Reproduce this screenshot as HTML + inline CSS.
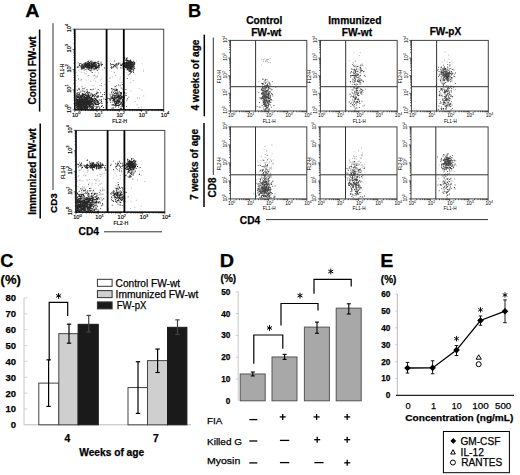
<!DOCTYPE html>
<html><head><meta charset="utf-8"><style>
html,body{margin:0;padding:0;background:#fff;width:520px;height:475px;overflow:hidden}
svg{display:block;font-family:"Liberation Sans",sans-serif}
</style></head><body>
<svg width="520" height="475" viewBox="0 0 520 475">
<rect width="520" height="475" fill="#fff"/>
<text x="25.3" y="16.6" font-size="18.2" font-weight="bold" text-anchor="start" fill="#000"  textLength="14.2" lengthAdjust="spacingAndGlyphs" stroke="#000" stroke-width="0.25">A</text>
<text transform="translate(35.6,70.5) rotate(-90)" font-size="10.0" font-weight="bold" text-anchor="middle" fill="#000"  stroke="#000" stroke-width="0.25">Control FW-wt</text>
<text transform="translate(35.6,171.6) rotate(-90)" font-size="10.2" font-weight="bold" text-anchor="middle" fill="#000"  stroke="#000" stroke-width="0.25">Immunized FW-wt</text>
<line x1="39.6" y1="29.5" x2="39.6" y2="111.6" stroke="#000" stroke-width="1.5" />
<line x1="40.2" y1="123.5" x2="40.2" y2="218.4" stroke="#000" stroke-width="1.5" />
<line x1="53" y1="23.2" x2="53" y2="190" stroke="#333" stroke-width="1.0" />
<text transform="translate(56.6,203.1) rotate(-90)" font-size="9.8" font-weight="bold" text-anchor="middle" fill="#000"  stroke="#000" stroke-width="0.25">CD3</text>
<text x="88.8" y="235.0" font-size="10.2" font-weight="bold" text-anchor="middle" fill="#000"  stroke="#000" stroke-width="0.25">CD4</text>
<line x1="104" y1="231.8" x2="162" y2="231.8" stroke="#333" stroke-width="1.0" />
<path d="M85.7 73.0h0.9v0.9h-0.9zM101.1 83.0h0.9v0.9h-0.9zM100.7 85.0h0.9v0.9h-0.9zM77.9 70.2h0.9v0.9h-0.9zM80.9 79.0h0.9v0.9h-0.9zM80.7 78.5h0.9v0.9h-0.9zM102.2 69.6h0.9v0.9h-0.9zM78.0 88.1h0.9v0.9h-0.9zM96.9 76.0h0.9v0.9h-0.9zM78.0 78.2h0.9v0.9h-0.9zM95.8 76.6h0.9v0.9h-0.9zM90.4 80.8h0.9v0.9h-0.9zM101.5 85.6h0.9v0.9h-0.9zM85.8 79.7h0.9v0.9h-0.9zM79.4 90.4h0.9v0.9h-0.9zM81.3 72.2h0.9v0.9h-0.9zM85.2 86.9h0.9v0.9h-0.9zM91.0 69.5h0.9v0.9h-0.9zM92.6 88.9h0.9v0.9h-0.9zM96.9 74.7h0.9v0.9h-0.9zM78.0 79.1h0.9v0.9h-0.9zM81.9 94.6h0.9v0.9h-0.9zM95.4 77.4h0.9v0.9h-0.9zM99.5 85.2h0.9v0.9h-0.9zM77.0 75.0h0.9v0.9h-0.9zM83.2 93.6h0.9v0.9h-0.9zM94.2 74.2h0.9v0.9h-0.9zM100.2 79.5h0.9v0.9h-0.9zM104.4 83.9h0.9v0.9h-0.9zM76.2 79.9h0.9v0.9h-0.9zM95.1 80.7h0.9v0.9h-0.9zM94.8 71.7h0.9v0.9h-0.9zM76.2 71.7h0.9v0.9h-0.9zM94.2 75.1h0.9v0.9h-0.9zM99.3 90.2h0.9v0.9h-0.9zM79.5 70.7h0.9v0.9h-0.9zM95.0 87.8h0.9v0.9h-0.9zM101.4 78.5h0.9v0.9h-0.9zM76.6 89.3h0.9v0.9h-0.9zM93.0 94.6h0.9v0.9h-0.9zM84.6 69.5h0.9v0.9h-0.9zM77.4 92.7h0.9v0.9h-0.9zM86.0 71.2h0.9v0.9h-0.9zM76.6 86.2h0.9v0.9h-0.9zM86.2 88.9h0.9v0.9h-0.9zM93.3 75.3h0.9v0.9h-0.9zM93.3 79.7h0.9v0.9h-0.9zM95.1 75.7h0.9v0.9h-0.9zM84.5 73.7h0.9v0.9h-0.9zM79.7 79.9h0.9v0.9h-0.9zM93.5 84.8h0.9v0.9h-0.9zM81.3 79.5h0.9v0.9h-0.9zM88.4 75.0h0.9v0.9h-0.9zM93.7 78.3h0.9v0.9h-0.9zM78.6 87.4h0.9v0.9h-0.9zM80.8 78.6h0.9v0.9h-0.9zM98.0 72.6h0.9v0.9h-0.9zM91.7 84.9h0.9v0.9h-0.9zM83.6 72.2h0.9v0.9h-0.9zM87.5 75.4h0.9v0.9h-0.9zM114.1 72.1h0.9v0.9h-0.9zM114.3 88.2h0.9v0.9h-0.9zM108.7 81.0h0.9v0.9h-0.9zM114.5 86.6h0.9v0.9h-0.9zM119.5 78.5h0.9v0.9h-0.9zM112.2 88.6h0.9v0.9h-0.9zM120.3 87.4h0.9v0.9h-0.9zM109.8 77.3h0.9v0.9h-0.9zM115.2 75.3h0.9v0.9h-0.9zM111.8 75.9h0.9v0.9h-0.9zM111.0 88.9h0.9v0.9h-0.9zM121.4 82.0h0.9v0.9h-0.9zM116.7 89.6h0.9v0.9h-0.9zM115.7 84.9h0.9v0.9h-0.9zM109.1 77.9h0.9v0.9h-0.9zM111.3 70.9h0.9v0.9h-0.9zM120.6 84.3h0.9v0.9h-0.9zM113.6 71.7h0.9v0.9h-0.9zM119.9 76.5h0.9v0.9h-0.9zM119.7 81.7h0.9v0.9h-0.9zM138.7 88.2h0.9v0.9h-0.9zM143.0 70.9h0.9v0.9h-0.9zM141.4 89.5h0.9v0.9h-0.9zM138.3 107.0h0.9v0.9h-0.9zM126.4 72.2h0.9v0.9h-0.9zM138.8 97.5h0.9v0.9h-0.9zM130.3 82.1h0.9v0.9h-0.9zM141.2 106.5h0.9v0.9h-0.9zM143.2 69.4h0.9v0.9h-0.9zM132.6 80.1h0.9v0.9h-0.9zM134.5 101.0h0.9v0.9h-0.9zM134.5 73.5h0.9v0.9h-0.9zM137.1 97.5h0.9v0.9h-0.9zM136.7 104.3h0.9v0.9h-0.9zM143.4 95.5h0.9v0.9h-0.9zM141.7 63.4h0.9v0.9h-0.9zM136.2 60.4h0.9v0.9h-0.9zM130.6 90.4h0.9v0.9h-0.9z" fill="#888" fill-opacity="0.7"/>
<path d="M89.7 67.8h0.9v0.9h-0.9zM96.2 64.2h0.9v0.9h-0.9zM87.9 64.2h0.9v0.9h-0.9zM92.6 65.1h0.9v0.9h-0.9zM93.6 61.7h0.9v0.9h-0.9zM98.1 65.0h0.9v0.9h-0.9zM93.2 64.9h0.9v0.9h-0.9zM87.4 66.1h0.9v0.9h-0.9zM94.0 64.8h0.9v0.9h-0.9zM88.7 66.5h0.9v0.9h-0.9zM84.7 62.3h0.9v0.9h-0.9zM91.7 63.9h0.9v0.9h-0.9zM78.9 63.7h0.9v0.9h-0.9zM86.9 62.9h0.9v0.9h-0.9zM81.3 65.3h0.9v0.9h-0.9zM94.4 64.8h0.9v0.9h-0.9zM85.4 65.9h0.9v0.9h-0.9zM93.4 64.6h0.9v0.9h-0.9zM92.5 67.2h0.9v0.9h-0.9zM88.4 63.7h0.9v0.9h-0.9zM91.4 65.7h0.9v0.9h-0.9zM95.5 62.8h0.9v0.9h-0.9zM85.9 63.6h0.9v0.9h-0.9zM80.0 65.4h0.9v0.9h-0.9zM92.4 63.8h0.9v0.9h-0.9zM97.1 66.8h0.9v0.9h-0.9zM93.0 66.0h0.9v0.9h-0.9zM94.8 62.7h0.9v0.9h-0.9zM92.9 66.3h0.9v0.9h-0.9zM79.8 65.9h0.9v0.9h-0.9zM88.1 66.7h0.9v0.9h-0.9zM87.1 65.2h0.9v0.9h-0.9zM91.4 63.5h0.9v0.9h-0.9zM92.8 65.0h0.9v0.9h-0.9zM92.2 64.2h0.9v0.9h-0.9zM95.5 66.3h0.9v0.9h-0.9zM88.5 66.4h0.9v0.9h-0.9zM96.4 68.6h0.9v0.9h-0.9zM80.8 66.9h0.9v0.9h-0.9zM92.1 65.0h0.9v0.9h-0.9zM84.0 67.6h0.9v0.9h-0.9zM82.6 66.3h0.9v0.9h-0.9zM96.7 62.2h0.9v0.9h-0.9zM87.8 62.7h0.9v0.9h-0.9zM90.8 68.1h0.9v0.9h-0.9zM100.6 61.8h0.9v0.9h-0.9zM86.3 66.5h0.9v0.9h-0.9zM98.2 66.0h0.9v0.9h-0.9zM85.4 65.8h0.9v0.9h-0.9zM89.4 64.8h0.9v0.9h-0.9zM85.5 65.9h0.9v0.9h-0.9zM91.2 65.0h0.9v0.9h-0.9zM88.3 62.8h0.9v0.9h-0.9zM86.8 67.5h0.9v0.9h-0.9zM88.5 62.5h0.9v0.9h-0.9zM96.8 66.2h0.9v0.9h-0.9zM101.1 65.3h0.9v0.9h-0.9zM87.0 62.4h0.9v0.9h-0.9zM96.8 70.1h0.9v0.9h-0.9zM85.0 64.0h0.9v0.9h-0.9zM92.8 63.6h0.9v0.9h-0.9zM88.0 64.5h0.9v0.9h-0.9zM90.6 67.3h0.9v0.9h-0.9zM89.6 66.9h0.9v0.9h-0.9zM87.2 65.8h0.9v0.9h-0.9zM77.7 62.4h0.9v0.9h-0.9zM93.9 64.1h0.9v0.9h-0.9zM92.7 66.2h0.9v0.9h-0.9zM96.8 66.7h0.9v0.9h-0.9zM95.1 65.0h0.9v0.9h-0.9zM85.7 63.8h0.9v0.9h-0.9zM86.8 63.1h0.9v0.9h-0.9zM86.5 65.0h0.9v0.9h-0.9zM90.9 64.6h0.9v0.9h-0.9zM78.9 65.1h0.9v0.9h-0.9zM90.7 67.3h0.9v0.9h-0.9zM92.7 64.0h0.9v0.9h-0.9zM85.5 69.0h0.9v0.9h-0.9zM93.7 68.7h0.9v0.9h-0.9zM101.2 63.6h0.9v0.9h-0.9zM91.6 66.1h0.9v0.9h-0.9zM92.6 66.2h0.9v0.9h-0.9zM90.6 65.5h0.9v0.9h-0.9zM81.2 64.9h0.9v0.9h-0.9zM85.4 65.4h0.9v0.9h-0.9zM86.9 66.4h0.9v0.9h-0.9zM94.0 65.8h0.9v0.9h-0.9zM91.2 65.4h0.9v0.9h-0.9zM87.0 64.9h0.9v0.9h-0.9zM86.8 65.9h0.9v0.9h-0.9zM89.6 66.3h0.9v0.9h-0.9zM82.2 66.9h0.9v0.9h-0.9zM85.3 63.8h0.9v0.9h-0.9zM88.4 64.1h0.9v0.9h-0.9zM91.1 64.1h0.9v0.9h-0.9zM83.6 63.6h0.9v0.9h-0.9zM96.7 65.3h0.9v0.9h-0.9zM83.1 65.2h0.9v0.9h-0.9zM80.9 68.6h0.9v0.9h-0.9zM81.1 66.1h0.9v0.9h-0.9zM92.5 62.4h0.9v0.9h-0.9zM91.2 67.1h0.9v0.9h-0.9zM92.1 65.7h0.9v0.9h-0.9zM94.7 65.5h0.9v0.9h-0.9zM91.4 65.0h0.9v0.9h-0.9zM93.0 63.4h0.9v0.9h-0.9zM93.9 64.2h0.9v0.9h-0.9zM83.5 65.9h0.9v0.9h-0.9zM98.8 67.0h0.9v0.9h-0.9zM86.7 66.5h0.9v0.9h-0.9zM87.0 65.0h0.9v0.9h-0.9zM90.0 60.8h0.9v0.9h-0.9zM90.6 63.2h0.9v0.9h-0.9zM85.7 62.4h0.9v0.9h-0.9zM81.2 63.4h0.9v0.9h-0.9zM94.0 68.4h0.9v0.9h-0.9zM89.4 67.3h0.9v0.9h-0.9zM88.0 61.6h0.9v0.9h-0.9zM90.3 66.0h0.9v0.9h-0.9zM87.1 65.8h0.9v0.9h-0.9zM92.6 63.6h0.9v0.9h-0.9zM81.4 64.8h0.9v0.9h-0.9zM88.3 64.5h0.9v0.9h-0.9zM94.9 68.5h0.9v0.9h-0.9zM87.2 66.5h0.9v0.9h-0.9zM94.7 66.6h0.9v0.9h-0.9zM95.3 64.5h0.9v0.9h-0.9zM93.6 69.0h0.9v0.9h-0.9zM93.9 64.0h0.9v0.9h-0.9zM92.8 67.6h0.9v0.9h-0.9zM91.5 64.1h0.9v0.9h-0.9zM98.0 62.8h0.9v0.9h-0.9zM92.3 65.2h0.9v0.9h-0.9zM82.9 67.5h0.9v0.9h-0.9zM91.4 63.0h0.9v0.9h-0.9zM92.8 64.4h0.9v0.9h-0.9zM79.0 63.9h0.9v0.9h-0.9zM90.9 66.4h0.9v0.9h-0.9zM90.4 65.3h0.9v0.9h-0.9zM92.1 64.8h0.9v0.9h-0.9zM96.0 65.5h0.9v0.9h-0.9zM91.1 66.2h0.9v0.9h-0.9zM83.7 63.9h0.9v0.9h-0.9zM97.9 65.8h0.9v0.9h-0.9zM87.9 65.8h0.9v0.9h-0.9zM86.9 65.7h0.9v0.9h-0.9zM85.8 65.7h0.9v0.9h-0.9zM80.8 67.7h0.9v0.9h-0.9zM86.7 62.2h0.9v0.9h-0.9zM88.3 64.5h0.9v0.9h-0.9zM90.3 63.0h0.9v0.9h-0.9zM91.7 72.1h0.9v0.9h-0.9zM82.5 65.8h0.9v0.9h-0.9zM87.8 65.6h0.9v0.9h-0.9zM79.5 63.0h0.9v0.9h-0.9zM92.0 65.1h0.9v0.9h-0.9zM98.5 63.9h0.9v0.9h-0.9zM90.5 70.7h0.9v0.9h-0.9zM85.3 63.5h0.9v0.9h-0.9zM89.3 65.1h0.9v0.9h-0.9zM94.1 65.4h0.9v0.9h-0.9zM85.3 65.6h0.9v0.9h-0.9zM104.0 67.6h0.9v0.9h-0.9zM84.7 66.4h0.9v0.9h-0.9zM88.5 68.9h0.9v0.9h-0.9zM94.6 66.9h0.9v0.9h-0.9zM90.5 65.1h0.9v0.9h-0.9zM91.4 67.7h0.9v0.9h-0.9zM92.4 64.5h0.9v0.9h-0.9zM96.5 65.6h0.9v0.9h-0.9zM89.1 63.7h0.9v0.9h-0.9zM86.4 64.0h0.9v0.9h-0.9zM92.6 64.8h0.9v0.9h-0.9zM95.3 66.0h0.9v0.9h-0.9zM91.5 60.5h0.9v0.9h-0.9zM88.2 66.2h0.9v0.9h-0.9zM98.4 68.7h0.9v0.9h-0.9zM97.3 63.0h0.9v0.9h-0.9zM77.4 66.3h0.9v0.9h-0.9zM89.7 67.0h0.9v0.9h-0.9zM88.8 65.6h0.9v0.9h-0.9zM81.3 66.1h0.9v0.9h-0.9zM87.1 65.9h0.9v0.9h-0.9zM92.0 65.0h0.9v0.9h-0.9zM91.2 65.2h0.9v0.9h-0.9zM93.7 66.2h0.9v0.9h-0.9zM86.5 64.1h0.9v0.9h-0.9zM99.1 65.0h0.9v0.9h-0.9zM95.0 65.9h0.9v0.9h-0.9zM86.4 63.8h0.9v0.9h-0.9zM90.2 65.7h0.9v0.9h-0.9zM92.9 62.8h0.9v0.9h-0.9zM86.2 65.0h0.9v0.9h-0.9zM98.3 60.7h0.9v0.9h-0.9zM91.9 64.2h0.9v0.9h-0.9zM91.9 64.3h0.9v0.9h-0.9zM91.5 68.2h0.9v0.9h-0.9zM91.4 66.0h0.9v0.9h-0.9zM91.6 63.8h0.9v0.9h-0.9zM92.5 64.8h0.9v0.9h-0.9zM85.0 65.1h0.9v0.9h-0.9zM88.2 66.6h0.9v0.9h-0.9zM89.3 64.2h0.9v0.9h-0.9zM97.5 67.1h0.9v0.9h-0.9zM96.5 66.4h0.9v0.9h-0.9zM88.9 64.4h0.9v0.9h-0.9zM88.0 67.0h0.9v0.9h-0.9zM90.1 62.4h0.9v0.9h-0.9zM89.3 62.5h0.9v0.9h-0.9zM90.4 62.9h0.9v0.9h-0.9zM82.5 65.4h0.9v0.9h-0.9zM89.1 62.0h0.9v0.9h-0.9zM93.6 69.3h0.9v0.9h-0.9zM81.4 68.7h0.9v0.9h-0.9zM85.7 64.3h0.9v0.9h-0.9zM88.5 62.5h0.9v0.9h-0.9zM96.6 66.1h0.9v0.9h-0.9zM85.4 64.7h0.9v0.9h-0.9zM81.2 64.5h0.9v0.9h-0.9zM94.6 61.9h0.9v0.9h-0.9zM87.1 65.5h0.9v0.9h-0.9zM95.3 67.8h0.9v0.9h-0.9zM87.0 63.8h0.9v0.9h-0.9zM92.0 64.5h0.9v0.9h-0.9zM87.8 67.3h0.9v0.9h-0.9zM98.8 65.7h0.9v0.9h-0.9zM88.4 66.3h0.9v0.9h-0.9zM79.1 65.2h0.9v0.9h-0.9zM83.7 69.7h0.9v0.9h-0.9zM93.5 65.5h0.9v0.9h-0.9zM88.4 60.4h0.9v0.9h-0.9zM93.4 68.3h0.9v0.9h-0.9zM85.5 66.5h0.9v0.9h-0.9zM93.5 62.3h0.9v0.9h-0.9zM94.6 67.8h0.9v0.9h-0.9zM90.8 65.1h0.9v0.9h-0.9zM93.8 62.3h0.9v0.9h-0.9zM90.0 67.2h0.9v0.9h-0.9zM82.7 67.1h0.9v0.9h-0.9zM87.2 61.2h0.9v0.9h-0.9zM88.9 63.4h0.9v0.9h-0.9zM91.3 63.0h0.9v0.9h-0.9zM95.3 63.8h0.9v0.9h-0.9zM91.5 64.1h0.9v0.9h-0.9zM87.7 67.5h0.9v0.9h-0.9zM90.7 64.4h0.9v0.9h-0.9zM82.6 67.4h0.9v0.9h-0.9zM93.5 64.6h0.9v0.9h-0.9zM90.8 63.2h0.9v0.9h-0.9zM83.9 63.6h0.9v0.9h-0.9zM91.4 65.8h0.9v0.9h-0.9zM85.4 66.6h0.9v0.9h-0.9zM93.8 65.5h0.9v0.9h-0.9zM95.2 64.7h0.9v0.9h-0.9zM88.9 66.1h0.9v0.9h-0.9zM89.3 66.7h0.9v0.9h-0.9zM82.6 67.9h0.9v0.9h-0.9zM85.2 64.9h0.9v0.9h-0.9zM81.9 66.3h0.9v0.9h-0.9zM96.5 67.2h0.9v0.9h-0.9zM94.1 62.2h0.9v0.9h-0.9zM85.2 64.3h0.9v0.9h-0.9zM84.4 67.3h0.9v0.9h-0.9zM90.5 65.2h0.9v0.9h-0.9zM92.2 63.4h0.9v0.9h-0.9zM84.5 63.5h0.9v0.9h-0.9zM92.2 65.8h0.9v0.9h-0.9zM92.7 67.2h0.9v0.9h-0.9zM82.0 64.1h0.9v0.9h-0.9zM90.3 62.6h0.9v0.9h-0.9zM86.6 67.1h0.9v0.9h-0.9zM95.6 67.2h0.9v0.9h-0.9zM89.7 64.8h0.9v0.9h-0.9zM95.4 64.5h0.9v0.9h-0.9zM91.4 67.7h0.9v0.9h-0.9zM87.5 64.0h0.9v0.9h-0.9zM89.4 66.3h0.9v0.9h-0.9zM92.2 65.5h0.9v0.9h-0.9zM92.6 62.2h0.9v0.9h-0.9zM84.8 65.5h0.9v0.9h-0.9zM84.4 62.7h0.9v0.9h-0.9zM82.9 63.5h0.9v0.9h-0.9zM88.5 63.3h0.9v0.9h-0.9zM90.8 68.4h0.9v0.9h-0.9zM88.7 67.6h0.9v0.9h-0.9zM91.1 63.1h0.9v0.9h-0.9zM88.1 63.3h0.9v0.9h-0.9zM93.7 63.0h0.9v0.9h-0.9zM96.8 66.3h0.9v0.9h-0.9zM78.4 66.7h0.9v0.9h-0.9zM98.0 63.7h0.9v0.9h-0.9zM94.9 61.8h0.9v0.9h-0.9zM90.9 62.0h0.9v0.9h-0.9zM92.2 61.8h0.9v0.9h-0.9zM102.1 64.1h0.9v0.9h-0.9zM94.1 65.4h0.9v0.9h-0.9zM87.7 66.4h0.9v0.9h-0.9zM98.5 62.9h0.9v0.9h-0.9zM92.6 65.9h0.9v0.9h-0.9zM81.7 68.3h0.9v0.9h-0.9zM100.2 63.4h0.9v0.9h-0.9zM99.1 65.3h0.9v0.9h-0.9zM88.6 68.1h0.9v0.9h-0.9zM90.8 65.8h0.9v0.9h-0.9zM97.8 67.6h0.9v0.9h-0.9zM94.4 62.5h0.9v0.9h-0.9zM80.9 67.3h0.9v0.9h-0.9zM84.4 65.5h0.9v0.9h-0.9zM83.6 64.9h0.9v0.9h-0.9zM82.5 68.3h0.9v0.9h-0.9zM83.9 65.0h0.9v0.9h-0.9zM88.5 67.5h0.9v0.9h-0.9zM81.7 65.1h0.9v0.9h-0.9zM88.3 66.2h0.9v0.9h-0.9zM92.1 64.3h0.9v0.9h-0.9zM90.8 64.5h0.9v0.9h-0.9zM92.1 65.0h0.9v0.9h-0.9zM85.9 65.1h0.9v0.9h-0.9zM91.5 69.5h0.9v0.9h-0.9zM86.8 65.8h0.9v0.9h-0.9zM97.5 61.3h0.9v0.9h-0.9zM79.9 62.9h0.9v0.9h-0.9zM88.9 69.8h0.9v0.9h-0.9zM91.7 67.5h0.9v0.9h-0.9zM88.3 60.5h0.9v0.9h-0.9zM76.8 67.1h0.9v0.9h-0.9zM90.5 62.7h0.9v0.9h-0.9zM95.6 62.3h0.9v0.9h-0.9zM95.7 68.0h0.9v0.9h-0.9zM85.3 63.1h0.9v0.9h-0.9zM94.1 63.1h0.9v0.9h-0.9zM94.2 62.9h0.9v0.9h-0.9zM93.9 65.4h0.9v0.9h-0.9zM87.1 63.5h0.9v0.9h-0.9zM90.8 61.6h0.9v0.9h-0.9zM88.0 64.4h0.9v0.9h-0.9zM93.2 62.8h0.9v0.9h-0.9zM98.9 64.6h0.9v0.9h-0.9zM83.2 67.8h0.9v0.9h-0.9zM98.6 64.8h0.9v0.9h-0.9zM84.6 65.2h0.9v0.9h-0.9zM85.7 64.6h0.9v0.9h-0.9zM98.1 65.9h0.9v0.9h-0.9zM90.3 65.9h0.9v0.9h-0.9zM89.2 66.8h0.9v0.9h-0.9zM94.3 64.5h0.9v0.9h-0.9zM90.1 69.8h0.9v0.9h-0.9zM91.8 64.8h0.9v0.9h-0.9zM100.8 65.2h0.9v0.9h-0.9zM83.5 66.5h0.9v0.9h-0.9zM84.6 64.3h0.9v0.9h-0.9zM91.3 65.0h0.9v0.9h-0.9zM85.3 64.2h0.9v0.9h-0.9zM86.2 67.4h0.9v0.9h-0.9zM85.5 64.1h0.9v0.9h-0.9zM100.7 64.1h0.9v0.9h-0.9zM97.7 67.7h0.9v0.9h-0.9zM88.7 62.5h0.9v0.9h-0.9zM92.0 66.5h0.9v0.9h-0.9zM94.8 65.3h0.9v0.9h-0.9zM96.1 67.8h0.9v0.9h-0.9zM83.7 67.9h0.9v0.9h-0.9zM90.5 64.1h0.9v0.9h-0.9zM87.7 68.8h0.9v0.9h-0.9zM94.9 61.8h0.9v0.9h-0.9zM90.0 64.9h0.9v0.9h-0.9zM88.5 64.2h0.9v0.9h-0.9zM81.5 66.8h0.9v0.9h-0.9zM84.3 64.5h0.9v0.9h-0.9zM86.2 63.8h0.9v0.9h-0.9zM93.6 65.9h0.9v0.9h-0.9zM85.8 63.4h0.9v0.9h-0.9zM86.9 67.0h0.9v0.9h-0.9zM90.2 65.6h0.9v0.9h-0.9zM87.7 64.7h0.9v0.9h-0.9zM90.7 61.7h0.9v0.9h-0.9zM98.4 63.7h0.9v0.9h-0.9zM86.4 67.7h0.9v0.9h-0.9zM90.7 65.3h0.9v0.9h-0.9zM86.3 62.2h0.9v0.9h-0.9zM129.0 67.1h0.9v0.9h-0.9zM126.5 67.5h0.9v0.9h-0.9zM126.0 62.7h0.9v0.9h-0.9zM129.8 64.4h0.9v0.9h-0.9zM130.2 62.7h0.9v0.9h-0.9zM126.2 60.1h0.9v0.9h-0.9zM125.8 61.9h0.9v0.9h-0.9zM125.3 65.1h0.9v0.9h-0.9zM127.1 59.8h0.9v0.9h-0.9zM134.3 62.5h0.9v0.9h-0.9zM125.7 67.3h0.9v0.9h-0.9zM131.3 61.8h0.9v0.9h-0.9zM125.2 62.1h0.9v0.9h-0.9zM131.2 63.7h0.9v0.9h-0.9zM126.7 64.3h0.9v0.9h-0.9zM131.4 61.2h0.9v0.9h-0.9zM127.7 61.2h0.9v0.9h-0.9zM133.6 68.6h0.9v0.9h-0.9zM130.8 64.1h0.9v0.9h-0.9zM130.1 59.6h0.9v0.9h-0.9zM129.2 61.3h0.9v0.9h-0.9zM125.6 62.8h0.9v0.9h-0.9zM127.8 65.7h0.9v0.9h-0.9zM130.2 65.0h0.9v0.9h-0.9zM126.4 66.0h0.9v0.9h-0.9zM128.3 67.1h0.9v0.9h-0.9zM126.5 58.0h0.9v0.9h-0.9zM127.5 69.3h0.9v0.9h-0.9zM129.7 64.0h0.9v0.9h-0.9zM130.6 65.6h0.9v0.9h-0.9zM129.7 63.2h0.9v0.9h-0.9zM128.8 64.9h0.9v0.9h-0.9zM127.1 61.8h0.9v0.9h-0.9zM128.9 66.6h0.9v0.9h-0.9zM130.1 65.5h0.9v0.9h-0.9zM129.8 70.3h0.9v0.9h-0.9zM129.2 66.8h0.9v0.9h-0.9zM133.1 64.5h0.9v0.9h-0.9zM129.2 66.8h0.9v0.9h-0.9zM132.5 65.1h0.9v0.9h-0.9zM129.4 64.6h0.9v0.9h-0.9zM125.8 67.0h0.9v0.9h-0.9zM128.0 60.4h0.9v0.9h-0.9zM128.3 60.4h0.9v0.9h-0.9zM126.3 64.4h0.9v0.9h-0.9zM126.5 66.9h0.9v0.9h-0.9zM125.2 65.0h0.9v0.9h-0.9zM129.9 67.8h0.9v0.9h-0.9zM130.7 65.0h0.9v0.9h-0.9zM128.8 64.3h0.9v0.9h-0.9zM131.2 62.9h0.9v0.9h-0.9zM129.8 64.2h0.9v0.9h-0.9zM129.2 63.8h0.9v0.9h-0.9zM133.5 62.9h0.9v0.9h-0.9zM129.2 65.1h0.9v0.9h-0.9zM130.0 65.5h0.9v0.9h-0.9zM129.6 66.7h0.9v0.9h-0.9zM125.2 64.4h0.9v0.9h-0.9zM125.8 65.0h0.9v0.9h-0.9zM125.9 62.2h0.9v0.9h-0.9zM128.5 67.6h0.9v0.9h-0.9zM130.0 65.1h0.9v0.9h-0.9zM131.9 62.3h0.9v0.9h-0.9zM123.8 63.5h0.9v0.9h-0.9zM128.0 67.3h0.9v0.9h-0.9zM133.6 61.4h0.9v0.9h-0.9zM134.3 68.0h0.9v0.9h-0.9zM130.6 65.3h0.9v0.9h-0.9zM134.2 64.6h0.9v0.9h-0.9zM127.5 64.8h0.9v0.9h-0.9zM125.5 65.5h0.9v0.9h-0.9zM128.4 65.2h0.9v0.9h-0.9zM129.5 62.0h0.9v0.9h-0.9zM131.7 62.1h0.9v0.9h-0.9zM130.7 60.8h0.9v0.9h-0.9zM129.5 62.5h0.9v0.9h-0.9zM128.7 62.9h0.9v0.9h-0.9zM123.6 61.9h0.9v0.9h-0.9zM128.8 65.9h0.9v0.9h-0.9zM125.3 59.5h0.9v0.9h-0.9zM126.6 63.9h0.9v0.9h-0.9zM127.2 62.6h0.9v0.9h-0.9zM130.6 66.7h0.9v0.9h-0.9zM130.3 62.3h0.9v0.9h-0.9zM128.8 64.0h0.9v0.9h-0.9zM125.4 66.5h0.9v0.9h-0.9zM128.8 63.3h0.9v0.9h-0.9zM131.9 66.2h0.9v0.9h-0.9zM130.6 67.2h0.9v0.9h-0.9zM130.3 61.5h0.9v0.9h-0.9zM127.7 66.7h0.9v0.9h-0.9zM126.9 64.5h0.9v0.9h-0.9zM129.5 67.7h0.9v0.9h-0.9zM131.6 66.5h0.9v0.9h-0.9zM128.2 66.5h0.9v0.9h-0.9zM129.8 64.1h0.9v0.9h-0.9zM131.8 65.6h0.9v0.9h-0.9zM126.9 67.3h0.9v0.9h-0.9zM128.0 65.8h0.9v0.9h-0.9zM125.1 64.4h0.9v0.9h-0.9zM126.5 62.2h0.9v0.9h-0.9zM124.2 69.4h0.9v0.9h-0.9zM128.3 65.0h0.9v0.9h-0.9zM131.2 64.1h0.9v0.9h-0.9zM129.8 61.3h0.9v0.9h-0.9zM129.1 63.5h0.9v0.9h-0.9zM129.8 64.8h0.9v0.9h-0.9zM125.4 60.2h0.9v0.9h-0.9zM126.3 66.1h0.9v0.9h-0.9zM129.6 65.3h0.9v0.9h-0.9zM124.0 58.2h0.9v0.9h-0.9zM127.2 63.7h0.9v0.9h-0.9zM127.2 65.2h0.9v0.9h-0.9zM128.2 61.7h0.9v0.9h-0.9zM126.6 64.7h0.9v0.9h-0.9zM128.8 64.2h0.9v0.9h-0.9zM133.8 63.8h0.9v0.9h-0.9zM128.9 62.1h0.9v0.9h-0.9zM127.8 65.6h0.9v0.9h-0.9zM129.9 64.0h0.9v0.9h-0.9zM129.5 64.5h0.9v0.9h-0.9zM124.3 56.9h0.9v0.9h-0.9zM133.9 66.3h0.9v0.9h-0.9zM128.5 60.4h0.9v0.9h-0.9zM125.7 67.5h0.9v0.9h-0.9zM122.2 63.7h0.9v0.9h-0.9zM130.6 64.7h0.9v0.9h-0.9zM130.3 64.1h0.9v0.9h-0.9zM134.1 62.0h0.9v0.9h-0.9zM125.5 65.0h0.9v0.9h-0.9zM131.9 64.3h0.9v0.9h-0.9zM131.0 63.2h0.9v0.9h-0.9zM125.9 67.6h0.9v0.9h-0.9zM132.2 67.9h0.9v0.9h-0.9zM127.6 61.7h0.9v0.9h-0.9zM125.9 63.9h0.9v0.9h-0.9zM129.9 65.6h0.9v0.9h-0.9zM125.3 64.8h0.9v0.9h-0.9zM128.6 64.6h0.9v0.9h-0.9zM128.5 63.9h0.9v0.9h-0.9zM130.0 64.7h0.9v0.9h-0.9zM129.1 62.8h0.9v0.9h-0.9zM129.5 64.1h0.9v0.9h-0.9zM123.7 65.5h0.9v0.9h-0.9zM128.0 66.5h0.9v0.9h-0.9zM128.2 64.2h0.9v0.9h-0.9zM129.1 64.4h0.9v0.9h-0.9zM127.6 60.3h0.9v0.9h-0.9zM132.8 60.8h0.9v0.9h-0.9zM127.8 65.9h0.9v0.9h-0.9zM129.5 65.7h0.9v0.9h-0.9zM130.4 67.3h0.9v0.9h-0.9zM129.3 71.1h0.9v0.9h-0.9zM126.3 64.9h0.9v0.9h-0.9zM127.8 63.1h0.9v0.9h-0.9zM129.3 67.8h0.9v0.9h-0.9zM127.0 62.8h0.9v0.9h-0.9zM130.3 65.7h0.9v0.9h-0.9zM133.1 66.8h0.9v0.9h-0.9zM129.1 63.6h0.9v0.9h-0.9zM129.1 64.0h0.9v0.9h-0.9zM125.5 64.4h0.9v0.9h-0.9zM128.2 63.9h0.9v0.9h-0.9zM127.6 68.3h0.9v0.9h-0.9zM130.2 66.6h0.9v0.9h-0.9zM127.2 62.0h0.9v0.9h-0.9zM127.9 65.0h0.9v0.9h-0.9zM127.8 64.0h0.9v0.9h-0.9zM130.8 65.1h0.9v0.9h-0.9zM126.3 63.4h0.9v0.9h-0.9zM127.1 64.8h0.9v0.9h-0.9zM125.9 64.0h0.9v0.9h-0.9zM130.2 64.5h0.9v0.9h-0.9zM126.5 63.0h0.9v0.9h-0.9zM128.9 65.5h0.9v0.9h-0.9zM130.5 64.1h0.9v0.9h-0.9zM125.6 67.7h0.9v0.9h-0.9zM129.3 65.3h0.9v0.9h-0.9zM129.3 62.0h0.9v0.9h-0.9zM127.9 65.0h0.9v0.9h-0.9zM131.0 64.5h0.9v0.9h-0.9zM121.4 63.8h0.9v0.9h-0.9zM129.4 67.4h0.9v0.9h-0.9zM130.2 70.1h0.9v0.9h-0.9zM131.9 67.5h0.9v0.9h-0.9zM130.8 61.2h0.9v0.9h-0.9zM130.5 65.8h0.9v0.9h-0.9zM127.4 65.7h0.9v0.9h-0.9zM129.6 63.3h0.9v0.9h-0.9zM128.3 63.8h0.9v0.9h-0.9zM129.1 63.4h0.9v0.9h-0.9zM129.9 60.0h0.9v0.9h-0.9zM128.0 60.5h0.9v0.9h-0.9zM127.5 65.6h0.9v0.9h-0.9zM128.6 64.1h0.9v0.9h-0.9zM128.8 68.0h0.9v0.9h-0.9zM126.1 66.4h0.9v0.9h-0.9zM125.1 63.3h0.9v0.9h-0.9zM129.0 62.4h0.9v0.9h-0.9zM129.1 66.1h0.9v0.9h-0.9zM125.9 64.2h0.9v0.9h-0.9zM127.7 59.9h0.9v0.9h-0.9zM128.2 62.6h0.9v0.9h-0.9zM131.7 62.4h0.9v0.9h-0.9zM132.5 63.2h0.9v0.9h-0.9zM133.1 65.6h0.9v0.9h-0.9zM129.6 66.3h0.9v0.9h-0.9zM130.7 67.6h0.9v0.9h-0.9zM132.6 63.6h0.9v0.9h-0.9zM125.7 58.3h0.9v0.9h-0.9zM127.7 66.1h0.9v0.9h-0.9zM129.5 64.7h0.9v0.9h-0.9zM127.8 62.9h0.9v0.9h-0.9zM127.9 65.3h0.9v0.9h-0.9zM124.5 66.1h0.9v0.9h-0.9zM125.2 64.0h0.9v0.9h-0.9zM127.1 63.6h0.9v0.9h-0.9zM126.2 61.7h0.9v0.9h-0.9zM128.1 61.9h0.9v0.9h-0.9zM134.2 63.4h0.9v0.9h-0.9zM127.1 63.1h0.9v0.9h-0.9zM126.1 58.7h0.9v0.9h-0.9zM128.0 65.1h0.9v0.9h-0.9zM125.1 64.4h0.9v0.9h-0.9zM125.8 64.3h0.9v0.9h-0.9zM129.4 65.5h0.9v0.9h-0.9zM129.6 62.8h0.9v0.9h-0.9zM130.6 63.4h0.9v0.9h-0.9zM129.4 66.0h0.9v0.9h-0.9zM127.9 61.4h0.9v0.9h-0.9zM130.0 61.8h0.9v0.9h-0.9zM126.5 61.8h0.9v0.9h-0.9zM130.5 64.0h0.9v0.9h-0.9zM123.4 66.1h0.9v0.9h-0.9zM133.3 68.5h0.9v0.9h-0.9zM127.3 64.6h0.9v0.9h-0.9zM129.7 66.4h0.9v0.9h-0.9zM128.7 61.9h0.9v0.9h-0.9zM130.3 65.8h0.9v0.9h-0.9zM125.5 63.5h0.9v0.9h-0.9zM129.2 64.4h0.9v0.9h-0.9zM129.8 66.2h0.9v0.9h-0.9zM129.8 64.1h0.9v0.9h-0.9zM125.5 65.8h0.9v0.9h-0.9zM131.8 68.9h0.9v0.9h-0.9zM128.5 64.3h0.9v0.9h-0.9zM131.9 67.7h0.9v0.9h-0.9zM129.4 66.0h0.9v0.9h-0.9zM126.8 65.7h0.9v0.9h-0.9zM126.7 64.0h0.9v0.9h-0.9zM128.3 63.3h0.9v0.9h-0.9zM123.7 62.5h0.9v0.9h-0.9zM129.3 64.2h0.9v0.9h-0.9zM127.7 65.4h0.9v0.9h-0.9zM130.2 66.3h0.9v0.9h-0.9zM126.7 64.4h0.9v0.9h-0.9zM127.8 62.3h0.9v0.9h-0.9zM125.1 64.1h0.9v0.9h-0.9zM126.6 69.3h0.9v0.9h-0.9zM128.3 63.8h0.9v0.9h-0.9zM127.6 68.7h0.9v0.9h-0.9zM126.4 64.0h0.9v0.9h-0.9zM126.8 64.1h0.9v0.9h-0.9zM128.5 66.9h0.9v0.9h-0.9zM125.3 64.3h0.9v0.9h-0.9zM132.3 63.2h0.9v0.9h-0.9zM128.2 62.3h0.9v0.9h-0.9zM122.5 64.1h0.9v0.9h-0.9zM131.3 63.3h0.9v0.9h-0.9zM124.3 65.0h0.9v0.9h-0.9zM128.7 66.7h0.9v0.9h-0.9zM130.7 63.7h0.9v0.9h-0.9zM129.5 60.2h0.9v0.9h-0.9zM131.1 64.8h0.9v0.9h-0.9zM131.1 66.8h0.9v0.9h-0.9zM127.9 64.0h0.9v0.9h-0.9zM126.5 59.6h0.9v0.9h-0.9zM128.3 64.7h0.9v0.9h-0.9zM126.1 66.0h0.9v0.9h-0.9zM128.8 65.4h0.9v0.9h-0.9zM126.8 60.3h0.9v0.9h-0.9zM130.4 65.8h0.9v0.9h-0.9zM128.3 63.4h0.9v0.9h-0.9zM127.9 64.0h0.9v0.9h-0.9zM127.4 59.7h0.9v0.9h-0.9zM130.4 60.9h0.9v0.9h-0.9zM127.8 63.7h0.9v0.9h-0.9zM129.2 60.7h0.9v0.9h-0.9zM131.3 65.9h0.9v0.9h-0.9zM130.3 67.3h0.9v0.9h-0.9zM126.7 57.2h0.9v0.9h-0.9zM129.3 67.4h0.9v0.9h-0.9zM131.2 63.1h0.9v0.9h-0.9zM128.4 65.0h0.9v0.9h-0.9zM124.4 62.8h0.9v0.9h-0.9zM127.1 68.0h0.9v0.9h-0.9zM127.1 68.0h0.9v0.9h-0.9zM128.6 60.5h0.9v0.9h-0.9zM133.7 62.2h0.9v0.9h-0.9zM130.0 68.3h0.9v0.9h-0.9zM127.4 61.6h0.9v0.9h-0.9zM131.0 64.6h0.9v0.9h-0.9zM125.8 61.9h0.9v0.9h-0.9zM127.7 66.6h0.9v0.9h-0.9zM127.9 65.9h0.9v0.9h-0.9zM132.4 67.3h0.9v0.9h-0.9zM131.9 67.2h0.9v0.9h-0.9zM124.9 67.2h0.9v0.9h-0.9zM129.4 64.1h0.9v0.9h-0.9zM126.1 60.7h0.9v0.9h-0.9zM126.0 64.4h0.9v0.9h-0.9zM125.9 62.5h0.9v0.9h-0.9zM127.2 65.9h0.9v0.9h-0.9zM127.9 64.1h0.9v0.9h-0.9zM131.7 63.7h0.9v0.9h-0.9zM130.0 62.0h0.9v0.9h-0.9zM129.4 64.7h0.9v0.9h-0.9zM129.0 63.3h0.9v0.9h-0.9zM126.2 63.7h0.9v0.9h-0.9zM127.5 66.8h0.9v0.9h-0.9zM130.7 61.6h0.9v0.9h-0.9zM130.0 63.3h0.9v0.9h-0.9zM129.7 63.3h0.9v0.9h-0.9zM125.2 66.7h0.9v0.9h-0.9zM129.6 61.6h0.9v0.9h-0.9zM124.2 63.2h0.9v0.9h-0.9zM125.9 63.6h0.9v0.9h-0.9zM130.0 67.8h0.9v0.9h-0.9zM127.8 67.6h0.9v0.9h-0.9zM131.3 63.4h0.9v0.9h-0.9zM124.8 66.4h0.9v0.9h-0.9zM130.0 69.8h0.9v0.9h-0.9zM131.9 66.2h0.9v0.9h-0.9zM132.5 62.0h0.9v0.9h-0.9zM129.1 63.8h0.9v0.9h-0.9zM132.6 65.7h0.9v0.9h-0.9zM121.6 67.6h0.9v0.9h-0.9zM126.5 66.2h0.9v0.9h-0.9zM127.5 65.0h0.9v0.9h-0.9zM130.1 64.9h0.9v0.9h-0.9zM126.4 67.6h0.9v0.9h-0.9zM129.5 64.4h0.9v0.9h-0.9zM130.3 63.2h0.9v0.9h-0.9zM133.0 65.0h0.9v0.9h-0.9zM129.5 65.2h0.9v0.9h-0.9zM126.5 61.7h0.9v0.9h-0.9zM129.1 65.3h0.9v0.9h-0.9zM131.7 65.5h0.9v0.9h-0.9zM126.1 65.7h0.9v0.9h-0.9zM130.5 66.8h0.9v0.9h-0.9zM129.4 61.6h0.9v0.9h-0.9zM131.3 62.8h0.9v0.9h-0.9zM130.0 60.8h0.9v0.9h-0.9zM130.4 62.6h0.9v0.9h-0.9zM131.1 68.5h0.9v0.9h-0.9zM131.3 61.8h0.9v0.9h-0.9zM126.5 62.4h0.9v0.9h-0.9zM130.2 65.2h0.9v0.9h-0.9zM129.0 65.2h0.9v0.9h-0.9zM130.0 65.9h0.9v0.9h-0.9zM132.5 64.3h0.9v0.9h-0.9zM129.1 60.2h0.9v0.9h-0.9zM125.6 62.8h0.9v0.9h-0.9zM125.9 64.9h0.9v0.9h-0.9zM131.0 63.4h0.9v0.9h-0.9zM127.5 63.2h0.9v0.9h-0.9zM128.9 63.2h0.9v0.9h-0.9zM129.6 65.1h0.9v0.9h-0.9zM129.4 66.2h0.9v0.9h-0.9zM128.7 64.7h0.9v0.9h-0.9zM132.7 64.3h0.9v0.9h-0.9zM130.4 64.5h0.9v0.9h-0.9zM127.5 63.3h0.9v0.9h-0.9zM126.7 64.4h0.9v0.9h-0.9zM127.2 63.4h0.9v0.9h-0.9zM131.4 64.1h0.9v0.9h-0.9zM131.2 65.0h0.9v0.9h-0.9zM130.6 63.0h0.9v0.9h-0.9zM128.9 70.5h0.9v0.9h-0.9zM130.5 66.7h0.9v0.9h-0.9zM130.1 71.2h0.9v0.9h-0.9zM126.6 65.2h0.9v0.9h-0.9zM130.6 71.1h0.9v0.9h-0.9zM128.5 67.5h0.9v0.9h-0.9zM128.6 67.5h0.9v0.9h-0.9zM126.5 63.2h0.9v0.9h-0.9zM129.3 62.1h0.9v0.9h-0.9zM127.0 65.8h0.9v0.9h-0.9zM126.8 69.0h0.9v0.9h-0.9zM128.3 67.9h0.9v0.9h-0.9zM126.9 65.5h0.9v0.9h-0.9zM130.7 69.4h0.9v0.9h-0.9zM128.3 69.4h0.9v0.9h-0.9zM129.9 68.7h0.9v0.9h-0.9zM133.4 66.7h0.9v0.9h-0.9zM130.5 69.6h0.9v0.9h-0.9zM128.8 64.0h0.9v0.9h-0.9zM131.2 69.0h0.9v0.9h-0.9zM129.5 68.2h0.9v0.9h-0.9zM129.5 64.9h0.9v0.9h-0.9zM130.1 61.8h0.9v0.9h-0.9zM129.3 62.8h0.9v0.9h-0.9zM128.5 70.6h0.9v0.9h-0.9zM128.7 66.4h0.9v0.9h-0.9zM130.7 67.1h0.9v0.9h-0.9zM128.4 66.7h0.9v0.9h-0.9zM133.2 70.3h0.9v0.9h-0.9zM130.6 63.9h0.9v0.9h-0.9zM130.9 63.5h0.9v0.9h-0.9zM130.6 64.1h0.9v0.9h-0.9zM134.2 62.1h0.9v0.9h-0.9zM132.4 70.8h0.9v0.9h-0.9zM124.9 67.1h0.9v0.9h-0.9zM133.0 72.0h0.9v0.9h-0.9zM125.2 66.2h0.9v0.9h-0.9zM126.4 64.4h0.9v0.9h-0.9zM127.7 74.4h0.9v0.9h-0.9zM129.7 67.2h0.9v0.9h-0.9zM128.5 70.3h0.9v0.9h-0.9zM131.1 64.8h0.9v0.9h-0.9zM133.0 64.2h0.9v0.9h-0.9zM128.6 69.6h0.9v0.9h-0.9zM133.6 66.8h0.9v0.9h-0.9zM130.1 72.5h0.9v0.9h-0.9zM130.9 71.9h0.9v0.9h-0.9zM131.9 68.9h0.9v0.9h-0.9zM130.9 71.2h0.9v0.9h-0.9zM129.3 73.6h0.9v0.9h-0.9zM124.4 64.8h0.9v0.9h-0.9zM132.9 69.5h0.9v0.9h-0.9zM127.7 69.3h0.9v0.9h-0.9zM132.1 66.0h0.9v0.9h-0.9zM131.3 67.5h0.9v0.9h-0.9zM129.1 67.7h0.9v0.9h-0.9zM132.1 64.1h0.9v0.9h-0.9zM128.4 70.3h0.9v0.9h-0.9zM126.3 62.4h0.9v0.9h-0.9zM130.8 68.0h0.9v0.9h-0.9zM129.0 68.5h0.9v0.9h-0.9zM126.9 78.2h0.9v0.9h-0.9zM112.3 64.1h0.9v0.9h-0.9zM110.8 64.1h0.9v0.9h-0.9zM121.1 65.1h0.9v0.9h-0.9zM117.9 64.0h0.9v0.9h-0.9zM122.1 65.4h0.9v0.9h-0.9zM111.4 66.8h0.9v0.9h-0.9zM114.5 66.4h0.9v0.9h-0.9zM116.3 65.6h0.9v0.9h-0.9zM116.3 63.1h0.9v0.9h-0.9zM110.5 67.2h0.9v0.9h-0.9zM115.3 65.7h0.9v0.9h-0.9zM114.2 60.6h0.9v0.9h-0.9zM111.3 68.1h0.9v0.9h-0.9zM113.0 64.2h0.9v0.9h-0.9zM110.6 63.9h0.9v0.9h-0.9zM114.5 64.6h0.9v0.9h-0.9zM115.5 63.7h0.9v0.9h-0.9zM113.8 65.0h0.9v0.9h-0.9zM116.9 64.7h0.9v0.9h-0.9zM121.9 65.5h0.9v0.9h-0.9zM116.3 63.6h0.9v0.9h-0.9zM119.4 62.8h0.9v0.9h-0.9zM110.1 62.9h0.9v0.9h-0.9zM117.9 62.5h0.9v0.9h-0.9zM120.3 65.0h0.9v0.9h-0.9zM110.4 64.5h0.9v0.9h-0.9zM122.0 63.2h0.9v0.9h-0.9zM111.2 66.2h0.9v0.9h-0.9zM120.3 67.3h0.9v0.9h-0.9zM114.6 65.5h0.9v0.9h-0.9zM116.9 67.6h0.9v0.9h-0.9zM123.3 64.8h0.9v0.9h-0.9zM120.3 64.3h0.9v0.9h-0.9zM117.8 63.0h0.9v0.9h-0.9zM113.1 66.0h0.9v0.9h-0.9zM112.6 67.0h0.9v0.9h-0.9zM113.8 65.2h0.9v0.9h-0.9zM115.5 64.3h0.9v0.9h-0.9zM116.2 67.4h0.9v0.9h-0.9zM126.6 62.4h0.9v0.9h-0.9zM82.6 101.6h0.9v0.9h-0.9zM89.2 92.3h0.9v0.9h-0.9zM82.2 104.7h0.9v0.9h-0.9zM83.0 100.7h0.9v0.9h-0.9zM89.0 95.9h0.9v0.9h-0.9zM85.0 101.3h0.9v0.9h-0.9zM78.1 106.5h0.9v0.9h-0.9zM79.5 104.3h0.9v0.9h-0.9zM75.6 92.7h0.9v0.9h-0.9zM81.9 98.1h0.9v0.9h-0.9zM86.7 98.7h0.9v0.9h-0.9zM84.9 94.9h0.9v0.9h-0.9zM83.2 103.3h0.9v0.9h-0.9zM85.4 99.4h0.9v0.9h-0.9zM83.3 99.3h0.9v0.9h-0.9zM84.6 103.1h0.9v0.9h-0.9zM77.7 95.2h0.9v0.9h-0.9zM91.9 107.9h0.9v0.9h-0.9zM86.5 99.0h0.9v0.9h-0.9zM85.5 98.1h0.9v0.9h-0.9zM80.7 103.0h0.9v0.9h-0.9zM78.9 97.6h0.9v0.9h-0.9zM89.1 105.3h0.9v0.9h-0.9zM79.0 94.5h0.9v0.9h-0.9zM76.3 102.3h0.9v0.9h-0.9zM86.5 100.5h0.9v0.9h-0.9zM88.2 103.1h0.9v0.9h-0.9zM79.4 104.1h0.9v0.9h-0.9zM90.2 102.3h0.9v0.9h-0.9zM82.6 101.1h0.9v0.9h-0.9zM78.6 95.7h0.9v0.9h-0.9zM84.9 104.3h0.9v0.9h-0.9zM91.6 107.9h0.9v0.9h-0.9zM86.6 108.7h0.9v0.9h-0.9zM78.5 100.2h0.9v0.9h-0.9zM80.2 96.2h0.9v0.9h-0.9zM79.5 100.8h0.9v0.9h-0.9zM85.2 102.4h0.9v0.9h-0.9zM90.5 93.3h0.9v0.9h-0.9zM81.0 95.9h0.9v0.9h-0.9zM82.7 104.6h0.9v0.9h-0.9zM88.2 101.7h0.9v0.9h-0.9zM83.7 105.8h0.9v0.9h-0.9zM79.0 107.5h0.9v0.9h-0.9zM83.4 97.6h0.9v0.9h-0.9zM84.4 106.9h0.9v0.9h-0.9zM86.4 99.4h0.9v0.9h-0.9zM82.4 108.5h0.9v0.9h-0.9zM89.9 102.5h0.9v0.9h-0.9zM85.4 101.2h0.9v0.9h-0.9zM88.3 102.2h0.9v0.9h-0.9zM77.0 102.5h0.9v0.9h-0.9zM80.3 104.6h0.9v0.9h-0.9zM84.1 96.9h0.9v0.9h-0.9zM76.3 104.5h0.9v0.9h-0.9zM84.2 103.1h0.9v0.9h-0.9zM99.3 108.3h0.9v0.9h-0.9zM80.3 106.4h0.9v0.9h-0.9zM90.3 104.6h0.9v0.9h-0.9zM79.9 107.4h0.9v0.9h-0.9zM78.9 103.7h0.9v0.9h-0.9zM88.9 103.2h0.9v0.9h-0.9zM88.4 102.4h0.9v0.9h-0.9zM78.2 101.7h0.9v0.9h-0.9zM77.5 102.2h0.9v0.9h-0.9zM90.6 97.0h0.9v0.9h-0.9zM92.9 108.1h0.9v0.9h-0.9zM76.0 103.5h0.9v0.9h-0.9zM85.4 95.1h0.9v0.9h-0.9zM82.7 108.8h0.9v0.9h-0.9zM82.3 108.3h0.9v0.9h-0.9zM78.1 103.2h0.9v0.9h-0.9zM80.1 105.6h0.9v0.9h-0.9zM88.7 103.4h0.9v0.9h-0.9zM82.6 108.6h0.9v0.9h-0.9zM79.3 107.7h0.9v0.9h-0.9zM77.1 106.5h0.9v0.9h-0.9zM84.3 105.2h0.9v0.9h-0.9zM91.2 108.5h0.9v0.9h-0.9zM77.4 107.6h0.9v0.9h-0.9zM100.9 105.9h0.9v0.9h-0.9zM85.2 103.6h0.9v0.9h-0.9zM87.5 101.1h0.9v0.9h-0.9zM86.5 102.0h0.9v0.9h-0.9zM78.8 104.0h0.9v0.9h-0.9zM81.4 94.7h0.9v0.9h-0.9zM96.4 104.1h0.9v0.9h-0.9zM81.7 104.4h0.9v0.9h-0.9zM86.8 98.9h0.9v0.9h-0.9zM83.6 108.4h0.9v0.9h-0.9zM76.6 102.1h0.9v0.9h-0.9zM84.7 101.8h0.9v0.9h-0.9zM80.1 104.7h0.9v0.9h-0.9zM75.4 103.6h0.9v0.9h-0.9zM79.6 99.9h0.9v0.9h-0.9zM85.6 108.5h0.9v0.9h-0.9zM92.1 106.3h0.9v0.9h-0.9zM78.7 107.7h0.9v0.9h-0.9zM85.5 106.2h0.9v0.9h-0.9zM93.4 100.8h0.9v0.9h-0.9zM83.3 105.7h0.9v0.9h-0.9zM88.6 101.4h0.9v0.9h-0.9zM83.7 101.3h0.9v0.9h-0.9zM77.2 106.5h0.9v0.9h-0.9zM75.9 103.6h0.9v0.9h-0.9zM76.1 102.8h0.9v0.9h-0.9zM77.9 108.7h0.9v0.9h-0.9zM82.1 103.6h0.9v0.9h-0.9zM93.1 88.7h0.9v0.9h-0.9zM81.4 105.3h0.9v0.9h-0.9zM85.9 104.4h0.9v0.9h-0.9zM83.5 101.7h0.9v0.9h-0.9zM77.8 100.7h0.9v0.9h-0.9zM82.7 104.1h0.9v0.9h-0.9zM83.4 103.6h0.9v0.9h-0.9zM81.7 100.9h0.9v0.9h-0.9zM81.5 100.1h0.9v0.9h-0.9zM86.3 103.0h0.9v0.9h-0.9zM100.3 95.9h0.9v0.9h-0.9zM75.9 103.3h0.9v0.9h-0.9zM90.6 101.6h0.9v0.9h-0.9zM87.3 99.5h0.9v0.9h-0.9zM77.9 105.3h0.9v0.9h-0.9zM79.7 104.3h0.9v0.9h-0.9zM93.3 105.1h0.9v0.9h-0.9zM87.5 98.0h0.9v0.9h-0.9zM80.8 101.8h0.9v0.9h-0.9zM76.0 101.8h0.9v0.9h-0.9zM86.3 104.8h0.9v0.9h-0.9zM89.6 101.4h0.9v0.9h-0.9zM82.9 103.5h0.9v0.9h-0.9zM80.4 94.7h0.9v0.9h-0.9zM83.4 105.4h0.9v0.9h-0.9zM81.4 98.7h0.9v0.9h-0.9zM84.2 108.4h0.9v0.9h-0.9zM87.0 106.7h0.9v0.9h-0.9zM90.8 99.5h0.9v0.9h-0.9zM77.4 105.4h0.9v0.9h-0.9zM89.1 103.7h0.9v0.9h-0.9zM82.6 101.5h0.9v0.9h-0.9zM78.5 100.6h0.9v0.9h-0.9zM87.4 100.5h0.9v0.9h-0.9zM78.6 103.7h0.9v0.9h-0.9zM77.5 101.7h0.9v0.9h-0.9zM79.0 103.9h0.9v0.9h-0.9zM83.8 93.7h0.9v0.9h-0.9zM98.1 103.8h0.9v0.9h-0.9zM82.6 94.2h0.9v0.9h-0.9zM85.8 105.3h0.9v0.9h-0.9zM79.1 104.5h0.9v0.9h-0.9zM90.7 101.7h0.9v0.9h-0.9zM83.8 102.6h0.9v0.9h-0.9zM98.1 104.3h0.9v0.9h-0.9zM80.8 104.9h0.9v0.9h-0.9zM79.2 104.6h0.9v0.9h-0.9zM83.1 100.2h0.9v0.9h-0.9zM80.2 105.1h0.9v0.9h-0.9zM84.7 106.4h0.9v0.9h-0.9zM87.5 104.7h0.9v0.9h-0.9zM85.6 101.6h0.9v0.9h-0.9zM80.1 108.6h0.9v0.9h-0.9zM104.0 94.1h0.9v0.9h-0.9zM92.3 94.6h0.9v0.9h-0.9zM92.0 98.7h0.9v0.9h-0.9zM86.5 101.2h0.9v0.9h-0.9zM81.5 104.4h0.9v0.9h-0.9zM84.3 105.8h0.9v0.9h-0.9zM82.2 95.0h0.9v0.9h-0.9zM91.5 89.3h0.9v0.9h-0.9zM90.0 100.0h0.9v0.9h-0.9zM79.9 100.4h0.9v0.9h-0.9zM78.7 102.9h0.9v0.9h-0.9zM79.3 97.5h0.9v0.9h-0.9zM87.2 100.1h0.9v0.9h-0.9zM90.7 102.2h0.9v0.9h-0.9zM76.3 105.2h0.9v0.9h-0.9zM87.5 98.4h0.9v0.9h-0.9zM82.4 96.9h0.9v0.9h-0.9zM83.9 106.3h0.9v0.9h-0.9zM85.4 104.9h0.9v0.9h-0.9zM89.3 99.5h0.9v0.9h-0.9zM87.9 101.2h0.9v0.9h-0.9zM82.6 104.8h0.9v0.9h-0.9zM77.8 105.3h0.9v0.9h-0.9zM84.3 103.1h0.9v0.9h-0.9zM91.2 104.4h0.9v0.9h-0.9zM78.5 88.6h0.9v0.9h-0.9zM79.3 101.6h0.9v0.9h-0.9zM85.4 108.2h0.9v0.9h-0.9zM94.6 108.7h0.9v0.9h-0.9zM76.3 104.3h0.9v0.9h-0.9zM83.8 100.0h0.9v0.9h-0.9zM80.6 101.8h0.9v0.9h-0.9zM103.0 107.1h0.9v0.9h-0.9zM88.7 103.8h0.9v0.9h-0.9zM78.7 105.0h0.9v0.9h-0.9zM80.5 106.0h0.9v0.9h-0.9zM81.0 106.0h0.9v0.9h-0.9zM90.9 97.8h0.9v0.9h-0.9zM84.1 108.4h0.9v0.9h-0.9zM77.2 102.4h0.9v0.9h-0.9zM85.4 101.2h0.9v0.9h-0.9zM97.0 100.5h0.9v0.9h-0.9zM90.7 99.5h0.9v0.9h-0.9zM78.2 96.2h0.9v0.9h-0.9zM75.9 106.4h0.9v0.9h-0.9zM75.4 96.4h0.9v0.9h-0.9zM82.4 100.1h0.9v0.9h-0.9zM82.2 105.1h0.9v0.9h-0.9zM82.0 93.8h0.9v0.9h-0.9zM83.2 101.8h0.9v0.9h-0.9zM87.0 96.1h0.9v0.9h-0.9zM88.5 100.4h0.9v0.9h-0.9zM77.4 104.7h0.9v0.9h-0.9zM79.9 108.3h0.9v0.9h-0.9zM88.8 108.4h0.9v0.9h-0.9zM86.1 94.7h0.9v0.9h-0.9zM82.2 95.7h0.9v0.9h-0.9zM92.0 107.3h0.9v0.9h-0.9zM82.6 90.9h0.9v0.9h-0.9zM81.6 104.2h0.9v0.9h-0.9zM76.3 99.6h0.9v0.9h-0.9zM79.3 104.7h0.9v0.9h-0.9zM82.7 107.8h0.9v0.9h-0.9zM79.4 104.4h0.9v0.9h-0.9zM83.8 99.6h0.9v0.9h-0.9zM77.9 102.6h0.9v0.9h-0.9zM85.1 97.0h0.9v0.9h-0.9zM87.2 101.1h0.9v0.9h-0.9zM78.1 99.6h0.9v0.9h-0.9zM98.4 106.0h0.9v0.9h-0.9zM85.0 100.6h0.9v0.9h-0.9zM80.1 106.9h0.9v0.9h-0.9zM85.3 98.6h0.9v0.9h-0.9zM89.8 104.3h0.9v0.9h-0.9zM79.7 106.7h0.9v0.9h-0.9zM77.1 104.6h0.9v0.9h-0.9zM86.1 105.2h0.9v0.9h-0.9zM89.4 97.4h0.9v0.9h-0.9zM76.9 102.7h0.9v0.9h-0.9zM82.3 90.3h0.9v0.9h-0.9zM85.2 101.5h0.9v0.9h-0.9zM78.5 108.5h0.9v0.9h-0.9zM84.7 101.2h0.9v0.9h-0.9zM89.3 106.8h0.9v0.9h-0.9zM77.4 94.6h0.9v0.9h-0.9zM77.1 105.9h0.9v0.9h-0.9zM82.8 103.8h0.9v0.9h-0.9zM83.8 98.3h0.9v0.9h-0.9zM80.1 99.4h0.9v0.9h-0.9zM86.2 100.5h0.9v0.9h-0.9zM80.1 95.3h0.9v0.9h-0.9zM76.8 106.7h0.9v0.9h-0.9zM81.6 100.2h0.9v0.9h-0.9zM91.8 102.5h0.9v0.9h-0.9zM78.5 108.5h0.9v0.9h-0.9zM76.1 103.4h0.9v0.9h-0.9zM81.7 104.3h0.9v0.9h-0.9zM92.9 106.3h0.9v0.9h-0.9zM86.3 100.9h0.9v0.9h-0.9zM81.2 107.1h0.9v0.9h-0.9zM88.0 95.8h0.9v0.9h-0.9zM77.1 92.6h0.9v0.9h-0.9zM81.7 104.3h0.9v0.9h-0.9zM90.8 102.8h0.9v0.9h-0.9zM79.4 101.4h0.9v0.9h-0.9zM82.7 101.1h0.9v0.9h-0.9zM79.4 105.5h0.9v0.9h-0.9zM78.2 104.4h0.9v0.9h-0.9zM89.2 95.7h0.9v0.9h-0.9zM79.9 106.4h0.9v0.9h-0.9zM77.8 106.9h0.9v0.9h-0.9zM83.4 105.8h0.9v0.9h-0.9zM80.6 104.3h0.9v0.9h-0.9zM84.7 95.4h0.9v0.9h-0.9zM92.9 104.3h0.9v0.9h-0.9zM83.6 103.7h0.9v0.9h-0.9zM77.4 99.1h0.9v0.9h-0.9zM87.0 100.9h0.9v0.9h-0.9zM92.2 103.8h0.9v0.9h-0.9zM81.7 101.7h0.9v0.9h-0.9zM80.5 103.0h0.9v0.9h-0.9zM86.0 98.3h0.9v0.9h-0.9zM76.6 100.5h0.9v0.9h-0.9zM80.7 102.4h0.9v0.9h-0.9zM81.6 104.1h0.9v0.9h-0.9zM97.3 103.8h0.9v0.9h-0.9zM86.9 100.2h0.9v0.9h-0.9zM83.5 101.3h0.9v0.9h-0.9zM80.0 98.3h0.9v0.9h-0.9zM75.3 105.1h0.9v0.9h-0.9zM86.3 105.2h0.9v0.9h-0.9zM76.4 104.4h0.9v0.9h-0.9zM80.8 104.2h0.9v0.9h-0.9zM89.3 100.8h0.9v0.9h-0.9zM87.8 100.7h0.9v0.9h-0.9zM84.9 100.8h0.9v0.9h-0.9zM76.6 99.8h0.9v0.9h-0.9zM78.9 104.4h0.9v0.9h-0.9zM100.5 100.0h0.9v0.9h-0.9zM81.3 98.1h0.9v0.9h-0.9zM76.4 93.6h0.9v0.9h-0.9zM82.5 99.2h0.9v0.9h-0.9zM88.8 108.2h0.9v0.9h-0.9zM81.6 106.8h0.9v0.9h-0.9zM94.3 102.5h0.9v0.9h-0.9zM82.8 103.0h0.9v0.9h-0.9zM83.2 103.8h0.9v0.9h-0.9zM86.4 106.9h0.9v0.9h-0.9zM77.2 103.8h0.9v0.9h-0.9zM76.3 98.7h0.9v0.9h-0.9zM88.0 103.0h0.9v0.9h-0.9zM79.3 101.6h0.9v0.9h-0.9zM81.9 103.0h0.9v0.9h-0.9zM79.7 106.8h0.9v0.9h-0.9zM90.9 98.4h0.9v0.9h-0.9zM95.0 103.6h0.9v0.9h-0.9zM84.9 100.4h0.9v0.9h-0.9zM80.0 102.6h0.9v0.9h-0.9zM98.9 103.0h0.9v0.9h-0.9zM84.2 107.6h0.9v0.9h-0.9zM89.7 101.6h0.9v0.9h-0.9zM87.6 99.8h0.9v0.9h-0.9zM83.2 107.2h0.9v0.9h-0.9zM81.5 86.4h0.9v0.9h-0.9zM85.7 108.5h0.9v0.9h-0.9zM83.8 102.2h0.9v0.9h-0.9zM82.7 108.1h0.9v0.9h-0.9zM83.2 103.6h0.9v0.9h-0.9zM81.9 103.0h0.9v0.9h-0.9zM77.6 107.1h0.9v0.9h-0.9zM80.5 100.0h0.9v0.9h-0.9zM78.8 98.4h0.9v0.9h-0.9zM89.9 99.3h0.9v0.9h-0.9zM101.8 102.9h0.9v0.9h-0.9zM88.8 97.0h0.9v0.9h-0.9zM85.1 100.9h0.9v0.9h-0.9zM99.3 107.3h0.9v0.9h-0.9zM80.5 100.5h0.9v0.9h-0.9zM76.6 103.7h0.9v0.9h-0.9zM80.9 107.9h0.9v0.9h-0.9zM86.1 100.7h0.9v0.9h-0.9zM87.0 108.3h0.9v0.9h-0.9zM107.1 102.1h0.9v0.9h-0.9zM86.6 96.9h0.9v0.9h-0.9zM85.3 100.6h0.9v0.9h-0.9zM87.5 103.3h0.9v0.9h-0.9zM80.6 98.5h0.9v0.9h-0.9zM82.6 98.7h0.9v0.9h-0.9zM84.9 103.3h0.9v0.9h-0.9zM79.5 106.9h0.9v0.9h-0.9zM83.4 102.2h0.9v0.9h-0.9zM76.9 106.3h0.9v0.9h-0.9zM81.0 102.7h0.9v0.9h-0.9zM89.4 101.4h0.9v0.9h-0.9zM80.4 105.7h0.9v0.9h-0.9zM89.7 102.8h0.9v0.9h-0.9zM83.2 103.8h0.9v0.9h-0.9zM75.5 102.9h0.9v0.9h-0.9zM81.8 106.6h0.9v0.9h-0.9zM92.7 103.5h0.9v0.9h-0.9zM78.9 103.5h0.9v0.9h-0.9zM83.7 100.9h0.9v0.9h-0.9zM94.5 100.0h0.9v0.9h-0.9zM87.5 103.5h0.9v0.9h-0.9zM84.7 107.7h0.9v0.9h-0.9zM82.0 106.8h0.9v0.9h-0.9zM75.5 103.9h0.9v0.9h-0.9zM78.7 105.0h0.9v0.9h-0.9zM75.4 102.5h0.9v0.9h-0.9zM80.0 99.1h0.9v0.9h-0.9zM88.0 95.0h0.9v0.9h-0.9zM76.1 103.6h0.9v0.9h-0.9zM78.3 94.0h0.9v0.9h-0.9zM79.7 107.6h0.9v0.9h-0.9zM78.8 97.3h0.9v0.9h-0.9zM75.7 103.8h0.9v0.9h-0.9zM84.4 90.7h0.9v0.9h-0.9zM89.9 94.8h0.9v0.9h-0.9zM80.3 100.3h0.9v0.9h-0.9zM77.8 100.6h0.9v0.9h-0.9zM80.0 98.6h0.9v0.9h-0.9zM83.6 103.0h0.9v0.9h-0.9zM76.0 104.9h0.9v0.9h-0.9zM85.0 107.4h0.9v0.9h-0.9zM91.5 98.7h0.9v0.9h-0.9zM101.8 105.1h0.9v0.9h-0.9zM75.6 96.2h0.9v0.9h-0.9zM81.3 107.0h0.9v0.9h-0.9zM90.9 103.7h0.9v0.9h-0.9zM78.5 103.0h0.9v0.9h-0.9zM87.5 103.3h0.9v0.9h-0.9zM90.4 104.4h0.9v0.9h-0.9zM83.2 103.7h0.9v0.9h-0.9zM88.9 102.9h0.9v0.9h-0.9zM92.9 108.5h0.9v0.9h-0.9zM78.2 102.8h0.9v0.9h-0.9zM82.1 108.3h0.9v0.9h-0.9zM76.0 98.7h0.9v0.9h-0.9zM77.0 103.9h0.9v0.9h-0.9zM83.4 101.1h0.9v0.9h-0.9zM86.9 97.9h0.9v0.9h-0.9zM81.0 99.6h0.9v0.9h-0.9zM79.2 98.0h0.9v0.9h-0.9zM81.8 98.0h0.9v0.9h-0.9zM85.8 107.5h0.9v0.9h-0.9zM88.8 97.7h0.9v0.9h-0.9zM92.4 96.1h0.9v0.9h-0.9zM90.2 107.0h0.9v0.9h-0.9zM84.8 103.6h0.9v0.9h-0.9zM85.9 101.4h0.9v0.9h-0.9zM85.1 92.9h0.9v0.9h-0.9zM93.9 100.5h0.9v0.9h-0.9zM85.4 104.8h0.9v0.9h-0.9zM82.3 103.7h0.9v0.9h-0.9zM82.0 94.8h0.9v0.9h-0.9zM92.7 103.1h0.9v0.9h-0.9zM83.4 107.1h0.9v0.9h-0.9zM85.5 102.7h0.9v0.9h-0.9zM78.6 102.2h0.9v0.9h-0.9zM83.5 103.2h0.9v0.9h-0.9zM85.2 99.9h0.9v0.9h-0.9zM76.3 100.6h0.9v0.9h-0.9zM75.7 100.2h0.9v0.9h-0.9zM81.5 106.8h0.9v0.9h-0.9zM86.3 96.1h0.9v0.9h-0.9zM82.0 103.7h0.9v0.9h-0.9zM75.6 101.9h0.9v0.9h-0.9zM88.3 104.2h0.9v0.9h-0.9zM78.3 101.9h0.9v0.9h-0.9zM86.8 106.6h0.9v0.9h-0.9zM92.3 95.1h0.9v0.9h-0.9zM87.0 91.3h0.9v0.9h-0.9zM80.8 106.7h0.9v0.9h-0.9zM79.2 106.6h0.9v0.9h-0.9zM86.0 103.6h0.9v0.9h-0.9zM82.6 102.7h0.9v0.9h-0.9zM78.7 106.1h0.9v0.9h-0.9zM79.0 106.1h0.9v0.9h-0.9zM81.8 108.5h0.9v0.9h-0.9zM75.5 103.2h0.9v0.9h-0.9zM83.5 104.9h0.9v0.9h-0.9zM89.0 104.8h0.9v0.9h-0.9zM87.0 97.5h0.9v0.9h-0.9zM78.4 104.3h0.9v0.9h-0.9zM89.5 97.2h0.9v0.9h-0.9zM82.9 101.3h0.9v0.9h-0.9zM80.0 105.0h0.9v0.9h-0.9zM88.8 100.8h0.9v0.9h-0.9zM78.9 103.0h0.9v0.9h-0.9zM78.4 103.3h0.9v0.9h-0.9zM97.9 101.2h0.9v0.9h-0.9zM79.0 103.8h0.9v0.9h-0.9zM83.0 96.8h0.9v0.9h-0.9zM79.5 98.8h0.9v0.9h-0.9zM78.2 102.1h0.9v0.9h-0.9zM83.4 102.1h0.9v0.9h-0.9zM80.7 106.5h0.9v0.9h-0.9zM77.6 103.7h0.9v0.9h-0.9zM85.6 98.3h0.9v0.9h-0.9zM85.9 99.9h0.9v0.9h-0.9zM83.4 108.4h0.9v0.9h-0.9zM77.2 101.0h0.9v0.9h-0.9zM79.5 101.9h0.9v0.9h-0.9zM82.2 103.1h0.9v0.9h-0.9zM80.9 97.6h0.9v0.9h-0.9zM76.9 99.0h0.9v0.9h-0.9zM78.7 101.1h0.9v0.9h-0.9zM77.5 103.1h0.9v0.9h-0.9zM84.1 101.4h0.9v0.9h-0.9zM80.2 102.8h0.9v0.9h-0.9zM85.4 101.6h0.9v0.9h-0.9zM88.2 102.2h0.9v0.9h-0.9zM83.4 106.8h0.9v0.9h-0.9zM97.5 101.5h0.9v0.9h-0.9zM81.9 100.9h0.9v0.9h-0.9zM81.4 100.8h0.9v0.9h-0.9zM77.4 104.1h0.9v0.9h-0.9zM85.5 93.5h0.9v0.9h-0.9zM81.7 93.7h0.9v0.9h-0.9zM75.9 97.6h0.9v0.9h-0.9zM79.3 99.2h0.9v0.9h-0.9zM91.9 107.5h0.9v0.9h-0.9zM84.2 103.9h0.9v0.9h-0.9zM86.2 100.6h0.9v0.9h-0.9zM85.3 107.1h0.9v0.9h-0.9zM84.8 107.6h0.9v0.9h-0.9zM82.8 100.5h0.9v0.9h-0.9zM82.7 103.6h0.9v0.9h-0.9zM81.5 104.1h0.9v0.9h-0.9zM77.5 105.4h0.9v0.9h-0.9zM85.7 99.5h0.9v0.9h-0.9zM83.6 106.9h0.9v0.9h-0.9zM86.5 98.5h0.9v0.9h-0.9zM75.6 99.0h0.9v0.9h-0.9zM85.6 100.6h0.9v0.9h-0.9zM79.8 102.3h0.9v0.9h-0.9zM79.7 96.4h0.9v0.9h-0.9zM85.1 99.1h0.9v0.9h-0.9zM83.4 98.0h0.9v0.9h-0.9zM82.7 101.9h0.9v0.9h-0.9zM81.0 105.0h0.9v0.9h-0.9zM83.6 103.3h0.9v0.9h-0.9zM81.7 96.2h0.9v0.9h-0.9zM80.1 91.7h0.9v0.9h-0.9zM85.2 108.0h0.9v0.9h-0.9zM78.5 104.7h0.9v0.9h-0.9zM88.7 105.2h0.9v0.9h-0.9zM83.1 103.1h0.9v0.9h-0.9zM78.9 99.3h0.9v0.9h-0.9zM83.2 99.8h0.9v0.9h-0.9zM83.9 99.3h0.9v0.9h-0.9zM83.9 96.9h0.9v0.9h-0.9zM88.3 94.4h0.9v0.9h-0.9zM77.8 101.5h0.9v0.9h-0.9zM78.4 97.1h0.9v0.9h-0.9zM97.4 100.7h0.9v0.9h-0.9zM83.5 102.9h0.9v0.9h-0.9zM82.3 107.3h0.9v0.9h-0.9zM78.5 104.5h0.9v0.9h-0.9zM78.5 105.6h0.9v0.9h-0.9zM76.6 99.8h0.9v0.9h-0.9zM76.0 99.5h0.9v0.9h-0.9zM84.3 104.2h0.9v0.9h-0.9zM76.8 101.9h0.9v0.9h-0.9zM78.3 105.8h0.9v0.9h-0.9zM87.3 106.1h0.9v0.9h-0.9zM82.0 107.4h0.9v0.9h-0.9zM75.4 107.9h0.9v0.9h-0.9zM83.8 101.9h0.9v0.9h-0.9zM76.3 98.4h0.9v0.9h-0.9zM81.8 103.8h0.9v0.9h-0.9zM75.9 93.7h0.9v0.9h-0.9zM79.9 97.0h0.9v0.9h-0.9zM86.6 105.4h0.9v0.9h-0.9zM82.1 94.0h0.9v0.9h-0.9zM79.5 102.6h0.9v0.9h-0.9zM94.4 105.9h0.9v0.9h-0.9zM88.8 105.0h0.9v0.9h-0.9zM82.6 106.7h0.9v0.9h-0.9zM91.2 103.1h0.9v0.9h-0.9zM79.4 105.7h0.9v0.9h-0.9zM78.1 102.7h0.9v0.9h-0.9zM79.7 104.5h0.9v0.9h-0.9zM81.7 103.1h0.9v0.9h-0.9zM80.1 105.1h0.9v0.9h-0.9zM77.4 107.7h0.9v0.9h-0.9zM84.2 96.4h0.9v0.9h-0.9zM80.1 98.4h0.9v0.9h-0.9zM81.7 105.8h0.9v0.9h-0.9zM95.3 102.8h0.9v0.9h-0.9zM81.9 99.4h0.9v0.9h-0.9zM80.6 102.7h0.9v0.9h-0.9zM86.3 105.6h0.9v0.9h-0.9zM75.7 100.4h0.9v0.9h-0.9zM90.7 98.0h0.9v0.9h-0.9zM85.6 104.1h0.9v0.9h-0.9zM90.6 104.6h0.9v0.9h-0.9zM80.9 101.8h0.9v0.9h-0.9zM89.0 106.3h0.9v0.9h-0.9zM91.8 101.1h0.9v0.9h-0.9zM78.8 100.6h0.9v0.9h-0.9zM83.0 99.3h0.9v0.9h-0.9zM87.5 104.5h0.9v0.9h-0.9zM80.6 103.5h0.9v0.9h-0.9zM78.0 104.8h0.9v0.9h-0.9zM85.9 105.2h0.9v0.9h-0.9zM80.1 96.4h0.9v0.9h-0.9zM86.6 101.4h0.9v0.9h-0.9zM80.8 102.4h0.9v0.9h-0.9zM77.7 99.2h0.9v0.9h-0.9zM76.8 96.3h0.9v0.9h-0.9zM82.7 101.9h0.9v0.9h-0.9zM88.1 93.7h0.9v0.9h-0.9zM89.2 102.4h0.9v0.9h-0.9zM79.8 98.7h0.9v0.9h-0.9zM87.3 101.7h0.9v0.9h-0.9zM86.0 106.9h0.9v0.9h-0.9zM77.5 101.6h0.9v0.9h-0.9zM78.6 107.9h0.9v0.9h-0.9zM81.9 103.6h0.9v0.9h-0.9zM86.0 102.4h0.9v0.9h-0.9zM95.3 98.1h0.9v0.9h-0.9zM83.0 107.1h0.9v0.9h-0.9zM90.9 102.1h0.9v0.9h-0.9zM76.1 95.0h0.9v0.9h-0.9zM88.8 104.1h0.9v0.9h-0.9zM83.4 98.8h0.9v0.9h-0.9zM91.0 102.2h0.9v0.9h-0.9zM86.4 99.2h0.9v0.9h-0.9zM81.6 100.2h0.9v0.9h-0.9zM81.2 96.5h0.9v0.9h-0.9zM84.7 107.6h0.9v0.9h-0.9zM76.9 107.8h0.9v0.9h-0.9zM79.0 104.2h0.9v0.9h-0.9zM75.8 98.8h0.9v0.9h-0.9zM79.0 101.5h0.9v0.9h-0.9zM76.6 105.1h0.9v0.9h-0.9zM83.1 99.4h0.9v0.9h-0.9zM77.3 108.7h0.9v0.9h-0.9zM78.7 92.8h0.9v0.9h-0.9zM82.4 88.3h0.9v0.9h-0.9zM82.7 99.9h0.9v0.9h-0.9zM77.5 100.5h0.9v0.9h-0.9zM75.6 98.0h0.9v0.9h-0.9zM89.7 105.0h0.9v0.9h-0.9zM76.4 100.7h0.9v0.9h-0.9zM87.8 104.7h0.9v0.9h-0.9zM82.3 96.6h0.9v0.9h-0.9zM77.9 97.1h0.9v0.9h-0.9zM78.7 100.7h0.9v0.9h-0.9zM95.6 105.7h0.9v0.9h-0.9zM87.5 96.5h0.9v0.9h-0.9zM82.2 103.9h0.9v0.9h-0.9zM91.4 102.8h0.9v0.9h-0.9zM85.6 104.5h0.9v0.9h-0.9zM82.2 107.0h0.9v0.9h-0.9zM77.5 98.2h0.9v0.9h-0.9zM84.5 106.0h0.9v0.9h-0.9zM78.9 104.9h0.9v0.9h-0.9zM76.8 95.7h0.9v0.9h-0.9zM86.0 102.4h0.9v0.9h-0.9zM83.7 94.2h0.9v0.9h-0.9zM78.5 108.5h0.9v0.9h-0.9zM84.1 98.4h0.9v0.9h-0.9zM86.8 102.0h0.9v0.9h-0.9zM86.0 95.6h0.9v0.9h-0.9zM77.1 104.3h0.9v0.9h-0.9zM83.0 105.5h0.9v0.9h-0.9zM80.8 101.7h0.9v0.9h-0.9zM84.1 107.0h0.9v0.9h-0.9zM79.4 103.5h0.9v0.9h-0.9zM87.9 96.1h0.9v0.9h-0.9zM84.6 94.0h0.9v0.9h-0.9zM75.6 100.1h0.9v0.9h-0.9zM79.0 99.6h0.9v0.9h-0.9zM77.3 101.0h0.9v0.9h-0.9zM79.0 93.5h0.9v0.9h-0.9zM84.5 107.7h0.9v0.9h-0.9zM100.8 103.2h0.9v0.9h-0.9zM75.4 103.6h0.9v0.9h-0.9zM85.6 103.4h0.9v0.9h-0.9zM80.6 95.7h0.9v0.9h-0.9zM85.1 98.4h0.9v0.9h-0.9zM89.6 99.9h0.9v0.9h-0.9zM80.3 106.6h0.9v0.9h-0.9zM82.2 98.2h0.9v0.9h-0.9zM88.3 104.8h0.9v0.9h-0.9zM86.8 108.0h0.9v0.9h-0.9zM90.7 107.9h0.9v0.9h-0.9zM80.3 103.2h0.9v0.9h-0.9zM83.8 102.2h0.9v0.9h-0.9zM75.6 102.6h0.9v0.9h-0.9zM77.9 100.8h0.9v0.9h-0.9zM79.0 102.2h0.9v0.9h-0.9zM85.7 99.1h0.9v0.9h-0.9zM77.2 106.5h0.9v0.9h-0.9zM84.8 99.8h0.9v0.9h-0.9zM87.4 95.7h0.9v0.9h-0.9zM87.8 102.1h0.9v0.9h-0.9zM75.6 98.4h0.9v0.9h-0.9zM81.4 100.0h0.9v0.9h-0.9zM80.9 102.1h0.9v0.9h-0.9zM83.0 94.6h0.9v0.9h-0.9zM78.9 101.1h0.9v0.9h-0.9zM78.8 98.4h0.9v0.9h-0.9zM85.1 100.9h0.9v0.9h-0.9zM84.4 97.0h0.9v0.9h-0.9zM82.7 102.3h0.9v0.9h-0.9zM88.7 105.1h0.9v0.9h-0.9zM80.1 96.1h0.9v0.9h-0.9zM82.6 95.4h0.9v0.9h-0.9zM90.2 103.9h0.9v0.9h-0.9zM92.2 108.4h0.9v0.9h-0.9zM78.0 103.3h0.9v0.9h-0.9zM75.9 98.7h0.9v0.9h-0.9zM79.0 105.3h0.9v0.9h-0.9zM90.6 98.4h0.9v0.9h-0.9zM85.9 103.1h0.9v0.9h-0.9zM79.6 108.5h0.9v0.9h-0.9zM78.8 98.3h0.9v0.9h-0.9zM86.5 95.7h0.9v0.9h-0.9zM81.2 101.6h0.9v0.9h-0.9zM84.8 105.6h0.9v0.9h-0.9zM82.6 108.0h0.9v0.9h-0.9zM87.7 97.9h0.9v0.9h-0.9zM79.1 104.4h0.9v0.9h-0.9zM88.3 96.1h0.9v0.9h-0.9zM77.8 106.1h0.9v0.9h-0.9zM84.6 97.7h0.9v0.9h-0.9zM87.6 103.0h0.9v0.9h-0.9zM87.2 94.6h0.9v0.9h-0.9zM91.1 104.7h0.9v0.9h-0.9zM87.8 102.2h0.9v0.9h-0.9zM79.5 101.8h0.9v0.9h-0.9zM92.4 104.3h0.9v0.9h-0.9zM79.8 96.6h0.9v0.9h-0.9zM84.5 103.0h0.9v0.9h-0.9zM82.3 107.9h0.9v0.9h-0.9zM86.3 103.0h0.9v0.9h-0.9zM82.8 103.4h0.9v0.9h-0.9zM86.3 106.4h0.9v0.9h-0.9zM82.2 98.7h0.9v0.9h-0.9zM87.1 107.5h0.9v0.9h-0.9zM78.5 92.1h0.9v0.9h-0.9zM80.9 107.7h0.9v0.9h-0.9zM76.1 99.4h0.9v0.9h-0.9zM88.3 97.5h0.9v0.9h-0.9zM85.5 106.1h0.9v0.9h-0.9zM77.5 101.4h0.9v0.9h-0.9zM81.8 101.0h0.9v0.9h-0.9zM86.1 101.8h0.9v0.9h-0.9zM101.1 106.0h0.9v0.9h-0.9zM75.9 102.9h0.9v0.9h-0.9zM83.5 104.9h0.9v0.9h-0.9zM84.3 105.2h0.9v0.9h-0.9zM80.2 106.2h0.9v0.9h-0.9zM96.4 100.7h0.9v0.9h-0.9zM78.5 106.4h0.9v0.9h-0.9zM89.8 107.0h0.9v0.9h-0.9zM89.6 102.7h0.9v0.9h-0.9zM79.5 106.2h0.9v0.9h-0.9zM92.0 93.8h0.9v0.9h-0.9zM86.6 99.6h0.9v0.9h-0.9zM80.0 101.2h0.9v0.9h-0.9zM79.6 95.4h0.9v0.9h-0.9zM80.3 103.4h0.9v0.9h-0.9zM80.0 104.4h0.9v0.9h-0.9zM80.6 97.1h0.9v0.9h-0.9zM87.8 103.6h0.9v0.9h-0.9zM77.6 103.7h0.9v0.9h-0.9zM78.4 102.5h0.9v0.9h-0.9zM78.8 101.5h0.9v0.9h-0.9zM82.7 93.6h0.9v0.9h-0.9zM91.3 106.2h0.9v0.9h-0.9zM77.9 102.5h0.9v0.9h-0.9zM86.1 105.7h0.9v0.9h-0.9zM85.6 105.1h0.9v0.9h-0.9zM82.5 104.2h0.9v0.9h-0.9zM89.5 98.9h0.9v0.9h-0.9zM89.1 104.0h0.9v0.9h-0.9zM79.6 107.0h0.9v0.9h-0.9zM81.8 93.3h0.9v0.9h-0.9zM79.5 100.6h0.9v0.9h-0.9zM76.9 102.9h0.9v0.9h-0.9zM78.4 88.8h0.9v0.9h-0.9zM75.7 99.2h0.9v0.9h-0.9zM82.9 98.6h0.9v0.9h-0.9zM80.6 98.4h0.9v0.9h-0.9zM75.8 101.3h0.9v0.9h-0.9zM81.4 104.6h0.9v0.9h-0.9zM87.8 98.0h0.9v0.9h-0.9zM87.0 96.3h0.9v0.9h-0.9zM77.8 98.6h0.9v0.9h-0.9zM86.3 105.4h0.9v0.9h-0.9zM90.8 107.3h0.9v0.9h-0.9zM80.3 101.1h0.9v0.9h-0.9zM92.5 107.3h0.9v0.9h-0.9zM93.3 105.0h0.9v0.9h-0.9zM85.7 104.6h0.9v0.9h-0.9zM77.7 95.6h0.9v0.9h-0.9zM91.6 100.9h0.9v0.9h-0.9zM76.1 107.3h0.9v0.9h-0.9zM77.3 102.7h0.9v0.9h-0.9zM83.2 105.6h0.9v0.9h-0.9zM88.0 102.4h0.9v0.9h-0.9zM83.9 102.5h0.9v0.9h-0.9zM76.9 105.0h0.9v0.9h-0.9zM85.5 99.6h0.9v0.9h-0.9zM85.5 101.8h0.9v0.9h-0.9zM92.3 94.6h0.9v0.9h-0.9zM76.8 99.8h0.9v0.9h-0.9zM82.2 102.4h0.9v0.9h-0.9zM91.4 101.1h0.9v0.9h-0.9zM84.5 98.8h0.9v0.9h-0.9zM86.0 101.4h0.9v0.9h-0.9zM78.8 107.6h0.9v0.9h-0.9zM83.6 101.4h0.9v0.9h-0.9zM83.3 103.0h0.9v0.9h-0.9zM78.6 99.5h0.9v0.9h-0.9zM87.8 100.7h0.9v0.9h-0.9zM90.0 105.7h0.9v0.9h-0.9zM80.9 104.0h0.9v0.9h-0.9zM83.3 102.1h0.9v0.9h-0.9zM84.4 99.3h0.9v0.9h-0.9zM82.6 95.3h0.9v0.9h-0.9zM81.2 100.0h0.9v0.9h-0.9zM81.5 100.1h0.9v0.9h-0.9zM87.7 99.6h0.9v0.9h-0.9zM87.7 106.6h0.9v0.9h-0.9zM81.7 106.7h0.9v0.9h-0.9zM75.5 103.0h0.9v0.9h-0.9zM81.8 103.0h0.9v0.9h-0.9zM79.4 99.4h0.9v0.9h-0.9zM84.8 107.9h0.9v0.9h-0.9zM77.6 108.1h0.9v0.9h-0.9zM76.5 105.9h0.9v0.9h-0.9zM82.1 104.3h0.9v0.9h-0.9zM83.2 105.9h0.9v0.9h-0.9zM83.5 100.0h0.9v0.9h-0.9zM83.5 97.9h0.9v0.9h-0.9zM86.1 99.4h0.9v0.9h-0.9zM79.2 106.7h0.9v0.9h-0.9zM88.5 100.1h0.9v0.9h-0.9zM76.7 107.7h0.9v0.9h-0.9zM89.9 97.6h0.9v0.9h-0.9zM89.2 104.6h0.9v0.9h-0.9zM84.2 91.5h0.9v0.9h-0.9zM77.7 101.9h0.9v0.9h-0.9zM78.3 101.0h0.9v0.9h-0.9zM79.1 88.8h0.9v0.9h-0.9zM79.7 99.5h0.9v0.9h-0.9zM80.5 100.4h0.9v0.9h-0.9zM81.0 104.2h0.9v0.9h-0.9zM93.2 98.8h0.9v0.9h-0.9zM92.6 101.6h0.9v0.9h-0.9zM87.0 95.4h0.9v0.9h-0.9zM87.3 104.5h0.9v0.9h-0.9zM77.1 99.6h0.9v0.9h-0.9zM84.4 103.6h0.9v0.9h-0.9zM86.1 102.8h0.9v0.9h-0.9zM77.5 105.4h0.9v0.9h-0.9zM81.4 97.3h0.9v0.9h-0.9zM87.6 97.4h0.9v0.9h-0.9zM83.8 97.8h0.9v0.9h-0.9zM89.2 104.4h0.9v0.9h-0.9zM78.5 99.5h0.9v0.9h-0.9zM77.4 100.5h0.9v0.9h-0.9zM92.5 98.1h0.9v0.9h-0.9zM91.4 98.0h0.9v0.9h-0.9zM95.3 108.2h0.9v0.9h-0.9zM86.9 104.9h0.9v0.9h-0.9zM80.4 103.8h0.9v0.9h-0.9zM80.3 101.5h0.9v0.9h-0.9zM81.2 101.6h0.9v0.9h-0.9zM77.1 101.4h0.9v0.9h-0.9zM81.1 106.7h0.9v0.9h-0.9zM84.2 102.9h0.9v0.9h-0.9zM96.0 102.7h0.9v0.9h-0.9zM84.1 96.3h0.9v0.9h-0.9zM76.7 106.9h0.9v0.9h-0.9zM87.5 101.6h0.9v0.9h-0.9zM82.9 99.5h0.9v0.9h-0.9zM76.7 99.8h0.9v0.9h-0.9zM78.6 105.9h0.9v0.9h-0.9zM84.8 104.2h0.9v0.9h-0.9zM96.6 102.3h0.9v0.9h-0.9zM75.4 103.6h0.9v0.9h-0.9zM90.5 106.0h0.9v0.9h-0.9zM78.2 102.1h0.9v0.9h-0.9zM84.4 108.7h0.9v0.9h-0.9zM78.2 100.7h0.9v0.9h-0.9zM88.6 103.9h0.9v0.9h-0.9zM83.4 105.2h0.9v0.9h-0.9zM75.6 102.1h0.9v0.9h-0.9zM88.4 102.0h0.9v0.9h-0.9zM79.6 104.3h0.9v0.9h-0.9zM75.4 103.5h0.9v0.9h-0.9zM95.0 103.0h0.9v0.9h-0.9zM83.7 95.6h0.9v0.9h-0.9zM87.8 107.2h0.9v0.9h-0.9zM86.7 101.9h0.9v0.9h-0.9zM83.6 102.5h0.9v0.9h-0.9zM87.0 102.8h0.9v0.9h-0.9zM86.5 96.2h0.9v0.9h-0.9zM78.8 88.7h0.9v0.9h-0.9zM80.0 106.7h0.9v0.9h-0.9zM77.8 95.5h0.9v0.9h-0.9zM79.2 107.4h0.9v0.9h-0.9zM84.8 102.0h0.9v0.9h-0.9zM77.5 101.9h0.9v0.9h-0.9zM81.2 107.0h0.9v0.9h-0.9zM89.4 96.3h0.9v0.9h-0.9zM81.1 106.4h0.9v0.9h-0.9zM88.4 99.5h0.9v0.9h-0.9zM95.4 104.1h0.9v0.9h-0.9zM83.0 104.2h0.9v0.9h-0.9zM82.1 102.0h0.9v0.9h-0.9zM82.8 107.1h0.9v0.9h-0.9zM79.3 95.9h0.9v0.9h-0.9zM76.3 102.8h0.9v0.9h-0.9zM87.2 95.2h0.9v0.9h-0.9zM83.6 101.5h0.9v0.9h-0.9zM77.4 94.9h0.9v0.9h-0.9zM80.4 99.1h0.9v0.9h-0.9zM84.0 107.5h0.9v0.9h-0.9zM77.2 104.9h0.9v0.9h-0.9zM82.3 106.3h0.9v0.9h-0.9zM91.7 106.1h0.9v0.9h-0.9zM86.0 106.8h0.9v0.9h-0.9zM78.1 102.8h0.9v0.9h-0.9zM86.3 97.5h0.9v0.9h-0.9zM83.4 106.5h0.9v0.9h-0.9zM93.1 106.9h0.9v0.9h-0.9zM81.9 102.4h0.9v0.9h-0.9zM85.4 104.3h0.9v0.9h-0.9zM77.7 96.8h0.9v0.9h-0.9zM88.4 99.2h0.9v0.9h-0.9zM79.1 106.8h0.9v0.9h-0.9zM80.6 108.5h0.9v0.9h-0.9zM76.3 96.0h0.9v0.9h-0.9zM89.4 98.0h0.9v0.9h-0.9zM80.2 104.1h0.9v0.9h-0.9zM77.7 104.6h0.9v0.9h-0.9zM85.3 102.3h0.9v0.9h-0.9zM88.3 99.9h0.9v0.9h-0.9zM80.3 100.5h0.9v0.9h-0.9zM85.0 105.5h0.9v0.9h-0.9zM82.0 105.2h0.9v0.9h-0.9zM77.2 97.1h0.9v0.9h-0.9zM81.9 106.2h0.9v0.9h-0.9zM76.9 89.9h0.9v0.9h-0.9zM76.8 106.9h0.9v0.9h-0.9zM81.5 108.0h0.9v0.9h-0.9zM83.8 100.4h0.9v0.9h-0.9zM91.3 99.8h0.9v0.9h-0.9zM87.1 98.7h0.9v0.9h-0.9zM83.1 100.0h0.9v0.9h-0.9zM80.0 95.3h0.9v0.9h-0.9zM82.5 95.1h0.9v0.9h-0.9zM83.6 104.7h0.9v0.9h-0.9zM87.1 101.1h0.9v0.9h-0.9zM76.9 97.2h0.9v0.9h-0.9zM76.6 100.6h0.9v0.9h-0.9zM80.3 95.6h0.9v0.9h-0.9zM80.4 105.6h0.9v0.9h-0.9zM83.4 96.6h0.9v0.9h-0.9zM86.7 106.8h0.9v0.9h-0.9zM83.1 96.7h0.9v0.9h-0.9zM87.2 107.3h0.9v0.9h-0.9zM87.3 97.0h0.9v0.9h-0.9zM89.0 103.4h0.9v0.9h-0.9zM81.4 100.9h0.9v0.9h-0.9zM76.0 102.1h0.9v0.9h-0.9zM80.1 100.1h0.9v0.9h-0.9zM85.9 98.0h0.9v0.9h-0.9zM90.6 99.2h0.9v0.9h-0.9zM83.5 95.6h0.9v0.9h-0.9zM76.5 101.7h0.9v0.9h-0.9zM87.7 95.5h0.9v0.9h-0.9zM81.0 102.0h0.9v0.9h-0.9zM76.5 105.7h0.9v0.9h-0.9zM92.0 100.5h0.9v0.9h-0.9zM92.8 104.3h0.9v0.9h-0.9zM93.0 104.1h0.9v0.9h-0.9zM89.1 106.1h0.9v0.9h-0.9zM79.8 100.3h0.9v0.9h-0.9zM76.7 96.6h0.9v0.9h-0.9zM86.1 98.8h0.9v0.9h-0.9zM89.5 101.9h0.9v0.9h-0.9zM83.3 102.2h0.9v0.9h-0.9zM85.6 107.5h0.9v0.9h-0.9zM77.9 102.8h0.9v0.9h-0.9zM93.3 99.9h0.9v0.9h-0.9zM93.7 100.8h0.9v0.9h-0.9zM77.1 94.4h0.9v0.9h-0.9zM77.0 106.3h0.9v0.9h-0.9zM80.6 99.8h0.9v0.9h-0.9zM94.6 104.0h0.9v0.9h-0.9zM91.5 99.6h0.9v0.9h-0.9zM80.2 96.5h0.9v0.9h-0.9zM105.0 99.1h0.9v0.9h-0.9zM88.4 105.2h0.9v0.9h-0.9zM91.3 101.1h0.9v0.9h-0.9zM82.9 106.8h0.9v0.9h-0.9zM78.8 105.2h0.9v0.9h-0.9zM79.3 105.1h0.9v0.9h-0.9zM82.1 92.9h0.9v0.9h-0.9zM81.6 95.6h0.9v0.9h-0.9zM86.7 101.1h0.9v0.9h-0.9zM86.0 101.7h0.9v0.9h-0.9zM79.1 101.0h0.9v0.9h-0.9zM86.1 99.6h0.9v0.9h-0.9zM80.4 107.2h0.9v0.9h-0.9zM85.0 99.7h0.9v0.9h-0.9zM91.2 108.5h0.9v0.9h-0.9zM94.2 102.5h0.9v0.9h-0.9zM82.5 108.1h0.9v0.9h-0.9zM84.1 103.5h0.9v0.9h-0.9zM80.3 101.3h0.9v0.9h-0.9zM76.4 99.6h0.9v0.9h-0.9zM83.8 101.3h0.9v0.9h-0.9zM86.5 103.2h0.9v0.9h-0.9zM81.5 102.2h0.9v0.9h-0.9zM81.4 97.7h0.9v0.9h-0.9zM89.3 97.6h0.9v0.9h-0.9zM88.6 102.8h0.9v0.9h-0.9zM81.0 99.8h0.9v0.9h-0.9zM77.5 101.6h0.9v0.9h-0.9zM90.4 100.7h0.9v0.9h-0.9zM85.0 105.0h0.9v0.9h-0.9zM83.9 101.5h0.9v0.9h-0.9zM86.2 103.7h0.9v0.9h-0.9zM81.8 100.5h0.9v0.9h-0.9zM86.4 100.4h0.9v0.9h-0.9zM79.9 104.3h0.9v0.9h-0.9zM86.1 107.2h0.9v0.9h-0.9zM87.6 93.5h0.9v0.9h-0.9zM84.8 100.7h0.9v0.9h-0.9zM88.9 108.2h0.9v0.9h-0.9zM96.2 99.5h0.9v0.9h-0.9zM106.0 99.7h0.9v0.9h-0.9zM87.0 104.8h0.9v0.9h-0.9zM97.2 106.6h0.9v0.9h-0.9zM97.4 102.0h0.9v0.9h-0.9zM85.6 97.0h0.9v0.9h-0.9zM95.0 99.0h0.9v0.9h-0.9zM94.1 96.6h0.9v0.9h-0.9zM88.3 101.5h0.9v0.9h-0.9zM95.9 100.0h0.9v0.9h-0.9zM87.4 91.8h0.9v0.9h-0.9zM102.2 94.3h0.9v0.9h-0.9zM87.9 96.4h0.9v0.9h-0.9zM96.6 96.2h0.9v0.9h-0.9zM94.9 101.4h0.9v0.9h-0.9zM86.5 100.7h0.9v0.9h-0.9zM86.1 99.1h0.9v0.9h-0.9zM95.8 98.8h0.9v0.9h-0.9zM87.6 97.8h0.9v0.9h-0.9zM91.2 101.6h0.9v0.9h-0.9zM80.7 90.7h0.9v0.9h-0.9zM94.5 99.3h0.9v0.9h-0.9zM92.1 100.9h0.9v0.9h-0.9zM91.2 97.6h0.9v0.9h-0.9zM92.5 103.1h0.9v0.9h-0.9zM93.7 99.9h0.9v0.9h-0.9zM86.8 100.9h0.9v0.9h-0.9zM86.3 96.4h0.9v0.9h-0.9zM92.7 100.4h0.9v0.9h-0.9zM97.4 104.1h0.9v0.9h-0.9zM94.4 98.2h0.9v0.9h-0.9zM91.9 98.6h0.9v0.9h-0.9zM100.5 102.0h0.9v0.9h-0.9zM88.8 95.6h0.9v0.9h-0.9zM98.1 95.5h0.9v0.9h-0.9zM93.8 100.7h0.9v0.9h-0.9zM97.3 95.5h0.9v0.9h-0.9zM94.3 100.8h0.9v0.9h-0.9zM95.9 106.5h0.9v0.9h-0.9zM92.5 98.7h0.9v0.9h-0.9zM96.3 92.9h0.9v0.9h-0.9zM92.9 95.0h0.9v0.9h-0.9zM86.1 92.0h0.9v0.9h-0.9zM83.8 103.9h0.9v0.9h-0.9zM96.3 100.3h0.9v0.9h-0.9zM97.1 100.0h0.9v0.9h-0.9zM89.6 94.5h0.9v0.9h-0.9zM95.8 103.9h0.9v0.9h-0.9zM98.3 95.9h0.9v0.9h-0.9zM90.7 93.2h0.9v0.9h-0.9zM97.7 103.4h0.9v0.9h-0.9zM94.6 99.8h0.9v0.9h-0.9zM91.3 98.1h0.9v0.9h-0.9zM97.5 96.8h0.9v0.9h-0.9zM96.5 101.3h0.9v0.9h-0.9zM87.1 92.7h0.9v0.9h-0.9zM88.2 99.7h0.9v0.9h-0.9zM85.7 103.0h0.9v0.9h-0.9zM97.7 102.6h0.9v0.9h-0.9zM83.7 88.3h0.9v0.9h-0.9zM96.4 107.3h0.9v0.9h-0.9zM90.1 102.5h0.9v0.9h-0.9zM90.8 96.7h0.9v0.9h-0.9zM97.0 97.2h0.9v0.9h-0.9zM96.3 108.4h0.9v0.9h-0.9zM85.6 104.4h0.9v0.9h-0.9zM92.3 96.0h0.9v0.9h-0.9zM100.2 92.3h0.9v0.9h-0.9zM94.3 96.1h0.9v0.9h-0.9zM99.0 99.4h0.9v0.9h-0.9zM96.4 99.7h0.9v0.9h-0.9zM86.6 89.2h0.9v0.9h-0.9zM101.0 101.1h0.9v0.9h-0.9zM86.4 98.3h0.9v0.9h-0.9zM97.0 92.5h0.9v0.9h-0.9zM103.4 98.6h0.9v0.9h-0.9zM90.3 106.3h0.9v0.9h-0.9zM93.1 94.9h0.9v0.9h-0.9zM96.6 102.1h0.9v0.9h-0.9zM97.7 95.3h0.9v0.9h-0.9zM86.5 103.0h0.9v0.9h-0.9zM89.9 89.1h0.9v0.9h-0.9zM89.1 103.0h0.9v0.9h-0.9zM88.4 106.2h0.9v0.9h-0.9zM89.5 99.3h0.9v0.9h-0.9zM83.9 95.8h0.9v0.9h-0.9zM91.1 102.7h0.9v0.9h-0.9zM92.9 105.1h0.9v0.9h-0.9zM81.2 99.9h0.9v0.9h-0.9zM91.3 94.6h0.9v0.9h-0.9zM91.8 96.1h0.9v0.9h-0.9zM94.1 98.1h0.9v0.9h-0.9zM94.5 95.3h0.9v0.9h-0.9zM98.3 101.8h0.9v0.9h-0.9zM100.9 99.1h0.9v0.9h-0.9zM89.5 100.5h0.9v0.9h-0.9zM89.7 94.6h0.9v0.9h-0.9zM92.1 99.5h0.9v0.9h-0.9zM88.7 97.9h0.9v0.9h-0.9zM87.1 100.5h0.9v0.9h-0.9zM85.3 108.3h0.9v0.9h-0.9zM92.2 104.5h0.9v0.9h-0.9zM86.0 101.5h0.9v0.9h-0.9zM91.3 104.7h0.9v0.9h-0.9zM96.4 91.6h0.9v0.9h-0.9zM97.8 92.3h0.9v0.9h-0.9zM98.7 99.5h0.9v0.9h-0.9zM86.0 103.3h0.9v0.9h-0.9zM92.2 94.8h0.9v0.9h-0.9zM88.3 102.2h0.9v0.9h-0.9zM85.1 95.5h0.9v0.9h-0.9zM101.3 96.0h0.9v0.9h-0.9zM93.9 102.0h0.9v0.9h-0.9zM96.8 104.2h0.9v0.9h-0.9zM79.3 97.4h0.9v0.9h-0.9zM97.9 95.8h0.9v0.9h-0.9zM101.2 101.1h0.9v0.9h-0.9zM85.9 102.6h0.9v0.9h-0.9zM101.8 96.4h0.9v0.9h-0.9zM94.8 95.4h0.9v0.9h-0.9zM89.1 100.4h0.9v0.9h-0.9zM94.6 101.6h0.9v0.9h-0.9zM86.6 90.5h0.9v0.9h-0.9zM94.8 100.8h0.9v0.9h-0.9zM84.8 108.5h0.9v0.9h-0.9zM88.5 92.7h0.9v0.9h-0.9zM94.1 103.1h0.9v0.9h-0.9zM103.9 92.1h0.9v0.9h-0.9zM85.6 98.4h0.9v0.9h-0.9zM89.8 99.5h0.9v0.9h-0.9zM88.5 92.0h0.9v0.9h-0.9zM89.8 103.4h0.9v0.9h-0.9zM96.0 96.5h0.9v0.9h-0.9zM94.7 101.9h0.9v0.9h-0.9zM89.5 98.1h0.9v0.9h-0.9zM92.9 95.4h0.9v0.9h-0.9zM91.2 97.0h0.9v0.9h-0.9zM97.8 88.9h0.9v0.9h-0.9zM86.5 104.0h0.9v0.9h-0.9zM94.2 100.0h0.9v0.9h-0.9zM95.7 93.1h0.9v0.9h-0.9zM93.9 94.1h0.9v0.9h-0.9zM85.6 102.4h0.9v0.9h-0.9zM88.0 98.0h0.9v0.9h-0.9zM95.2 94.6h0.9v0.9h-0.9zM91.1 104.7h0.9v0.9h-0.9zM96.0 93.5h0.9v0.9h-0.9zM85.2 99.9h0.9v0.9h-0.9zM81.3 100.1h0.9v0.9h-0.9zM93.4 102.2h0.9v0.9h-0.9zM118.2 105.1h0.9v0.9h-0.9zM115.3 105.2h0.9v0.9h-0.9zM118.5 101.1h0.9v0.9h-0.9zM116.0 103.2h0.9v0.9h-0.9zM113.8 102.1h0.9v0.9h-0.9zM120.6 95.0h0.9v0.9h-0.9zM113.1 94.6h0.9v0.9h-0.9zM116.4 100.2h0.9v0.9h-0.9zM119.8 108.0h0.9v0.9h-0.9zM122.5 99.8h0.9v0.9h-0.9zM115.2 92.3h0.9v0.9h-0.9zM119.6 101.0h0.9v0.9h-0.9zM115.6 97.6h0.9v0.9h-0.9zM116.2 85.4h0.9v0.9h-0.9zM116.4 100.1h0.9v0.9h-0.9zM116.1 93.0h0.9v0.9h-0.9zM116.8 100.8h0.9v0.9h-0.9zM123.1 103.8h0.9v0.9h-0.9zM118.7 98.2h0.9v0.9h-0.9zM111.7 96.0h0.9v0.9h-0.9zM111.6 97.9h0.9v0.9h-0.9zM120.5 103.7h0.9v0.9h-0.9zM119.9 98.5h0.9v0.9h-0.9zM120.2 97.0h0.9v0.9h-0.9zM109.4 99.1h0.9v0.9h-0.9zM116.7 89.6h0.9v0.9h-0.9zM114.7 86.0h0.9v0.9h-0.9zM114.8 104.5h0.9v0.9h-0.9zM114.2 105.1h0.9v0.9h-0.9zM117.4 94.7h0.9v0.9h-0.9zM110.1 102.2h0.9v0.9h-0.9zM119.0 90.9h0.9v0.9h-0.9zM115.0 104.0h0.9v0.9h-0.9zM113.9 100.4h0.9v0.9h-0.9zM109.5 93.7h0.9v0.9h-0.9zM119.2 92.4h0.9v0.9h-0.9zM111.3 91.4h0.9v0.9h-0.9zM115.2 90.4h0.9v0.9h-0.9zM116.2 101.2h0.9v0.9h-0.9zM122.2 96.4h0.9v0.9h-0.9zM122.5 101.3h0.9v0.9h-0.9zM115.8 101.0h0.9v0.9h-0.9zM122.1 106.0h0.9v0.9h-0.9zM119.3 97.9h0.9v0.9h-0.9zM119.6 99.5h0.9v0.9h-0.9zM117.2 99.7h0.9v0.9h-0.9zM123.2 92.3h0.9v0.9h-0.9zM116.3 92.9h0.9v0.9h-0.9zM119.7 104.0h0.9v0.9h-0.9zM121.5 96.6h0.9v0.9h-0.9zM116.8 102.3h0.9v0.9h-0.9zM117.3 99.9h0.9v0.9h-0.9zM117.3 99.8h0.9v0.9h-0.9zM116.2 100.7h0.9v0.9h-0.9zM111.3 96.3h0.9v0.9h-0.9zM111.8 98.0h0.9v0.9h-0.9zM113.9 101.2h0.9v0.9h-0.9zM121.2 92.2h0.9v0.9h-0.9zM113.8 100.1h0.9v0.9h-0.9zM121.9 102.4h0.9v0.9h-0.9zM118.2 98.2h0.9v0.9h-0.9zM115.0 100.4h0.9v0.9h-0.9zM118.4 99.3h0.9v0.9h-0.9zM114.5 90.3h0.9v0.9h-0.9zM113.5 96.5h0.9v0.9h-0.9zM112.4 100.1h0.9v0.9h-0.9zM111.4 96.9h0.9v0.9h-0.9zM117.9 102.6h0.9v0.9h-0.9zM117.5 104.5h0.9v0.9h-0.9zM114.4 94.5h0.9v0.9h-0.9zM120.6 94.0h0.9v0.9h-0.9zM116.0 89.7h0.9v0.9h-0.9zM120.7 102.1h0.9v0.9h-0.9zM113.9 89.6h0.9v0.9h-0.9zM117.5 99.8h0.9v0.9h-0.9zM120.8 107.8h0.9v0.9h-0.9zM117.4 97.3h0.9v0.9h-0.9zM115.7 96.9h0.9v0.9h-0.9zM111.6 93.9h0.9v0.9h-0.9zM116.3 90.1h0.9v0.9h-0.9zM111.8 104.6h0.9v0.9h-0.9zM114.1 102.5h0.9v0.9h-0.9zM120.6 98.5h0.9v0.9h-0.9zM119.6 97.5h0.9v0.9h-0.9zM113.4 97.9h0.9v0.9h-0.9zM116.8 99.0h0.9v0.9h-0.9zM116.9 96.4h0.9v0.9h-0.9zM120.4 97.4h0.9v0.9h-0.9zM115.1 103.1h0.9v0.9h-0.9zM113.0 98.4h0.9v0.9h-0.9zM122.0 98.8h0.9v0.9h-0.9zM121.8 97.2h0.9v0.9h-0.9zM114.8 97.7h0.9v0.9h-0.9zM114.6 96.7h0.9v0.9h-0.9zM115.0 102.5h0.9v0.9h-0.9zM118.1 97.4h0.9v0.9h-0.9zM115.9 105.5h0.9v0.9h-0.9zM112.4 94.8h0.9v0.9h-0.9zM121.1 93.0h0.9v0.9h-0.9zM112.8 98.2h0.9v0.9h-0.9zM114.0 97.0h0.9v0.9h-0.9zM117.2 102.9h0.9v0.9h-0.9zM117.3 100.0h0.9v0.9h-0.9zM121.4 105.6h0.9v0.9h-0.9zM115.4 89.2h0.9v0.9h-0.9zM113.0 103.9h0.9v0.9h-0.9zM114.9 95.0h0.9v0.9h-0.9zM115.0 106.5h0.9v0.9h-0.9zM116.9 96.6h0.9v0.9h-0.9zM114.1 93.0h0.9v0.9h-0.9zM126.9 98.3h0.9v0.9h-0.9zM117.2 96.9h0.9v0.9h-0.9zM120.5 93.5h0.9v0.9h-0.9zM109.7 95.6h0.9v0.9h-0.9zM116.4 94.2h0.9v0.9h-0.9zM115.8 94.6h0.9v0.9h-0.9zM113.8 99.0h0.9v0.9h-0.9zM117.7 95.2h0.9v0.9h-0.9zM120.6 98.1h0.9v0.9h-0.9zM117.1 95.9h0.9v0.9h-0.9zM118.0 100.6h0.9v0.9h-0.9zM119.1 94.4h0.9v0.9h-0.9zM119.0 95.7h0.9v0.9h-0.9zM117.0 102.3h0.9v0.9h-0.9zM122.2 96.3h0.9v0.9h-0.9zM112.7 99.3h0.9v0.9h-0.9zM121.1 96.9h0.9v0.9h-0.9zM125.5 89.1h0.9v0.9h-0.9zM122.1 104.4h0.9v0.9h-0.9zM120.7 94.4h0.9v0.9h-0.9zM121.6 104.5h0.9v0.9h-0.9zM121.2 97.4h0.9v0.9h-0.9zM115.8 105.1h0.9v0.9h-0.9zM118.0 96.8h0.9v0.9h-0.9zM113.7 99.9h0.9v0.9h-0.9zM111.8 101.5h0.9v0.9h-0.9zM117.3 90.8h0.9v0.9h-0.9zM118.4 104.6h0.9v0.9h-0.9zM117.6 91.9h0.9v0.9h-0.9zM114.5 102.8h0.9v0.9h-0.9zM112.0 96.7h0.9v0.9h-0.9zM120.8 97.1h0.9v0.9h-0.9zM114.6 102.6h0.9v0.9h-0.9zM122.5 100.6h0.9v0.9h-0.9zM111.9 90.4h0.9v0.9h-0.9zM115.8 89.5h0.9v0.9h-0.9zM116.4 103.1h0.9v0.9h-0.9zM107.0 97.7h0.9v0.9h-0.9zM117.9 95.8h0.9v0.9h-0.9zM118.1 101.1h0.9v0.9h-0.9zM117.8 94.0h0.9v0.9h-0.9zM113.0 92.3h0.9v0.9h-0.9zM119.3 100.3h0.9v0.9h-0.9zM118.4 99.5h0.9v0.9h-0.9zM122.5 104.1h0.9v0.9h-0.9zM120.4 95.1h0.9v0.9h-0.9zM115.5 92.0h0.9v0.9h-0.9zM114.3 99.0h0.9v0.9h-0.9zM112.2 95.3h0.9v0.9h-0.9zM124.0 97.6h0.9v0.9h-0.9zM111.2 92.2h0.9v0.9h-0.9zM116.4 102.8h0.9v0.9h-0.9zM116.4 102.9h0.9v0.9h-0.9zM117.8 92.9h0.9v0.9h-0.9zM120.4 96.3h0.9v0.9h-0.9zM123.5 95.6h0.9v0.9h-0.9zM116.2 95.8h0.9v0.9h-0.9zM115.7 100.9h0.9v0.9h-0.9zM116.0 104.5h0.9v0.9h-0.9zM118.2 106.5h0.9v0.9h-0.9zM116.9 105.1h0.9v0.9h-0.9zM121.1 97.9h0.9v0.9h-0.9zM125.9 106.2h0.9v0.9h-0.9zM118.7 97.6h0.9v0.9h-0.9zM116.4 97.7h0.9v0.9h-0.9zM117.8 92.9h0.9v0.9h-0.9zM116.9 95.6h0.9v0.9h-0.9zM122.8 102.5h0.9v0.9h-0.9zM118.1 101.8h0.9v0.9h-0.9zM113.3 99.1h0.9v0.9h-0.9zM122.0 101.2h0.9v0.9h-0.9zM115.4 98.7h0.9v0.9h-0.9zM114.1 95.3h0.9v0.9h-0.9zM111.6 104.3h0.9v0.9h-0.9zM120.7 98.1h0.9v0.9h-0.9zM111.9 97.5h0.9v0.9h-0.9zM124.1 92.0h0.9v0.9h-0.9zM115.0 96.3h0.9v0.9h-0.9zM119.7 92.3h0.9v0.9h-0.9zM117.7 94.6h0.9v0.9h-0.9zM115.5 92.6h0.9v0.9h-0.9zM118.7 96.2h0.9v0.9h-0.9zM114.6 104.2h0.9v0.9h-0.9zM118.3 99.1h0.9v0.9h-0.9zM121.3 97.3h0.9v0.9h-0.9zM118.0 96.1h0.9v0.9h-0.9zM119.2 96.2h0.9v0.9h-0.9zM114.8 101.0h0.9v0.9h-0.9zM121.7 103.0h0.9v0.9h-0.9zM119.5 98.9h0.9v0.9h-0.9zM108.1 97.9h0.9v0.9h-0.9zM116.0 101.4h0.9v0.9h-0.9zM123.2 102.5h0.9v0.9h-0.9zM110.5 98.8h0.9v0.9h-0.9zM115.9 102.3h0.9v0.9h-0.9zM116.6 89.0h0.9v0.9h-0.9zM113.5 97.0h0.9v0.9h-0.9zM109.3 98.0h0.9v0.9h-0.9zM115.7 104.0h0.9v0.9h-0.9zM116.3 95.5h0.9v0.9h-0.9zM116.3 98.7h0.9v0.9h-0.9zM120.2 93.8h0.9v0.9h-0.9zM119.5 98.8h0.9v0.9h-0.9zM125.5 92.8h0.9v0.9h-0.9zM113.8 96.3h0.9v0.9h-0.9zM118.5 96.2h0.9v0.9h-0.9zM119.5 96.8h0.9v0.9h-0.9zM121.4 100.9h0.9v0.9h-0.9zM110.6 98.4h0.9v0.9h-0.9zM112.5 97.8h0.9v0.9h-0.9zM115.8 90.3h0.9v0.9h-0.9zM117.0 92.6h0.9v0.9h-0.9zM123.3 102.1h0.9v0.9h-0.9zM122.4 96.5h0.9v0.9h-0.9zM112.8 100.0h0.9v0.9h-0.9zM111.6 93.6h0.9v0.9h-0.9zM113.8 97.7h0.9v0.9h-0.9zM111.0 88.0h0.9v0.9h-0.9zM121.8 95.7h0.9v0.9h-0.9zM115.9 101.5h0.9v0.9h-0.9zM118.2 95.1h0.9v0.9h-0.9zM115.0 106.7h0.9v0.9h-0.9zM121.2 102.3h0.9v0.9h-0.9zM122.7 88.9h0.9v0.9h-0.9zM117.1 97.1h0.9v0.9h-0.9zM109.6 100.3h0.9v0.9h-0.9zM119.0 99.9h0.9v0.9h-0.9zM110.0 97.4h0.9v0.9h-0.9zM117.5 97.3h0.9v0.9h-0.9zM117.7 101.1h0.9v0.9h-0.9zM121.9 99.8h0.9v0.9h-0.9zM126.4 99.7h0.9v0.9h-0.9zM117.8 102.6h0.9v0.9h-0.9zM116.5 97.0h0.9v0.9h-0.9zM121.3 87.7h0.9v0.9h-0.9zM119.4 101.4h0.9v0.9h-0.9zM117.9 100.1h0.9v0.9h-0.9zM113.3 97.2h0.9v0.9h-0.9zM113.0 104.5h0.9v0.9h-0.9zM119.1 99.9h0.9v0.9h-0.9zM118.2 98.0h0.9v0.9h-0.9zM112.5 107.4h0.9v0.9h-0.9zM119.2 97.8h0.9v0.9h-0.9zM119.0 105.2h0.9v0.9h-0.9zM121.1 102.1h0.9v0.9h-0.9zM119.8 97.5h0.9v0.9h-0.9zM121.8 103.5h0.9v0.9h-0.9zM120.3 92.1h0.9v0.9h-0.9zM119.2 102.1h0.9v0.9h-0.9zM119.7 85.4h0.9v0.9h-0.9zM109.9 100.1h0.9v0.9h-0.9zM113.3 100.6h0.9v0.9h-0.9zM116.4 103.0h0.9v0.9h-0.9zM114.7 93.2h0.9v0.9h-0.9zM118.6 97.2h0.9v0.9h-0.9zM112.4 88.4h0.9v0.9h-0.9zM128.3 96.7h0.9v0.9h-0.9zM115.8 88.5h0.9v0.9h-0.9zM112.9 97.7h0.9v0.9h-0.9zM117.9 102.5h0.9v0.9h-0.9zM113.9 101.0h0.9v0.9h-0.9zM120.9 95.9h0.9v0.9h-0.9zM116.4 89.3h0.9v0.9h-0.9zM113.6 91.4h0.9v0.9h-0.9zM119.1 97.6h0.9v0.9h-0.9zM122.5 99.5h0.9v0.9h-0.9zM119.6 101.2h0.9v0.9h-0.9zM117.4 93.0h0.9v0.9h-0.9zM122.8 98.1h0.9v0.9h-0.9zM109.8 95.6h0.9v0.9h-0.9zM112.6 104.6h0.9v0.9h-0.9zM120.5 106.4h0.9v0.9h-0.9zM124.8 95.2h0.9v0.9h-0.9zM109.7 93.7h0.9v0.9h-0.9zM118.2 84.6h0.9v0.9h-0.9zM114.4 102.9h0.9v0.9h-0.9zM113.5 97.9h0.9v0.9h-0.9zM113.3 107.6h0.9v0.9h-0.9zM123.9 93.3h0.9v0.9h-0.9zM113.5 99.2h0.9v0.9h-0.9zM119.3 100.8h0.9v0.9h-0.9zM119.2 103.8h0.9v0.9h-0.9zM121.3 108.6h0.9v0.9h-0.9zM117.6 96.5h0.9v0.9h-0.9zM120.2 102.8h0.9v0.9h-0.9zM122.1 105.5h0.9v0.9h-0.9zM125.9 94.9h0.9v0.9h-0.9zM117.9 103.1h0.9v0.9h-0.9zM120.2 97.1h0.9v0.9h-0.9zM111.0 97.7h0.9v0.9h-0.9zM114.5 98.5h0.9v0.9h-0.9zM121.2 102.7h0.9v0.9h-0.9zM112.8 95.1h0.9v0.9h-0.9zM117.7 104.9h0.9v0.9h-0.9zM116.8 100.1h0.9v0.9h-0.9zM111.3 96.4h0.9v0.9h-0.9zM114.0 99.9h0.9v0.9h-0.9zM115.9 94.3h0.9v0.9h-0.9zM112.8 99.9h0.9v0.9h-0.9zM114.4 104.6h0.9v0.9h-0.9zM117.4 97.3h0.9v0.9h-0.9zM120.2 92.5h0.9v0.9h-0.9zM120.2 94.9h0.9v0.9h-0.9zM119.5 95.1h0.9v0.9h-0.9zM113.2 89.0h0.9v0.9h-0.9zM116.9 101.1h0.9v0.9h-0.9zM111.5 107.8h0.9v0.9h-0.9zM116.6 92.7h0.9v0.9h-0.9zM124.0 96.4h0.9v0.9h-0.9zM122.1 83.9h0.9v0.9h-0.9z" fill="#000" fill-opacity="0.85"/>
<rect x="74.8" y="29.2" width="88.89999999999999" height="80.6" fill="none" stroke="#444" stroke-width="1.0" />
<path d="M74.8 109.8v2.2M74.8 109.8h-2.2M81.5 109.8v1.3M74.8 103.7h-1.3M85.4 109.8v1.3M74.8 100.2h-1.3M88.2 109.8v1.3M74.8 97.7h-1.3M90.3 109.8v1.3M74.8 95.7h-1.3M92.1 109.8v1.3M74.8 94.1h-1.3M93.6 109.8v1.3M74.8 92.8h-1.3M94.9 109.8v1.3M74.8 91.6h-1.3M96.0 109.8v1.3M74.8 90.6h-1.3M97.0 109.8v2.2M74.8 89.7h-2.2M103.7 109.8v1.3M74.8 83.6h-1.3M107.6 109.8v1.3M74.8 80.0h-1.3M110.4 109.8v1.3M74.8 77.5h-1.3M112.6 109.8v1.3M74.8 75.6h-1.3M114.3 109.8v1.3M74.8 74.0h-1.3M115.8 109.8v1.3M74.8 72.6h-1.3M117.1 109.8v1.3M74.8 71.5h-1.3M118.2 109.8v1.3M74.8 70.4h-1.3M119.2 109.8v2.2M74.8 69.5h-2.2M125.9 109.8v1.3M74.8 63.4h-1.3M129.9 109.8v1.3M74.8 59.9h-1.3M132.6 109.8v1.3M74.8 57.4h-1.3M134.8 109.8v1.3M74.8 55.4h-1.3M136.5 109.8v1.3M74.8 53.8h-1.3M138.0 109.8v1.3M74.8 52.5h-1.3M139.3 109.8v1.3M74.8 51.3h-1.3M140.5 109.8v1.3M74.8 50.3h-1.3M141.5 109.8v2.2M74.8 49.4h-2.2M148.2 109.8v1.3M74.8 43.3h-1.3M152.1 109.8v1.3M74.8 39.7h-1.3M154.9 109.8v1.3M74.8 37.2h-1.3M157.0 109.8v1.3M74.8 35.3h-1.3M158.8 109.8v1.3M74.8 33.7h-1.3M160.3 109.8v1.3M74.8 32.3h-1.3M161.5 109.8v1.3M74.8 31.2h-1.3M162.7 109.8v1.3M74.8 30.1h-1.3M163.7 109.8v2.2M74.8 29.2h-2.2" stroke="#000" stroke-width="0.6" fill="none"/>
<text x="76.2" y="116.8" font-size="5.6" text-anchor="middle" stroke="#000" stroke-width="0.15">10<tspan font-size="4.03" dy="-2.35">0</tspan></text>
<text x="98.425" y="116.8" font-size="5.6" text-anchor="middle" stroke="#000" stroke-width="0.15">10<tspan font-size="4.03" dy="-2.35">1</tspan></text>
<text x="120.65" y="116.8" font-size="5.6" text-anchor="middle" stroke="#000" stroke-width="0.15">10<tspan font-size="4.03" dy="-2.35">2</tspan></text>
<text x="142.875" y="116.8" font-size="5.6" text-anchor="middle" stroke="#000" stroke-width="0.15">10<tspan font-size="4.03" dy="-2.35">3</tspan></text>
<text x="165.1" y="116.8" font-size="5.6" text-anchor="middle" stroke="#000" stroke-width="0.15">10<tspan font-size="4.03" dy="-2.35">4</tspan></text>
<text transform="translate(70.6,108.67999999999999) rotate(-90)" font-size="5.6" text-anchor="middle" stroke="#000" stroke-width="0.15">10<tspan font-size="4.03" dy="-2.35">0</tspan></text>
<text transform="translate(70.6,88.53) rotate(-90)" font-size="5.6" text-anchor="middle" stroke="#000" stroke-width="0.15">10<tspan font-size="4.03" dy="-2.35">1</tspan></text>
<text transform="translate(70.6,68.38) rotate(-90)" font-size="5.6" text-anchor="middle" stroke="#000" stroke-width="0.15">10<tspan font-size="4.03" dy="-2.35">2</tspan></text>
<text transform="translate(70.6,48.230000000000004) rotate(-90)" font-size="5.6" text-anchor="middle" stroke="#000" stroke-width="0.15">10<tspan font-size="4.03" dy="-2.35">3</tspan></text>
<text transform="translate(70.6,28.080000000000002) rotate(-90)" font-size="5.6" text-anchor="middle" stroke="#000" stroke-width="0.15">10<tspan font-size="4.03" dy="-2.35">4</tspan></text>
<text x="119.75" y="122.96" font-size="5.319999999999999" text-anchor="middle" fill="#000" stroke="#000" stroke-width="0.15">FL2-H</text>
<text transform="translate(64.16,70.5) rotate(-90)" font-size="4.76" text-anchor="middle" fill="#000" stroke="#000" stroke-width="0.15">FL1-H</text>
<line x1="74.8" y1="29.2" x2="74.8" y2="109.8" stroke="#000" stroke-width="1.4" />
<line x1="74.8" y1="109.8" x2="163.7" y2="109.8" stroke="#000" stroke-width="1.2" />
<line x1="106.6" y1="29.2" x2="106.6" y2="109.8" stroke="#000" stroke-width="1.8" />
<line x1="123.8" y1="29.2" x2="123.8" y2="109.8" stroke="#000" stroke-width="1.8" />
<path d="M100.0 183.5h0.9v0.9h-0.9zM103.9 189.8h0.9v0.9h-0.9zM83.2 191.0h0.9v0.9h-0.9zM96.6 180.9h0.9v0.9h-0.9zM102.2 187.5h0.9v0.9h-0.9zM94.9 182.7h0.9v0.9h-0.9zM95.5 182.9h0.9v0.9h-0.9zM78.7 179.8h0.9v0.9h-0.9zM99.4 169.5h0.9v0.9h-0.9zM82.5 188.6h0.9v0.9h-0.9zM83.4 170.6h0.9v0.9h-0.9zM87.0 171.8h0.9v0.9h-0.9zM79.2 190.6h0.9v0.9h-0.9zM94.8 188.4h0.9v0.9h-0.9zM79.3 184.4h0.9v0.9h-0.9zM78.6 170.2h0.9v0.9h-0.9zM78.3 175.0h0.9v0.9h-0.9zM99.8 175.9h0.9v0.9h-0.9zM96.8 175.1h0.9v0.9h-0.9zM83.2 174.8h0.9v0.9h-0.9zM86.0 186.7h0.9v0.9h-0.9zM100.4 174.4h0.9v0.9h-0.9zM100.2 173.8h0.9v0.9h-0.9zM103.7 173.2h0.9v0.9h-0.9zM101.7 190.5h0.9v0.9h-0.9zM82.6 180.6h0.9v0.9h-0.9zM95.9 179.6h0.9v0.9h-0.9zM105.0 169.6h0.9v0.9h-0.9zM89.3 190.4h0.9v0.9h-0.9zM87.7 185.9h0.9v0.9h-0.9zM77.1 180.7h0.9v0.9h-0.9zM79.6 179.6h0.9v0.9h-0.9zM80.8 180.4h0.9v0.9h-0.9zM81.8 186.3h0.9v0.9h-0.9zM91.5 184.8h0.9v0.9h-0.9zM97.3 178.7h0.9v0.9h-0.9zM77.6 186.3h0.9v0.9h-0.9zM86.8 180.3h0.9v0.9h-0.9zM93.6 191.6h0.9v0.9h-0.9zM99.5 188.9h0.9v0.9h-0.9zM91.6 182.8h0.9v0.9h-0.9zM86.4 179.2h0.9v0.9h-0.9zM98.7 180.3h0.9v0.9h-0.9zM101.2 182.7h0.9v0.9h-0.9zM99.3 183.5h0.9v0.9h-0.9zM95.0 179.6h0.9v0.9h-0.9zM98.9 173.8h0.9v0.9h-0.9zM101.7 173.6h0.9v0.9h-0.9zM89.2 182.4h0.9v0.9h-0.9zM84.2 190.7h0.9v0.9h-0.9zM77.6 176.1h0.9v0.9h-0.9zM93.9 178.9h0.9v0.9h-0.9zM91.9 191.7h0.9v0.9h-0.9zM84.8 175.3h0.9v0.9h-0.9zM85.4 174.8h0.9v0.9h-0.9zM89.0 179.1h0.9v0.9h-0.9zM97.7 185.4h0.9v0.9h-0.9zM85.5 191.9h0.9v0.9h-0.9zM84.4 188.0h0.9v0.9h-0.9zM90.9 189.9h0.9v0.9h-0.9zM113.0 177.7h0.9v0.9h-0.9zM113.6 187.6h0.9v0.9h-0.9zM121.7 173.8h0.9v0.9h-0.9zM117.7 170.2h0.9v0.9h-0.9zM120.2 175.2h0.9v0.9h-0.9zM110.9 192.0h0.9v0.9h-0.9zM119.5 174.7h0.9v0.9h-0.9zM120.9 170.3h0.9v0.9h-0.9zM114.6 173.4h0.9v0.9h-0.9zM117.1 182.3h0.9v0.9h-0.9zM120.1 190.5h0.9v0.9h-0.9zM114.4 170.5h0.9v0.9h-0.9zM115.4 185.0h0.9v0.9h-0.9zM116.1 175.4h0.9v0.9h-0.9zM118.2 182.0h0.9v0.9h-0.9zM117.7 191.0h0.9v0.9h-0.9zM121.4 171.7h0.9v0.9h-0.9zM119.8 177.7h0.9v0.9h-0.9zM118.3 178.9h0.9v0.9h-0.9zM122.9 187.7h0.9v0.9h-0.9zM139.0 172.9h0.9v0.9h-0.9zM128.6 166.6h0.9v0.9h-0.9zM136.9 179.6h0.9v0.9h-0.9zM144.5 181.0h0.9v0.9h-0.9zM130.1 208.1h0.9v0.9h-0.9zM135.9 199.8h0.9v0.9h-0.9zM131.0 187.7h0.9v0.9h-0.9zM140.3 209.2h0.9v0.9h-0.9zM127.4 188.4h0.9v0.9h-0.9zM140.9 174.7h0.9v0.9h-0.9zM133.2 172.3h0.9v0.9h-0.9zM129.6 176.1h0.9v0.9h-0.9zM139.4 171.1h0.9v0.9h-0.9zM141.8 170.1h0.9v0.9h-0.9zM134.3 206.9h0.9v0.9h-0.9zM140.8 205.7h0.9v0.9h-0.9zM127.3 176.1h0.9v0.9h-0.9zM130.6 201.2h0.9v0.9h-0.9z" fill="#888" fill-opacity="0.7"/>
<path d="M89.8 166.4h0.9v0.9h-0.9zM83.6 164.8h0.9v0.9h-0.9zM100.3 165.9h0.9v0.9h-0.9zM101.0 165.6h0.9v0.9h-0.9zM97.9 165.4h0.9v0.9h-0.9zM92.7 166.0h0.9v0.9h-0.9zM99.9 161.9h0.9v0.9h-0.9zM90.7 161.7h0.9v0.9h-0.9zM90.0 163.1h0.9v0.9h-0.9zM92.3 164.8h0.9v0.9h-0.9zM99.6 167.4h0.9v0.9h-0.9zM90.6 164.4h0.9v0.9h-0.9zM97.9 164.2h0.9v0.9h-0.9zM92.6 162.1h0.9v0.9h-0.9zM98.4 165.7h0.9v0.9h-0.9zM89.7 163.0h0.9v0.9h-0.9zM89.2 166.0h0.9v0.9h-0.9zM92.2 163.2h0.9v0.9h-0.9zM93.0 166.8h0.9v0.9h-0.9zM101.1 167.6h0.9v0.9h-0.9zM95.4 165.8h0.9v0.9h-0.9zM96.3 166.5h0.9v0.9h-0.9zM97.8 163.7h0.9v0.9h-0.9zM91.1 164.7h0.9v0.9h-0.9zM98.4 164.5h0.9v0.9h-0.9zM90.9 167.1h0.9v0.9h-0.9zM102.3 163.8h0.9v0.9h-0.9zM94.1 167.3h0.9v0.9h-0.9zM92.8 166.9h0.9v0.9h-0.9zM87.6 165.0h0.9v0.9h-0.9zM98.2 168.0h0.9v0.9h-0.9zM99.7 162.5h0.9v0.9h-0.9zM87.0 163.8h0.9v0.9h-0.9zM99.1 166.6h0.9v0.9h-0.9zM100.4 166.5h0.9v0.9h-0.9zM91.9 164.7h0.9v0.9h-0.9zM90.3 166.8h0.9v0.9h-0.9zM88.4 165.4h0.9v0.9h-0.9zM96.1 167.5h0.9v0.9h-0.9zM90.9 166.0h0.9v0.9h-0.9zM89.7 167.1h0.9v0.9h-0.9zM93.0 164.8h0.9v0.9h-0.9zM90.0 164.3h0.9v0.9h-0.9zM91.5 164.3h0.9v0.9h-0.9zM100.7 163.6h0.9v0.9h-0.9zM96.1 166.8h0.9v0.9h-0.9zM89.0 161.6h0.9v0.9h-0.9zM97.2 162.5h0.9v0.9h-0.9zM90.9 165.2h0.9v0.9h-0.9zM96.2 164.9h0.9v0.9h-0.9zM91.2 167.1h0.9v0.9h-0.9zM96.0 168.7h0.9v0.9h-0.9zM90.2 165.2h0.9v0.9h-0.9zM94.6 166.3h0.9v0.9h-0.9zM96.0 165.4h0.9v0.9h-0.9zM104.8 165.1h0.9v0.9h-0.9zM97.1 165.7h0.9v0.9h-0.9zM91.7 166.6h0.9v0.9h-0.9zM85.4 167.3h0.9v0.9h-0.9zM87.0 164.8h0.9v0.9h-0.9zM95.4 164.5h0.9v0.9h-0.9zM92.2 167.4h0.9v0.9h-0.9zM107.0 167.1h0.9v0.9h-0.9zM95.7 164.3h0.9v0.9h-0.9zM91.0 167.4h0.9v0.9h-0.9zM99.4 167.6h0.9v0.9h-0.9zM99.9 167.6h0.9v0.9h-0.9zM91.8 164.0h0.9v0.9h-0.9zM89.7 165.3h0.9v0.9h-0.9zM93.9 165.5h0.9v0.9h-0.9zM88.7 165.6h0.9v0.9h-0.9zM98.9 165.5h0.9v0.9h-0.9zM81.2 165.3h0.9v0.9h-0.9zM93.0 166.9h0.9v0.9h-0.9zM94.0 166.4h0.9v0.9h-0.9zM92.9 165.9h0.9v0.9h-0.9zM99.7 164.9h0.9v0.9h-0.9zM96.4 165.6h0.9v0.9h-0.9zM97.9 165.1h0.9v0.9h-0.9zM97.2 162.2h0.9v0.9h-0.9zM93.7 166.8h0.9v0.9h-0.9zM98.2 163.7h0.9v0.9h-0.9zM90.8 166.0h0.9v0.9h-0.9zM96.6 166.1h0.9v0.9h-0.9zM95.1 165.5h0.9v0.9h-0.9zM100.0 163.7h0.9v0.9h-0.9zM87.8 167.1h0.9v0.9h-0.9zM91.0 166.5h0.9v0.9h-0.9zM91.4 163.4h0.9v0.9h-0.9zM102.6 165.2h0.9v0.9h-0.9zM87.7 165.0h0.9v0.9h-0.9zM93.9 165.0h0.9v0.9h-0.9zM95.6 163.4h0.9v0.9h-0.9zM93.3 166.1h0.9v0.9h-0.9zM97.9 165.5h0.9v0.9h-0.9zM90.7 161.9h0.9v0.9h-0.9zM102.1 163.4h0.9v0.9h-0.9zM92.5 165.3h0.9v0.9h-0.9zM97.0 165.3h0.9v0.9h-0.9zM90.7 165.3h0.9v0.9h-0.9zM105.2 169.6h0.9v0.9h-0.9zM93.7 166.4h0.9v0.9h-0.9zM86.0 165.7h0.9v0.9h-0.9zM98.4 164.8h0.9v0.9h-0.9zM103.9 166.8h0.9v0.9h-0.9zM97.9 160.9h0.9v0.9h-0.9zM91.7 166.5h0.9v0.9h-0.9zM92.3 162.3h0.9v0.9h-0.9zM91.9 167.9h0.9v0.9h-0.9zM98.2 166.8h0.9v0.9h-0.9zM95.8 168.1h0.9v0.9h-0.9zM80.8 163.3h0.9v0.9h-0.9zM104.5 167.1h0.9v0.9h-0.9zM96.1 164.8h0.9v0.9h-0.9zM85.8 164.6h0.9v0.9h-0.9zM94.1 163.8h0.9v0.9h-0.9zM101.8 167.1h0.9v0.9h-0.9zM93.4 166.9h0.9v0.9h-0.9zM94.6 165.8h0.9v0.9h-0.9zM92.5 169.6h0.9v0.9h-0.9zM87.3 165.1h0.9v0.9h-0.9zM100.1 167.1h0.9v0.9h-0.9zM86.7 163.7h0.9v0.9h-0.9zM94.4 164.0h0.9v0.9h-0.9zM91.5 164.9h0.9v0.9h-0.9zM94.1 167.2h0.9v0.9h-0.9zM86.3 167.2h0.9v0.9h-0.9zM93.7 166.4h0.9v0.9h-0.9zM93.1 169.4h0.9v0.9h-0.9zM85.8 167.4h0.9v0.9h-0.9zM92.7 165.0h0.9v0.9h-0.9zM102.0 165.0h0.9v0.9h-0.9zM99.5 167.9h0.9v0.9h-0.9zM91.9 168.8h0.9v0.9h-0.9zM101.3 165.0h0.9v0.9h-0.9zM96.1 164.2h0.9v0.9h-0.9zM96.4 166.9h0.9v0.9h-0.9zM100.0 165.8h0.9v0.9h-0.9zM92.4 164.3h0.9v0.9h-0.9zM90.2 164.9h0.9v0.9h-0.9zM98.0 164.4h0.9v0.9h-0.9zM91.5 163.6h0.9v0.9h-0.9zM97.8 164.9h0.9v0.9h-0.9zM86.8 167.3h0.9v0.9h-0.9zM100.3 165.4h0.9v0.9h-0.9zM93.2 165.3h0.9v0.9h-0.9zM90.3 167.1h0.9v0.9h-0.9zM101.9 167.1h0.9v0.9h-0.9zM96.1 165.8h0.9v0.9h-0.9zM97.6 168.3h0.9v0.9h-0.9zM91.0 165.4h0.9v0.9h-0.9zM91.5 163.3h0.9v0.9h-0.9zM96.6 167.3h0.9v0.9h-0.9zM89.6 167.1h0.9v0.9h-0.9zM98.3 166.2h0.9v0.9h-0.9zM101.8 164.3h0.9v0.9h-0.9zM103.0 164.8h0.9v0.9h-0.9zM97.7 162.8h0.9v0.9h-0.9zM99.8 165.4h0.9v0.9h-0.9zM92.1 163.6h0.9v0.9h-0.9zM95.9 167.6h0.9v0.9h-0.9zM97.6 164.8h0.9v0.9h-0.9zM91.1 163.6h0.9v0.9h-0.9zM93.3 162.6h0.9v0.9h-0.9zM93.0 167.2h0.9v0.9h-0.9zM94.6 165.1h0.9v0.9h-0.9zM91.9 166.6h0.9v0.9h-0.9zM98.1 167.8h0.9v0.9h-0.9zM91.4 163.5h0.9v0.9h-0.9zM91.8 163.3h0.9v0.9h-0.9zM94.6 164.6h0.9v0.9h-0.9zM90.5 165.3h0.9v0.9h-0.9zM99.9 166.6h0.9v0.9h-0.9zM91.7 165.4h0.9v0.9h-0.9zM96.4 166.5h0.9v0.9h-0.9zM93.1 163.1h0.9v0.9h-0.9zM96.5 163.7h0.9v0.9h-0.9zM93.0 164.9h0.9v0.9h-0.9zM99.4 164.5h0.9v0.9h-0.9zM95.6 165.0h0.9v0.9h-0.9zM92.1 166.8h0.9v0.9h-0.9zM92.5 166.1h0.9v0.9h-0.9zM96.2 162.2h0.9v0.9h-0.9zM86.6 160.0h0.9v0.9h-0.9zM96.3 165.8h0.9v0.9h-0.9zM92.2 164.4h0.9v0.9h-0.9zM93.2 164.3h0.9v0.9h-0.9zM94.6 165.3h0.9v0.9h-0.9zM90.4 167.8h0.9v0.9h-0.9zM99.9 164.6h0.9v0.9h-0.9zM105.7 169.5h0.9v0.9h-0.9zM101.0 167.4h0.9v0.9h-0.9zM91.9 164.8h0.9v0.9h-0.9zM87.0 164.6h0.9v0.9h-0.9zM99.7 164.7h0.9v0.9h-0.9zM86.5 168.1h0.9v0.9h-0.9zM104.7 167.9h0.9v0.9h-0.9zM87.2 166.8h0.9v0.9h-0.9zM90.7 165.1h0.9v0.9h-0.9zM98.4 168.0h0.9v0.9h-0.9zM81.4 164.7h0.9v0.9h-0.9zM78.8 165.4h0.9v0.9h-0.9zM80.0 164.5h0.9v0.9h-0.9zM86.9 165.3h0.9v0.9h-0.9zM84.4 165.9h0.9v0.9h-0.9zM87.1 167.9h0.9v0.9h-0.9zM79.2 162.5h0.9v0.9h-0.9zM86.0 166.6h0.9v0.9h-0.9zM89.5 166.8h0.9v0.9h-0.9zM90.9 166.3h0.9v0.9h-0.9zM81.4 167.2h0.9v0.9h-0.9zM80.3 164.1h0.9v0.9h-0.9zM85.6 164.9h0.9v0.9h-0.9zM87.7 164.7h0.9v0.9h-0.9zM91.3 163.5h0.9v0.9h-0.9zM86.8 164.5h0.9v0.9h-0.9zM89.6 164.3h0.9v0.9h-0.9zM87.0 159.6h0.9v0.9h-0.9zM81.0 168.4h0.9v0.9h-0.9zM84.7 165.5h0.9v0.9h-0.9zM87.5 169.7h0.9v0.9h-0.9zM79.5 165.2h0.9v0.9h-0.9zM82.1 166.7h0.9v0.9h-0.9zM81.1 162.6h0.9v0.9h-0.9zM77.8 166.6h0.9v0.9h-0.9zM84.8 166.9h0.9v0.9h-0.9zM77.5 163.8h0.9v0.9h-0.9zM81.8 166.9h0.9v0.9h-0.9zM85.8 165.1h0.9v0.9h-0.9zM79.9 165.7h0.9v0.9h-0.9zM82.1 167.0h0.9v0.9h-0.9zM91.0 165.6h0.9v0.9h-0.9zM79.5 169.7h0.9v0.9h-0.9zM86.6 166.4h0.9v0.9h-0.9zM84.5 165.7h0.9v0.9h-0.9zM84.4 165.9h0.9v0.9h-0.9zM78.0 164.1h0.9v0.9h-0.9zM83.7 165.7h0.9v0.9h-0.9zM84.8 166.2h0.9v0.9h-0.9zM76.7 163.7h0.9v0.9h-0.9zM129.3 164.7h0.9v0.9h-0.9zM130.4 168.8h0.9v0.9h-0.9zM129.9 163.9h0.9v0.9h-0.9zM127.2 168.4h0.9v0.9h-0.9zM131.0 164.2h0.9v0.9h-0.9zM129.3 164.6h0.9v0.9h-0.9zM130.0 167.1h0.9v0.9h-0.9zM129.0 163.5h0.9v0.9h-0.9zM129.6 165.7h0.9v0.9h-0.9zM131.6 166.6h0.9v0.9h-0.9zM132.1 165.7h0.9v0.9h-0.9zM131.0 166.4h0.9v0.9h-0.9zM131.9 165.2h0.9v0.9h-0.9zM127.1 163.4h0.9v0.9h-0.9zM129.2 160.4h0.9v0.9h-0.9zM133.8 167.6h0.9v0.9h-0.9zM133.3 165.7h0.9v0.9h-0.9zM134.3 160.7h0.9v0.9h-0.9zM133.8 159.9h0.9v0.9h-0.9zM131.2 164.7h0.9v0.9h-0.9zM132.0 165.9h0.9v0.9h-0.9zM132.5 162.9h0.9v0.9h-0.9zM129.2 162.6h0.9v0.9h-0.9zM131.1 163.6h0.9v0.9h-0.9zM127.1 166.5h0.9v0.9h-0.9zM128.2 163.3h0.9v0.9h-0.9zM129.1 162.7h0.9v0.9h-0.9zM132.1 162.9h0.9v0.9h-0.9zM127.5 162.9h0.9v0.9h-0.9zM128.4 161.0h0.9v0.9h-0.9zM132.9 166.9h0.9v0.9h-0.9zM127.5 167.8h0.9v0.9h-0.9zM135.0 161.3h0.9v0.9h-0.9zM131.8 163.8h0.9v0.9h-0.9zM132.7 157.9h0.9v0.9h-0.9zM132.2 163.6h0.9v0.9h-0.9zM131.9 166.3h0.9v0.9h-0.9zM125.3 164.3h0.9v0.9h-0.9zM130.8 165.7h0.9v0.9h-0.9zM133.4 166.1h0.9v0.9h-0.9zM129.0 166.0h0.9v0.9h-0.9zM129.0 166.1h0.9v0.9h-0.9zM130.4 164.0h0.9v0.9h-0.9zM131.1 160.9h0.9v0.9h-0.9zM130.1 161.8h0.9v0.9h-0.9zM132.9 167.2h0.9v0.9h-0.9zM127.5 159.4h0.9v0.9h-0.9zM131.3 163.1h0.9v0.9h-0.9zM128.6 169.4h0.9v0.9h-0.9zM129.8 162.1h0.9v0.9h-0.9zM130.1 165.0h0.9v0.9h-0.9zM134.4 165.1h0.9v0.9h-0.9zM127.9 163.3h0.9v0.9h-0.9zM135.0 160.6h0.9v0.9h-0.9zM130.7 167.0h0.9v0.9h-0.9zM131.4 163.9h0.9v0.9h-0.9zM128.8 164.7h0.9v0.9h-0.9zM132.0 164.9h0.9v0.9h-0.9zM133.2 164.8h0.9v0.9h-0.9zM133.8 164.7h0.9v0.9h-0.9zM132.9 163.7h0.9v0.9h-0.9zM134.8 167.2h0.9v0.9h-0.9zM132.4 162.2h0.9v0.9h-0.9zM131.3 157.9h0.9v0.9h-0.9zM130.0 164.8h0.9v0.9h-0.9zM128.8 164.8h0.9v0.9h-0.9zM132.4 168.4h0.9v0.9h-0.9zM130.9 161.0h0.9v0.9h-0.9zM125.4 164.1h0.9v0.9h-0.9zM132.9 166.9h0.9v0.9h-0.9zM131.1 163.0h0.9v0.9h-0.9zM129.2 164.1h0.9v0.9h-0.9zM131.0 165.8h0.9v0.9h-0.9zM131.1 168.9h0.9v0.9h-0.9zM131.2 165.5h0.9v0.9h-0.9zM133.3 166.5h0.9v0.9h-0.9zM129.4 160.9h0.9v0.9h-0.9zM127.8 165.3h0.9v0.9h-0.9zM132.2 165.2h0.9v0.9h-0.9zM132.7 167.3h0.9v0.9h-0.9zM129.1 170.1h0.9v0.9h-0.9zM137.0 166.1h0.9v0.9h-0.9zM130.5 165.0h0.9v0.9h-0.9zM127.6 164.5h0.9v0.9h-0.9zM129.0 164.3h0.9v0.9h-0.9zM130.1 169.0h0.9v0.9h-0.9zM128.9 165.2h0.9v0.9h-0.9zM129.9 168.0h0.9v0.9h-0.9zM133.3 161.1h0.9v0.9h-0.9zM128.6 165.1h0.9v0.9h-0.9zM129.4 165.5h0.9v0.9h-0.9zM131.1 162.1h0.9v0.9h-0.9zM130.2 165.5h0.9v0.9h-0.9zM130.7 164.8h0.9v0.9h-0.9zM131.7 164.2h0.9v0.9h-0.9zM134.0 161.7h0.9v0.9h-0.9zM132.0 163.3h0.9v0.9h-0.9zM131.8 166.3h0.9v0.9h-0.9zM132.4 166.0h0.9v0.9h-0.9zM132.6 165.7h0.9v0.9h-0.9zM130.3 166.1h0.9v0.9h-0.9zM133.1 166.4h0.9v0.9h-0.9zM131.5 165.1h0.9v0.9h-0.9zM126.3 162.7h0.9v0.9h-0.9zM130.4 166.7h0.9v0.9h-0.9zM133.6 164.8h0.9v0.9h-0.9zM128.3 165.5h0.9v0.9h-0.9zM133.1 166.1h0.9v0.9h-0.9zM129.3 162.1h0.9v0.9h-0.9zM128.8 162.1h0.9v0.9h-0.9zM133.2 165.1h0.9v0.9h-0.9zM135.8 168.1h0.9v0.9h-0.9zM133.2 162.9h0.9v0.9h-0.9zM132.4 165.4h0.9v0.9h-0.9zM127.6 161.6h0.9v0.9h-0.9zM129.2 167.2h0.9v0.9h-0.9zM129.9 161.4h0.9v0.9h-0.9zM131.0 165.8h0.9v0.9h-0.9zM128.0 168.7h0.9v0.9h-0.9zM129.1 166.8h0.9v0.9h-0.9zM132.4 162.8h0.9v0.9h-0.9zM130.6 164.5h0.9v0.9h-0.9zM130.0 166.1h0.9v0.9h-0.9zM131.0 160.6h0.9v0.9h-0.9zM131.0 161.9h0.9v0.9h-0.9zM130.3 164.9h0.9v0.9h-0.9zM130.6 166.7h0.9v0.9h-0.9zM130.6 163.3h0.9v0.9h-0.9zM134.6 166.0h0.9v0.9h-0.9zM130.5 164.4h0.9v0.9h-0.9zM129.9 164.6h0.9v0.9h-0.9zM128.6 168.3h0.9v0.9h-0.9zM133.7 159.4h0.9v0.9h-0.9zM128.6 164.3h0.9v0.9h-0.9zM129.3 159.7h0.9v0.9h-0.9zM132.4 161.8h0.9v0.9h-0.9zM132.4 165.4h0.9v0.9h-0.9zM134.3 162.4h0.9v0.9h-0.9zM135.0 161.7h0.9v0.9h-0.9zM134.3 166.8h0.9v0.9h-0.9zM131.8 162.0h0.9v0.9h-0.9zM134.6 166.2h0.9v0.9h-0.9zM127.0 158.7h0.9v0.9h-0.9zM129.3 162.5h0.9v0.9h-0.9zM132.5 164.7h0.9v0.9h-0.9zM131.6 163.3h0.9v0.9h-0.9zM133.0 163.1h0.9v0.9h-0.9zM127.3 159.1h0.9v0.9h-0.9zM132.0 163.1h0.9v0.9h-0.9zM126.8 162.5h0.9v0.9h-0.9zM129.9 166.0h0.9v0.9h-0.9zM125.9 163.5h0.9v0.9h-0.9zM132.5 165.5h0.9v0.9h-0.9zM132.7 168.8h0.9v0.9h-0.9zM128.9 163.1h0.9v0.9h-0.9zM133.4 168.1h0.9v0.9h-0.9zM131.7 163.8h0.9v0.9h-0.9zM128.2 165.9h0.9v0.9h-0.9zM131.7 162.1h0.9v0.9h-0.9zM129.7 162.3h0.9v0.9h-0.9zM132.3 164.2h0.9v0.9h-0.9zM133.8 167.5h0.9v0.9h-0.9zM131.7 167.2h0.9v0.9h-0.9zM133.4 167.9h0.9v0.9h-0.9zM129.8 165.9h0.9v0.9h-0.9zM135.2 166.0h0.9v0.9h-0.9zM130.0 165.1h0.9v0.9h-0.9zM136.3 163.7h0.9v0.9h-0.9zM129.5 166.6h0.9v0.9h-0.9zM130.1 161.1h0.9v0.9h-0.9zM127.3 164.6h0.9v0.9h-0.9zM129.6 167.9h0.9v0.9h-0.9zM129.6 161.5h0.9v0.9h-0.9zM129.2 161.9h0.9v0.9h-0.9zM133.7 162.9h0.9v0.9h-0.9zM134.5 165.9h0.9v0.9h-0.9zM135.8 164.4h0.9v0.9h-0.9zM133.0 160.0h0.9v0.9h-0.9zM129.9 163.0h0.9v0.9h-0.9zM133.7 164.3h0.9v0.9h-0.9zM132.6 163.0h0.9v0.9h-0.9zM128.0 164.4h0.9v0.9h-0.9zM134.1 164.5h0.9v0.9h-0.9zM134.7 163.9h0.9v0.9h-0.9zM130.2 163.8h0.9v0.9h-0.9zM130.4 163.1h0.9v0.9h-0.9zM130.5 162.8h0.9v0.9h-0.9zM128.6 168.0h0.9v0.9h-0.9zM133.1 164.0h0.9v0.9h-0.9zM129.6 161.1h0.9v0.9h-0.9zM132.4 163.1h0.9v0.9h-0.9zM135.5 160.8h0.9v0.9h-0.9zM131.8 167.3h0.9v0.9h-0.9zM129.8 169.2h0.9v0.9h-0.9zM133.4 166.9h0.9v0.9h-0.9zM129.1 166.9h0.9v0.9h-0.9zM133.4 165.0h0.9v0.9h-0.9zM135.3 165.4h0.9v0.9h-0.9zM125.8 165.4h0.9v0.9h-0.9zM135.2 163.3h0.9v0.9h-0.9zM132.8 163.3h0.9v0.9h-0.9zM131.1 158.6h0.9v0.9h-0.9zM126.9 164.0h0.9v0.9h-0.9zM129.7 160.5h0.9v0.9h-0.9zM132.7 165.4h0.9v0.9h-0.9zM129.0 160.0h0.9v0.9h-0.9zM132.4 163.5h0.9v0.9h-0.9zM132.7 167.2h0.9v0.9h-0.9zM130.2 164.1h0.9v0.9h-0.9zM132.8 164.0h0.9v0.9h-0.9zM126.3 165.9h0.9v0.9h-0.9zM131.7 163.2h0.9v0.9h-0.9zM132.1 163.7h0.9v0.9h-0.9zM129.9 166.3h0.9v0.9h-0.9zM127.7 160.8h0.9v0.9h-0.9zM130.5 161.5h0.9v0.9h-0.9zM132.9 162.8h0.9v0.9h-0.9zM126.8 163.5h0.9v0.9h-0.9zM125.6 167.5h0.9v0.9h-0.9zM130.8 166.0h0.9v0.9h-0.9zM132.0 164.9h0.9v0.9h-0.9zM128.4 166.2h0.9v0.9h-0.9zM130.1 162.7h0.9v0.9h-0.9zM126.1 167.3h0.9v0.9h-0.9zM130.3 163.5h0.9v0.9h-0.9zM126.4 166.5h0.9v0.9h-0.9zM130.6 166.7h0.9v0.9h-0.9zM130.7 162.5h0.9v0.9h-0.9zM132.2 160.9h0.9v0.9h-0.9zM127.2 164.3h0.9v0.9h-0.9zM132.6 166.9h0.9v0.9h-0.9zM130.6 164.2h0.9v0.9h-0.9zM131.3 164.0h0.9v0.9h-0.9zM129.7 165.5h0.9v0.9h-0.9zM129.7 163.9h0.9v0.9h-0.9zM133.6 164.9h0.9v0.9h-0.9zM129.6 166.0h0.9v0.9h-0.9zM130.5 165.9h0.9v0.9h-0.9zM128.8 162.7h0.9v0.9h-0.9zM127.5 166.9h0.9v0.9h-0.9zM134.1 167.1h0.9v0.9h-0.9zM131.7 164.9h0.9v0.9h-0.9zM130.3 165.7h0.9v0.9h-0.9zM130.4 162.2h0.9v0.9h-0.9zM133.1 166.4h0.9v0.9h-0.9zM132.0 164.3h0.9v0.9h-0.9zM129.9 164.6h0.9v0.9h-0.9zM131.3 161.8h0.9v0.9h-0.9zM129.8 162.1h0.9v0.9h-0.9zM133.4 161.4h0.9v0.9h-0.9zM128.0 162.4h0.9v0.9h-0.9zM131.2 162.3h0.9v0.9h-0.9zM134.9 166.0h0.9v0.9h-0.9zM125.2 164.9h0.9v0.9h-0.9zM131.6 161.6h0.9v0.9h-0.9zM130.6 164.6h0.9v0.9h-0.9zM129.3 164.2h0.9v0.9h-0.9zM131.6 163.2h0.9v0.9h-0.9zM130.6 161.7h0.9v0.9h-0.9zM132.2 163.0h0.9v0.9h-0.9zM133.6 168.9h0.9v0.9h-0.9zM134.6 163.3h0.9v0.9h-0.9zM131.8 163.8h0.9v0.9h-0.9zM131.8 162.5h0.9v0.9h-0.9zM128.4 164.2h0.9v0.9h-0.9zM128.9 167.1h0.9v0.9h-0.9zM132.4 165.1h0.9v0.9h-0.9zM130.4 164.0h0.9v0.9h-0.9zM133.0 164.5h0.9v0.9h-0.9zM130.8 168.5h0.9v0.9h-0.9zM131.1 163.8h0.9v0.9h-0.9zM130.2 167.2h0.9v0.9h-0.9zM129.6 163.3h0.9v0.9h-0.9zM133.3 166.9h0.9v0.9h-0.9zM134.0 162.5h0.9v0.9h-0.9zM131.8 163.1h0.9v0.9h-0.9zM131.7 160.9h0.9v0.9h-0.9zM130.3 166.8h0.9v0.9h-0.9zM131.3 159.1h0.9v0.9h-0.9zM133.1 165.2h0.9v0.9h-0.9zM130.2 164.4h0.9v0.9h-0.9zM130.0 166.9h0.9v0.9h-0.9zM130.7 160.9h0.9v0.9h-0.9zM128.8 168.0h0.9v0.9h-0.9zM133.4 166.2h0.9v0.9h-0.9zM129.0 165.6h0.9v0.9h-0.9zM133.2 164.6h0.9v0.9h-0.9zM132.5 166.9h0.9v0.9h-0.9zM133.2 165.4h0.9v0.9h-0.9zM131.9 161.7h0.9v0.9h-0.9zM130.1 166.3h0.9v0.9h-0.9zM134.8 164.8h0.9v0.9h-0.9zM133.3 164.5h0.9v0.9h-0.9zM128.6 165.4h0.9v0.9h-0.9zM131.9 162.5h0.9v0.9h-0.9zM128.8 164.5h0.9v0.9h-0.9zM129.7 165.5h0.9v0.9h-0.9zM127.7 166.2h0.9v0.9h-0.9zM129.4 165.2h0.9v0.9h-0.9zM127.2 166.5h0.9v0.9h-0.9zM131.3 169.1h0.9v0.9h-0.9zM127.0 160.4h0.9v0.9h-0.9zM132.5 166.4h0.9v0.9h-0.9zM126.7 165.6h0.9v0.9h-0.9zM133.0 167.6h0.9v0.9h-0.9zM131.1 161.0h0.9v0.9h-0.9zM126.4 169.1h0.9v0.9h-0.9zM131.8 166.6h0.9v0.9h-0.9zM130.1 163.9h0.9v0.9h-0.9zM130.4 162.4h0.9v0.9h-0.9zM130.2 162.0h0.9v0.9h-0.9zM129.9 166.9h0.9v0.9h-0.9zM130.9 162.9h0.9v0.9h-0.9zM134.8 167.3h0.9v0.9h-0.9zM131.0 160.6h0.9v0.9h-0.9zM133.8 167.3h0.9v0.9h-0.9zM129.5 167.6h0.9v0.9h-0.9zM128.9 163.9h0.9v0.9h-0.9zM129.8 164.9h0.9v0.9h-0.9zM130.5 167.6h0.9v0.9h-0.9zM130.0 165.4h0.9v0.9h-0.9zM131.0 165.0h0.9v0.9h-0.9zM128.9 164.4h0.9v0.9h-0.9zM134.1 166.3h0.9v0.9h-0.9zM128.1 163.6h0.9v0.9h-0.9zM128.5 162.9h0.9v0.9h-0.9zM129.4 161.7h0.9v0.9h-0.9zM131.9 166.5h0.9v0.9h-0.9zM131.2 163.4h0.9v0.9h-0.9zM131.2 162.8h0.9v0.9h-0.9zM133.3 169.6h0.9v0.9h-0.9zM124.7 165.3h0.9v0.9h-0.9zM131.0 164.9h0.9v0.9h-0.9zM130.2 161.1h0.9v0.9h-0.9zM130.7 163.6h0.9v0.9h-0.9zM130.5 164.3h0.9v0.9h-0.9zM129.7 169.5h0.9v0.9h-0.9zM128.0 163.6h0.9v0.9h-0.9zM127.9 164.1h0.9v0.9h-0.9zM134.4 164.3h0.9v0.9h-0.9zM128.5 165.8h0.9v0.9h-0.9zM132.7 168.0h0.9v0.9h-0.9zM132.9 168.0h0.9v0.9h-0.9zM129.4 170.2h0.9v0.9h-0.9zM126.1 174.7h0.9v0.9h-0.9zM127.6 171.0h0.9v0.9h-0.9zM132.4 178.7h0.9v0.9h-0.9zM132.5 173.4h0.9v0.9h-0.9zM129.5 170.0h0.9v0.9h-0.9zM131.0 174.2h0.9v0.9h-0.9zM128.1 171.9h0.9v0.9h-0.9zM139.7 167.1h0.9v0.9h-0.9zM125.5 168.6h0.9v0.9h-0.9zM130.6 176.3h0.9v0.9h-0.9zM132.5 174.5h0.9v0.9h-0.9zM128.9 170.3h0.9v0.9h-0.9zM131.9 167.5h0.9v0.9h-0.9zM131.9 169.5h0.9v0.9h-0.9zM131.8 165.6h0.9v0.9h-0.9zM124.9 175.3h0.9v0.9h-0.9zM131.2 170.2h0.9v0.9h-0.9zM138.9 174.1h0.9v0.9h-0.9zM132.5 168.2h0.9v0.9h-0.9zM132.3 171.4h0.9v0.9h-0.9zM130.4 175.6h0.9v0.9h-0.9zM133.4 172.6h0.9v0.9h-0.9zM128.7 168.2h0.9v0.9h-0.9zM134.5 171.4h0.9v0.9h-0.9zM129.5 171.8h0.9v0.9h-0.9zM131.3 169.1h0.9v0.9h-0.9zM130.7 173.3h0.9v0.9h-0.9zM132.2 167.6h0.9v0.9h-0.9zM129.0 171.7h0.9v0.9h-0.9zM128.1 171.1h0.9v0.9h-0.9zM130.8 166.1h0.9v0.9h-0.9zM124.0 167.7h0.9v0.9h-0.9zM131.1 170.6h0.9v0.9h-0.9zM134.9 170.6h0.9v0.9h-0.9zM130.9 171.9h0.9v0.9h-0.9zM129.8 176.6h0.9v0.9h-0.9zM129.4 167.5h0.9v0.9h-0.9zM129.6 174.8h0.9v0.9h-0.9zM129.4 167.9h0.9v0.9h-0.9zM132.9 174.6h0.9v0.9h-0.9zM129.9 173.0h0.9v0.9h-0.9zM129.1 175.4h0.9v0.9h-0.9zM127.9 169.5h0.9v0.9h-0.9zM129.8 167.2h0.9v0.9h-0.9zM130.8 172.8h0.9v0.9h-0.9zM128.6 177.1h0.9v0.9h-0.9zM131.8 171.6h0.9v0.9h-0.9zM128.7 170.2h0.9v0.9h-0.9zM133.7 166.9h0.9v0.9h-0.9zM129.0 167.5h0.9v0.9h-0.9zM127.1 172.6h0.9v0.9h-0.9zM128.6 176.2h0.9v0.9h-0.9zM127.3 169.2h0.9v0.9h-0.9zM131.2 166.9h0.9v0.9h-0.9zM124.6 168.1h0.9v0.9h-0.9zM130.9 167.1h0.9v0.9h-0.9zM118.9 160.8h0.9v0.9h-0.9zM119.1 170.6h0.9v0.9h-0.9zM121.4 167.9h0.9v0.9h-0.9zM116.8 164.3h0.9v0.9h-0.9zM122.0 164.6h0.9v0.9h-0.9zM120.3 163.0h0.9v0.9h-0.9zM119.4 165.8h0.9v0.9h-0.9zM110.2 165.1h0.9v0.9h-0.9zM120.0 166.8h0.9v0.9h-0.9zM119.3 168.6h0.9v0.9h-0.9zM117.8 163.5h0.9v0.9h-0.9zM121.2 170.7h0.9v0.9h-0.9zM116.8 169.2h0.9v0.9h-0.9zM117.4 161.7h0.9v0.9h-0.9zM114.9 163.3h0.9v0.9h-0.9zM122.1 165.7h0.9v0.9h-0.9zM116.1 165.7h0.9v0.9h-0.9zM122.9 165.2h0.9v0.9h-0.9zM115.5 166.3h0.9v0.9h-0.9zM115.1 166.7h0.9v0.9h-0.9zM121.5 165.9h0.9v0.9h-0.9zM116.5 165.7h0.9v0.9h-0.9zM113.0 169.3h0.9v0.9h-0.9zM126.3 165.5h0.9v0.9h-0.9zM110.8 163.7h0.9v0.9h-0.9zM112.9 160.7h0.9v0.9h-0.9zM117.5 165.0h0.9v0.9h-0.9zM115.8 168.2h0.9v0.9h-0.9zM118.1 162.9h0.9v0.9h-0.9zM119.5 162.2h0.9v0.9h-0.9zM116.8 163.3h0.9v0.9h-0.9zM119.0 164.7h0.9v0.9h-0.9zM116.0 166.1h0.9v0.9h-0.9zM119.7 166.0h0.9v0.9h-0.9zM121.9 162.8h0.9v0.9h-0.9zM81.1 194.1h0.9v0.9h-0.9zM87.8 204.2h0.9v0.9h-0.9zM85.6 206.6h0.9v0.9h-0.9zM81.9 209.2h0.9v0.9h-0.9zM85.7 202.6h0.9v0.9h-0.9zM86.5 199.5h0.9v0.9h-0.9zM83.4 207.8h0.9v0.9h-0.9zM82.4 206.1h0.9v0.9h-0.9zM85.3 202.0h0.9v0.9h-0.9zM88.0 200.0h0.9v0.9h-0.9zM78.5 207.0h0.9v0.9h-0.9zM79.8 200.2h0.9v0.9h-0.9zM76.9 197.0h0.9v0.9h-0.9zM81.0 207.4h0.9v0.9h-0.9zM81.0 200.2h0.9v0.9h-0.9zM78.9 207.2h0.9v0.9h-0.9zM81.3 196.3h0.9v0.9h-0.9zM86.2 202.8h0.9v0.9h-0.9zM89.5 204.5h0.9v0.9h-0.9zM78.9 201.9h0.9v0.9h-0.9zM77.9 210.7h0.9v0.9h-0.9zM81.4 207.2h0.9v0.9h-0.9zM84.9 190.4h0.9v0.9h-0.9zM82.0 207.9h0.9v0.9h-0.9zM82.4 197.7h0.9v0.9h-0.9zM83.7 207.3h0.9v0.9h-0.9zM90.9 205.3h0.9v0.9h-0.9zM90.3 209.4h0.9v0.9h-0.9zM86.6 201.7h0.9v0.9h-0.9zM82.7 208.2h0.9v0.9h-0.9zM84.2 207.9h0.9v0.9h-0.9zM79.9 207.5h0.9v0.9h-0.9zM85.6 204.5h0.9v0.9h-0.9zM92.5 199.8h0.9v0.9h-0.9zM78.1 200.9h0.9v0.9h-0.9zM88.3 210.5h0.9v0.9h-0.9zM77.7 198.3h0.9v0.9h-0.9zM84.7 201.4h0.9v0.9h-0.9zM80.8 209.2h0.9v0.9h-0.9zM90.4 206.8h0.9v0.9h-0.9zM81.3 203.5h0.9v0.9h-0.9zM76.8 201.6h0.9v0.9h-0.9zM76.9 205.8h0.9v0.9h-0.9zM85.5 201.0h0.9v0.9h-0.9zM79.1 206.6h0.9v0.9h-0.9zM91.4 200.6h0.9v0.9h-0.9zM76.6 202.1h0.9v0.9h-0.9zM79.4 205.6h0.9v0.9h-0.9zM81.5 204.1h0.9v0.9h-0.9zM91.4 204.3h0.9v0.9h-0.9zM82.1 206.6h0.9v0.9h-0.9zM78.0 207.3h0.9v0.9h-0.9zM84.1 199.2h0.9v0.9h-0.9zM83.7 207.2h0.9v0.9h-0.9zM79.0 210.6h0.9v0.9h-0.9zM81.3 201.4h0.9v0.9h-0.9zM87.1 208.2h0.9v0.9h-0.9zM77.3 205.1h0.9v0.9h-0.9zM90.0 206.4h0.9v0.9h-0.9zM80.1 207.3h0.9v0.9h-0.9zM85.4 199.8h0.9v0.9h-0.9zM83.8 195.6h0.9v0.9h-0.9zM77.4 202.9h0.9v0.9h-0.9zM78.5 208.4h0.9v0.9h-0.9zM79.5 199.9h0.9v0.9h-0.9zM86.8 198.5h0.9v0.9h-0.9zM83.8 209.3h0.9v0.9h-0.9zM90.1 198.8h0.9v0.9h-0.9zM90.5 205.7h0.9v0.9h-0.9zM84.7 209.2h0.9v0.9h-0.9zM85.4 203.3h0.9v0.9h-0.9zM80.9 206.0h0.9v0.9h-0.9zM88.4 194.2h0.9v0.9h-0.9zM90.9 200.6h0.9v0.9h-0.9zM96.2 207.6h0.9v0.9h-0.9zM93.3 204.1h0.9v0.9h-0.9zM93.2 207.3h0.9v0.9h-0.9zM84.0 207.5h0.9v0.9h-0.9zM79.5 209.4h0.9v0.9h-0.9zM77.5 199.4h0.9v0.9h-0.9zM100.8 205.4h0.9v0.9h-0.9zM81.0 197.7h0.9v0.9h-0.9zM88.3 200.5h0.9v0.9h-0.9zM84.5 202.8h0.9v0.9h-0.9zM77.1 200.0h0.9v0.9h-0.9zM88.4 207.2h0.9v0.9h-0.9zM79.1 198.4h0.9v0.9h-0.9zM88.4 208.3h0.9v0.9h-0.9zM79.5 201.6h0.9v0.9h-0.9zM84.5 206.4h0.9v0.9h-0.9zM76.6 207.1h0.9v0.9h-0.9zM94.3 209.6h0.9v0.9h-0.9zM77.5 201.3h0.9v0.9h-0.9zM80.5 203.3h0.9v0.9h-0.9zM88.6 204.1h0.9v0.9h-0.9zM80.6 197.5h0.9v0.9h-0.9zM95.5 208.6h0.9v0.9h-0.9zM86.2 211.0h0.9v0.9h-0.9zM84.9 207.7h0.9v0.9h-0.9zM78.9 206.3h0.9v0.9h-0.9zM83.6 203.7h0.9v0.9h-0.9zM77.7 208.6h0.9v0.9h-0.9zM82.4 206.0h0.9v0.9h-0.9zM76.6 210.3h0.9v0.9h-0.9zM83.0 206.0h0.9v0.9h-0.9zM79.5 204.9h0.9v0.9h-0.9zM93.7 199.6h0.9v0.9h-0.9zM88.4 210.9h0.9v0.9h-0.9zM79.6 198.8h0.9v0.9h-0.9zM78.2 206.1h0.9v0.9h-0.9zM80.0 206.1h0.9v0.9h-0.9zM84.5 209.2h0.9v0.9h-0.9zM82.7 207.6h0.9v0.9h-0.9zM85.9 205.2h0.9v0.9h-0.9zM82.4 200.7h0.9v0.9h-0.9zM82.8 210.3h0.9v0.9h-0.9zM77.5 210.7h0.9v0.9h-0.9zM93.0 206.4h0.9v0.9h-0.9zM78.4 207.6h0.9v0.9h-0.9zM78.3 200.7h0.9v0.9h-0.9zM88.5 195.6h0.9v0.9h-0.9zM87.5 201.3h0.9v0.9h-0.9zM87.7 202.7h0.9v0.9h-0.9zM94.1 202.7h0.9v0.9h-0.9zM81.3 204.6h0.9v0.9h-0.9zM81.0 203.6h0.9v0.9h-0.9zM83.2 201.4h0.9v0.9h-0.9zM96.5 201.7h0.9v0.9h-0.9zM79.5 209.7h0.9v0.9h-0.9zM77.2 200.2h0.9v0.9h-0.9zM88.5 200.6h0.9v0.9h-0.9zM88.3 200.6h0.9v0.9h-0.9zM82.3 208.8h0.9v0.9h-0.9zM78.9 197.7h0.9v0.9h-0.9zM85.8 206.7h0.9v0.9h-0.9zM83.5 203.8h0.9v0.9h-0.9zM79.3 199.8h0.9v0.9h-0.9zM77.7 207.2h0.9v0.9h-0.9zM86.5 207.3h0.9v0.9h-0.9zM82.9 203.7h0.9v0.9h-0.9zM87.6 211.1h0.9v0.9h-0.9zM77.4 202.9h0.9v0.9h-0.9zM90.5 198.2h0.9v0.9h-0.9zM86.4 203.9h0.9v0.9h-0.9zM84.6 201.8h0.9v0.9h-0.9zM91.5 205.8h0.9v0.9h-0.9zM96.6 201.0h0.9v0.9h-0.9zM81.3 206.5h0.9v0.9h-0.9zM87.2 198.2h0.9v0.9h-0.9zM95.4 202.0h0.9v0.9h-0.9zM85.6 199.4h0.9v0.9h-0.9zM102.0 203.1h0.9v0.9h-0.9zM83.6 204.3h0.9v0.9h-0.9zM79.1 200.3h0.9v0.9h-0.9zM76.9 203.4h0.9v0.9h-0.9zM81.3 205.6h0.9v0.9h-0.9zM95.3 203.5h0.9v0.9h-0.9zM90.2 202.6h0.9v0.9h-0.9zM83.0 201.6h0.9v0.9h-0.9zM86.6 211.2h0.9v0.9h-0.9zM88.0 201.9h0.9v0.9h-0.9zM77.9 198.8h0.9v0.9h-0.9zM82.2 208.8h0.9v0.9h-0.9zM81.8 200.8h0.9v0.9h-0.9zM83.0 205.1h0.9v0.9h-0.9zM83.6 203.7h0.9v0.9h-0.9zM81.7 201.0h0.9v0.9h-0.9zM81.8 205.5h0.9v0.9h-0.9zM79.6 203.5h0.9v0.9h-0.9zM82.8 209.5h0.9v0.9h-0.9zM91.2 200.0h0.9v0.9h-0.9zM79.3 194.5h0.9v0.9h-0.9zM78.6 209.5h0.9v0.9h-0.9zM85.4 202.7h0.9v0.9h-0.9zM92.4 198.5h0.9v0.9h-0.9zM78.2 209.5h0.9v0.9h-0.9zM77.3 205.2h0.9v0.9h-0.9zM80.5 206.0h0.9v0.9h-0.9zM90.4 198.3h0.9v0.9h-0.9zM78.5 205.5h0.9v0.9h-0.9zM84.4 206.5h0.9v0.9h-0.9zM81.5 195.8h0.9v0.9h-0.9zM77.5 207.4h0.9v0.9h-0.9zM78.0 203.4h0.9v0.9h-0.9zM86.5 201.8h0.9v0.9h-0.9zM78.9 202.3h0.9v0.9h-0.9zM90.3 198.5h0.9v0.9h-0.9zM94.5 204.9h0.9v0.9h-0.9zM79.7 198.0h0.9v0.9h-0.9zM88.8 198.0h0.9v0.9h-0.9zM88.3 210.5h0.9v0.9h-0.9zM90.2 203.0h0.9v0.9h-0.9zM82.2 206.4h0.9v0.9h-0.9zM77.8 207.2h0.9v0.9h-0.9zM93.2 205.6h0.9v0.9h-0.9zM81.0 208.2h0.9v0.9h-0.9zM84.6 207.9h0.9v0.9h-0.9zM82.1 203.5h0.9v0.9h-0.9zM91.9 198.9h0.9v0.9h-0.9zM88.7 200.6h0.9v0.9h-0.9zM84.1 200.1h0.9v0.9h-0.9zM80.4 207.8h0.9v0.9h-0.9zM80.1 209.3h0.9v0.9h-0.9zM85.9 199.9h0.9v0.9h-0.9zM77.0 206.6h0.9v0.9h-0.9zM81.9 203.1h0.9v0.9h-0.9zM82.7 209.2h0.9v0.9h-0.9zM77.1 199.1h0.9v0.9h-0.9zM81.3 208.8h0.9v0.9h-0.9zM78.1 208.7h0.9v0.9h-0.9zM77.2 201.7h0.9v0.9h-0.9zM80.6 204.3h0.9v0.9h-0.9zM78.9 205.2h0.9v0.9h-0.9zM87.4 201.5h0.9v0.9h-0.9zM94.0 210.3h0.9v0.9h-0.9zM88.5 209.5h0.9v0.9h-0.9zM93.6 209.2h0.9v0.9h-0.9zM78.0 210.5h0.9v0.9h-0.9zM88.7 208.3h0.9v0.9h-0.9zM89.4 202.9h0.9v0.9h-0.9zM83.9 203.2h0.9v0.9h-0.9zM86.0 201.2h0.9v0.9h-0.9zM91.9 198.3h0.9v0.9h-0.9zM76.8 204.0h0.9v0.9h-0.9zM79.3 198.6h0.9v0.9h-0.9zM86.8 208.1h0.9v0.9h-0.9zM81.1 207.9h0.9v0.9h-0.9zM77.4 209.9h0.9v0.9h-0.9zM76.6 199.6h0.9v0.9h-0.9zM79.5 204.0h0.9v0.9h-0.9zM83.2 208.5h0.9v0.9h-0.9zM92.8 198.3h0.9v0.9h-0.9zM90.1 210.3h0.9v0.9h-0.9zM80.1 203.9h0.9v0.9h-0.9zM79.5 206.8h0.9v0.9h-0.9zM80.1 203.9h0.9v0.9h-0.9zM78.9 204.6h0.9v0.9h-0.9zM100.2 208.3h0.9v0.9h-0.9zM85.8 201.4h0.9v0.9h-0.9zM76.9 206.1h0.9v0.9h-0.9zM82.7 197.9h0.9v0.9h-0.9zM85.7 202.4h0.9v0.9h-0.9zM89.1 204.0h0.9v0.9h-0.9zM81.4 201.6h0.9v0.9h-0.9zM85.2 208.9h0.9v0.9h-0.9zM77.7 203.2h0.9v0.9h-0.9zM78.1 207.0h0.9v0.9h-0.9zM87.9 200.6h0.9v0.9h-0.9zM85.4 201.5h0.9v0.9h-0.9zM90.8 209.4h0.9v0.9h-0.9zM91.4 203.6h0.9v0.9h-0.9zM81.7 201.4h0.9v0.9h-0.9zM85.2 204.5h0.9v0.9h-0.9zM85.3 209.9h0.9v0.9h-0.9zM86.7 200.9h0.9v0.9h-0.9zM89.0 201.3h0.9v0.9h-0.9zM77.4 205.6h0.9v0.9h-0.9zM78.0 204.6h0.9v0.9h-0.9zM90.1 204.4h0.9v0.9h-0.9zM90.3 209.9h0.9v0.9h-0.9zM80.6 209.5h0.9v0.9h-0.9zM93.3 205.6h0.9v0.9h-0.9zM84.8 206.9h0.9v0.9h-0.9zM83.5 210.4h0.9v0.9h-0.9zM89.6 207.4h0.9v0.9h-0.9zM78.6 202.3h0.9v0.9h-0.9zM83.7 202.3h0.9v0.9h-0.9zM88.7 209.4h0.9v0.9h-0.9zM83.0 201.9h0.9v0.9h-0.9zM77.0 200.8h0.9v0.9h-0.9zM86.5 197.9h0.9v0.9h-0.9zM83.9 204.2h0.9v0.9h-0.9zM82.1 209.0h0.9v0.9h-0.9zM87.7 202.0h0.9v0.9h-0.9zM86.5 203.3h0.9v0.9h-0.9zM81.4 203.7h0.9v0.9h-0.9zM90.6 207.6h0.9v0.9h-0.9zM77.2 206.4h0.9v0.9h-0.9zM83.4 204.3h0.9v0.9h-0.9zM78.5 209.9h0.9v0.9h-0.9zM83.0 206.7h0.9v0.9h-0.9zM89.7 207.7h0.9v0.9h-0.9zM76.9 200.4h0.9v0.9h-0.9zM78.9 207.0h0.9v0.9h-0.9zM78.7 204.0h0.9v0.9h-0.9zM77.1 201.2h0.9v0.9h-0.9zM93.6 210.6h0.9v0.9h-0.9zM90.8 205.8h0.9v0.9h-0.9zM80.2 209.3h0.9v0.9h-0.9zM78.4 211.0h0.9v0.9h-0.9zM82.0 209.2h0.9v0.9h-0.9zM82.5 208.6h0.9v0.9h-0.9zM86.0 197.0h0.9v0.9h-0.9zM89.8 202.3h0.9v0.9h-0.9zM87.9 202.0h0.9v0.9h-0.9zM80.7 205.7h0.9v0.9h-0.9zM87.5 200.9h0.9v0.9h-0.9zM85.0 206.7h0.9v0.9h-0.9zM86.5 201.0h0.9v0.9h-0.9zM81.1 201.5h0.9v0.9h-0.9zM78.4 210.6h0.9v0.9h-0.9zM89.4 200.6h0.9v0.9h-0.9zM79.9 204.9h0.9v0.9h-0.9zM85.3 201.9h0.9v0.9h-0.9zM81.7 205.1h0.9v0.9h-0.9zM81.7 208.9h0.9v0.9h-0.9zM80.8 207.9h0.9v0.9h-0.9zM83.5 202.6h0.9v0.9h-0.9zM88.7 205.8h0.9v0.9h-0.9zM85.7 199.8h0.9v0.9h-0.9zM76.8 209.3h0.9v0.9h-0.9zM79.7 209.7h0.9v0.9h-0.9zM90.4 207.4h0.9v0.9h-0.9zM83.2 205.8h0.9v0.9h-0.9zM77.9 194.3h0.9v0.9h-0.9zM82.1 201.6h0.9v0.9h-0.9zM80.7 208.5h0.9v0.9h-0.9zM88.3 207.8h0.9v0.9h-0.9zM86.4 203.7h0.9v0.9h-0.9zM89.5 202.1h0.9v0.9h-0.9zM83.7 210.5h0.9v0.9h-0.9zM98.2 211.1h0.9v0.9h-0.9zM84.8 204.1h0.9v0.9h-0.9zM77.8 204.9h0.9v0.9h-0.9zM82.0 204.0h0.9v0.9h-0.9zM78.7 207.2h0.9v0.9h-0.9zM101.4 205.2h0.9v0.9h-0.9zM95.5 211.1h0.9v0.9h-0.9zM88.5 207.1h0.9v0.9h-0.9zM87.6 207.7h0.9v0.9h-0.9zM91.7 204.4h0.9v0.9h-0.9zM81.4 201.1h0.9v0.9h-0.9zM81.3 204.5h0.9v0.9h-0.9zM79.3 205.4h0.9v0.9h-0.9zM78.8 210.5h0.9v0.9h-0.9zM82.2 209.4h0.9v0.9h-0.9zM78.2 195.9h0.9v0.9h-0.9zM95.7 199.0h0.9v0.9h-0.9zM87.2 209.3h0.9v0.9h-0.9zM89.5 203.4h0.9v0.9h-0.9zM80.8 208.8h0.9v0.9h-0.9zM85.2 203.9h0.9v0.9h-0.9zM98.3 202.7h0.9v0.9h-0.9zM84.9 208.5h0.9v0.9h-0.9zM77.9 205.6h0.9v0.9h-0.9zM86.3 203.1h0.9v0.9h-0.9zM86.6 204.4h0.9v0.9h-0.9zM82.2 204.0h0.9v0.9h-0.9zM89.6 206.2h0.9v0.9h-0.9zM89.8 206.9h0.9v0.9h-0.9zM82.8 209.9h0.9v0.9h-0.9zM87.2 203.9h0.9v0.9h-0.9zM89.1 205.0h0.9v0.9h-0.9zM83.7 195.4h0.9v0.9h-0.9zM80.7 203.4h0.9v0.9h-0.9zM82.4 208.2h0.9v0.9h-0.9zM87.7 205.8h0.9v0.9h-0.9zM82.1 205.7h0.9v0.9h-0.9zM80.6 208.4h0.9v0.9h-0.9zM85.0 204.4h0.9v0.9h-0.9zM77.9 201.5h0.9v0.9h-0.9zM97.1 205.7h0.9v0.9h-0.9zM80.0 198.5h0.9v0.9h-0.9zM78.9 211.0h0.9v0.9h-0.9zM82.3 203.4h0.9v0.9h-0.9zM82.4 205.4h0.9v0.9h-0.9zM87.7 200.6h0.9v0.9h-0.9zM91.5 209.7h0.9v0.9h-0.9zM85.6 208.7h0.9v0.9h-0.9zM77.1 204.9h0.9v0.9h-0.9zM84.8 203.2h0.9v0.9h-0.9zM91.2 209.9h0.9v0.9h-0.9zM91.5 198.3h0.9v0.9h-0.9zM92.6 203.3h0.9v0.9h-0.9zM91.7 208.0h0.9v0.9h-0.9zM84.6 210.9h0.9v0.9h-0.9zM88.4 207.3h0.9v0.9h-0.9zM85.4 199.0h0.9v0.9h-0.9zM80.7 194.8h0.9v0.9h-0.9zM81.1 206.2h0.9v0.9h-0.9zM89.0 203.9h0.9v0.9h-0.9zM83.9 210.2h0.9v0.9h-0.9zM84.7 208.4h0.9v0.9h-0.9zM89.5 204.5h0.9v0.9h-0.9zM86.7 203.2h0.9v0.9h-0.9zM78.6 208.6h0.9v0.9h-0.9zM77.2 192.5h0.9v0.9h-0.9zM78.7 197.9h0.9v0.9h-0.9zM79.0 194.0h0.9v0.9h-0.9zM89.4 203.4h0.9v0.9h-0.9zM83.7 205.2h0.9v0.9h-0.9zM89.2 209.2h0.9v0.9h-0.9zM78.4 201.6h0.9v0.9h-0.9zM80.4 198.7h0.9v0.9h-0.9zM82.7 197.1h0.9v0.9h-0.9zM80.9 201.9h0.9v0.9h-0.9zM81.9 203.8h0.9v0.9h-0.9zM82.6 210.5h0.9v0.9h-0.9zM80.2 196.7h0.9v0.9h-0.9zM83.8 201.2h0.9v0.9h-0.9zM88.9 210.0h0.9v0.9h-0.9zM80.8 207.4h0.9v0.9h-0.9zM78.6 206.8h0.9v0.9h-0.9zM90.3 201.9h0.9v0.9h-0.9zM80.1 205.6h0.9v0.9h-0.9zM76.5 206.4h0.9v0.9h-0.9zM84.5 209.8h0.9v0.9h-0.9zM90.3 210.7h0.9v0.9h-0.9zM86.1 202.2h0.9v0.9h-0.9zM83.2 202.6h0.9v0.9h-0.9zM80.6 209.8h0.9v0.9h-0.9zM87.2 202.2h0.9v0.9h-0.9zM77.8 203.6h0.9v0.9h-0.9zM94.1 201.4h0.9v0.9h-0.9zM86.1 204.6h0.9v0.9h-0.9zM84.9 206.1h0.9v0.9h-0.9zM80.4 209.9h0.9v0.9h-0.9zM85.9 203.2h0.9v0.9h-0.9zM84.4 202.3h0.9v0.9h-0.9zM80.8 208.2h0.9v0.9h-0.9zM84.3 197.6h0.9v0.9h-0.9zM85.1 199.3h0.9v0.9h-0.9zM82.6 208.7h0.9v0.9h-0.9zM86.7 206.8h0.9v0.9h-0.9zM76.8 199.5h0.9v0.9h-0.9zM82.8 202.1h0.9v0.9h-0.9zM81.3 206.5h0.9v0.9h-0.9zM97.8 209.8h0.9v0.9h-0.9zM82.8 205.7h0.9v0.9h-0.9zM83.4 207.6h0.9v0.9h-0.9zM76.7 207.8h0.9v0.9h-0.9zM80.4 210.2h0.9v0.9h-0.9zM86.7 190.7h0.9v0.9h-0.9zM89.4 205.5h0.9v0.9h-0.9zM86.7 201.2h0.9v0.9h-0.9zM79.6 196.1h0.9v0.9h-0.9zM79.1 196.2h0.9v0.9h-0.9zM81.6 203.8h0.9v0.9h-0.9zM88.0 205.6h0.9v0.9h-0.9zM84.7 202.7h0.9v0.9h-0.9zM82.9 194.6h0.9v0.9h-0.9zM87.7 206.5h0.9v0.9h-0.9zM76.8 204.7h0.9v0.9h-0.9zM82.3 205.0h0.9v0.9h-0.9zM85.6 205.9h0.9v0.9h-0.9zM84.7 204.5h0.9v0.9h-0.9zM77.6 207.5h0.9v0.9h-0.9zM84.0 201.1h0.9v0.9h-0.9zM81.9 206.1h0.9v0.9h-0.9zM80.1 206.7h0.9v0.9h-0.9zM90.4 208.1h0.9v0.9h-0.9zM79.2 206.4h0.9v0.9h-0.9zM94.7 202.2h0.9v0.9h-0.9zM88.7 201.9h0.9v0.9h-0.9zM83.3 204.0h0.9v0.9h-0.9zM76.8 192.9h0.9v0.9h-0.9zM83.9 206.6h0.9v0.9h-0.9zM81.6 209.6h0.9v0.9h-0.9zM76.8 205.1h0.9v0.9h-0.9zM78.2 208.1h0.9v0.9h-0.9zM86.7 204.3h0.9v0.9h-0.9zM86.7 209.6h0.9v0.9h-0.9zM77.3 200.6h0.9v0.9h-0.9zM79.0 200.0h0.9v0.9h-0.9zM83.8 208.3h0.9v0.9h-0.9zM84.0 196.1h0.9v0.9h-0.9zM89.1 208.3h0.9v0.9h-0.9zM84.9 204.0h0.9v0.9h-0.9zM79.4 202.1h0.9v0.9h-0.9zM85.4 204.8h0.9v0.9h-0.9zM89.8 202.0h0.9v0.9h-0.9zM91.9 209.7h0.9v0.9h-0.9zM82.7 205.6h0.9v0.9h-0.9zM83.3 200.4h0.9v0.9h-0.9zM84.5 202.7h0.9v0.9h-0.9zM82.6 205.3h0.9v0.9h-0.9zM83.1 202.9h0.9v0.9h-0.9zM87.5 207.0h0.9v0.9h-0.9zM78.7 207.1h0.9v0.9h-0.9zM86.9 202.8h0.9v0.9h-0.9zM80.8 205.6h0.9v0.9h-0.9zM83.5 199.6h0.9v0.9h-0.9zM81.8 202.6h0.9v0.9h-0.9zM97.8 202.1h0.9v0.9h-0.9zM77.5 203.4h0.9v0.9h-0.9zM79.5 202.0h0.9v0.9h-0.9zM78.3 194.5h0.9v0.9h-0.9zM80.4 208.4h0.9v0.9h-0.9zM94.0 205.6h0.9v0.9h-0.9zM86.8 201.8h0.9v0.9h-0.9zM83.5 203.7h0.9v0.9h-0.9zM83.1 208.6h0.9v0.9h-0.9zM86.6 206.7h0.9v0.9h-0.9zM89.0 205.6h0.9v0.9h-0.9zM79.3 194.4h0.9v0.9h-0.9zM85.8 204.8h0.9v0.9h-0.9zM88.2 202.2h0.9v0.9h-0.9zM85.3 204.8h0.9v0.9h-0.9zM89.3 207.7h0.9v0.9h-0.9zM86.7 209.8h0.9v0.9h-0.9zM83.1 202.9h0.9v0.9h-0.9zM107.8 208.7h0.9v0.9h-0.9zM80.4 209.2h0.9v0.9h-0.9zM94.5 208.5h0.9v0.9h-0.9zM80.5 200.2h0.9v0.9h-0.9zM90.3 195.8h0.9v0.9h-0.9zM89.6 200.2h0.9v0.9h-0.9zM77.2 193.2h0.9v0.9h-0.9zM82.6 198.7h0.9v0.9h-0.9zM84.5 205.1h0.9v0.9h-0.9zM84.0 203.7h0.9v0.9h-0.9zM78.2 202.1h0.9v0.9h-0.9zM86.2 206.1h0.9v0.9h-0.9zM84.2 202.1h0.9v0.9h-0.9zM77.6 202.2h0.9v0.9h-0.9zM85.3 203.1h0.9v0.9h-0.9zM80.7 205.5h0.9v0.9h-0.9zM91.7 197.6h0.9v0.9h-0.9zM97.2 199.1h0.9v0.9h-0.9zM79.4 201.1h0.9v0.9h-0.9zM81.8 207.9h0.9v0.9h-0.9zM97.2 211.1h0.9v0.9h-0.9zM81.8 201.8h0.9v0.9h-0.9zM85.1 206.5h0.9v0.9h-0.9zM77.8 201.7h0.9v0.9h-0.9zM85.9 204.6h0.9v0.9h-0.9zM89.3 209.5h0.9v0.9h-0.9zM81.3 201.8h0.9v0.9h-0.9zM91.1 204.1h0.9v0.9h-0.9zM94.3 209.1h0.9v0.9h-0.9zM91.4 196.3h0.9v0.9h-0.9zM83.3 207.8h0.9v0.9h-0.9zM80.4 209.6h0.9v0.9h-0.9zM79.6 202.8h0.9v0.9h-0.9zM92.3 198.3h0.9v0.9h-0.9zM80.8 200.7h0.9v0.9h-0.9zM87.7 209.8h0.9v0.9h-0.9zM86.8 207.2h0.9v0.9h-0.9zM84.4 205.5h0.9v0.9h-0.9zM88.5 207.4h0.9v0.9h-0.9zM92.2 211.0h0.9v0.9h-0.9zM96.5 209.3h0.9v0.9h-0.9zM91.5 210.0h0.9v0.9h-0.9zM87.3 209.6h0.9v0.9h-0.9zM79.2 201.2h0.9v0.9h-0.9zM78.8 209.8h0.9v0.9h-0.9zM102.4 204.3h0.9v0.9h-0.9zM80.2 210.1h0.9v0.9h-0.9zM77.3 206.5h0.9v0.9h-0.9zM82.1 206.2h0.9v0.9h-0.9zM80.0 205.1h0.9v0.9h-0.9zM80.0 204.2h0.9v0.9h-0.9zM80.5 202.4h0.9v0.9h-0.9zM84.4 192.9h0.9v0.9h-0.9zM78.6 198.4h0.9v0.9h-0.9zM87.0 203.7h0.9v0.9h-0.9zM82.1 205.3h0.9v0.9h-0.9zM78.9 202.0h0.9v0.9h-0.9zM90.2 209.4h0.9v0.9h-0.9zM91.6 204.5h0.9v0.9h-0.9zM83.0 207.1h0.9v0.9h-0.9zM78.8 205.1h0.9v0.9h-0.9zM84.1 207.1h0.9v0.9h-0.9zM83.9 204.0h0.9v0.9h-0.9zM88.2 209.9h0.9v0.9h-0.9zM85.1 203.6h0.9v0.9h-0.9zM91.9 199.3h0.9v0.9h-0.9zM89.5 205.7h0.9v0.9h-0.9zM76.9 193.6h0.9v0.9h-0.9zM79.5 200.3h0.9v0.9h-0.9zM81.0 208.1h0.9v0.9h-0.9zM78.3 208.3h0.9v0.9h-0.9zM82.6 199.8h0.9v0.9h-0.9zM81.3 206.1h0.9v0.9h-0.9zM81.6 193.9h0.9v0.9h-0.9zM79.5 201.0h0.9v0.9h-0.9zM83.3 206.4h0.9v0.9h-0.9zM87.3 202.2h0.9v0.9h-0.9zM93.4 209.9h0.9v0.9h-0.9zM80.3 208.8h0.9v0.9h-0.9zM83.7 205.6h0.9v0.9h-0.9zM83.4 203.2h0.9v0.9h-0.9zM79.2 207.3h0.9v0.9h-0.9zM82.5 197.2h0.9v0.9h-0.9zM87.0 205.1h0.9v0.9h-0.9zM87.2 208.7h0.9v0.9h-0.9zM83.1 208.2h0.9v0.9h-0.9zM94.7 208.5h0.9v0.9h-0.9zM77.6 208.8h0.9v0.9h-0.9zM78.1 199.5h0.9v0.9h-0.9zM86.3 205.1h0.9v0.9h-0.9zM83.2 203.7h0.9v0.9h-0.9zM90.5 205.4h0.9v0.9h-0.9zM83.3 202.8h0.9v0.9h-0.9zM79.6 211.1h0.9v0.9h-0.9zM83.9 201.5h0.9v0.9h-0.9zM89.5 198.1h0.9v0.9h-0.9zM81.5 204.0h0.9v0.9h-0.9zM77.2 200.1h0.9v0.9h-0.9zM87.7 195.6h0.9v0.9h-0.9zM86.3 206.7h0.9v0.9h-0.9zM80.7 207.6h0.9v0.9h-0.9zM84.8 210.9h0.9v0.9h-0.9zM80.3 193.8h0.9v0.9h-0.9zM78.9 205.6h0.9v0.9h-0.9zM85.1 203.1h0.9v0.9h-0.9zM78.7 209.2h0.9v0.9h-0.9zM90.5 205.2h0.9v0.9h-0.9zM83.8 205.5h0.9v0.9h-0.9zM86.9 197.8h0.9v0.9h-0.9zM76.9 210.2h0.9v0.9h-0.9zM90.7 208.2h0.9v0.9h-0.9zM89.9 203.3h0.9v0.9h-0.9zM77.4 197.6h0.9v0.9h-0.9zM89.3 208.0h0.9v0.9h-0.9zM80.9 198.6h0.9v0.9h-0.9zM81.1 210.8h0.9v0.9h-0.9zM82.4 201.8h0.9v0.9h-0.9zM78.3 207.6h0.9v0.9h-0.9zM81.3 198.6h0.9v0.9h-0.9zM85.4 210.6h0.9v0.9h-0.9zM82.6 208.0h0.9v0.9h-0.9zM88.8 208.1h0.9v0.9h-0.9zM80.2 197.1h0.9v0.9h-0.9zM81.3 210.3h0.9v0.9h-0.9zM90.0 211.0h0.9v0.9h-0.9zM86.8 211.1h0.9v0.9h-0.9zM93.8 202.8h0.9v0.9h-0.9zM92.3 203.9h0.9v0.9h-0.9zM86.8 207.1h0.9v0.9h-0.9zM77.0 208.6h0.9v0.9h-0.9zM84.0 207.6h0.9v0.9h-0.9zM78.0 208.6h0.9v0.9h-0.9zM93.3 202.0h0.9v0.9h-0.9zM79.1 196.1h0.9v0.9h-0.9zM88.1 209.2h0.9v0.9h-0.9zM86.3 211.1h0.9v0.9h-0.9zM84.4 203.7h0.9v0.9h-0.9zM83.7 202.9h0.9v0.9h-0.9zM90.3 197.4h0.9v0.9h-0.9zM83.5 202.9h0.9v0.9h-0.9zM80.9 200.9h0.9v0.9h-0.9zM86.4 207.5h0.9v0.9h-0.9zM81.1 207.0h0.9v0.9h-0.9zM79.2 206.1h0.9v0.9h-0.9zM91.1 202.4h0.9v0.9h-0.9zM78.0 206.6h0.9v0.9h-0.9zM80.3 208.5h0.9v0.9h-0.9zM85.9 206.1h0.9v0.9h-0.9zM84.7 202.7h0.9v0.9h-0.9zM91.7 198.0h0.9v0.9h-0.9zM95.1 206.7h0.9v0.9h-0.9zM88.5 200.0h0.9v0.9h-0.9zM93.0 199.3h0.9v0.9h-0.9zM90.4 187.8h0.9v0.9h-0.9zM90.9 193.1h0.9v0.9h-0.9zM87.7 200.6h0.9v0.9h-0.9zM93.6 196.2h0.9v0.9h-0.9zM87.4 197.0h0.9v0.9h-0.9zM83.9 206.0h0.9v0.9h-0.9zM100.6 197.4h0.9v0.9h-0.9zM99.8 202.2h0.9v0.9h-0.9zM83.8 202.9h0.9v0.9h-0.9zM94.1 199.1h0.9v0.9h-0.9zM81.5 195.4h0.9v0.9h-0.9zM88.4 192.8h0.9v0.9h-0.9zM82.7 204.9h0.9v0.9h-0.9zM81.1 201.9h0.9v0.9h-0.9zM90.7 204.4h0.9v0.9h-0.9zM80.4 198.8h0.9v0.9h-0.9zM97.5 197.5h0.9v0.9h-0.9zM81.7 188.6h0.9v0.9h-0.9zM85.9 203.3h0.9v0.9h-0.9zM99.2 198.6h0.9v0.9h-0.9zM95.4 203.3h0.9v0.9h-0.9zM93.7 194.1h0.9v0.9h-0.9zM94.4 193.3h0.9v0.9h-0.9zM90.8 202.3h0.9v0.9h-0.9zM96.6 197.7h0.9v0.9h-0.9zM96.9 205.9h0.9v0.9h-0.9zM96.0 198.1h0.9v0.9h-0.9zM92.1 198.5h0.9v0.9h-0.9zM90.6 202.0h0.9v0.9h-0.9zM96.8 198.5h0.9v0.9h-0.9zM94.7 199.7h0.9v0.9h-0.9zM91.2 193.6h0.9v0.9h-0.9zM92.6 197.9h0.9v0.9h-0.9zM92.0 203.4h0.9v0.9h-0.9zM94.8 202.0h0.9v0.9h-0.9zM87.3 190.5h0.9v0.9h-0.9zM87.9 198.3h0.9v0.9h-0.9zM91.4 205.1h0.9v0.9h-0.9zM92.0 205.5h0.9v0.9h-0.9zM87.8 193.0h0.9v0.9h-0.9zM95.4 192.8h0.9v0.9h-0.9zM80.9 195.6h0.9v0.9h-0.9zM92.2 203.8h0.9v0.9h-0.9zM90.3 202.9h0.9v0.9h-0.9zM90.1 190.3h0.9v0.9h-0.9zM83.7 190.1h0.9v0.9h-0.9zM89.0 188.1h0.9v0.9h-0.9zM81.7 194.2h0.9v0.9h-0.9zM95.5 201.0h0.9v0.9h-0.9zM87.9 199.3h0.9v0.9h-0.9zM80.3 188.3h0.9v0.9h-0.9zM78.7 191.2h0.9v0.9h-0.9zM87.9 202.8h0.9v0.9h-0.9zM88.6 196.8h0.9v0.9h-0.9zM89.0 199.1h0.9v0.9h-0.9zM84.5 201.2h0.9v0.9h-0.9zM89.6 199.3h0.9v0.9h-0.9zM93.1 200.9h0.9v0.9h-0.9zM94.5 193.8h0.9v0.9h-0.9zM92.6 190.4h0.9v0.9h-0.9zM77.4 196.2h0.9v0.9h-0.9zM92.2 200.3h0.9v0.9h-0.9zM91.8 202.1h0.9v0.9h-0.9zM79.3 195.3h0.9v0.9h-0.9zM88.4 194.0h0.9v0.9h-0.9zM91.6 200.8h0.9v0.9h-0.9zM91.5 198.5h0.9v0.9h-0.9zM103.3 198.3h0.9v0.9h-0.9zM89.9 203.9h0.9v0.9h-0.9zM100.4 193.5h0.9v0.9h-0.9zM83.9 204.6h0.9v0.9h-0.9zM96.4 202.2h0.9v0.9h-0.9zM88.3 201.3h0.9v0.9h-0.9zM81.5 192.4h0.9v0.9h-0.9zM98.9 191.9h0.9v0.9h-0.9zM88.9 201.1h0.9v0.9h-0.9zM91.6 192.7h0.9v0.9h-0.9zM86.3 200.9h0.9v0.9h-0.9zM87.2 206.1h0.9v0.9h-0.9zM89.0 206.9h0.9v0.9h-0.9zM89.7 204.0h0.9v0.9h-0.9zM92.3 198.3h0.9v0.9h-0.9zM81.8 200.8h0.9v0.9h-0.9zM90.2 199.7h0.9v0.9h-0.9zM86.5 193.4h0.9v0.9h-0.9zM84.0 197.4h0.9v0.9h-0.9zM95.0 196.2h0.9v0.9h-0.9zM83.1 193.8h0.9v0.9h-0.9zM82.9 189.9h0.9v0.9h-0.9zM87.3 194.6h0.9v0.9h-0.9zM87.4 207.0h0.9v0.9h-0.9zM95.0 204.9h0.9v0.9h-0.9zM89.7 199.2h0.9v0.9h-0.9zM84.9 189.3h0.9v0.9h-0.9zM80.3 196.1h0.9v0.9h-0.9zM92.4 208.8h0.9v0.9h-0.9zM89.2 190.4h0.9v0.9h-0.9zM87.4 200.3h0.9v0.9h-0.9zM82.8 195.5h0.9v0.9h-0.9zM92.6 198.5h0.9v0.9h-0.9zM92.2 198.2h0.9v0.9h-0.9zM89.6 204.6h0.9v0.9h-0.9zM95.0 199.2h0.9v0.9h-0.9zM92.9 197.7h0.9v0.9h-0.9zM89.5 200.0h0.9v0.9h-0.9zM91.0 210.5h0.9v0.9h-0.9zM91.3 200.2h0.9v0.9h-0.9zM102.4 193.7h0.9v0.9h-0.9zM90.6 204.4h0.9v0.9h-0.9zM91.3 198.0h0.9v0.9h-0.9zM85.2 198.3h0.9v0.9h-0.9zM85.9 203.3h0.9v0.9h-0.9zM93.4 196.9h0.9v0.9h-0.9zM96.8 193.3h0.9v0.9h-0.9zM85.0 201.9h0.9v0.9h-0.9zM91.7 192.7h0.9v0.9h-0.9zM85.7 197.1h0.9v0.9h-0.9zM86.3 199.3h0.9v0.9h-0.9zM89.4 200.6h0.9v0.9h-0.9zM89.7 200.0h0.9v0.9h-0.9zM87.5 200.1h0.9v0.9h-0.9zM92.1 201.6h0.9v0.9h-0.9zM92.1 196.3h0.9v0.9h-0.9zM89.7 204.5h0.9v0.9h-0.9zM88.5 198.5h0.9v0.9h-0.9zM99.3 201.3h0.9v0.9h-0.9zM94.0 194.0h0.9v0.9h-0.9zM84.8 199.6h0.9v0.9h-0.9zM102.4 189.5h0.9v0.9h-0.9zM80.2 200.9h0.9v0.9h-0.9zM91.5 193.4h0.9v0.9h-0.9zM95.2 199.1h0.9v0.9h-0.9zM87.2 197.8h0.9v0.9h-0.9zM86.8 199.6h0.9v0.9h-0.9zM85.9 192.7h0.9v0.9h-0.9zM85.8 199.9h0.9v0.9h-0.9zM96.4 195.1h0.9v0.9h-0.9zM84.0 199.6h0.9v0.9h-0.9zM96.4 196.3h0.9v0.9h-0.9zM98.7 194.4h0.9v0.9h-0.9zM98.2 201.5h0.9v0.9h-0.9zM80.1 200.7h0.9v0.9h-0.9zM88.7 197.3h0.9v0.9h-0.9zM85.7 198.2h0.9v0.9h-0.9zM86.2 198.8h0.9v0.9h-0.9zM96.1 204.8h0.9v0.9h-0.9zM96.4 202.4h0.9v0.9h-0.9zM92.5 197.2h0.9v0.9h-0.9zM83.5 203.0h0.9v0.9h-0.9zM87.4 199.1h0.9v0.9h-0.9zM82.0 200.3h0.9v0.9h-0.9zM97.9 197.7h0.9v0.9h-0.9zM95.2 197.4h0.9v0.9h-0.9zM90.9 195.9h0.9v0.9h-0.9zM92.8 200.9h0.9v0.9h-0.9zM99.8 202.6h0.9v0.9h-0.9zM92.6 195.0h0.9v0.9h-0.9zM106.8 191.7h0.9v0.9h-0.9zM87.8 195.8h0.9v0.9h-0.9zM96.2 199.8h0.9v0.9h-0.9zM93.1 189.7h0.9v0.9h-0.9zM87.0 203.2h0.9v0.9h-0.9zM87.1 192.2h0.9v0.9h-0.9zM91.2 195.4h0.9v0.9h-0.9zM90.0 199.9h0.9v0.9h-0.9zM84.3 198.0h0.9v0.9h-0.9zM97.9 197.0h0.9v0.9h-0.9zM88.8 195.5h0.9v0.9h-0.9zM92.0 200.8h0.9v0.9h-0.9zM85.0 198.9h0.9v0.9h-0.9zM99.8 190.3h0.9v0.9h-0.9zM95.9 202.6h0.9v0.9h-0.9zM81.2 190.3h0.9v0.9h-0.9zM86.8 205.0h0.9v0.9h-0.9zM86.3 198.4h0.9v0.9h-0.9zM90.7 197.8h0.9v0.9h-0.9zM101.6 199.6h0.9v0.9h-0.9zM83.2 199.7h0.9v0.9h-0.9zM93.8 193.0h0.9v0.9h-0.9zM91.1 195.3h0.9v0.9h-0.9zM82.4 193.8h0.9v0.9h-0.9zM94.7 197.4h0.9v0.9h-0.9zM80.4 201.7h0.9v0.9h-0.9zM88.2 183.8h0.9v0.9h-0.9zM83.6 186.7h0.9v0.9h-0.9zM101.9 199.5h0.9v0.9h-0.9zM85.0 192.4h0.9v0.9h-0.9zM85.6 199.4h0.9v0.9h-0.9zM97.4 198.5h0.9v0.9h-0.9zM97.3 197.6h0.9v0.9h-0.9zM77.7 199.8h0.9v0.9h-0.9zM96.0 201.1h0.9v0.9h-0.9zM96.5 193.7h0.9v0.9h-0.9zM88.5 198.4h0.9v0.9h-0.9zM92.1 201.1h0.9v0.9h-0.9zM95.9 196.3h0.9v0.9h-0.9zM114.4 193.3h0.9v0.9h-0.9zM117.4 193.3h0.9v0.9h-0.9zM114.9 199.1h0.9v0.9h-0.9zM121.4 199.6h0.9v0.9h-0.9zM120.7 197.6h0.9v0.9h-0.9zM116.5 193.5h0.9v0.9h-0.9zM119.0 187.1h0.9v0.9h-0.9zM118.9 186.6h0.9v0.9h-0.9zM124.3 198.0h0.9v0.9h-0.9zM115.9 195.1h0.9v0.9h-0.9zM116.3 202.1h0.9v0.9h-0.9zM121.9 195.7h0.9v0.9h-0.9zM116.3 197.9h0.9v0.9h-0.9zM119.0 195.1h0.9v0.9h-0.9zM116.3 188.5h0.9v0.9h-0.9zM113.4 192.1h0.9v0.9h-0.9zM112.5 191.2h0.9v0.9h-0.9zM124.2 195.4h0.9v0.9h-0.9zM120.5 192.7h0.9v0.9h-0.9zM122.7 195.9h0.9v0.9h-0.9zM120.8 200.2h0.9v0.9h-0.9zM119.6 203.8h0.9v0.9h-0.9zM114.9 193.9h0.9v0.9h-0.9zM119.8 194.9h0.9v0.9h-0.9zM119.7 204.9h0.9v0.9h-0.9zM117.1 196.5h0.9v0.9h-0.9zM116.3 191.7h0.9v0.9h-0.9zM111.5 197.4h0.9v0.9h-0.9zM122.9 195.5h0.9v0.9h-0.9zM122.3 189.5h0.9v0.9h-0.9zM117.5 194.7h0.9v0.9h-0.9zM120.6 195.5h0.9v0.9h-0.9zM119.9 201.8h0.9v0.9h-0.9zM114.3 194.8h0.9v0.9h-0.9zM119.4 192.3h0.9v0.9h-0.9zM119.3 187.5h0.9v0.9h-0.9zM114.6 194.1h0.9v0.9h-0.9zM111.8 204.8h0.9v0.9h-0.9zM124.5 200.8h0.9v0.9h-0.9zM120.9 199.3h0.9v0.9h-0.9zM117.1 194.2h0.9v0.9h-0.9zM111.0 199.3h0.9v0.9h-0.9zM117.4 186.5h0.9v0.9h-0.9zM115.2 197.4h0.9v0.9h-0.9zM112.4 192.9h0.9v0.9h-0.9zM110.5 193.0h0.9v0.9h-0.9zM117.7 184.5h0.9v0.9h-0.9zM115.3 197.1h0.9v0.9h-0.9zM116.7 201.6h0.9v0.9h-0.9zM120.9 200.2h0.9v0.9h-0.9zM113.7 191.0h0.9v0.9h-0.9zM119.1 197.4h0.9v0.9h-0.9zM116.1 194.1h0.9v0.9h-0.9zM114.6 193.0h0.9v0.9h-0.9zM119.3 201.5h0.9v0.9h-0.9zM119.9 199.1h0.9v0.9h-0.9zM118.2 197.4h0.9v0.9h-0.9zM121.3 191.2h0.9v0.9h-0.9zM121.3 197.8h0.9v0.9h-0.9zM121.5 197.1h0.9v0.9h-0.9zM115.7 193.2h0.9v0.9h-0.9zM118.1 184.0h0.9v0.9h-0.9zM115.1 192.4h0.9v0.9h-0.9zM116.1 190.7h0.9v0.9h-0.9zM114.2 193.9h0.9v0.9h-0.9zM115.8 200.9h0.9v0.9h-0.9zM117.9 194.7h0.9v0.9h-0.9zM120.7 194.7h0.9v0.9h-0.9zM117.8 200.2h0.9v0.9h-0.9zM121.2 194.2h0.9v0.9h-0.9zM113.4 192.4h0.9v0.9h-0.9zM119.8 187.9h0.9v0.9h-0.9zM116.8 194.9h0.9v0.9h-0.9zM112.8 200.4h0.9v0.9h-0.9zM117.1 188.4h0.9v0.9h-0.9zM114.5 197.0h0.9v0.9h-0.9zM122.6 196.4h0.9v0.9h-0.9zM118.6 194.3h0.9v0.9h-0.9zM123.4 200.8h0.9v0.9h-0.9zM112.5 195.3h0.9v0.9h-0.9zM119.9 194.3h0.9v0.9h-0.9zM119.5 198.1h0.9v0.9h-0.9zM114.9 200.8h0.9v0.9h-0.9zM118.5 199.9h0.9v0.9h-0.9zM118.9 194.8h0.9v0.9h-0.9zM122.6 196.8h0.9v0.9h-0.9zM123.4 197.8h0.9v0.9h-0.9zM125.4 191.8h0.9v0.9h-0.9zM118.3 191.9h0.9v0.9h-0.9zM114.3 196.0h0.9v0.9h-0.9zM113.0 194.8h0.9v0.9h-0.9zM122.4 197.5h0.9v0.9h-0.9zM116.2 194.1h0.9v0.9h-0.9zM120.4 202.0h0.9v0.9h-0.9zM117.1 195.7h0.9v0.9h-0.9zM119.6 194.4h0.9v0.9h-0.9zM119.2 196.4h0.9v0.9h-0.9zM122.5 192.6h0.9v0.9h-0.9zM118.2 196.7h0.9v0.9h-0.9zM115.5 193.7h0.9v0.9h-0.9zM117.9 188.8h0.9v0.9h-0.9zM116.3 190.2h0.9v0.9h-0.9zM116.2 192.2h0.9v0.9h-0.9zM116.3 198.2h0.9v0.9h-0.9zM122.1 198.8h0.9v0.9h-0.9zM115.2 196.6h0.9v0.9h-0.9zM113.7 197.6h0.9v0.9h-0.9zM120.4 193.6h0.9v0.9h-0.9zM118.1 198.7h0.9v0.9h-0.9zM120.4 192.7h0.9v0.9h-0.9zM115.5 187.8h0.9v0.9h-0.9zM116.8 192.5h0.9v0.9h-0.9zM117.9 197.5h0.9v0.9h-0.9zM113.2 191.8h0.9v0.9h-0.9zM116.7 188.1h0.9v0.9h-0.9zM117.2 192.9h0.9v0.9h-0.9zM119.1 198.0h0.9v0.9h-0.9zM120.2 194.0h0.9v0.9h-0.9zM118.7 196.0h0.9v0.9h-0.9zM121.4 187.1h0.9v0.9h-0.9zM117.0 191.8h0.9v0.9h-0.9zM118.2 199.6h0.9v0.9h-0.9zM118.6 195.6h0.9v0.9h-0.9zM115.5 196.4h0.9v0.9h-0.9zM118.7 190.7h0.9v0.9h-0.9zM120.0 193.0h0.9v0.9h-0.9zM110.8 194.2h0.9v0.9h-0.9zM119.6 197.0h0.9v0.9h-0.9zM118.3 194.8h0.9v0.9h-0.9zM120.1 197.5h0.9v0.9h-0.9zM111.7 191.9h0.9v0.9h-0.9zM118.2 194.7h0.9v0.9h-0.9zM120.6 199.3h0.9v0.9h-0.9zM118.3 193.4h0.9v0.9h-0.9zM123.6 191.3h0.9v0.9h-0.9zM117.5 203.8h0.9v0.9h-0.9zM120.0 197.6h0.9v0.9h-0.9zM117.9 200.3h0.9v0.9h-0.9zM127.7 196.4h0.9v0.9h-0.9zM117.1 200.1h0.9v0.9h-0.9zM124.3 196.7h0.9v0.9h-0.9zM115.1 196.6h0.9v0.9h-0.9zM115.3 199.3h0.9v0.9h-0.9zM117.2 197.4h0.9v0.9h-0.9zM118.2 198.7h0.9v0.9h-0.9zM111.1 196.6h0.9v0.9h-0.9zM118.6 196.4h0.9v0.9h-0.9zM113.1 201.0h0.9v0.9h-0.9zM115.8 197.1h0.9v0.9h-0.9zM116.2 194.3h0.9v0.9h-0.9zM116.4 188.1h0.9v0.9h-0.9zM115.8 200.8h0.9v0.9h-0.9zM114.1 195.7h0.9v0.9h-0.9zM112.0 199.9h0.9v0.9h-0.9zM113.3 190.1h0.9v0.9h-0.9zM117.4 197.5h0.9v0.9h-0.9zM113.5 194.7h0.9v0.9h-0.9zM119.8 195.2h0.9v0.9h-0.9zM115.4 197.1h0.9v0.9h-0.9zM121.7 205.2h0.9v0.9h-0.9zM122.3 187.8h0.9v0.9h-0.9zM122.4 199.7h0.9v0.9h-0.9zM119.0 198.2h0.9v0.9h-0.9zM121.8 194.1h0.9v0.9h-0.9zM113.8 194.1h0.9v0.9h-0.9zM120.3 192.8h0.9v0.9h-0.9zM115.8 189.7h0.9v0.9h-0.9zM119.8 190.6h0.9v0.9h-0.9zM117.3 192.1h0.9v0.9h-0.9zM122.4 199.6h0.9v0.9h-0.9zM125.8 192.2h0.9v0.9h-0.9zM114.7 196.4h0.9v0.9h-0.9zM113.4 193.1h0.9v0.9h-0.9zM120.4 195.5h0.9v0.9h-0.9zM120.9 192.0h0.9v0.9h-0.9zM116.5 194.7h0.9v0.9h-0.9zM120.9 200.1h0.9v0.9h-0.9zM122.2 195.7h0.9v0.9h-0.9zM115.6 193.4h0.9v0.9h-0.9zM118.1 188.5h0.9v0.9h-0.9z" fill="#000" fill-opacity="0.85"/>
<rect x="76.0" y="130.4" width="88.80000000000001" height="81.79999999999998" fill="none" stroke="#444" stroke-width="1.0" />
<path d="M76.0 212.2v2.2M76.0 212.2h-2.2M82.7 212.2v1.3M76.0 206.0h-1.3M86.6 212.2v1.3M76.0 202.4h-1.3M89.4 212.2v1.3M76.0 199.9h-1.3M91.5 212.2v1.3M76.0 197.9h-1.3M93.3 212.2v1.3M76.0 196.3h-1.3M94.8 212.2v1.3M76.0 194.9h-1.3M96.0 212.2v1.3M76.0 193.7h-1.3M97.2 212.2v1.3M76.0 192.7h-1.3M98.2 212.2v2.2M76.0 191.8h-2.2M104.9 212.2v1.3M76.0 185.6h-1.3M108.8 212.2v1.3M76.0 182.0h-1.3M111.6 212.2v1.3M76.0 179.4h-1.3M113.7 212.2v1.3M76.0 177.5h-1.3M115.5 212.2v1.3M76.0 175.8h-1.3M117.0 212.2v1.3M76.0 174.5h-1.3M118.2 212.2v1.3M76.0 173.3h-1.3M119.4 212.2v1.3M76.0 172.2h-1.3M120.4 212.2v2.2M76.0 171.3h-2.2M127.1 212.2v1.3M76.0 165.1h-1.3M131.0 212.2v1.3M76.0 161.5h-1.3M133.8 212.2v1.3M76.0 159.0h-1.3M135.9 212.2v1.3M76.0 157.0h-1.3M137.7 212.2v1.3M76.0 155.4h-1.3M139.2 212.2v1.3M76.0 154.0h-1.3M140.4 212.2v1.3M76.0 152.8h-1.3M141.6 212.2v1.3M76.0 151.8h-1.3M142.6 212.2v2.2M76.0 150.8h-2.2M149.3 212.2v1.3M76.0 144.7h-1.3M153.2 212.2v1.3M76.0 141.1h-1.3M156.0 212.2v1.3M76.0 138.5h-1.3M158.1 212.2v1.3M76.0 136.6h-1.3M159.9 212.2v1.3M76.0 134.9h-1.3M161.4 212.2v1.3M76.0 133.6h-1.3M162.6 212.2v1.3M76.0 132.4h-1.3M163.8 212.2v1.3M76.0 131.3h-1.3M164.8 212.2v2.2M76.0 130.4h-2.2" stroke="#000" stroke-width="0.6" fill="none"/>
<text x="77.4" y="219.2" font-size="5.6" text-anchor="middle" stroke="#000" stroke-width="0.15">10<tspan font-size="4.03" dy="-2.35">0</tspan></text>
<text x="99.60000000000001" y="219.2" font-size="5.6" text-anchor="middle" stroke="#000" stroke-width="0.15">10<tspan font-size="4.03" dy="-2.35">1</tspan></text>
<text x="121.80000000000001" y="219.2" font-size="5.6" text-anchor="middle" stroke="#000" stroke-width="0.15">10<tspan font-size="4.03" dy="-2.35">2</tspan></text>
<text x="144.00000000000003" y="219.2" font-size="5.6" text-anchor="middle" stroke="#000" stroke-width="0.15">10<tspan font-size="4.03" dy="-2.35">3</tspan></text>
<text x="166.20000000000002" y="219.2" font-size="5.6" text-anchor="middle" stroke="#000" stroke-width="0.15">10<tspan font-size="4.03" dy="-2.35">4</tspan></text>
<text transform="translate(71.8,211.07999999999998) rotate(-90)" font-size="5.6" text-anchor="middle" stroke="#000" stroke-width="0.15">10<tspan font-size="4.03" dy="-2.35">0</tspan></text>
<text transform="translate(71.8,190.63) rotate(-90)" font-size="5.6" text-anchor="middle" stroke="#000" stroke-width="0.15">10<tspan font-size="4.03" dy="-2.35">1</tspan></text>
<text transform="translate(71.8,170.18) rotate(-90)" font-size="5.6" text-anchor="middle" stroke="#000" stroke-width="0.15">10<tspan font-size="4.03" dy="-2.35">2</tspan></text>
<text transform="translate(71.8,149.73) rotate(-90)" font-size="5.6" text-anchor="middle" stroke="#000" stroke-width="0.15">10<tspan font-size="4.03" dy="-2.35">3</tspan></text>
<text transform="translate(71.8,129.28) rotate(-90)" font-size="5.6" text-anchor="middle" stroke="#000" stroke-width="0.15">10<tspan font-size="4.03" dy="-2.35">4</tspan></text>
<text x="120.9" y="225.35999999999999" font-size="5.319999999999999" text-anchor="middle" fill="#000" stroke="#000" stroke-width="0.15">FL2-H</text>
<text transform="translate(65.36,172.3) rotate(-90)" font-size="4.76" text-anchor="middle" fill="#000" stroke="#000" stroke-width="0.15">FL1-H</text>
<line x1="76.0" y1="130.4" x2="76.0" y2="212.2" stroke="#000" stroke-width="1.4" />
<line x1="76.0" y1="212.2" x2="164.8" y2="212.2" stroke="#000" stroke-width="1.2" />
<line x1="107.6" y1="130.4" x2="107.6" y2="212.2" stroke="#000" stroke-width="1.8" />
<line x1="124.4" y1="130.4" x2="124.4" y2="212.2" stroke="#000" stroke-width="1.8" />
<text x="188.0" y="16.6" font-size="18.2" font-weight="bold" text-anchor="start" fill="#000"  stroke="#000" stroke-width="0.25">B</text>
<text x="264.3" y="23.6" font-size="10.2" font-weight="bold" text-anchor="middle" fill="#000"  stroke="#000" stroke-width="0.25">Control</text>
<text x="266.3" y="36.3" font-size="10.2" font-weight="bold" text-anchor="middle" fill="#000"  stroke="#000" stroke-width="0.25">FW-wt</text>
<text x="354.9" y="23.6" font-size="10.2" font-weight="bold" text-anchor="middle" fill="#000"  stroke="#000" stroke-width="0.25">Immunized</text>
<text x="356.9" y="36.3" font-size="10.2" font-weight="bold" text-anchor="middle" fill="#000"  stroke="#000" stroke-width="0.25">FW-wt</text>
<text x="445.4" y="34.5" font-size="10.0" font-weight="bold" text-anchor="middle" fill="#000"  stroke="#000" stroke-width="0.25">FW-pX</text>
<text transform="translate(198.7,75.1) rotate(-90)" font-size="10.05" font-weight="bold" text-anchor="middle" fill="#000"  stroke="#000" stroke-width="0.25">4 weeks of age</text>
<text transform="translate(198.2,164.5) rotate(-90)" font-size="10.05" font-weight="bold" text-anchor="middle" fill="#000"  stroke="#000" stroke-width="0.25">7 weeks of age</text>
<line x1="204.3" y1="34.7" x2="204.3" y2="116.3" stroke="#000" stroke-width="1.5" />
<line x1="204.0" y1="123" x2="204.0" y2="207" stroke="#000" stroke-width="1.5" />
<line x1="213.3" y1="37.6" x2="213.3" y2="175" stroke="#333" stroke-width="1.0" />
<text transform="translate(215.6,187.5) rotate(-90)" font-size="10.0" font-weight="bold" text-anchor="middle" fill="#000"  stroke="#000" stroke-width="0.25">CD8</text>
<text x="250" y="223.8" font-size="10.2" font-weight="bold" text-anchor="middle" fill="#000"  stroke="#000" stroke-width="0.25">CD4</text>
<line x1="266" y1="219.6" x2="488" y2="219.6" stroke="#333" stroke-width="1.0" />
<path d="M263.0 59.3h0.9v0.9h-0.9zM266.4 59.0h0.9v0.9h-0.9zM268.0 59.0h0.9v0.9h-0.9zM270.2 62.1h0.9v0.9h-0.9zM261.1 64.4h0.9v0.9h-0.9zM266.9 58.7h0.9v0.9h-0.9zM266.8 60.6h0.9v0.9h-0.9zM268.4 62.1h0.9v0.9h-0.9zM269.6 57.9h0.9v0.9h-0.9zM266.8 59.2h0.9v0.9h-0.9zM261.3 58.8h0.9v0.9h-0.9zM262.8 61.1h0.9v0.9h-0.9zM265.1 61.1h0.9v0.9h-0.9zM265.7 60.6h0.9v0.9h-0.9zM267.4 58.8h0.9v0.9h-0.9zM265.5 60.0h0.9v0.9h-0.9zM264.4 58.4h0.9v0.9h-0.9zM266.8 61.6h0.9v0.9h-0.9zM269.5 83.0h0.9v0.9h-0.9zM264.7 79.1h0.9v0.9h-0.9zM263.8 86.1h0.9v0.9h-0.9zM270.0 83.9h0.9v0.9h-0.9zM269.0 87.5h0.9v0.9h-0.9zM270.4 84.8h0.9v0.9h-0.9zM262.3 83.0h0.9v0.9h-0.9zM267.8 80.8h0.9v0.9h-0.9zM264.0 80.0h0.9v0.9h-0.9zM262.4 78.2h0.9v0.9h-0.9zM267.6 80.5h0.9v0.9h-0.9zM264.4 84.0h0.9v0.9h-0.9zM263.2 79.2h0.9v0.9h-0.9zM262.2 79.2h0.9v0.9h-0.9zM264.4 80.5h0.9v0.9h-0.9zM267.4 81.3h0.9v0.9h-0.9zM265.5 79.6h0.9v0.9h-0.9zM258.6 81.3h0.9v0.9h-0.9zM266.8 85.3h0.9v0.9h-0.9zM267.5 81.1h0.9v0.9h-0.9zM262.9 82.7h0.9v0.9h-0.9zM262.9 84.0h0.9v0.9h-0.9zM266.4 85.2h0.9v0.9h-0.9zM261.5 86.7h0.9v0.9h-0.9zM258.2 81.3h0.9v0.9h-0.9z" fill="#888" fill-opacity="0.7"/>
<path d="M268.2 96.7h0.9v0.9h-0.9zM267.3 102.3h0.9v0.9h-0.9zM258.9 102.0h0.9v0.9h-0.9zM261.2 93.9h0.9v0.9h-0.9zM268.1 87.0h0.9v0.9h-0.9zM272.1 94.3h0.9v0.9h-0.9zM267.9 94.3h0.9v0.9h-0.9zM267.7 94.0h0.9v0.9h-0.9zM265.7 81.8h0.9v0.9h-0.9zM268.4 102.8h0.9v0.9h-0.9zM264.9 95.9h0.9v0.9h-0.9zM262.9 92.9h0.9v0.9h-0.9zM266.4 100.1h0.9v0.9h-0.9zM267.8 106.0h0.9v0.9h-0.9zM268.5 100.8h0.9v0.9h-0.9zM266.7 96.6h0.9v0.9h-0.9zM269.1 92.9h0.9v0.9h-0.9zM263.7 100.4h0.9v0.9h-0.9zM262.0 95.8h0.9v0.9h-0.9zM261.7 92.1h0.9v0.9h-0.9zM275.2 86.6h0.9v0.9h-0.9zM268.5 93.9h0.9v0.9h-0.9zM262.7 87.6h0.9v0.9h-0.9zM267.4 95.3h0.9v0.9h-0.9zM265.8 109.5h0.9v0.9h-0.9zM262.1 83.1h0.9v0.9h-0.9zM266.1 107.5h0.9v0.9h-0.9zM266.2 107.8h0.9v0.9h-0.9zM268.8 100.4h0.9v0.9h-0.9zM263.8 99.1h0.9v0.9h-0.9zM268.9 101.6h0.9v0.9h-0.9zM265.8 100.8h0.9v0.9h-0.9zM265.8 103.9h0.9v0.9h-0.9zM265.2 109.5h0.9v0.9h-0.9zM266.9 99.5h0.9v0.9h-0.9zM261.1 83.2h0.9v0.9h-0.9zM265.4 95.1h0.9v0.9h-0.9zM271.0 93.0h0.9v0.9h-0.9zM263.3 103.7h0.9v0.9h-0.9zM260.4 98.7h0.9v0.9h-0.9zM262.4 78.7h0.9v0.9h-0.9zM261.0 96.9h0.9v0.9h-0.9zM265.8 96.1h0.9v0.9h-0.9zM263.3 98.2h0.9v0.9h-0.9zM266.5 98.2h0.9v0.9h-0.9zM270.1 104.5h0.9v0.9h-0.9zM263.2 93.2h0.9v0.9h-0.9zM263.2 98.8h0.9v0.9h-0.9zM268.5 108.7h0.9v0.9h-0.9zM266.2 93.5h0.9v0.9h-0.9zM262.8 86.4h0.9v0.9h-0.9zM270.3 95.4h0.9v0.9h-0.9zM264.0 97.2h0.9v0.9h-0.9zM266.9 85.0h0.9v0.9h-0.9zM266.7 84.2h0.9v0.9h-0.9zM264.2 97.2h0.9v0.9h-0.9zM267.4 97.3h0.9v0.9h-0.9zM262.6 98.0h0.9v0.9h-0.9zM268.8 93.8h0.9v0.9h-0.9zM262.7 90.4h0.9v0.9h-0.9zM259.6 106.6h0.9v0.9h-0.9zM266.7 97.4h0.9v0.9h-0.9zM266.3 106.7h0.9v0.9h-0.9zM264.8 88.8h0.9v0.9h-0.9zM268.7 82.0h0.9v0.9h-0.9zM264.8 106.2h0.9v0.9h-0.9zM269.9 97.5h0.9v0.9h-0.9zM265.6 97.1h0.9v0.9h-0.9zM265.1 97.2h0.9v0.9h-0.9zM269.5 101.4h0.9v0.9h-0.9zM270.4 102.0h0.9v0.9h-0.9zM264.8 96.2h0.9v0.9h-0.9zM271.7 93.8h0.9v0.9h-0.9zM268.6 91.4h0.9v0.9h-0.9zM267.3 95.6h0.9v0.9h-0.9zM264.6 92.0h0.9v0.9h-0.9zM263.8 99.1h0.9v0.9h-0.9zM269.5 100.7h0.9v0.9h-0.9zM263.4 101.1h0.9v0.9h-0.9zM259.1 97.4h0.9v0.9h-0.9zM271.9 81.2h0.9v0.9h-0.9zM264.9 104.9h0.9v0.9h-0.9zM270.9 106.8h0.9v0.9h-0.9zM264.6 109.6h0.9v0.9h-0.9zM270.1 95.7h0.9v0.9h-0.9zM266.1 91.8h0.9v0.9h-0.9zM265.0 107.8h0.9v0.9h-0.9zM262.7 106.5h0.9v0.9h-0.9zM266.8 100.7h0.9v0.9h-0.9zM264.2 103.5h0.9v0.9h-0.9zM265.5 96.8h0.9v0.9h-0.9zM261.5 98.3h0.9v0.9h-0.9zM264.8 104.1h0.9v0.9h-0.9zM266.2 97.5h0.9v0.9h-0.9zM264.4 93.8h0.9v0.9h-0.9zM263.9 102.9h0.9v0.9h-0.9zM261.9 87.7h0.9v0.9h-0.9zM266.5 108.0h0.9v0.9h-0.9zM266.7 96.7h0.9v0.9h-0.9zM271.5 100.2h0.9v0.9h-0.9zM264.2 99.1h0.9v0.9h-0.9zM268.5 95.2h0.9v0.9h-0.9zM267.9 95.5h0.9v0.9h-0.9zM266.1 100.0h0.9v0.9h-0.9zM259.1 106.5h0.9v0.9h-0.9zM267.3 100.8h0.9v0.9h-0.9zM266.2 96.0h0.9v0.9h-0.9zM269.3 97.6h0.9v0.9h-0.9zM268.0 85.6h0.9v0.9h-0.9zM271.0 99.0h0.9v0.9h-0.9zM266.4 90.3h0.9v0.9h-0.9zM263.2 100.4h0.9v0.9h-0.9zM256.7 106.2h0.9v0.9h-0.9zM263.5 91.7h0.9v0.9h-0.9zM266.1 104.9h0.9v0.9h-0.9zM262.1 93.0h0.9v0.9h-0.9zM267.9 89.1h0.9v0.9h-0.9zM258.3 92.2h0.9v0.9h-0.9zM264.4 95.5h0.9v0.9h-0.9zM267.4 101.6h0.9v0.9h-0.9zM264.3 101.0h0.9v0.9h-0.9zM265.1 98.0h0.9v0.9h-0.9zM262.9 101.8h0.9v0.9h-0.9zM264.6 105.8h0.9v0.9h-0.9zM261.7 105.1h0.9v0.9h-0.9zM262.3 100.3h0.9v0.9h-0.9zM262.5 90.9h0.9v0.9h-0.9zM267.4 85.8h0.9v0.9h-0.9zM267.5 86.5h0.9v0.9h-0.9zM267.3 96.7h0.9v0.9h-0.9zM266.0 97.3h0.9v0.9h-0.9zM268.5 109.4h0.9v0.9h-0.9zM266.5 107.5h0.9v0.9h-0.9zM263.1 90.0h0.9v0.9h-0.9zM264.7 103.4h0.9v0.9h-0.9zM268.4 86.7h0.9v0.9h-0.9zM266.3 100.6h0.9v0.9h-0.9zM272.6 95.7h0.9v0.9h-0.9zM261.9 86.0h0.9v0.9h-0.9zM265.2 101.4h0.9v0.9h-0.9zM266.3 97.2h0.9v0.9h-0.9zM263.6 97.5h0.9v0.9h-0.9zM265.5 90.1h0.9v0.9h-0.9zM264.5 96.2h0.9v0.9h-0.9zM259.9 97.5h0.9v0.9h-0.9zM266.2 98.7h0.9v0.9h-0.9zM262.9 95.8h0.9v0.9h-0.9zM266.4 103.5h0.9v0.9h-0.9zM266.5 88.4h0.9v0.9h-0.9zM267.6 108.7h0.9v0.9h-0.9zM265.0 79.5h0.9v0.9h-0.9zM268.0 105.2h0.9v0.9h-0.9zM265.8 95.0h0.9v0.9h-0.9zM268.9 103.8h0.9v0.9h-0.9zM265.8 96.9h0.9v0.9h-0.9zM266.4 105.4h0.9v0.9h-0.9zM266.2 89.9h0.9v0.9h-0.9zM264.2 99.2h0.9v0.9h-0.9zM266.9 94.1h0.9v0.9h-0.9zM267.9 93.7h0.9v0.9h-0.9zM268.5 109.9h0.9v0.9h-0.9zM268.1 98.7h0.9v0.9h-0.9zM267.4 82.9h0.9v0.9h-0.9zM269.7 91.7h0.9v0.9h-0.9zM263.0 94.7h0.9v0.9h-0.9zM263.0 97.2h0.9v0.9h-0.9zM264.7 96.7h0.9v0.9h-0.9zM268.6 99.9h0.9v0.9h-0.9zM263.8 95.7h0.9v0.9h-0.9zM263.1 104.1h0.9v0.9h-0.9zM262.4 94.0h0.9v0.9h-0.9zM269.8 94.8h0.9v0.9h-0.9zM265.8 100.4h0.9v0.9h-0.9zM261.0 98.3h0.9v0.9h-0.9zM268.0 98.2h0.9v0.9h-0.9zM267.0 90.7h0.9v0.9h-0.9zM265.5 94.8h0.9v0.9h-0.9zM265.4 87.7h0.9v0.9h-0.9zM263.7 100.3h0.9v0.9h-0.9zM263.7 100.7h0.9v0.9h-0.9zM269.5 98.9h0.9v0.9h-0.9zM265.7 101.3h0.9v0.9h-0.9zM263.0 93.5h0.9v0.9h-0.9zM262.5 91.2h0.9v0.9h-0.9zM270.0 91.7h0.9v0.9h-0.9zM265.4 94.7h0.9v0.9h-0.9zM264.3 95.1h0.9v0.9h-0.9zM264.9 99.5h0.9v0.9h-0.9zM264.7 100.0h0.9v0.9h-0.9zM265.1 95.1h0.9v0.9h-0.9zM265.0 108.9h0.9v0.9h-0.9zM262.3 96.2h0.9v0.9h-0.9zM267.3 101.0h0.9v0.9h-0.9zM262.9 89.7h0.9v0.9h-0.9zM265.4 105.2h0.9v0.9h-0.9zM267.5 96.8h0.9v0.9h-0.9zM264.6 95.7h0.9v0.9h-0.9zM265.1 87.7h0.9v0.9h-0.9zM261.8 96.7h0.9v0.9h-0.9zM270.5 98.9h0.9v0.9h-0.9zM260.9 89.8h0.9v0.9h-0.9zM265.3 90.4h0.9v0.9h-0.9zM266.1 92.3h0.9v0.9h-0.9zM263.4 88.2h0.9v0.9h-0.9zM266.6 99.5h0.9v0.9h-0.9zM266.6 101.9h0.9v0.9h-0.9zM265.2 105.5h0.9v0.9h-0.9zM262.9 102.4h0.9v0.9h-0.9zM264.5 94.1h0.9v0.9h-0.9zM263.8 101.3h0.9v0.9h-0.9zM266.1 104.9h0.9v0.9h-0.9zM263.2 99.0h0.9v0.9h-0.9zM263.1 101.2h0.9v0.9h-0.9zM269.4 91.2h0.9v0.9h-0.9zM268.5 90.8h0.9v0.9h-0.9zM269.6 98.8h0.9v0.9h-0.9zM267.2 90.3h0.9v0.9h-0.9zM269.9 97.1h0.9v0.9h-0.9zM264.5 104.5h0.9v0.9h-0.9zM263.7 96.0h0.9v0.9h-0.9zM264.8 92.5h0.9v0.9h-0.9zM268.6 109.3h0.9v0.9h-0.9zM263.3 108.6h0.9v0.9h-0.9zM268.6 95.5h0.9v0.9h-0.9zM264.1 94.2h0.9v0.9h-0.9zM268.5 92.6h0.9v0.9h-0.9zM265.4 102.5h0.9v0.9h-0.9zM265.1 106.0h0.9v0.9h-0.9zM266.0 106.6h0.9v0.9h-0.9zM266.8 99.7h0.9v0.9h-0.9zM264.3 100.5h0.9v0.9h-0.9zM268.0 87.6h0.9v0.9h-0.9zM267.4 107.0h0.9v0.9h-0.9zM268.4 101.2h0.9v0.9h-0.9zM265.5 91.2h0.9v0.9h-0.9zM263.6 96.0h0.9v0.9h-0.9zM263.2 99.2h0.9v0.9h-0.9zM264.7 96.5h0.9v0.9h-0.9zM269.2 99.9h0.9v0.9h-0.9zM267.8 87.1h0.9v0.9h-0.9zM267.5 93.1h0.9v0.9h-0.9zM270.2 88.6h0.9v0.9h-0.9zM264.1 104.2h0.9v0.9h-0.9zM271.4 88.8h0.9v0.9h-0.9zM265.5 93.7h0.9v0.9h-0.9zM266.9 105.1h0.9v0.9h-0.9zM264.6 91.4h0.9v0.9h-0.9zM267.5 96.1h0.9v0.9h-0.9zM268.2 97.2h0.9v0.9h-0.9zM269.6 98.0h0.9v0.9h-0.9zM266.2 105.4h0.9v0.9h-0.9zM266.6 108.1h0.9v0.9h-0.9zM264.6 92.7h0.9v0.9h-0.9zM268.5 102.2h0.9v0.9h-0.9zM264.6 91.4h0.9v0.9h-0.9zM264.4 98.4h0.9v0.9h-0.9zM265.4 91.4h0.9v0.9h-0.9zM263.8 102.2h0.9v0.9h-0.9zM268.9 108.6h0.9v0.9h-0.9zM264.0 91.2h0.9v0.9h-0.9zM267.4 96.3h0.9v0.9h-0.9zM267.9 104.4h0.9v0.9h-0.9zM264.9 97.4h0.9v0.9h-0.9zM261.8 87.9h0.9v0.9h-0.9zM261.5 88.5h0.9v0.9h-0.9zM264.6 102.8h0.9v0.9h-0.9zM261.0 98.1h0.9v0.9h-0.9zM269.2 82.9h0.9v0.9h-0.9zM262.8 102.5h0.9v0.9h-0.9zM268.6 92.4h0.9v0.9h-0.9zM268.0 104.1h0.9v0.9h-0.9zM262.2 97.2h0.9v0.9h-0.9zM264.3 95.8h0.9v0.9h-0.9zM266.3 90.5h0.9v0.9h-0.9zM260.9 88.5h0.9v0.9h-0.9zM262.3 96.4h0.9v0.9h-0.9zM268.1 94.3h0.9v0.9h-0.9zM263.9 94.3h0.9v0.9h-0.9zM267.6 96.9h0.9v0.9h-0.9zM265.8 93.2h0.9v0.9h-0.9zM265.6 95.1h0.9v0.9h-0.9zM268.6 98.1h0.9v0.9h-0.9zM268.8 100.7h0.9v0.9h-0.9zM266.4 86.2h0.9v0.9h-0.9zM265.2 91.5h0.9v0.9h-0.9zM268.3 100.0h0.9v0.9h-0.9zM266.7 96.6h0.9v0.9h-0.9zM269.2 84.3h0.9v0.9h-0.9zM267.5 95.0h0.9v0.9h-0.9zM263.0 92.8h0.9v0.9h-0.9zM265.5 99.6h0.9v0.9h-0.9zM268.5 93.1h0.9v0.9h-0.9zM263.7 104.4h0.9v0.9h-0.9zM268.5 90.7h0.9v0.9h-0.9zM263.8 99.7h0.9v0.9h-0.9zM264.9 102.1h0.9v0.9h-0.9zM263.7 93.1h0.9v0.9h-0.9zM273.5 105.1h0.9v0.9h-0.9zM269.8 100.4h0.9v0.9h-0.9zM264.0 105.7h0.9v0.9h-0.9zM269.7 96.5h0.9v0.9h-0.9zM265.0 101.6h0.9v0.9h-0.9zM265.5 87.5h0.9v0.9h-0.9zM267.5 103.2h0.9v0.9h-0.9zM261.1 109.9h0.9v0.9h-0.9zM262.7 89.2h0.9v0.9h-0.9zM263.3 97.4h0.9v0.9h-0.9zM265.4 85.9h0.9v0.9h-0.9zM265.9 100.4h0.9v0.9h-0.9zM263.7 81.6h0.9v0.9h-0.9zM262.6 92.5h0.9v0.9h-0.9zM267.5 94.0h0.9v0.9h-0.9zM265.6 96.0h0.9v0.9h-0.9zM267.9 105.9h0.9v0.9h-0.9zM269.1 97.7h0.9v0.9h-0.9zM262.2 84.3h0.9v0.9h-0.9zM263.2 95.0h0.9v0.9h-0.9zM262.3 87.1h0.9v0.9h-0.9zM264.6 94.0h0.9v0.9h-0.9zM263.9 109.6h0.9v0.9h-0.9zM267.1 84.0h0.9v0.9h-0.9zM267.0 89.7h0.9v0.9h-0.9zM262.6 87.5h0.9v0.9h-0.9zM271.5 89.7h0.9v0.9h-0.9zM262.3 89.5h0.9v0.9h-0.9zM266.5 90.9h0.9v0.9h-0.9zM264.1 85.6h0.9v0.9h-0.9zM262.9 83.4h0.9v0.9h-0.9zM264.7 92.7h0.9v0.9h-0.9zM265.8 90.0h0.9v0.9h-0.9zM268.1 92.4h0.9v0.9h-0.9zM266.2 85.1h0.9v0.9h-0.9zM263.7 88.2h0.9v0.9h-0.9zM267.5 89.8h0.9v0.9h-0.9zM264.3 89.3h0.9v0.9h-0.9zM268.7 87.8h0.9v0.9h-0.9zM262.8 91.7h0.9v0.9h-0.9zM264.6 97.4h0.9v0.9h-0.9zM267.8 92.2h0.9v0.9h-0.9zM264.4 90.9h0.9v0.9h-0.9zM268.4 92.9h0.9v0.9h-0.9zM266.5 78.9h0.9v0.9h-0.9zM261.9 89.9h0.9v0.9h-0.9zM266.5 93.9h0.9v0.9h-0.9zM265.1 81.9h0.9v0.9h-0.9zM265.1 86.6h0.9v0.9h-0.9zM259.2 86.0h0.9v0.9h-0.9zM263.7 91.4h0.9v0.9h-0.9zM266.7 91.4h0.9v0.9h-0.9zM264.8 88.0h0.9v0.9h-0.9zM264.7 85.0h0.9v0.9h-0.9zM266.6 90.6h0.9v0.9h-0.9zM267.5 93.4h0.9v0.9h-0.9zM263.8 90.2h0.9v0.9h-0.9zM264.7 90.9h0.9v0.9h-0.9zM258.3 86.0h0.9v0.9h-0.9zM269.9 91.2h0.9v0.9h-0.9zM268.6 88.1h0.9v0.9h-0.9zM260.9 89.3h0.9v0.9h-0.9zM264.0 86.9h0.9v0.9h-0.9zM268.0 97.9h0.9v0.9h-0.9zM263.1 100.6h0.9v0.9h-0.9zM267.3 85.0h0.9v0.9h-0.9zM267.6 92.7h0.9v0.9h-0.9zM265.0 82.9h0.9v0.9h-0.9zM266.1 87.1h0.9v0.9h-0.9zM269.6 85.7h0.9v0.9h-0.9zM261.1 93.1h0.9v0.9h-0.9zM261.9 98.3h0.9v0.9h-0.9zM262.6 94.5h0.9v0.9h-0.9z" fill="#000" fill-opacity="0.72"/>
<rect x="230.4" y="40.4" width="76.4" height="70.6" fill="none" stroke="#444" stroke-width="1.0" />
<path d="M230.4 111.0v2.2M230.4 111.0h-2.2M236.1 111.0v1.3M230.4 105.7h-1.3M239.5 111.0v1.3M230.4 102.6h-1.3M241.9 111.0v1.3M230.4 100.4h-1.3M243.8 111.0v1.3M230.4 98.7h-1.3M245.3 111.0v1.3M230.4 97.3h-1.3M246.5 111.0v1.3M230.4 96.1h-1.3M247.6 111.0v1.3M230.4 95.1h-1.3M248.6 111.0v1.3M230.4 94.2h-1.3M249.5 111.0v2.2M230.4 93.3h-2.2M255.2 111.0v1.3M230.4 88.0h-1.3M258.6 111.0v1.3M230.4 84.9h-1.3M261.0 111.0v1.3M230.4 82.7h-1.3M262.9 111.0v1.3M230.4 81.0h-1.3M264.4 111.0v1.3M230.4 79.6h-1.3M265.6 111.0v1.3M230.4 78.4h-1.3M266.7 111.0v1.3M230.4 77.4h-1.3M267.7 111.0v1.3M230.4 76.5h-1.3M268.6 111.0v2.2M230.4 75.7h-2.2M274.3 111.0v1.3M230.4 70.4h-1.3M277.7 111.0v1.3M230.4 67.3h-1.3M280.1 111.0v1.3M230.4 65.1h-1.3M282.0 111.0v1.3M230.4 63.4h-1.3M283.5 111.0v1.3M230.4 62.0h-1.3M284.7 111.0v1.3M230.4 60.8h-1.3M285.8 111.0v1.3M230.4 59.8h-1.3M286.8 111.0v1.3M230.4 58.9h-1.3M287.7 111.0v2.2M230.4 58.1h-2.2M293.4 111.0v1.3M230.4 52.7h-1.3M296.8 111.0v1.3M230.4 49.6h-1.3M299.2 111.0v1.3M230.4 47.4h-1.3M301.1 111.0v1.3M230.4 45.7h-1.3M302.6 111.0v1.3M230.4 44.3h-1.3M303.8 111.0v1.3M230.4 43.1h-1.3M304.9 111.0v1.3M230.4 42.1h-1.3M305.9 111.0v1.3M230.4 41.2h-1.3M306.8 111.0v2.2M230.4 40.4h-2.2" stroke="#000" stroke-width="0.6" fill="none"/>
<text x="231.625" y="117.125" font-size="4.9" text-anchor="middle" stroke="none">10<tspan font-size="3.53" dy="-2.06">0</tspan></text>
<text x="250.725" y="117.125" font-size="4.9" text-anchor="middle" stroke="none">10<tspan font-size="3.53" dy="-2.06">1</tspan></text>
<text x="269.82500000000005" y="117.125" font-size="4.9" text-anchor="middle" stroke="none">10<tspan font-size="3.53" dy="-2.06">2</tspan></text>
<text x="288.925" y="117.125" font-size="4.9" text-anchor="middle" stroke="none">10<tspan font-size="3.53" dy="-2.06">3</tspan></text>
<text x="308.02500000000003" y="117.125" font-size="4.9" text-anchor="middle" stroke="none">10<tspan font-size="3.53" dy="-2.06">4</tspan></text>
<text transform="translate(226.725,110.02) rotate(-90)" font-size="4.9" text-anchor="middle" stroke="none">10<tspan font-size="3.53" dy="-2.06">0</tspan></text>
<text transform="translate(226.725,92.36999999999999) rotate(-90)" font-size="4.9" text-anchor="middle" stroke="none">10<tspan font-size="3.53" dy="-2.06">1</tspan></text>
<text transform="translate(226.725,74.72) rotate(-90)" font-size="4.9" text-anchor="middle" stroke="none">10<tspan font-size="3.53" dy="-2.06">2</tspan></text>
<text transform="translate(226.725,57.07000000000001) rotate(-90)" font-size="4.9" text-anchor="middle" stroke="none">10<tspan font-size="3.53" dy="-2.06">3</tspan></text>
<text transform="translate(226.725,39.42000000000001) rotate(-90)" font-size="4.9" text-anchor="middle" stroke="none">10<tspan font-size="3.53" dy="-2.06">4</tspan></text>
<text x="269.1" y="122.515" font-size="4.655" text-anchor="middle" fill="#000" stroke="none">FL1-H</text>
<text transform="translate(221.09,76.7) rotate(-90)" font-size="4.655" text-anchor="middle" fill="#000" stroke="none">FL2-H</text>
<line x1="255.6" y1="40.4" x2="255.6" y2="111.0" stroke="#333" stroke-width="1.0" />
<line x1="230.4" y1="86.7" x2="306.8" y2="86.7" stroke="#333" stroke-width="1.0" />
<path d="M351.3 91.5h0.9v0.9h-0.9zM362.1 89.8h0.9v0.9h-0.9zM357.7 74.1h0.9v0.9h-0.9zM357.3 90.5h0.9v0.9h-0.9zM354.5 61.2h0.9v0.9h-0.9zM360.3 66.5h0.9v0.9h-0.9zM350.7 74.7h0.9v0.9h-0.9zM360.2 65.1h0.9v0.9h-0.9zM356.1 101.9h0.9v0.9h-0.9zM357.5 77.6h0.9v0.9h-0.9zM352.8 62.0h0.9v0.9h-0.9zM361.3 64.5h0.9v0.9h-0.9zM356.4 91.5h0.9v0.9h-0.9zM353.6 77.7h0.9v0.9h-0.9zM359.9 81.6h0.9v0.9h-0.9zM360.6 93.3h0.9v0.9h-0.9zM361.7 63.5h0.9v0.9h-0.9zM357.1 81.0h0.9v0.9h-0.9zM355.2 60.3h0.9v0.9h-0.9zM355.3 95.0h0.9v0.9h-0.9zM359.7 71.9h0.9v0.9h-0.9zM355.5 78.8h0.9v0.9h-0.9zM359.1 72.1h0.9v0.9h-0.9zM353.4 63.5h0.9v0.9h-0.9zM359.0 102.2h0.9v0.9h-0.9zM357.5 87.2h0.9v0.9h-0.9zM359.0 66.9h0.9v0.9h-0.9zM358.3 97.9h0.9v0.9h-0.9zM360.0 78.0h0.9v0.9h-0.9zM353.0 72.4h0.9v0.9h-0.9zM360.5 73.2h0.9v0.9h-0.9zM356.4 83.0h0.9v0.9h-0.9zM354.8 69.6h0.9v0.9h-0.9zM357.6 71.5h0.9v0.9h-0.9zM354.3 93.6h0.9v0.9h-0.9zM358.8 55.0h0.9v0.9h-0.9zM351.6 89.2h0.9v0.9h-0.9zM352.4 89.6h0.9v0.9h-0.9zM360.1 92.5h0.9v0.9h-0.9zM362.8 65.3h0.9v0.9h-0.9zM352.5 74.6h0.9v0.9h-0.9zM354.2 91.5h0.9v0.9h-0.9zM357.9 70.9h0.9v0.9h-0.9zM354.3 66.3h0.9v0.9h-0.9zM354.6 64.9h0.9v0.9h-0.9zM363.4 90.1h0.9v0.9h-0.9zM354.7 78.9h0.9v0.9h-0.9zM359.2 80.5h0.9v0.9h-0.9zM361.0 82.7h0.9v0.9h-0.9zM365.1 88.6h0.9v0.9h-0.9zM351.8 68.9h0.9v0.9h-0.9zM354.1 101.4h0.9v0.9h-0.9zM354.9 91.6h0.9v0.9h-0.9zM350.5 87.0h0.9v0.9h-0.9zM351.9 75.2h0.9v0.9h-0.9zM356.1 64.4h0.9v0.9h-0.9zM365.3 67.5h0.9v0.9h-0.9zM354.1 100.6h0.9v0.9h-0.9zM359.8 52.2h0.9v0.9h-0.9zM357.7 93.3h0.9v0.9h-0.9zM352.1 80.8h0.9v0.9h-0.9zM353.2 71.9h0.9v0.9h-0.9zM362.9 92.4h0.9v0.9h-0.9zM352.9 66.4h0.9v0.9h-0.9zM359.1 83.6h0.9v0.9h-0.9zM354.9 83.8h0.9v0.9h-0.9zM351.1 72.1h0.9v0.9h-0.9zM353.3 95.6h0.9v0.9h-0.9zM356.1 69.1h0.9v0.9h-0.9zM353.3 93.8h0.9v0.9h-0.9zM357.6 74.8h0.9v0.9h-0.9zM354.8 89.8h0.9v0.9h-0.9zM355.1 78.2h0.9v0.9h-0.9zM353.5 52.4h0.9v0.9h-0.9zM358.5 79.1h0.9v0.9h-0.9zM354.9 88.0h0.9v0.9h-0.9zM354.8 72.3h0.9v0.9h-0.9zM353.0 76.7h0.9v0.9h-0.9zM356.4 101.5h0.9v0.9h-0.9zM357.6 74.4h0.9v0.9h-0.9zM360.1 70.3h0.9v0.9h-0.9zM359.0 83.7h0.9v0.9h-0.9zM354.1 86.3h0.9v0.9h-0.9zM360.6 88.6h0.9v0.9h-0.9zM348.8 60.2h0.9v0.9h-0.9zM355.7 77.3h0.9v0.9h-0.9zM350.5 89.6h0.9v0.9h-0.9zM358.0 95.0h0.9v0.9h-0.9zM357.2 101.1h0.9v0.9h-0.9zM353.6 76.1h0.9v0.9h-0.9z" fill="#888" fill-opacity="0.7"/>
<path d="M354.1 75.0h0.9v0.9h-0.9zM354.9 80.8h0.9v0.9h-0.9zM353.3 78.8h0.9v0.9h-0.9zM352.1 75.0h0.9v0.9h-0.9zM357.1 80.0h0.9v0.9h-0.9zM352.0 64.2h0.9v0.9h-0.9zM361.4 70.5h0.9v0.9h-0.9zM354.9 74.3h0.9v0.9h-0.9zM360.5 78.8h0.9v0.9h-0.9zM359.8 81.8h0.9v0.9h-0.9zM357.5 74.1h0.9v0.9h-0.9zM360.3 80.2h0.9v0.9h-0.9zM356.9 66.1h0.9v0.9h-0.9zM354.0 77.5h0.9v0.9h-0.9zM354.3 80.0h0.9v0.9h-0.9zM364.7 75.8h0.9v0.9h-0.9zM357.2 79.7h0.9v0.9h-0.9zM361.8 64.7h0.9v0.9h-0.9zM354.3 82.4h0.9v0.9h-0.9zM355.8 66.7h0.9v0.9h-0.9zM357.7 68.7h0.9v0.9h-0.9zM359.0 80.3h0.9v0.9h-0.9zM354.7 69.5h0.9v0.9h-0.9zM357.7 73.6h0.9v0.9h-0.9zM355.0 72.4h0.9v0.9h-0.9zM354.4 70.5h0.9v0.9h-0.9zM358.7 81.1h0.9v0.9h-0.9zM353.2 68.9h0.9v0.9h-0.9zM358.5 81.8h0.9v0.9h-0.9zM357.8 81.1h0.9v0.9h-0.9zM358.6 75.8h0.9v0.9h-0.9zM355.1 71.6h0.9v0.9h-0.9zM355.7 66.5h0.9v0.9h-0.9zM360.8 69.8h0.9v0.9h-0.9zM356.9 77.2h0.9v0.9h-0.9zM355.7 75.2h0.9v0.9h-0.9zM353.4 73.3h0.9v0.9h-0.9zM358.5 78.9h0.9v0.9h-0.9zM351.6 75.0h0.9v0.9h-0.9zM350.1 74.9h0.9v0.9h-0.9zM356.2 68.5h0.9v0.9h-0.9zM360.7 68.5h0.9v0.9h-0.9zM360.0 67.0h0.9v0.9h-0.9zM358.3 65.7h0.9v0.9h-0.9zM354.2 68.7h0.9v0.9h-0.9zM356.9 71.1h0.9v0.9h-0.9zM355.2 76.3h0.9v0.9h-0.9zM352.6 72.2h0.9v0.9h-0.9zM356.6 70.4h0.9v0.9h-0.9zM357.1 66.2h0.9v0.9h-0.9zM362.5 80.6h0.9v0.9h-0.9zM351.0 71.1h0.9v0.9h-0.9zM354.6 77.9h0.9v0.9h-0.9zM358.3 80.4h0.9v0.9h-0.9zM359.6 69.5h0.9v0.9h-0.9zM356.3 74.3h0.9v0.9h-0.9zM357.8 74.3h0.9v0.9h-0.9zM349.9 72.6h0.9v0.9h-0.9zM364.0 75.2h0.9v0.9h-0.9zM359.8 74.8h0.9v0.9h-0.9zM354.9 75.2h0.9v0.9h-0.9zM355.1 79.4h0.9v0.9h-0.9zM354.3 65.8h0.9v0.9h-0.9zM358.7 77.8h0.9v0.9h-0.9zM354.4 74.4h0.9v0.9h-0.9zM358.3 77.0h0.9v0.9h-0.9zM352.6 81.9h0.9v0.9h-0.9zM364.2 75.2h0.9v0.9h-0.9zM352.5 80.4h0.9v0.9h-0.9zM360.4 70.7h0.9v0.9h-0.9zM350.8 68.4h0.9v0.9h-0.9zM354.2 69.6h0.9v0.9h-0.9zM354.3 72.8h0.9v0.9h-0.9zM350.3 76.5h0.9v0.9h-0.9zM360.2 64.7h0.9v0.9h-0.9zM354.8 72.4h0.9v0.9h-0.9zM353.0 75.0h0.9v0.9h-0.9zM352.0 78.7h0.9v0.9h-0.9zM354.3 69.4h0.9v0.9h-0.9zM356.8 75.0h0.9v0.9h-0.9zM360.1 75.3h0.9v0.9h-0.9zM354.1 84.0h0.9v0.9h-0.9zM356.1 76.3h0.9v0.9h-0.9zM360.2 71.7h0.9v0.9h-0.9zM355.1 70.6h0.9v0.9h-0.9zM361.8 70.1h0.9v0.9h-0.9zM351.7 68.7h0.9v0.9h-0.9zM361.3 79.8h0.9v0.9h-0.9zM353.0 70.7h0.9v0.9h-0.9zM363.0 71.3h0.9v0.9h-0.9zM355.5 70.9h0.9v0.9h-0.9zM363.6 70.9h0.9v0.9h-0.9zM350.7 75.4h0.9v0.9h-0.9zM356.4 73.0h0.9v0.9h-0.9zM353.0 65.3h0.9v0.9h-0.9zM352.4 83.9h0.9v0.9h-0.9zM350.0 81.0h0.9v0.9h-0.9zM363.1 81.3h0.9v0.9h-0.9zM356.7 81.2h0.9v0.9h-0.9zM359.8 68.1h0.9v0.9h-0.9zM357.5 87.7h0.9v0.9h-0.9zM348.8 101.6h0.9v0.9h-0.9zM353.0 96.6h0.9v0.9h-0.9zM351.4 101.9h0.9v0.9h-0.9zM357.7 92.4h0.9v0.9h-0.9zM352.6 89.6h0.9v0.9h-0.9zM356.2 90.0h0.9v0.9h-0.9zM352.2 98.7h0.9v0.9h-0.9zM356.8 101.8h0.9v0.9h-0.9zM358.5 86.2h0.9v0.9h-0.9zM356.0 88.3h0.9v0.9h-0.9zM351.1 95.5h0.9v0.9h-0.9zM354.7 97.5h0.9v0.9h-0.9zM354.2 99.3h0.9v0.9h-0.9zM355.1 96.4h0.9v0.9h-0.9zM359.1 106.9h0.9v0.9h-0.9zM354.4 80.6h0.9v0.9h-0.9zM350.5 103.4h0.9v0.9h-0.9zM361.5 100.8h0.9v0.9h-0.9zM360.7 92.4h0.9v0.9h-0.9zM354.0 104.0h0.9v0.9h-0.9zM358.3 98.8h0.9v0.9h-0.9zM357.9 94.9h0.9v0.9h-0.9zM350.4 103.0h0.9v0.9h-0.9zM356.7 90.0h0.9v0.9h-0.9zM354.3 101.2h0.9v0.9h-0.9zM353.7 87.2h0.9v0.9h-0.9zM357.2 101.1h0.9v0.9h-0.9zM359.0 101.0h0.9v0.9h-0.9zM356.9 93.9h0.9v0.9h-0.9zM349.6 94.2h0.9v0.9h-0.9zM353.9 106.7h0.9v0.9h-0.9zM354.3 97.5h0.9v0.9h-0.9zM358.6 87.4h0.9v0.9h-0.9zM352.1 104.1h0.9v0.9h-0.9zM359.9 83.6h0.9v0.9h-0.9zM356.2 104.6h0.9v0.9h-0.9zM353.3 95.5h0.9v0.9h-0.9zM356.2 92.7h0.9v0.9h-0.9zM354.2 76.5h0.9v0.9h-0.9zM352.1 92.5h0.9v0.9h-0.9zM356.5 107.4h0.9v0.9h-0.9zM363.9 104.7h0.9v0.9h-0.9zM356.5 87.4h0.9v0.9h-0.9zM355.2 102.6h0.9v0.9h-0.9zM355.4 96.8h0.9v0.9h-0.9zM360.0 88.6h0.9v0.9h-0.9zM353.5 105.6h0.9v0.9h-0.9zM357.7 101.9h0.9v0.9h-0.9zM356.8 88.1h0.9v0.9h-0.9zM360.3 92.5h0.9v0.9h-0.9zM357.6 99.4h0.9v0.9h-0.9zM357.5 87.4h0.9v0.9h-0.9zM357.6 86.4h0.9v0.9h-0.9zM357.1 92.6h0.9v0.9h-0.9zM361.0 91.2h0.9v0.9h-0.9zM355.5 94.2h0.9v0.9h-0.9zM349.6 93.6h0.9v0.9h-0.9zM355.8 89.7h0.9v0.9h-0.9zM355.4 97.1h0.9v0.9h-0.9zM357.1 99.0h0.9v0.9h-0.9zM359.4 103.1h0.9v0.9h-0.9zM354.9 97.4h0.9v0.9h-0.9zM355.8 91.9h0.9v0.9h-0.9zM354.2 87.6h0.9v0.9h-0.9zM356.5 101.8h0.9v0.9h-0.9zM354.5 91.7h0.9v0.9h-0.9zM352.8 85.9h0.9v0.9h-0.9zM352.2 96.3h0.9v0.9h-0.9zM350.4 106.2h0.9v0.9h-0.9zM358.5 95.3h0.9v0.9h-0.9zM353.8 101.3h0.9v0.9h-0.9zM354.7 108.5h0.9v0.9h-0.9zM355.4 98.2h0.9v0.9h-0.9zM353.1 102.6h0.9v0.9h-0.9zM357.5 98.6h0.9v0.9h-0.9zM361.4 89.1h0.9v0.9h-0.9zM349.8 81.5h0.9v0.9h-0.9zM353.6 92.7h0.9v0.9h-0.9zM354.7 98.5h0.9v0.9h-0.9zM359.4 90.1h0.9v0.9h-0.9zM359.9 91.4h0.9v0.9h-0.9zM352.7 100.3h0.9v0.9h-0.9zM358.7 99.9h0.9v0.9h-0.9zM352.6 104.8h0.9v0.9h-0.9zM357.2 89.8h0.9v0.9h-0.9zM356.1 96.6h0.9v0.9h-0.9zM355.8 91.3h0.9v0.9h-0.9zM361.4 91.9h0.9v0.9h-0.9zM357.2 94.9h0.9v0.9h-0.9zM356.8 84.1h0.9v0.9h-0.9zM362.5 105.7h0.9v0.9h-0.9zM355.8 103.2h0.9v0.9h-0.9zM356.2 101.0h0.9v0.9h-0.9zM355.7 84.6h0.9v0.9h-0.9zM354.0 91.4h0.9v0.9h-0.9zM353.7 81.4h0.9v0.9h-0.9zM355.2 99.2h0.9v0.9h-0.9zM357.2 89.7h0.9v0.9h-0.9zM361.4 93.8h0.9v0.9h-0.9zM357.1 93.8h0.9v0.9h-0.9zM353.3 96.2h0.9v0.9h-0.9zM352.9 87.6h0.9v0.9h-0.9zM349.8 96.4h0.9v0.9h-0.9zM357.9 94.9h0.9v0.9h-0.9zM354.7 93.7h0.9v0.9h-0.9zM358.6 91.7h0.9v0.9h-0.9zM355.7 97.7h0.9v0.9h-0.9zM355.5 97.5h0.9v0.9h-0.9zM358.0 93.3h0.9v0.9h-0.9zM362.1 90.6h0.9v0.9h-0.9zM355.9 97.0h0.9v0.9h-0.9zM355.8 87.5h0.9v0.9h-0.9zM356.0 88.7h0.9v0.9h-0.9zM355.4 98.9h0.9v0.9h-0.9zM358.4 95.1h0.9v0.9h-0.9zM354.4 109.9h0.9v0.9h-0.9zM355.6 107.6h0.9v0.9h-0.9zM353.4 96.9h0.9v0.9h-0.9zM361.0 89.3h0.9v0.9h-0.9z" fill="#000" fill-opacity="0.72"/>
<rect x="320.4" y="40.4" width="76.80000000000001" height="70.6" fill="none" stroke="#444" stroke-width="1.0" />
<path d="M320.4 111.0v2.2M320.4 111.0h-2.2M326.2 111.0v1.3M320.4 105.7h-1.3M329.6 111.0v1.3M320.4 102.6h-1.3M332.0 111.0v1.3M320.4 100.4h-1.3M333.8 111.0v1.3M320.4 98.7h-1.3M335.3 111.0v1.3M320.4 97.3h-1.3M336.6 111.0v1.3M320.4 96.1h-1.3M337.7 111.0v1.3M320.4 95.1h-1.3M338.7 111.0v1.3M320.4 94.2h-1.3M339.6 111.0v2.2M320.4 93.3h-2.2M345.4 111.0v1.3M320.4 88.0h-1.3M348.8 111.0v1.3M320.4 84.9h-1.3M351.2 111.0v1.3M320.4 82.7h-1.3M353.0 111.0v1.3M320.4 81.0h-1.3M354.5 111.0v1.3M320.4 79.6h-1.3M355.8 111.0v1.3M320.4 78.4h-1.3M356.9 111.0v1.3M320.4 77.4h-1.3M357.9 111.0v1.3M320.4 76.5h-1.3M358.8 111.0v2.2M320.4 75.7h-2.2M364.6 111.0v1.3M320.4 70.4h-1.3M368.0 111.0v1.3M320.4 67.3h-1.3M370.4 111.0v1.3M320.4 65.1h-1.3M372.2 111.0v1.3M320.4 63.4h-1.3M373.7 111.0v1.3M320.4 62.0h-1.3M375.0 111.0v1.3M320.4 60.8h-1.3M376.1 111.0v1.3M320.4 59.8h-1.3M377.1 111.0v1.3M320.4 58.9h-1.3M378.0 111.0v2.2M320.4 58.1h-2.2M383.8 111.0v1.3M320.4 52.7h-1.3M387.2 111.0v1.3M320.4 49.6h-1.3M389.6 111.0v1.3M320.4 47.4h-1.3M391.4 111.0v1.3M320.4 45.7h-1.3M392.9 111.0v1.3M320.4 44.3h-1.3M394.2 111.0v1.3M320.4 43.1h-1.3M395.3 111.0v1.3M320.4 42.1h-1.3M396.3 111.0v1.3M320.4 41.2h-1.3M397.2 111.0v2.2M320.4 40.4h-2.2" stroke="#000" stroke-width="0.6" fill="none"/>
<text x="321.625" y="117.125" font-size="4.9" text-anchor="middle" stroke="none">10<tspan font-size="3.53" dy="-2.06">0</tspan></text>
<text x="340.825" y="117.125" font-size="4.9" text-anchor="middle" stroke="none">10<tspan font-size="3.53" dy="-2.06">1</tspan></text>
<text x="360.025" y="117.125" font-size="4.9" text-anchor="middle" stroke="none">10<tspan font-size="3.53" dy="-2.06">2</tspan></text>
<text x="379.225" y="117.125" font-size="4.9" text-anchor="middle" stroke="none">10<tspan font-size="3.53" dy="-2.06">3</tspan></text>
<text x="398.425" y="117.125" font-size="4.9" text-anchor="middle" stroke="none">10<tspan font-size="3.53" dy="-2.06">4</tspan></text>
<text transform="translate(316.72499999999997,110.02) rotate(-90)" font-size="4.9" text-anchor="middle" stroke="none">10<tspan font-size="3.53" dy="-2.06">0</tspan></text>
<text transform="translate(316.72499999999997,92.36999999999999) rotate(-90)" font-size="4.9" text-anchor="middle" stroke="none">10<tspan font-size="3.53" dy="-2.06">1</tspan></text>
<text transform="translate(316.72499999999997,74.72) rotate(-90)" font-size="4.9" text-anchor="middle" stroke="none">10<tspan font-size="3.53" dy="-2.06">2</tspan></text>
<text transform="translate(316.72499999999997,57.07000000000001) rotate(-90)" font-size="4.9" text-anchor="middle" stroke="none">10<tspan font-size="3.53" dy="-2.06">3</tspan></text>
<text transform="translate(316.72499999999997,39.42000000000001) rotate(-90)" font-size="4.9" text-anchor="middle" stroke="none">10<tspan font-size="3.53" dy="-2.06">4</tspan></text>
<text x="359.29999999999995" y="122.515" font-size="4.655" text-anchor="middle" fill="#000" stroke="none">FL1-H</text>
<text transform="translate(311.09,76.7) rotate(-90)" font-size="4.655" text-anchor="middle" fill="#000" stroke="none">FL2-H</text>
<line x1="345.7" y1="40.4" x2="345.7" y2="111.0" stroke="#333" stroke-width="1.0" />
<line x1="320.4" y1="86.7" x2="397.2" y2="86.7" stroke="#333" stroke-width="1.0" />
<path d="M445.5 85.7h0.9v0.9h-0.9zM446.3 101.5h0.9v0.9h-0.9zM450.2 79.7h0.9v0.9h-0.9zM445.2 78.5h0.9v0.9h-0.9zM448.1 90.2h0.9v0.9h-0.9zM447.9 69.8h0.9v0.9h-0.9zM447.1 76.8h0.9v0.9h-0.9zM441.8 85.9h0.9v0.9h-0.9zM444.6 92.2h0.9v0.9h-0.9zM447.9 84.9h0.9v0.9h-0.9zM448.1 89.5h0.9v0.9h-0.9zM445.7 74.0h0.9v0.9h-0.9zM449.9 98.2h0.9v0.9h-0.9zM450.1 71.7h0.9v0.9h-0.9zM442.1 88.3h0.9v0.9h-0.9zM449.4 85.9h0.9v0.9h-0.9zM450.4 71.3h0.9v0.9h-0.9zM448.3 58.7h0.9v0.9h-0.9zM442.8 70.6h0.9v0.9h-0.9zM448.4 77.1h0.9v0.9h-0.9zM446.0 97.6h0.9v0.9h-0.9zM443.6 98.2h0.9v0.9h-0.9zM442.2 103.7h0.9v0.9h-0.9zM442.1 68.9h0.9v0.9h-0.9zM447.7 104.7h0.9v0.9h-0.9zM438.9 99.2h0.9v0.9h-0.9zM450.7 90.4h0.9v0.9h-0.9zM440.5 71.2h0.9v0.9h-0.9zM447.9 54.5h0.9v0.9h-0.9zM450.4 110.0h0.9v0.9h-0.9zM440.7 69.1h0.9v0.9h-0.9zM448.8 75.5h0.9v0.9h-0.9zM448.7 79.0h0.9v0.9h-0.9zM443.9 83.6h0.9v0.9h-0.9zM448.6 93.9h0.9v0.9h-0.9zM445.8 104.9h0.9v0.9h-0.9zM452.2 96.6h0.9v0.9h-0.9zM440.4 76.2h0.9v0.9h-0.9zM445.2 92.6h0.9v0.9h-0.9zM451.3 76.9h0.9v0.9h-0.9zM451.0 68.6h0.9v0.9h-0.9zM447.3 79.3h0.9v0.9h-0.9zM445.0 102.8h0.9v0.9h-0.9zM444.5 86.8h0.9v0.9h-0.9zM453.0 89.2h0.9v0.9h-0.9zM440.5 70.3h0.9v0.9h-0.9zM444.0 88.8h0.9v0.9h-0.9zM447.1 61.4h0.9v0.9h-0.9zM441.4 67.3h0.9v0.9h-0.9zM445.9 90.7h0.9v0.9h-0.9zM445.1 92.4h0.9v0.9h-0.9zM445.2 86.6h0.9v0.9h-0.9zM451.9 96.4h0.9v0.9h-0.9zM443.8 80.7h0.9v0.9h-0.9zM450.6 85.0h0.9v0.9h-0.9zM443.3 91.8h0.9v0.9h-0.9zM441.0 88.6h0.9v0.9h-0.9zM444.0 90.3h0.9v0.9h-0.9zM454.9 89.1h0.9v0.9h-0.9zM441.8 61.6h0.9v0.9h-0.9zM446.6 81.7h0.9v0.9h-0.9zM440.6 77.7h0.9v0.9h-0.9zM446.0 69.5h0.9v0.9h-0.9zM445.3 92.1h0.9v0.9h-0.9zM443.1 104.1h0.9v0.9h-0.9zM442.4 69.6h0.9v0.9h-0.9zM450.3 79.3h0.9v0.9h-0.9zM443.1 72.3h0.9v0.9h-0.9zM447.7 76.1h0.9v0.9h-0.9zM444.0 59.8h0.9v0.9h-0.9zM440.4 79.5h0.9v0.9h-0.9zM440.2 78.3h0.9v0.9h-0.9zM450.3 86.6h0.9v0.9h-0.9zM450.2 71.3h0.9v0.9h-0.9zM448.3 78.9h0.9v0.9h-0.9zM448.9 69.3h0.9v0.9h-0.9zM446.4 98.6h0.9v0.9h-0.9zM446.7 89.0h0.9v0.9h-0.9zM444.7 51.5h0.9v0.9h-0.9zM442.5 74.5h0.9v0.9h-0.9z" fill="#888" fill-opacity="0.7"/>
<path d="M448.2 75.0h0.9v0.9h-0.9zM441.2 70.4h0.9v0.9h-0.9zM448.0 74.0h0.9v0.9h-0.9zM443.7 72.4h0.9v0.9h-0.9zM445.6 72.7h0.9v0.9h-0.9zM447.6 76.1h0.9v0.9h-0.9zM443.6 82.6h0.9v0.9h-0.9zM447.1 73.0h0.9v0.9h-0.9zM452.2 73.6h0.9v0.9h-0.9zM442.3 68.3h0.9v0.9h-0.9zM444.2 71.0h0.9v0.9h-0.9zM440.4 71.9h0.9v0.9h-0.9zM443.3 78.5h0.9v0.9h-0.9zM447.5 70.2h0.9v0.9h-0.9zM449.4 72.7h0.9v0.9h-0.9zM439.6 73.4h0.9v0.9h-0.9zM450.7 73.8h0.9v0.9h-0.9zM444.1 73.8h0.9v0.9h-0.9zM444.2 75.8h0.9v0.9h-0.9zM447.0 72.2h0.9v0.9h-0.9zM448.7 80.2h0.9v0.9h-0.9zM447.2 78.6h0.9v0.9h-0.9zM448.8 72.8h0.9v0.9h-0.9zM446.3 79.4h0.9v0.9h-0.9zM447.4 77.4h0.9v0.9h-0.9zM441.1 76.6h0.9v0.9h-0.9zM440.5 81.3h0.9v0.9h-0.9zM447.2 77.1h0.9v0.9h-0.9zM444.0 73.4h0.9v0.9h-0.9zM442.6 69.8h0.9v0.9h-0.9zM446.9 72.3h0.9v0.9h-0.9zM445.2 72.9h0.9v0.9h-0.9zM450.6 77.6h0.9v0.9h-0.9zM452.3 72.7h0.9v0.9h-0.9zM444.3 74.6h0.9v0.9h-0.9zM448.7 68.2h0.9v0.9h-0.9zM448.3 72.5h0.9v0.9h-0.9zM447.8 74.9h0.9v0.9h-0.9zM445.3 70.6h0.9v0.9h-0.9zM445.4 78.0h0.9v0.9h-0.9zM440.7 74.3h0.9v0.9h-0.9zM445.7 72.9h0.9v0.9h-0.9zM446.9 75.3h0.9v0.9h-0.9zM446.2 78.8h0.9v0.9h-0.9zM445.3 82.2h0.9v0.9h-0.9zM440.1 80.0h0.9v0.9h-0.9zM445.0 68.9h0.9v0.9h-0.9zM443.3 71.6h0.9v0.9h-0.9zM446.7 73.3h0.9v0.9h-0.9zM450.4 73.0h0.9v0.9h-0.9zM445.2 72.2h0.9v0.9h-0.9zM447.9 73.8h0.9v0.9h-0.9zM451.1 71.4h0.9v0.9h-0.9zM445.0 71.7h0.9v0.9h-0.9zM443.5 71.8h0.9v0.9h-0.9zM443.2 64.7h0.9v0.9h-0.9zM440.3 68.8h0.9v0.9h-0.9zM437.3 69.8h0.9v0.9h-0.9zM447.7 74.1h0.9v0.9h-0.9zM440.4 66.9h0.9v0.9h-0.9zM443.8 69.7h0.9v0.9h-0.9zM447.4 73.3h0.9v0.9h-0.9zM446.4 71.8h0.9v0.9h-0.9zM448.6 73.7h0.9v0.9h-0.9zM454.2 76.0h0.9v0.9h-0.9zM446.4 72.3h0.9v0.9h-0.9zM443.9 69.2h0.9v0.9h-0.9zM446.5 75.3h0.9v0.9h-0.9zM451.0 74.5h0.9v0.9h-0.9zM449.0 74.6h0.9v0.9h-0.9zM445.3 75.5h0.9v0.9h-0.9zM447.9 72.5h0.9v0.9h-0.9zM445.2 72.9h0.9v0.9h-0.9zM439.3 74.6h0.9v0.9h-0.9zM441.4 82.6h0.9v0.9h-0.9zM445.6 74.6h0.9v0.9h-0.9zM447.3 66.6h0.9v0.9h-0.9zM451.1 71.1h0.9v0.9h-0.9zM449.8 79.0h0.9v0.9h-0.9zM449.3 62.2h0.9v0.9h-0.9zM442.4 71.8h0.9v0.9h-0.9zM442.0 73.4h0.9v0.9h-0.9zM451.4 78.6h0.9v0.9h-0.9zM444.8 69.2h0.9v0.9h-0.9zM448.7 76.6h0.9v0.9h-0.9zM445.3 70.2h0.9v0.9h-0.9zM451.4 80.5h0.9v0.9h-0.9zM450.5 76.9h0.9v0.9h-0.9zM444.8 74.8h0.9v0.9h-0.9zM442.6 80.0h0.9v0.9h-0.9zM442.6 70.5h0.9v0.9h-0.9zM445.2 72.9h0.9v0.9h-0.9zM451.1 76.9h0.9v0.9h-0.9zM443.6 74.9h0.9v0.9h-0.9zM447.1 79.7h0.9v0.9h-0.9zM440.7 71.4h0.9v0.9h-0.9zM442.7 74.4h0.9v0.9h-0.9zM449.2 72.8h0.9v0.9h-0.9zM453.5 69.7h0.9v0.9h-0.9zM446.7 70.9h0.9v0.9h-0.9zM441.5 71.9h0.9v0.9h-0.9zM446.3 70.8h0.9v0.9h-0.9zM443.9 73.4h0.9v0.9h-0.9zM443.9 77.4h0.9v0.9h-0.9zM448.2 73.9h0.9v0.9h-0.9zM449.6 64.6h0.9v0.9h-0.9zM442.9 78.8h0.9v0.9h-0.9zM443.2 77.5h0.9v0.9h-0.9zM447.6 74.1h0.9v0.9h-0.9zM445.5 68.8h0.9v0.9h-0.9zM441.1 66.6h0.9v0.9h-0.9zM447.6 73.4h0.9v0.9h-0.9zM447.2 68.9h0.9v0.9h-0.9zM446.3 78.0h0.9v0.9h-0.9zM443.6 71.5h0.9v0.9h-0.9zM444.9 81.9h0.9v0.9h-0.9zM449.9 81.4h0.9v0.9h-0.9zM455.0 72.6h0.9v0.9h-0.9zM447.2 63.9h0.9v0.9h-0.9zM446.5 71.4h0.9v0.9h-0.9zM446.2 74.0h0.9v0.9h-0.9zM438.8 74.8h0.9v0.9h-0.9zM444.5 68.2h0.9v0.9h-0.9zM443.9 76.6h0.9v0.9h-0.9zM443.7 79.0h0.9v0.9h-0.9zM447.6 73.2h0.9v0.9h-0.9zM442.6 69.6h0.9v0.9h-0.9zM449.6 73.1h0.9v0.9h-0.9zM446.6 74.2h0.9v0.9h-0.9zM448.6 76.1h0.9v0.9h-0.9zM444.5 74.3h0.9v0.9h-0.9zM445.1 75.3h0.9v0.9h-0.9zM440.6 72.2h0.9v0.9h-0.9zM450.1 67.9h0.9v0.9h-0.9zM443.4 73.9h0.9v0.9h-0.9zM441.6 73.3h0.9v0.9h-0.9zM446.7 76.1h0.9v0.9h-0.9zM446.3 74.2h0.9v0.9h-0.9zM444.2 74.0h0.9v0.9h-0.9zM446.6 74.9h0.9v0.9h-0.9zM448.2 76.1h0.9v0.9h-0.9zM448.0 74.1h0.9v0.9h-0.9zM446.0 71.0h0.9v0.9h-0.9zM448.0 78.1h0.9v0.9h-0.9zM444.1 75.7h0.9v0.9h-0.9zM445.3 72.4h0.9v0.9h-0.9zM442.3 72.0h0.9v0.9h-0.9zM447.9 75.1h0.9v0.9h-0.9zM448.6 70.4h0.9v0.9h-0.9zM438.3 76.0h0.9v0.9h-0.9zM445.6 75.8h0.9v0.9h-0.9zM451.9 77.4h0.9v0.9h-0.9zM438.6 71.0h0.9v0.9h-0.9zM444.6 79.6h0.9v0.9h-0.9zM443.2 71.7h0.9v0.9h-0.9zM449.4 65.7h0.9v0.9h-0.9zM443.8 67.3h0.9v0.9h-0.9zM442.0 74.9h0.9v0.9h-0.9zM445.8 72.4h0.9v0.9h-0.9zM445.4 71.2h0.9v0.9h-0.9zM445.4 75.1h0.9v0.9h-0.9zM443.0 73.6h0.9v0.9h-0.9zM444.1 76.9h0.9v0.9h-0.9zM449.9 75.8h0.9v0.9h-0.9zM449.2 71.2h0.9v0.9h-0.9zM444.7 74.0h0.9v0.9h-0.9zM444.9 75.7h0.9v0.9h-0.9zM445.3 68.0h0.9v0.9h-0.9zM442.5 74.3h0.9v0.9h-0.9zM453.9 73.7h0.9v0.9h-0.9zM440.7 74.2h0.9v0.9h-0.9zM443.5 67.8h0.9v0.9h-0.9zM454.8 83.1h0.9v0.9h-0.9zM445.7 73.1h0.9v0.9h-0.9zM444.9 76.6h0.9v0.9h-0.9zM448.7 77.7h0.9v0.9h-0.9zM442.2 72.2h0.9v0.9h-0.9zM448.6 73.9h0.9v0.9h-0.9zM440.9 73.3h0.9v0.9h-0.9zM449.3 64.5h0.9v0.9h-0.9zM451.2 72.7h0.9v0.9h-0.9zM451.0 77.3h0.9v0.9h-0.9zM447.2 73.0h0.9v0.9h-0.9zM445.4 70.5h0.9v0.9h-0.9zM446.5 74.7h0.9v0.9h-0.9zM440.8 70.8h0.9v0.9h-0.9zM437.9 66.8h0.9v0.9h-0.9zM443.2 75.2h0.9v0.9h-0.9zM445.9 73.6h0.9v0.9h-0.9zM444.3 68.6h0.9v0.9h-0.9zM448.6 76.0h0.9v0.9h-0.9zM441.9 71.9h0.9v0.9h-0.9zM447.1 68.7h0.9v0.9h-0.9zM443.1 74.9h0.9v0.9h-0.9zM446.2 77.1h0.9v0.9h-0.9zM444.9 75.9h0.9v0.9h-0.9zM447.7 81.1h0.9v0.9h-0.9zM443.3 73.1h0.9v0.9h-0.9zM442.6 75.9h0.9v0.9h-0.9zM448.4 80.2h0.9v0.9h-0.9zM445.4 76.9h0.9v0.9h-0.9zM446.8 80.4h0.9v0.9h-0.9zM446.3 72.8h0.9v0.9h-0.9zM449.0 73.2h0.9v0.9h-0.9zM443.8 66.3h0.9v0.9h-0.9zM447.7 78.7h0.9v0.9h-0.9zM446.6 77.7h0.9v0.9h-0.9zM444.9 76.7h0.9v0.9h-0.9zM449.1 72.0h0.9v0.9h-0.9zM441.5 72.5h0.9v0.9h-0.9zM446.3 76.5h0.9v0.9h-0.9zM439.7 79.6h0.9v0.9h-0.9zM448.1 72.5h0.9v0.9h-0.9zM442.6 70.9h0.9v0.9h-0.9zM447.5 75.2h0.9v0.9h-0.9zM447.3 67.0h0.9v0.9h-0.9zM444.5 73.3h0.9v0.9h-0.9zM445.3 70.9h0.9v0.9h-0.9zM446.6 78.4h0.9v0.9h-0.9zM441.7 78.5h0.9v0.9h-0.9zM442.8 69.6h0.9v0.9h-0.9zM442.7 76.7h0.9v0.9h-0.9zM447.7 77.8h0.9v0.9h-0.9zM443.4 68.7h0.9v0.9h-0.9zM453.2 75.7h0.9v0.9h-0.9zM437.7 69.2h0.9v0.9h-0.9zM446.3 79.4h0.9v0.9h-0.9zM452.4 69.1h0.9v0.9h-0.9zM448.3 72.7h0.9v0.9h-0.9zM445.1 71.8h0.9v0.9h-0.9zM442.0 90.3h0.9v0.9h-0.9zM444.9 102.7h0.9v0.9h-0.9zM444.8 105.9h0.9v0.9h-0.9zM442.8 87.6h0.9v0.9h-0.9zM449.8 103.7h0.9v0.9h-0.9zM439.5 103.0h0.9v0.9h-0.9zM440.6 102.6h0.9v0.9h-0.9zM448.7 98.5h0.9v0.9h-0.9zM444.9 96.8h0.9v0.9h-0.9zM445.8 90.8h0.9v0.9h-0.9zM447.4 92.9h0.9v0.9h-0.9zM440.2 101.3h0.9v0.9h-0.9zM452.0 108.2h0.9v0.9h-0.9zM445.4 91.7h0.9v0.9h-0.9zM448.6 90.6h0.9v0.9h-0.9zM446.3 99.7h0.9v0.9h-0.9zM444.2 83.2h0.9v0.9h-0.9zM449.0 104.5h0.9v0.9h-0.9zM445.8 94.9h0.9v0.9h-0.9zM447.6 87.5h0.9v0.9h-0.9zM439.5 95.3h0.9v0.9h-0.9zM444.0 90.6h0.9v0.9h-0.9zM446.4 105.3h0.9v0.9h-0.9zM443.9 80.2h0.9v0.9h-0.9zM440.4 90.2h0.9v0.9h-0.9zM445.3 98.4h0.9v0.9h-0.9zM442.7 108.0h0.9v0.9h-0.9zM445.5 100.2h0.9v0.9h-0.9zM445.0 108.6h0.9v0.9h-0.9zM453.2 86.8h0.9v0.9h-0.9zM445.9 107.3h0.9v0.9h-0.9zM449.7 104.2h0.9v0.9h-0.9zM443.3 108.1h0.9v0.9h-0.9zM444.9 96.9h0.9v0.9h-0.9zM449.3 91.8h0.9v0.9h-0.9zM449.0 100.3h0.9v0.9h-0.9zM442.9 98.7h0.9v0.9h-0.9zM447.1 105.5h0.9v0.9h-0.9zM450.0 86.6h0.9v0.9h-0.9zM443.7 92.3h0.9v0.9h-0.9zM444.7 96.3h0.9v0.9h-0.9zM444.8 90.9h0.9v0.9h-0.9zM449.3 100.3h0.9v0.9h-0.9zM443.9 96.1h0.9v0.9h-0.9zM447.5 101.7h0.9v0.9h-0.9zM444.5 89.9h0.9v0.9h-0.9zM444.6 100.0h0.9v0.9h-0.9zM444.1 101.7h0.9v0.9h-0.9zM442.1 98.4h0.9v0.9h-0.9zM447.2 91.1h0.9v0.9h-0.9zM435.9 91.5h0.9v0.9h-0.9zM445.5 105.6h0.9v0.9h-0.9zM442.7 100.1h0.9v0.9h-0.9zM450.8 101.3h0.9v0.9h-0.9zM444.2 93.4h0.9v0.9h-0.9zM446.9 102.7h0.9v0.9h-0.9zM447.3 98.7h0.9v0.9h-0.9zM438.9 91.1h0.9v0.9h-0.9zM445.0 100.1h0.9v0.9h-0.9zM447.8 92.8h0.9v0.9h-0.9zM447.7 105.6h0.9v0.9h-0.9zM444.6 89.5h0.9v0.9h-0.9zM447.6 102.0h0.9v0.9h-0.9zM449.5 95.4h0.9v0.9h-0.9zM442.6 89.2h0.9v0.9h-0.9zM446.8 80.3h0.9v0.9h-0.9zM450.3 94.3h0.9v0.9h-0.9zM445.9 95.6h0.9v0.9h-0.9zM451.1 86.0h0.9v0.9h-0.9zM448.2 101.8h0.9v0.9h-0.9zM449.8 105.8h0.9v0.9h-0.9zM442.4 83.3h0.9v0.9h-0.9zM438.7 95.0h0.9v0.9h-0.9zM447.4 99.2h0.9v0.9h-0.9zM444.4 102.3h0.9v0.9h-0.9zM441.0 109.2h0.9v0.9h-0.9zM450.7 108.9h0.9v0.9h-0.9zM441.0 88.3h0.9v0.9h-0.9zM445.9 97.9h0.9v0.9h-0.9zM444.7 102.5h0.9v0.9h-0.9zM446.0 76.2h0.9v0.9h-0.9zM444.4 91.3h0.9v0.9h-0.9zM440.9 106.5h0.9v0.9h-0.9zM442.5 80.7h0.9v0.9h-0.9zM448.1 103.5h0.9v0.9h-0.9zM435.8 85.1h0.9v0.9h-0.9zM441.1 94.9h0.9v0.9h-0.9zM448.9 104.4h0.9v0.9h-0.9zM447.7 79.8h0.9v0.9h-0.9zM442.2 95.7h0.9v0.9h-0.9zM447.4 98.8h0.9v0.9h-0.9zM442.6 83.8h0.9v0.9h-0.9zM448.9 88.1h0.9v0.9h-0.9zM445.0 97.4h0.9v0.9h-0.9zM447.2 90.4h0.9v0.9h-0.9zM441.6 95.5h0.9v0.9h-0.9zM442.7 98.7h0.9v0.9h-0.9zM440.5 93.7h0.9v0.9h-0.9zM439.5 92.6h0.9v0.9h-0.9zM444.5 92.2h0.9v0.9h-0.9zM441.3 88.6h0.9v0.9h-0.9zM444.1 99.9h0.9v0.9h-0.9zM450.4 103.6h0.9v0.9h-0.9zM446.8 99.6h0.9v0.9h-0.9zM449.0 93.8h0.9v0.9h-0.9zM447.2 91.3h0.9v0.9h-0.9zM448.7 103.9h0.9v0.9h-0.9zM446.0 86.4h0.9v0.9h-0.9zM444.2 101.5h0.9v0.9h-0.9zM440.1 88.5h0.9v0.9h-0.9zM445.8 106.5h0.9v0.9h-0.9zM448.7 92.7h0.9v0.9h-0.9zM452.3 72.6h0.9v0.9h-0.9zM440.8 108.0h0.9v0.9h-0.9zM442.9 85.1h0.9v0.9h-0.9zM440.9 89.1h0.9v0.9h-0.9zM447.3 94.3h0.9v0.9h-0.9zM444.5 103.7h0.9v0.9h-0.9zM445.1 99.6h0.9v0.9h-0.9zM450.9 91.5h0.9v0.9h-0.9zM446.2 90.8h0.9v0.9h-0.9zM448.3 87.1h0.9v0.9h-0.9zM442.7 104.1h0.9v0.9h-0.9zM448.0 96.3h0.9v0.9h-0.9zM444.6 102.7h0.9v0.9h-0.9zM447.2 88.8h0.9v0.9h-0.9zM446.3 90.0h0.9v0.9h-0.9zM444.1 97.8h0.9v0.9h-0.9zM446.1 95.2h0.9v0.9h-0.9zM445.6 94.2h0.9v0.9h-0.9zM450.7 89.8h0.9v0.9h-0.9zM438.5 105.6h0.9v0.9h-0.9zM452.2 96.1h0.9v0.9h-0.9zM447.2 98.5h0.9v0.9h-0.9zM447.1 93.6h0.9v0.9h-0.9zM445.9 96.2h0.9v0.9h-0.9zM445.0 100.0h0.9v0.9h-0.9zM441.3 108.6h0.9v0.9h-0.9zM446.3 100.3h0.9v0.9h-0.9zM443.6 79.8h0.9v0.9h-0.9zM445.6 94.0h0.9v0.9h-0.9zM437.8 109.0h0.9v0.9h-0.9zM451.1 95.6h0.9v0.9h-0.9zM448.1 71.9h0.9v0.9h-0.9zM450.1 81.2h0.9v0.9h-0.9zM443.2 84.2h0.9v0.9h-0.9zM445.5 95.3h0.9v0.9h-0.9zM445.7 96.4h0.9v0.9h-0.9zM446.0 98.8h0.9v0.9h-0.9zM450.3 95.9h0.9v0.9h-0.9zM443.7 102.1h0.9v0.9h-0.9zM446.7 104.0h0.9v0.9h-0.9zM442.8 102.1h0.9v0.9h-0.9zM447.7 88.4h0.9v0.9h-0.9zM447.6 97.6h0.9v0.9h-0.9zM446.9 87.5h0.9v0.9h-0.9zM445.7 89.7h0.9v0.9h-0.9zM443.0 109.3h0.9v0.9h-0.9zM447.7 95.0h0.9v0.9h-0.9zM442.2 99.6h0.9v0.9h-0.9zM450.3 103.2h0.9v0.9h-0.9zM446.5 100.1h0.9v0.9h-0.9zM450.4 105.8h0.9v0.9h-0.9zM446.4 78.9h0.9v0.9h-0.9zM448.2 99.8h0.9v0.9h-0.9zM445.8 108.5h0.9v0.9h-0.9zM443.3 100.9h0.9v0.9h-0.9zM446.3 84.9h0.9v0.9h-0.9zM445.2 99.3h0.9v0.9h-0.9zM449.6 103.1h0.9v0.9h-0.9zM445.9 105.1h0.9v0.9h-0.9zM438.9 94.3h0.9v0.9h-0.9zM443.3 102.8h0.9v0.9h-0.9zM451.7 104.7h0.9v0.9h-0.9zM449.2 105.7h0.9v0.9h-0.9zM451.3 88.0h0.9v0.9h-0.9zM447.5 90.5h0.9v0.9h-0.9zM444.3 104.7h0.9v0.9h-0.9zM448.8 97.3h0.9v0.9h-0.9zM449.6 98.2h0.9v0.9h-0.9z" fill="#000" fill-opacity="0.72"/>
<rect x="411.4" y="40.4" width="76.90000000000003" height="70.6" fill="none" stroke="#444" stroke-width="1.0" />
<path d="M411.4 111.0v2.2M411.4 111.0h-2.2M417.2 111.0v1.3M411.4 105.7h-1.3M420.6 111.0v1.3M411.4 102.6h-1.3M423.0 111.0v1.3M411.4 100.4h-1.3M424.8 111.0v1.3M411.4 98.7h-1.3M426.4 111.0v1.3M411.4 97.3h-1.3M427.6 111.0v1.3M411.4 96.1h-1.3M428.8 111.0v1.3M411.4 95.1h-1.3M429.7 111.0v1.3M411.4 94.2h-1.3M430.6 111.0v2.2M411.4 93.3h-2.2M436.4 111.0v1.3M411.4 88.0h-1.3M439.8 111.0v1.3M411.4 84.9h-1.3M442.2 111.0v1.3M411.4 82.7h-1.3M444.1 111.0v1.3M411.4 81.0h-1.3M445.6 111.0v1.3M411.4 79.6h-1.3M446.9 111.0v1.3M411.4 78.4h-1.3M448.0 111.0v1.3M411.4 77.4h-1.3M449.0 111.0v1.3M411.4 76.5h-1.3M449.9 111.0v2.2M411.4 75.7h-2.2M455.6 111.0v1.3M411.4 70.4h-1.3M459.0 111.0v1.3M411.4 67.3h-1.3M461.4 111.0v1.3M411.4 65.1h-1.3M463.3 111.0v1.3M411.4 63.4h-1.3M464.8 111.0v1.3M411.4 62.0h-1.3M466.1 111.0v1.3M411.4 60.8h-1.3M467.2 111.0v1.3M411.4 59.8h-1.3M468.2 111.0v1.3M411.4 58.9h-1.3M469.1 111.0v2.2M411.4 58.1h-2.2M474.9 111.0v1.3M411.4 52.7h-1.3M478.2 111.0v1.3M411.4 49.6h-1.3M480.6 111.0v1.3M411.4 47.4h-1.3M482.5 111.0v1.3M411.4 45.7h-1.3M484.0 111.0v1.3M411.4 44.3h-1.3M485.3 111.0v1.3M411.4 43.1h-1.3M486.4 111.0v1.3M411.4 42.1h-1.3M487.4 111.0v1.3M411.4 41.2h-1.3M488.3 111.0v2.2M411.4 40.4h-2.2" stroke="#000" stroke-width="0.6" fill="none"/>
<text x="412.625" y="117.125" font-size="4.9" text-anchor="middle" stroke="none">10<tspan font-size="3.53" dy="-2.06">0</tspan></text>
<text x="431.85" y="117.125" font-size="4.9" text-anchor="middle" stroke="none">10<tspan font-size="3.53" dy="-2.06">1</tspan></text>
<text x="451.07500000000005" y="117.125" font-size="4.9" text-anchor="middle" stroke="none">10<tspan font-size="3.53" dy="-2.06">2</tspan></text>
<text x="470.3" y="117.125" font-size="4.9" text-anchor="middle" stroke="none">10<tspan font-size="3.53" dy="-2.06">3</tspan></text>
<text x="489.52500000000003" y="117.125" font-size="4.9" text-anchor="middle" stroke="none">10<tspan font-size="3.53" dy="-2.06">4</tspan></text>
<text transform="translate(407.72499999999997,110.02) rotate(-90)" font-size="4.9" text-anchor="middle" stroke="none">10<tspan font-size="3.53" dy="-2.06">0</tspan></text>
<text transform="translate(407.72499999999997,92.36999999999999) rotate(-90)" font-size="4.9" text-anchor="middle" stroke="none">10<tspan font-size="3.53" dy="-2.06">1</tspan></text>
<text transform="translate(407.72499999999997,74.72) rotate(-90)" font-size="4.9" text-anchor="middle" stroke="none">10<tspan font-size="3.53" dy="-2.06">2</tspan></text>
<text transform="translate(407.72499999999997,57.07000000000001) rotate(-90)" font-size="4.9" text-anchor="middle" stroke="none">10<tspan font-size="3.53" dy="-2.06">3</tspan></text>
<text transform="translate(407.72499999999997,39.42000000000001) rotate(-90)" font-size="4.9" text-anchor="middle" stroke="none">10<tspan font-size="3.53" dy="-2.06">4</tspan></text>
<text x="450.35" y="122.515" font-size="4.655" text-anchor="middle" fill="#000" stroke="none">FL1-H</text>
<text transform="translate(402.09,76.7) rotate(-90)" font-size="4.655" text-anchor="middle" fill="#000" stroke="none">FL2-H</text>
<line x1="436.6" y1="40.4" x2="436.6" y2="111.0" stroke="#333" stroke-width="1.0" />
<line x1="411.4" y1="86.7" x2="488.3" y2="86.7" stroke="#333" stroke-width="1.0" />
<path d="M265.1 162.5h0.9v0.9h-0.9zM266.5 155.2h0.9v0.9h-0.9zM271.2 160.1h0.9v0.9h-0.9zM267.3 155.1h0.9v0.9h-0.9zM263.6 149.2h0.9v0.9h-0.9zM271.2 189.1h0.9v0.9h-0.9zM266.4 168.5h0.9v0.9h-0.9zM273.2 159.4h0.9v0.9h-0.9zM267.1 158.9h0.9v0.9h-0.9zM269.1 169.3h0.9v0.9h-0.9zM270.0 174.6h0.9v0.9h-0.9zM262.4 159.8h0.9v0.9h-0.9zM266.9 170.7h0.9v0.9h-0.9zM265.8 171.0h0.9v0.9h-0.9zM269.0 161.6h0.9v0.9h-0.9zM266.3 161.6h0.9v0.9h-0.9zM262.1 174.9h0.9v0.9h-0.9zM272.7 163.9h0.9v0.9h-0.9zM272.3 180.2h0.9v0.9h-0.9zM264.2 162.5h0.9v0.9h-0.9zM264.4 174.3h0.9v0.9h-0.9zM271.0 161.0h0.9v0.9h-0.9zM260.9 166.2h0.9v0.9h-0.9zM270.8 169.2h0.9v0.9h-0.9zM266.3 150.7h0.9v0.9h-0.9zM268.4 162.7h0.9v0.9h-0.9zM266.4 166.7h0.9v0.9h-0.9zM264.7 157.0h0.9v0.9h-0.9zM266.7 170.5h0.9v0.9h-0.9zM272.3 163.0h0.9v0.9h-0.9zM262.6 182.4h0.9v0.9h-0.9zM270.0 158.8h0.9v0.9h-0.9zM265.4 166.2h0.9v0.9h-0.9zM271.3 165.5h0.9v0.9h-0.9zM271.3 167.8h0.9v0.9h-0.9zM263.7 167.5h0.9v0.9h-0.9zM260.4 159.9h0.9v0.9h-0.9zM268.4 158.2h0.9v0.9h-0.9zM265.1 154.2h0.9v0.9h-0.9zM266.3 150.1h0.9v0.9h-0.9zM265.0 172.4h0.9v0.9h-0.9zM264.4 173.7h0.9v0.9h-0.9zM267.7 171.3h0.9v0.9h-0.9zM263.7 164.9h0.9v0.9h-0.9zM262.6 158.9h0.9v0.9h-0.9zM264.5 170.4h0.9v0.9h-0.9zM271.7 153.4h0.9v0.9h-0.9zM271.5 144.6h0.9v0.9h-0.9zM259.0 181.1h0.9v0.9h-0.9zM270.5 167.3h0.9v0.9h-0.9zM267.0 165.9h0.9v0.9h-0.9zM258.5 171.8h0.9v0.9h-0.9zM264.5 146.2h0.9v0.9h-0.9zM268.0 172.1h0.9v0.9h-0.9zM270.9 175.0h0.9v0.9h-0.9zM265.3 171.7h0.9v0.9h-0.9zM266.1 166.9h0.9v0.9h-0.9zM272.8 162.7h0.9v0.9h-0.9zM257.5 161.5h0.9v0.9h-0.9zM260.8 156.3h0.9v0.9h-0.9z" fill="#888" fill-opacity="0.7"/>
<path d="M268.0 189.6h0.9v0.9h-0.9zM261.2 195.3h0.9v0.9h-0.9zM266.2 177.3h0.9v0.9h-0.9zM269.4 191.6h0.9v0.9h-0.9zM274.7 196.3h0.9v0.9h-0.9zM259.2 196.9h0.9v0.9h-0.9zM265.5 186.0h0.9v0.9h-0.9zM265.9 193.4h0.9v0.9h-0.9zM263.5 182.2h0.9v0.9h-0.9zM267.0 191.4h0.9v0.9h-0.9zM270.0 187.7h0.9v0.9h-0.9zM267.6 181.5h0.9v0.9h-0.9zM265.4 175.4h0.9v0.9h-0.9zM260.8 188.3h0.9v0.9h-0.9zM266.9 194.9h0.9v0.9h-0.9zM268.8 196.0h0.9v0.9h-0.9zM263.1 188.1h0.9v0.9h-0.9zM262.5 189.0h0.9v0.9h-0.9zM258.4 183.0h0.9v0.9h-0.9zM269.7 189.9h0.9v0.9h-0.9zM262.3 193.6h0.9v0.9h-0.9zM265.7 188.3h0.9v0.9h-0.9zM263.4 181.5h0.9v0.9h-0.9zM264.6 189.5h0.9v0.9h-0.9zM264.8 191.0h0.9v0.9h-0.9zM269.3 194.8h0.9v0.9h-0.9zM257.5 188.2h0.9v0.9h-0.9zM261.1 183.3h0.9v0.9h-0.9zM266.3 172.1h0.9v0.9h-0.9zM263.0 186.5h0.9v0.9h-0.9zM266.4 193.6h0.9v0.9h-0.9zM265.0 195.2h0.9v0.9h-0.9zM264.2 179.4h0.9v0.9h-0.9zM264.7 183.7h0.9v0.9h-0.9zM259.3 174.7h0.9v0.9h-0.9zM262.6 186.8h0.9v0.9h-0.9zM271.2 184.2h0.9v0.9h-0.9zM262.1 188.1h0.9v0.9h-0.9zM267.6 179.6h0.9v0.9h-0.9zM263.7 197.7h0.9v0.9h-0.9zM270.5 183.2h0.9v0.9h-0.9zM258.5 187.6h0.9v0.9h-0.9zM263.9 196.3h0.9v0.9h-0.9zM267.8 189.0h0.9v0.9h-0.9zM261.6 191.0h0.9v0.9h-0.9zM261.6 181.9h0.9v0.9h-0.9zM258.9 193.1h0.9v0.9h-0.9zM261.9 192.1h0.9v0.9h-0.9zM267.8 193.7h0.9v0.9h-0.9zM262.3 181.5h0.9v0.9h-0.9zM267.2 197.7h0.9v0.9h-0.9zM262.0 182.5h0.9v0.9h-0.9zM264.2 184.7h0.9v0.9h-0.9zM268.1 196.2h0.9v0.9h-0.9zM267.7 184.4h0.9v0.9h-0.9zM261.6 186.4h0.9v0.9h-0.9zM265.2 194.9h0.9v0.9h-0.9zM266.3 186.4h0.9v0.9h-0.9zM266.8 194.5h0.9v0.9h-0.9zM264.3 182.0h0.9v0.9h-0.9zM266.5 195.8h0.9v0.9h-0.9zM267.3 181.6h0.9v0.9h-0.9zM266.4 189.7h0.9v0.9h-0.9zM264.0 187.9h0.9v0.9h-0.9zM262.9 184.3h0.9v0.9h-0.9zM265.9 189.0h0.9v0.9h-0.9zM265.3 180.8h0.9v0.9h-0.9zM261.1 189.7h0.9v0.9h-0.9zM264.8 191.0h0.9v0.9h-0.9zM267.5 184.8h0.9v0.9h-0.9zM268.0 193.8h0.9v0.9h-0.9zM263.8 193.6h0.9v0.9h-0.9zM264.3 195.2h0.9v0.9h-0.9zM265.0 183.9h0.9v0.9h-0.9zM273.5 197.0h0.9v0.9h-0.9zM267.9 187.7h0.9v0.9h-0.9zM265.9 186.5h0.9v0.9h-0.9zM271.9 185.8h0.9v0.9h-0.9zM265.4 195.9h0.9v0.9h-0.9zM264.8 196.2h0.9v0.9h-0.9zM266.1 189.1h0.9v0.9h-0.9zM265.2 175.5h0.9v0.9h-0.9zM268.5 193.8h0.9v0.9h-0.9zM266.5 190.8h0.9v0.9h-0.9zM261.5 190.0h0.9v0.9h-0.9zM261.8 185.3h0.9v0.9h-0.9zM260.8 186.7h0.9v0.9h-0.9zM268.6 192.4h0.9v0.9h-0.9zM261.7 183.0h0.9v0.9h-0.9zM268.8 187.4h0.9v0.9h-0.9zM268.5 181.6h0.9v0.9h-0.9zM260.1 179.1h0.9v0.9h-0.9zM263.0 186.6h0.9v0.9h-0.9zM267.0 184.3h0.9v0.9h-0.9zM261.8 195.0h0.9v0.9h-0.9zM260.0 189.6h0.9v0.9h-0.9zM269.0 189.3h0.9v0.9h-0.9zM259.2 188.9h0.9v0.9h-0.9zM268.7 184.0h0.9v0.9h-0.9zM259.2 188.8h0.9v0.9h-0.9zM257.4 192.5h0.9v0.9h-0.9zM267.5 190.2h0.9v0.9h-0.9zM260.9 196.9h0.9v0.9h-0.9zM269.8 197.5h0.9v0.9h-0.9zM263.5 192.8h0.9v0.9h-0.9zM262.5 197.9h0.9v0.9h-0.9zM263.4 180.6h0.9v0.9h-0.9zM264.2 193.1h0.9v0.9h-0.9zM264.6 188.0h0.9v0.9h-0.9zM261.5 189.8h0.9v0.9h-0.9zM264.6 189.6h0.9v0.9h-0.9zM264.4 188.6h0.9v0.9h-0.9zM259.1 190.7h0.9v0.9h-0.9zM269.0 176.8h0.9v0.9h-0.9zM258.9 194.2h0.9v0.9h-0.9zM274.0 196.7h0.9v0.9h-0.9zM263.5 185.2h0.9v0.9h-0.9zM262.8 179.9h0.9v0.9h-0.9zM262.6 195.2h0.9v0.9h-0.9zM263.7 191.5h0.9v0.9h-0.9zM267.7 184.2h0.9v0.9h-0.9zM263.5 190.2h0.9v0.9h-0.9zM262.0 189.6h0.9v0.9h-0.9zM267.1 189.2h0.9v0.9h-0.9zM259.0 190.9h0.9v0.9h-0.9zM264.1 188.7h0.9v0.9h-0.9zM260.7 189.4h0.9v0.9h-0.9zM264.4 184.8h0.9v0.9h-0.9zM262.1 187.7h0.9v0.9h-0.9zM258.1 190.6h0.9v0.9h-0.9zM263.0 196.1h0.9v0.9h-0.9zM258.3 185.4h0.9v0.9h-0.9zM265.8 190.6h0.9v0.9h-0.9zM263.2 195.6h0.9v0.9h-0.9zM263.1 192.4h0.9v0.9h-0.9zM264.6 187.0h0.9v0.9h-0.9zM262.0 184.0h0.9v0.9h-0.9zM262.8 191.1h0.9v0.9h-0.9zM262.7 181.5h0.9v0.9h-0.9zM266.8 189.7h0.9v0.9h-0.9zM266.6 189.3h0.9v0.9h-0.9zM270.6 193.9h0.9v0.9h-0.9zM265.8 192.2h0.9v0.9h-0.9zM268.2 189.9h0.9v0.9h-0.9zM267.3 187.4h0.9v0.9h-0.9zM270.2 187.7h0.9v0.9h-0.9zM253.5 193.4h0.9v0.9h-0.9zM263.6 187.7h0.9v0.9h-0.9zM267.2 169.5h0.9v0.9h-0.9zM258.5 187.7h0.9v0.9h-0.9zM260.1 193.1h0.9v0.9h-0.9zM266.5 185.8h0.9v0.9h-0.9zM267.7 175.3h0.9v0.9h-0.9zM264.4 195.0h0.9v0.9h-0.9zM269.5 192.8h0.9v0.9h-0.9zM270.0 191.8h0.9v0.9h-0.9zM264.3 191.2h0.9v0.9h-0.9zM266.2 192.5h0.9v0.9h-0.9zM266.6 178.7h0.9v0.9h-0.9zM263.1 190.1h0.9v0.9h-0.9zM262.1 187.5h0.9v0.9h-0.9zM260.6 188.2h0.9v0.9h-0.9zM268.2 189.2h0.9v0.9h-0.9zM267.6 187.7h0.9v0.9h-0.9zM262.0 189.7h0.9v0.9h-0.9zM258.6 183.5h0.9v0.9h-0.9zM263.6 184.8h0.9v0.9h-0.9zM266.0 183.4h0.9v0.9h-0.9zM267.9 194.4h0.9v0.9h-0.9zM265.1 184.1h0.9v0.9h-0.9zM260.8 193.0h0.9v0.9h-0.9zM261.5 188.2h0.9v0.9h-0.9zM263.0 172.0h0.9v0.9h-0.9zM265.5 185.8h0.9v0.9h-0.9zM263.6 191.3h0.9v0.9h-0.9zM268.2 192.7h0.9v0.9h-0.9zM270.7 184.0h0.9v0.9h-0.9zM267.6 183.4h0.9v0.9h-0.9zM263.8 196.3h0.9v0.9h-0.9zM266.5 190.4h0.9v0.9h-0.9zM265.5 193.4h0.9v0.9h-0.9zM269.1 193.1h0.9v0.9h-0.9zM263.3 194.6h0.9v0.9h-0.9zM264.7 190.7h0.9v0.9h-0.9zM265.3 195.4h0.9v0.9h-0.9zM265.6 186.3h0.9v0.9h-0.9zM259.9 179.8h0.9v0.9h-0.9zM266.0 184.4h0.9v0.9h-0.9zM267.8 189.2h0.9v0.9h-0.9zM265.7 188.6h0.9v0.9h-0.9zM273.6 195.5h0.9v0.9h-0.9zM266.6 193.6h0.9v0.9h-0.9zM256.5 182.8h0.9v0.9h-0.9zM268.9 197.7h0.9v0.9h-0.9zM262.1 174.4h0.9v0.9h-0.9zM260.2 192.4h0.9v0.9h-0.9zM264.0 196.3h0.9v0.9h-0.9zM263.9 190.6h0.9v0.9h-0.9zM266.5 187.9h0.9v0.9h-0.9zM263.2 184.4h0.9v0.9h-0.9zM264.0 188.9h0.9v0.9h-0.9zM268.1 189.1h0.9v0.9h-0.9zM262.8 181.2h0.9v0.9h-0.9zM262.0 191.4h0.9v0.9h-0.9zM264.2 185.8h0.9v0.9h-0.9zM269.5 195.5h0.9v0.9h-0.9zM268.8 180.2h0.9v0.9h-0.9zM264.5 190.3h0.9v0.9h-0.9zM265.4 172.5h0.9v0.9h-0.9zM264.9 188.6h0.9v0.9h-0.9zM268.5 187.2h0.9v0.9h-0.9zM264.9 187.5h0.9v0.9h-0.9zM260.9 193.2h0.9v0.9h-0.9zM271.3 182.1h0.9v0.9h-0.9zM260.0 179.8h0.9v0.9h-0.9zM262.0 182.1h0.9v0.9h-0.9zM262.2 181.5h0.9v0.9h-0.9zM263.5 191.8h0.9v0.9h-0.9zM267.5 187.3h0.9v0.9h-0.9zM261.3 192.5h0.9v0.9h-0.9zM266.8 183.2h0.9v0.9h-0.9zM266.1 181.0h0.9v0.9h-0.9zM262.2 189.4h0.9v0.9h-0.9zM263.8 196.3h0.9v0.9h-0.9zM264.1 190.3h0.9v0.9h-0.9zM268.6 177.9h0.9v0.9h-0.9zM266.9 196.7h0.9v0.9h-0.9zM263.9 196.3h0.9v0.9h-0.9zM260.8 182.5h0.9v0.9h-0.9zM261.6 192.2h0.9v0.9h-0.9zM258.8 195.1h0.9v0.9h-0.9zM259.9 183.4h0.9v0.9h-0.9zM255.6 179.4h0.9v0.9h-0.9zM267.9 178.7h0.9v0.9h-0.9zM263.9 178.8h0.9v0.9h-0.9zM263.3 190.2h0.9v0.9h-0.9zM257.4 183.9h0.9v0.9h-0.9zM265.2 191.5h0.9v0.9h-0.9zM257.9 188.1h0.9v0.9h-0.9zM265.0 196.4h0.9v0.9h-0.9zM265.7 196.1h0.9v0.9h-0.9zM266.6 182.6h0.9v0.9h-0.9zM274.5 193.4h0.9v0.9h-0.9zM265.6 185.9h0.9v0.9h-0.9zM270.2 189.3h0.9v0.9h-0.9zM266.7 190.2h0.9v0.9h-0.9zM264.2 177.4h0.9v0.9h-0.9zM265.6 183.8h0.9v0.9h-0.9zM261.5 182.6h0.9v0.9h-0.9zM263.1 187.5h0.9v0.9h-0.9zM269.9 191.2h0.9v0.9h-0.9zM270.7 176.7h0.9v0.9h-0.9zM264.0 174.8h0.9v0.9h-0.9zM256.9 190.1h0.9v0.9h-0.9zM258.2 189.0h0.9v0.9h-0.9zM261.5 196.8h0.9v0.9h-0.9zM268.9 177.2h0.9v0.9h-0.9zM267.3 188.4h0.9v0.9h-0.9zM266.5 184.8h0.9v0.9h-0.9zM269.0 195.6h0.9v0.9h-0.9zM264.4 177.1h0.9v0.9h-0.9zM256.0 195.6h0.9v0.9h-0.9zM265.3 178.1h0.9v0.9h-0.9zM260.6 190.9h0.9v0.9h-0.9zM265.8 192.1h0.9v0.9h-0.9zM260.4 191.9h0.9v0.9h-0.9zM264.5 180.7h0.9v0.9h-0.9zM260.5 197.6h0.9v0.9h-0.9zM263.4 173.9h0.9v0.9h-0.9zM272.0 193.1h0.9v0.9h-0.9zM270.9 183.6h0.9v0.9h-0.9zM261.8 188.2h0.9v0.9h-0.9zM264.6 195.2h0.9v0.9h-0.9zM268.5 183.1h0.9v0.9h-0.9zM268.1 187.2h0.9v0.9h-0.9zM264.4 190.0h0.9v0.9h-0.9zM268.2 188.2h0.9v0.9h-0.9zM266.6 183.4h0.9v0.9h-0.9zM259.7 180.9h0.9v0.9h-0.9zM265.8 189.6h0.9v0.9h-0.9zM265.4 179.3h0.9v0.9h-0.9zM262.1 189.3h0.9v0.9h-0.9zM267.4 192.7h0.9v0.9h-0.9zM263.7 183.9h0.9v0.9h-0.9zM259.4 185.2h0.9v0.9h-0.9zM269.0 187.4h0.9v0.9h-0.9zM262.8 190.9h0.9v0.9h-0.9zM274.7 185.6h0.9v0.9h-0.9zM261.3 176.6h0.9v0.9h-0.9zM257.5 191.8h0.9v0.9h-0.9zM266.0 184.4h0.9v0.9h-0.9zM266.2 193.1h0.9v0.9h-0.9zM262.0 190.8h0.9v0.9h-0.9zM267.8 178.1h0.9v0.9h-0.9zM264.3 189.4h0.9v0.9h-0.9zM259.5 188.5h0.9v0.9h-0.9zM269.0 185.4h0.9v0.9h-0.9zM272.4 181.0h0.9v0.9h-0.9zM264.7 186.2h0.9v0.9h-0.9zM258.8 187.2h0.9v0.9h-0.9zM264.8 181.1h0.9v0.9h-0.9zM263.0 195.8h0.9v0.9h-0.9zM267.9 192.3h0.9v0.9h-0.9zM264.2 183.8h0.9v0.9h-0.9zM265.2 190.1h0.9v0.9h-0.9zM262.5 190.7h0.9v0.9h-0.9zM266.0 196.7h0.9v0.9h-0.9zM264.2 178.9h0.9v0.9h-0.9zM268.8 192.8h0.9v0.9h-0.9zM265.3 180.8h0.9v0.9h-0.9zM267.9 181.5h0.9v0.9h-0.9zM261.0 188.4h0.9v0.9h-0.9zM268.3 189.2h0.9v0.9h-0.9zM265.3 182.4h0.9v0.9h-0.9zM268.2 186.3h0.9v0.9h-0.9zM265.6 181.5h0.9v0.9h-0.9zM259.7 181.9h0.9v0.9h-0.9zM261.2 190.9h0.9v0.9h-0.9zM269.6 189.0h0.9v0.9h-0.9zM263.7 193.4h0.9v0.9h-0.9zM261.8 187.2h0.9v0.9h-0.9zM268.1 197.7h0.9v0.9h-0.9zM263.5 186.2h0.9v0.9h-0.9zM263.0 191.0h0.9v0.9h-0.9zM270.3 189.4h0.9v0.9h-0.9zM260.6 196.7h0.9v0.9h-0.9zM268.8 197.3h0.9v0.9h-0.9zM267.9 186.3h0.9v0.9h-0.9zM261.1 193.0h0.9v0.9h-0.9zM263.8 189.8h0.9v0.9h-0.9zM269.6 175.9h0.9v0.9h-0.9zM258.6 178.4h0.9v0.9h-0.9zM262.3 188.1h0.9v0.9h-0.9zM265.9 183.0h0.9v0.9h-0.9zM268.9 186.7h0.9v0.9h-0.9zM268.8 186.7h0.9v0.9h-0.9zM264.6 192.5h0.9v0.9h-0.9zM267.8 180.5h0.9v0.9h-0.9zM260.8 184.7h0.9v0.9h-0.9zM268.7 190.4h0.9v0.9h-0.9zM264.4 178.6h0.9v0.9h-0.9zM259.8 191.5h0.9v0.9h-0.9zM260.9 195.8h0.9v0.9h-0.9zM261.7 190.1h0.9v0.9h-0.9zM267.4 192.9h0.9v0.9h-0.9zM264.5 192.0h0.9v0.9h-0.9zM263.6 196.3h0.9v0.9h-0.9zM269.2 197.6h0.9v0.9h-0.9zM265.9 195.8h0.9v0.9h-0.9zM261.2 186.2h0.9v0.9h-0.9zM267.2 173.0h0.9v0.9h-0.9zM259.0 194.0h0.9v0.9h-0.9zM265.5 187.0h0.9v0.9h-0.9zM266.5 186.3h0.9v0.9h-0.9zM259.5 189.8h0.9v0.9h-0.9zM260.7 187.5h0.9v0.9h-0.9zM262.2 188.7h0.9v0.9h-0.9zM269.9 172.8h0.9v0.9h-0.9zM262.9 177.4h0.9v0.9h-0.9zM270.6 192.1h0.9v0.9h-0.9zM264.5 190.2h0.9v0.9h-0.9zM267.6 193.2h0.9v0.9h-0.9zM265.3 196.0h0.9v0.9h-0.9zM261.0 186.7h0.9v0.9h-0.9zM267.7 195.1h0.9v0.9h-0.9zM264.7 191.9h0.9v0.9h-0.9zM267.8 186.2h0.9v0.9h-0.9zM261.5 193.3h0.9v0.9h-0.9zM264.4 181.9h0.9v0.9h-0.9zM269.0 185.3h0.9v0.9h-0.9zM264.9 183.9h0.9v0.9h-0.9zM259.8 184.7h0.9v0.9h-0.9zM263.9 176.2h0.9v0.9h-0.9zM270.0 187.1h0.9v0.9h-0.9zM270.7 197.3h0.9v0.9h-0.9zM262.8 188.8h0.9v0.9h-0.9zM263.2 188.8h0.9v0.9h-0.9zM265.2 191.8h0.9v0.9h-0.9zM266.4 190.2h0.9v0.9h-0.9zM262.6 177.8h0.9v0.9h-0.9zM265.6 187.5h0.9v0.9h-0.9zM267.2 184.5h0.9v0.9h-0.9zM265.8 182.1h0.9v0.9h-0.9zM266.2 187.0h0.9v0.9h-0.9zM267.8 188.2h0.9v0.9h-0.9zM265.9 189.3h0.9v0.9h-0.9zM264.7 189.5h0.9v0.9h-0.9zM264.9 189.0h0.9v0.9h-0.9zM268.5 196.1h0.9v0.9h-0.9zM271.1 192.5h0.9v0.9h-0.9zM259.8 190.6h0.9v0.9h-0.9zM266.6 193.6h0.9v0.9h-0.9zM262.6 186.3h0.9v0.9h-0.9zM259.7 185.3h0.9v0.9h-0.9zM258.1 194.6h0.9v0.9h-0.9zM264.2 181.8h0.9v0.9h-0.9zM269.8 188.9h0.9v0.9h-0.9zM261.3 192.3h0.9v0.9h-0.9zM263.1 175.2h0.9v0.9h-0.9zM258.7 185.8h0.9v0.9h-0.9zM267.3 191.0h0.9v0.9h-0.9zM268.0 187.2h0.9v0.9h-0.9zM269.5 189.0h0.9v0.9h-0.9zM264.5 191.8h0.9v0.9h-0.9zM263.8 186.7h0.9v0.9h-0.9zM263.2 183.1h0.9v0.9h-0.9zM262.2 179.4h0.9v0.9h-0.9zM266.8 191.1h0.9v0.9h-0.9zM257.8 185.8h0.9v0.9h-0.9zM264.9 181.7h0.9v0.9h-0.9zM266.3 184.7h0.9v0.9h-0.9zM264.9 182.2h0.9v0.9h-0.9zM265.5 189.9h0.9v0.9h-0.9zM265.4 189.3h0.9v0.9h-0.9zM265.0 190.7h0.9v0.9h-0.9zM257.1 188.6h0.9v0.9h-0.9zM267.0 189.1h0.9v0.9h-0.9zM260.5 178.1h0.9v0.9h-0.9zM263.7 183.6h0.9v0.9h-0.9zM259.2 191.4h0.9v0.9h-0.9zM259.6 164.8h0.9v0.9h-0.9zM267.5 176.3h0.9v0.9h-0.9zM263.2 173.2h0.9v0.9h-0.9zM264.4 171.3h0.9v0.9h-0.9zM260.0 170.3h0.9v0.9h-0.9zM264.7 170.9h0.9v0.9h-0.9zM265.1 169.5h0.9v0.9h-0.9zM265.6 165.0h0.9v0.9h-0.9zM265.1 164.4h0.9v0.9h-0.9zM264.3 166.7h0.9v0.9h-0.9zM261.9 166.0h0.9v0.9h-0.9zM262.3 172.9h0.9v0.9h-0.9zM261.8 170.8h0.9v0.9h-0.9zM265.6 180.0h0.9v0.9h-0.9zM267.0 164.3h0.9v0.9h-0.9zM260.4 169.4h0.9v0.9h-0.9zM265.5 165.7h0.9v0.9h-0.9zM266.9 159.4h0.9v0.9h-0.9zM257.9 165.2h0.9v0.9h-0.9zM265.9 173.5h0.9v0.9h-0.9zM264.3 176.3h0.9v0.9h-0.9zM265.5 168.2h0.9v0.9h-0.9zM268.6 170.7h0.9v0.9h-0.9zM261.7 170.6h0.9v0.9h-0.9zM260.9 174.6h0.9v0.9h-0.9zM263.4 160.1h0.9v0.9h-0.9zM267.9 171.0h0.9v0.9h-0.9zM262.6 169.9h0.9v0.9h-0.9zM266.1 168.9h0.9v0.9h-0.9zM264.8 174.4h0.9v0.9h-0.9zM262.8 169.0h0.9v0.9h-0.9zM269.5 167.6h0.9v0.9h-0.9zM262.0 169.5h0.9v0.9h-0.9zM267.1 165.1h0.9v0.9h-0.9zM263.4 166.0h0.9v0.9h-0.9zM269.4 175.3h0.9v0.9h-0.9zM265.1 174.8h0.9v0.9h-0.9zM260.0 165.2h0.9v0.9h-0.9zM265.0 175.7h0.9v0.9h-0.9zM259.6 170.7h0.9v0.9h-0.9z" fill="#000" fill-opacity="0.72"/>
<rect x="230.4" y="126.9" width="76.4" height="72.0" fill="none" stroke="#444" stroke-width="1.0" />
<path d="M230.4 198.9v2.2M230.4 198.9h-2.2M236.1 198.9v1.3M230.4 193.5h-1.3M239.5 198.9v1.3M230.4 190.3h-1.3M241.9 198.9v1.3M230.4 188.1h-1.3M243.8 198.9v1.3M230.4 186.3h-1.3M245.3 198.9v1.3M230.4 184.9h-1.3M246.5 198.9v1.3M230.4 183.7h-1.3M247.6 198.9v1.3M230.4 182.6h-1.3M248.6 198.9v1.3M230.4 181.7h-1.3M249.5 198.9v2.2M230.4 180.9h-2.2M255.2 198.9v1.3M230.4 175.5h-1.3M258.6 198.9v1.3M230.4 172.3h-1.3M261.0 198.9v1.3M230.4 170.1h-1.3M262.9 198.9v1.3M230.4 168.3h-1.3M264.4 198.9v1.3M230.4 166.9h-1.3M265.6 198.9v1.3M230.4 165.7h-1.3M266.7 198.9v1.3M230.4 164.6h-1.3M267.7 198.9v1.3M230.4 163.7h-1.3M268.6 198.9v2.2M230.4 162.9h-2.2M274.3 198.9v1.3M230.4 157.5h-1.3M277.7 198.9v1.3M230.4 154.3h-1.3M280.1 198.9v1.3M230.4 152.1h-1.3M282.0 198.9v1.3M230.4 150.3h-1.3M283.5 198.9v1.3M230.4 148.9h-1.3M284.7 198.9v1.3M230.4 147.7h-1.3M285.8 198.9v1.3M230.4 146.6h-1.3M286.8 198.9v1.3M230.4 145.7h-1.3M287.7 198.9v2.2M230.4 144.9h-2.2M293.4 198.9v1.3M230.4 139.5h-1.3M296.8 198.9v1.3M230.4 136.3h-1.3M299.2 198.9v1.3M230.4 134.1h-1.3M301.1 198.9v1.3M230.4 132.3h-1.3M302.6 198.9v1.3M230.4 130.9h-1.3M303.8 198.9v1.3M230.4 129.7h-1.3M304.9 198.9v1.3M230.4 128.6h-1.3M305.9 198.9v1.3M230.4 127.7h-1.3M306.8 198.9v2.2M230.4 126.9h-2.2" stroke="#000" stroke-width="0.6" fill="none"/>
<text x="231.625" y="205.025" font-size="4.9" text-anchor="middle" stroke="none">10<tspan font-size="3.53" dy="-2.06">0</tspan></text>
<text x="250.725" y="205.025" font-size="4.9" text-anchor="middle" stroke="none">10<tspan font-size="3.53" dy="-2.06">1</tspan></text>
<text x="269.82500000000005" y="205.025" font-size="4.9" text-anchor="middle" stroke="none">10<tspan font-size="3.53" dy="-2.06">2</tspan></text>
<text x="288.925" y="205.025" font-size="4.9" text-anchor="middle" stroke="none">10<tspan font-size="3.53" dy="-2.06">3</tspan></text>
<text x="308.02500000000003" y="205.025" font-size="4.9" text-anchor="middle" stroke="none">10<tspan font-size="3.53" dy="-2.06">4</tspan></text>
<text transform="translate(226.725,197.92000000000002) rotate(-90)" font-size="4.9" text-anchor="middle" stroke="none">10<tspan font-size="3.53" dy="-2.06">0</tspan></text>
<text transform="translate(226.725,179.92000000000002) rotate(-90)" font-size="4.9" text-anchor="middle" stroke="none">10<tspan font-size="3.53" dy="-2.06">1</tspan></text>
<text transform="translate(226.725,161.92000000000002) rotate(-90)" font-size="4.9" text-anchor="middle" stroke="none">10<tspan font-size="3.53" dy="-2.06">2</tspan></text>
<text transform="translate(226.725,143.92000000000002) rotate(-90)" font-size="4.9" text-anchor="middle" stroke="none">10<tspan font-size="3.53" dy="-2.06">3</tspan></text>
<text transform="translate(226.725,125.92) rotate(-90)" font-size="4.9" text-anchor="middle" stroke="none">10<tspan font-size="3.53" dy="-2.06">4</tspan></text>
<text x="269.1" y="210.41500000000002" font-size="4.655" text-anchor="middle" fill="#000" stroke="none">FL1-H</text>
<text transform="translate(221.09,163.9) rotate(-90)" font-size="4.655" text-anchor="middle" fill="#000" stroke="none">FL2-H</text>
<line x1="255.5" y1="126.9" x2="255.5" y2="198.9" stroke="#333" stroke-width="1.0" />
<line x1="230.4" y1="174.8" x2="306.8" y2="174.8" stroke="#333" stroke-width="1.0" />
<path d="M359.9 168.1h0.9v0.9h-0.9zM353.6 156.2h0.9v0.9h-0.9zM359.7 162.4h0.9v0.9h-0.9zM361.6 167.2h0.9v0.9h-0.9zM360.4 162.0h0.9v0.9h-0.9zM351.2 164.4h0.9v0.9h-0.9zM355.0 165.6h0.9v0.9h-0.9zM355.3 165.6h0.9v0.9h-0.9zM353.6 162.4h0.9v0.9h-0.9zM360.0 170.4h0.9v0.9h-0.9zM351.1 163.7h0.9v0.9h-0.9zM357.1 163.2h0.9v0.9h-0.9zM356.0 163.0h0.9v0.9h-0.9zM354.3 165.0h0.9v0.9h-0.9zM361.8 152.3h0.9v0.9h-0.9zM361.7 154.2h0.9v0.9h-0.9zM354.5 156.5h0.9v0.9h-0.9zM358.6 160.5h0.9v0.9h-0.9zM358.2 150.3h0.9v0.9h-0.9zM355.9 167.0h0.9v0.9h-0.9zM356.0 155.8h0.9v0.9h-0.9zM356.3 171.5h0.9v0.9h-0.9zM359.8 169.2h0.9v0.9h-0.9zM352.5 161.8h0.9v0.9h-0.9zM353.7 160.9h0.9v0.9h-0.9zM352.2 157.8h0.9v0.9h-0.9zM361.3 154.7h0.9v0.9h-0.9zM358.7 161.0h0.9v0.9h-0.9zM353.7 166.2h0.9v0.9h-0.9zM356.7 169.9h0.9v0.9h-0.9zM364.3 165.9h0.9v0.9h-0.9zM354.6 158.3h0.9v0.9h-0.9zM349.5 162.3h0.9v0.9h-0.9zM353.6 174.9h0.9v0.9h-0.9zM353.8 158.1h0.9v0.9h-0.9zM352.2 161.3h0.9v0.9h-0.9zM353.7 151.4h0.9v0.9h-0.9zM360.4 164.7h0.9v0.9h-0.9zM362.6 166.0h0.9v0.9h-0.9zM356.1 167.7h0.9v0.9h-0.9zM355.9 168.7h0.9v0.9h-0.9zM356.1 163.6h0.9v0.9h-0.9zM348.9 159.5h0.9v0.9h-0.9zM357.4 162.8h0.9v0.9h-0.9zM355.8 168.9h0.9v0.9h-0.9zM360.8 154.5h0.9v0.9h-0.9zM356.3 164.8h0.9v0.9h-0.9zM364.4 163.8h0.9v0.9h-0.9zM354.3 161.4h0.9v0.9h-0.9zM360.9 147.5h0.9v0.9h-0.9zM359.9 168.9h0.9v0.9h-0.9zM355.3 168.8h0.9v0.9h-0.9zM353.1 155.4h0.9v0.9h-0.9zM349.6 160.8h0.9v0.9h-0.9zM357.6 162.8h0.9v0.9h-0.9zM350.6 162.2h0.9v0.9h-0.9zM358.2 164.5h0.9v0.9h-0.9zM361.7 155.6h0.9v0.9h-0.9zM357.4 160.9h0.9v0.9h-0.9zM356.3 158.5h0.9v0.9h-0.9z" fill="#888" fill-opacity="0.7"/>
<path d="M359.6 185.4h0.9v0.9h-0.9zM352.1 180.0h0.9v0.9h-0.9zM358.2 183.2h0.9v0.9h-0.9zM360.6 172.4h0.9v0.9h-0.9zM355.6 182.6h0.9v0.9h-0.9zM351.7 184.6h0.9v0.9h-0.9zM357.1 192.2h0.9v0.9h-0.9zM347.9 182.8h0.9v0.9h-0.9zM356.8 192.3h0.9v0.9h-0.9zM356.1 181.9h0.9v0.9h-0.9zM352.4 194.6h0.9v0.9h-0.9zM354.4 195.2h0.9v0.9h-0.9zM355.1 184.2h0.9v0.9h-0.9zM352.0 169.5h0.9v0.9h-0.9zM355.7 179.9h0.9v0.9h-0.9zM359.3 169.1h0.9v0.9h-0.9zM350.2 190.9h0.9v0.9h-0.9zM351.6 171.3h0.9v0.9h-0.9zM347.5 172.8h0.9v0.9h-0.9zM356.5 189.3h0.9v0.9h-0.9zM348.1 183.9h0.9v0.9h-0.9zM351.2 174.4h0.9v0.9h-0.9zM356.5 179.1h0.9v0.9h-0.9zM355.4 186.3h0.9v0.9h-0.9zM356.5 183.7h0.9v0.9h-0.9zM357.4 176.1h0.9v0.9h-0.9zM351.3 173.0h0.9v0.9h-0.9zM354.5 173.5h0.9v0.9h-0.9zM355.1 179.3h0.9v0.9h-0.9zM359.6 172.1h0.9v0.9h-0.9zM358.6 187.3h0.9v0.9h-0.9zM362.3 175.3h0.9v0.9h-0.9zM356.4 176.0h0.9v0.9h-0.9zM353.3 183.7h0.9v0.9h-0.9zM357.7 194.2h0.9v0.9h-0.9zM353.4 174.8h0.9v0.9h-0.9zM355.0 191.2h0.9v0.9h-0.9zM356.7 187.3h0.9v0.9h-0.9zM357.8 181.6h0.9v0.9h-0.9zM356.6 175.7h0.9v0.9h-0.9zM353.4 179.3h0.9v0.9h-0.9zM355.7 187.0h0.9v0.9h-0.9zM349.5 174.6h0.9v0.9h-0.9zM353.3 172.1h0.9v0.9h-0.9zM347.8 170.0h0.9v0.9h-0.9zM358.2 169.3h0.9v0.9h-0.9zM360.0 181.5h0.9v0.9h-0.9zM361.2 170.5h0.9v0.9h-0.9zM358.1 186.6h0.9v0.9h-0.9zM352.2 178.1h0.9v0.9h-0.9zM351.4 196.1h0.9v0.9h-0.9zM363.6 168.1h0.9v0.9h-0.9zM351.9 179.6h0.9v0.9h-0.9zM351.3 190.8h0.9v0.9h-0.9zM355.4 178.8h0.9v0.9h-0.9zM348.9 166.6h0.9v0.9h-0.9zM354.6 163.5h0.9v0.9h-0.9zM357.4 176.8h0.9v0.9h-0.9zM358.1 183.9h0.9v0.9h-0.9zM356.6 184.8h0.9v0.9h-0.9zM352.3 175.6h0.9v0.9h-0.9zM353.3 182.3h0.9v0.9h-0.9zM357.3 179.2h0.9v0.9h-0.9zM359.2 177.3h0.9v0.9h-0.9zM350.7 174.4h0.9v0.9h-0.9zM352.4 194.0h0.9v0.9h-0.9zM357.5 184.9h0.9v0.9h-0.9zM354.3 183.7h0.9v0.9h-0.9zM356.6 190.6h0.9v0.9h-0.9zM358.7 180.9h0.9v0.9h-0.9zM354.2 172.7h0.9v0.9h-0.9zM354.4 179.6h0.9v0.9h-0.9zM348.3 183.4h0.9v0.9h-0.9zM350.5 179.3h0.9v0.9h-0.9zM362.4 196.6h0.9v0.9h-0.9zM349.6 182.8h0.9v0.9h-0.9zM355.8 195.4h0.9v0.9h-0.9zM361.4 181.4h0.9v0.9h-0.9zM352.8 184.7h0.9v0.9h-0.9zM356.3 164.8h0.9v0.9h-0.9zM355.6 177.5h0.9v0.9h-0.9zM360.3 186.8h0.9v0.9h-0.9zM355.5 188.7h0.9v0.9h-0.9zM354.1 182.6h0.9v0.9h-0.9zM355.8 164.8h0.9v0.9h-0.9zM357.6 190.3h0.9v0.9h-0.9zM357.1 191.1h0.9v0.9h-0.9zM350.6 183.0h0.9v0.9h-0.9zM354.0 179.0h0.9v0.9h-0.9zM350.5 172.8h0.9v0.9h-0.9zM354.2 171.3h0.9v0.9h-0.9zM353.3 170.5h0.9v0.9h-0.9zM355.9 180.1h0.9v0.9h-0.9zM349.8 174.4h0.9v0.9h-0.9zM356.7 182.3h0.9v0.9h-0.9zM353.7 163.9h0.9v0.9h-0.9zM350.6 184.2h0.9v0.9h-0.9zM351.0 188.1h0.9v0.9h-0.9zM354.8 171.8h0.9v0.9h-0.9zM360.6 157.8h0.9v0.9h-0.9zM352.9 167.1h0.9v0.9h-0.9zM353.2 185.5h0.9v0.9h-0.9zM359.0 184.4h0.9v0.9h-0.9zM353.7 182.8h0.9v0.9h-0.9zM350.2 179.5h0.9v0.9h-0.9zM357.1 183.4h0.9v0.9h-0.9zM356.8 176.7h0.9v0.9h-0.9zM356.5 179.5h0.9v0.9h-0.9zM351.3 166.5h0.9v0.9h-0.9zM346.4 172.5h0.9v0.9h-0.9zM352.7 182.1h0.9v0.9h-0.9zM351.7 169.8h0.9v0.9h-0.9zM355.6 185.0h0.9v0.9h-0.9zM356.2 184.4h0.9v0.9h-0.9zM352.4 184.8h0.9v0.9h-0.9zM356.2 189.4h0.9v0.9h-0.9zM353.6 171.3h0.9v0.9h-0.9zM358.1 189.5h0.9v0.9h-0.9zM353.9 160.9h0.9v0.9h-0.9zM351.5 189.8h0.9v0.9h-0.9zM352.1 175.7h0.9v0.9h-0.9zM358.1 181.8h0.9v0.9h-0.9zM354.5 174.3h0.9v0.9h-0.9zM355.5 182.3h0.9v0.9h-0.9zM356.7 164.7h0.9v0.9h-0.9zM358.6 197.6h0.9v0.9h-0.9zM356.3 177.5h0.9v0.9h-0.9zM358.6 192.4h0.9v0.9h-0.9zM352.1 180.4h0.9v0.9h-0.9zM355.2 172.9h0.9v0.9h-0.9zM354.1 189.3h0.9v0.9h-0.9zM361.6 164.7h0.9v0.9h-0.9zM356.7 167.8h0.9v0.9h-0.9zM352.5 186.8h0.9v0.9h-0.9zM351.0 184.2h0.9v0.9h-0.9zM353.0 187.4h0.9v0.9h-0.9zM351.3 175.1h0.9v0.9h-0.9zM350.4 192.8h0.9v0.9h-0.9zM356.0 181.7h0.9v0.9h-0.9zM359.6 170.4h0.9v0.9h-0.9zM351.5 183.6h0.9v0.9h-0.9zM351.8 178.3h0.9v0.9h-0.9zM353.9 178.5h0.9v0.9h-0.9zM355.5 171.0h0.9v0.9h-0.9zM358.1 181.2h0.9v0.9h-0.9zM352.1 176.2h0.9v0.9h-0.9zM355.5 180.0h0.9v0.9h-0.9zM356.3 194.0h0.9v0.9h-0.9zM354.5 166.7h0.9v0.9h-0.9zM355.6 182.3h0.9v0.9h-0.9zM355.0 179.4h0.9v0.9h-0.9zM349.0 178.6h0.9v0.9h-0.9zM355.1 179.5h0.9v0.9h-0.9zM359.9 196.3h0.9v0.9h-0.9zM350.5 176.9h0.9v0.9h-0.9zM364.0 195.5h0.9v0.9h-0.9zM357.8 171.6h0.9v0.9h-0.9zM354.9 185.7h0.9v0.9h-0.9zM351.4 184.6h0.9v0.9h-0.9zM350.0 193.8h0.9v0.9h-0.9zM354.4 173.5h0.9v0.9h-0.9zM359.3 188.8h0.9v0.9h-0.9zM359.6 168.7h0.9v0.9h-0.9zM352.5 180.1h0.9v0.9h-0.9zM349.0 182.0h0.9v0.9h-0.9zM354.8 179.0h0.9v0.9h-0.9zM354.2 167.4h0.9v0.9h-0.9zM356.6 193.5h0.9v0.9h-0.9zM350.0 170.4h0.9v0.9h-0.9zM354.5 170.4h0.9v0.9h-0.9zM351.5 177.4h0.9v0.9h-0.9zM349.8 165.9h0.9v0.9h-0.9zM357.7 171.4h0.9v0.9h-0.9zM357.4 173.5h0.9v0.9h-0.9zM356.8 176.4h0.9v0.9h-0.9zM349.3 185.1h0.9v0.9h-0.9zM353.9 174.3h0.9v0.9h-0.9zM361.8 196.6h0.9v0.9h-0.9zM350.5 179.7h0.9v0.9h-0.9zM353.1 173.0h0.9v0.9h-0.9zM356.1 187.9h0.9v0.9h-0.9zM358.1 170.1h0.9v0.9h-0.9zM356.3 192.1h0.9v0.9h-0.9zM347.4 177.5h0.9v0.9h-0.9zM351.7 187.2h0.9v0.9h-0.9zM349.4 180.0h0.9v0.9h-0.9zM353.7 173.6h0.9v0.9h-0.9zM354.3 166.3h0.9v0.9h-0.9zM350.4 172.0h0.9v0.9h-0.9zM357.0 193.1h0.9v0.9h-0.9zM353.6 176.8h0.9v0.9h-0.9zM348.9 167.7h0.9v0.9h-0.9zM354.9 190.4h0.9v0.9h-0.9zM353.0 174.1h0.9v0.9h-0.9zM352.3 186.1h0.9v0.9h-0.9zM358.7 180.5h0.9v0.9h-0.9zM353.1 182.8h0.9v0.9h-0.9zM352.4 180.1h0.9v0.9h-0.9zM358.3 185.0h0.9v0.9h-0.9zM364.2 167.6h0.9v0.9h-0.9zM352.9 186.4h0.9v0.9h-0.9zM358.7 164.2h0.9v0.9h-0.9zM360.2 191.9h0.9v0.9h-0.9zM356.8 180.1h0.9v0.9h-0.9zM348.0 182.4h0.9v0.9h-0.9zM351.8 184.3h0.9v0.9h-0.9zM353.0 169.8h0.9v0.9h-0.9zM349.3 183.3h0.9v0.9h-0.9zM350.8 187.7h0.9v0.9h-0.9zM351.4 185.2h0.9v0.9h-0.9zM352.6 186.9h0.9v0.9h-0.9zM348.3 185.0h0.9v0.9h-0.9zM355.3 184.8h0.9v0.9h-0.9zM355.1 193.5h0.9v0.9h-0.9zM358.9 175.3h0.9v0.9h-0.9zM354.6 173.6h0.9v0.9h-0.9zM352.8 196.9h0.9v0.9h-0.9zM351.1 188.8h0.9v0.9h-0.9zM360.1 187.5h0.9v0.9h-0.9zM358.4 171.5h0.9v0.9h-0.9zM353.2 173.4h0.9v0.9h-0.9zM359.4 180.0h0.9v0.9h-0.9zM351.9 180.4h0.9v0.9h-0.9zM358.4 169.2h0.9v0.9h-0.9zM357.3 182.2h0.9v0.9h-0.9zM353.9 184.3h0.9v0.9h-0.9zM352.2 171.8h0.9v0.9h-0.9zM349.6 184.1h0.9v0.9h-0.9zM349.5 175.5h0.9v0.9h-0.9zM351.7 189.2h0.9v0.9h-0.9zM345.5 177.4h0.9v0.9h-0.9zM354.5 182.8h0.9v0.9h-0.9zM354.3 188.8h0.9v0.9h-0.9zM354.0 176.7h0.9v0.9h-0.9zM355.2 183.8h0.9v0.9h-0.9zM355.3 184.4h0.9v0.9h-0.9zM358.3 193.6h0.9v0.9h-0.9zM350.8 173.6h0.9v0.9h-0.9zM361.6 177.4h0.9v0.9h-0.9zM347.3 179.5h0.9v0.9h-0.9zM355.8 191.4h0.9v0.9h-0.9zM355.9 186.2h0.9v0.9h-0.9zM355.3 190.8h0.9v0.9h-0.9zM349.1 181.5h0.9v0.9h-0.9zM355.6 182.8h0.9v0.9h-0.9zM358.5 169.8h0.9v0.9h-0.9zM358.8 188.4h0.9v0.9h-0.9zM350.6 179.4h0.9v0.9h-0.9zM354.3 161.4h0.9v0.9h-0.9zM354.6 175.6h0.9v0.9h-0.9zM352.5 163.5h0.9v0.9h-0.9zM355.5 193.1h0.9v0.9h-0.9zM359.0 191.9h0.9v0.9h-0.9zM355.9 189.2h0.9v0.9h-0.9zM349.8 176.3h0.9v0.9h-0.9zM353.9 181.3h0.9v0.9h-0.9zM352.7 179.9h0.9v0.9h-0.9zM357.4 169.2h0.9v0.9h-0.9zM356.5 180.3h0.9v0.9h-0.9zM355.9 182.6h0.9v0.9h-0.9zM355.6 177.9h0.9v0.9h-0.9zM357.8 190.4h0.9v0.9h-0.9zM356.8 173.8h0.9v0.9h-0.9zM353.7 182.9h0.9v0.9h-0.9zM361.1 187.6h0.9v0.9h-0.9zM356.3 191.3h0.9v0.9h-0.9zM350.2 186.3h0.9v0.9h-0.9zM344.6 176.3h0.9v0.9h-0.9zM355.0 167.6h0.9v0.9h-0.9zM346.5 168.0h0.9v0.9h-0.9zM355.9 184.0h0.9v0.9h-0.9zM355.6 179.0h0.9v0.9h-0.9zM357.9 185.4h0.9v0.9h-0.9zM352.4 180.5h0.9v0.9h-0.9zM361.0 176.0h0.9v0.9h-0.9zM350.4 168.5h0.9v0.9h-0.9zM347.7 168.7h0.9v0.9h-0.9zM358.8 186.3h0.9v0.9h-0.9zM356.1 187.8h0.9v0.9h-0.9zM352.1 177.0h0.9v0.9h-0.9zM354.7 193.4h0.9v0.9h-0.9zM352.8 168.4h0.9v0.9h-0.9zM351.4 193.7h0.9v0.9h-0.9zM354.1 169.4h0.9v0.9h-0.9zM355.4 187.3h0.9v0.9h-0.9zM351.7 174.8h0.9v0.9h-0.9zM351.0 165.8h0.9v0.9h-0.9zM353.0 186.9h0.9v0.9h-0.9zM356.4 179.8h0.9v0.9h-0.9zM349.6 181.6h0.9v0.9h-0.9z" fill="#000" fill-opacity="0.72"/>
<rect x="320.1" y="126.9" width="76.89999999999998" height="72.0" fill="none" stroke="#444" stroke-width="1.0" />
<path d="M320.1 198.9v2.2M320.1 198.9h-2.2M325.9 198.9v1.3M320.1 193.5h-1.3M329.3 198.9v1.3M320.1 190.3h-1.3M331.7 198.9v1.3M320.1 188.1h-1.3M333.5 198.9v1.3M320.1 186.3h-1.3M335.1 198.9v1.3M320.1 184.9h-1.3M336.3 198.9v1.3M320.1 183.7h-1.3M337.5 198.9v1.3M320.1 182.6h-1.3M338.4 198.9v1.3M320.1 181.7h-1.3M339.3 198.9v2.2M320.1 180.9h-2.2M345.1 198.9v1.3M320.1 175.5h-1.3M348.5 198.9v1.3M320.1 172.3h-1.3M350.9 198.9v1.3M320.1 170.1h-1.3M352.8 198.9v1.3M320.1 168.3h-1.3M354.3 198.9v1.3M320.1 166.9h-1.3M355.6 198.9v1.3M320.1 165.7h-1.3M356.7 198.9v1.3M320.1 164.6h-1.3M357.7 198.9v1.3M320.1 163.7h-1.3M358.6 198.9v2.2M320.1 162.9h-2.2M364.3 198.9v1.3M320.1 157.5h-1.3M367.7 198.9v1.3M320.1 154.3h-1.3M370.1 198.9v1.3M320.1 152.1h-1.3M372.0 198.9v1.3M320.1 150.3h-1.3M373.5 198.9v1.3M320.1 148.9h-1.3M374.8 198.9v1.3M320.1 147.7h-1.3M375.9 198.9v1.3M320.1 146.6h-1.3M376.9 198.9v1.3M320.1 145.7h-1.3M377.8 198.9v2.2M320.1 144.9h-2.2M383.6 198.9v1.3M320.1 139.5h-1.3M386.9 198.9v1.3M320.1 136.3h-1.3M389.3 198.9v1.3M320.1 134.1h-1.3M391.2 198.9v1.3M320.1 132.3h-1.3M392.7 198.9v1.3M320.1 130.9h-1.3M394.0 198.9v1.3M320.1 129.7h-1.3M395.1 198.9v1.3M320.1 128.6h-1.3M396.1 198.9v1.3M320.1 127.7h-1.3M397.0 198.9v2.2M320.1 126.9h-2.2" stroke="#000" stroke-width="0.6" fill="none"/>
<text x="321.32500000000005" y="205.025" font-size="4.9" text-anchor="middle" stroke="none">10<tspan font-size="3.53" dy="-2.06">0</tspan></text>
<text x="340.55000000000007" y="205.025" font-size="4.9" text-anchor="middle" stroke="none">10<tspan font-size="3.53" dy="-2.06">1</tspan></text>
<text x="359.77500000000003" y="205.025" font-size="4.9" text-anchor="middle" stroke="none">10<tspan font-size="3.53" dy="-2.06">2</tspan></text>
<text x="379.0" y="205.025" font-size="4.9" text-anchor="middle" stroke="none">10<tspan font-size="3.53" dy="-2.06">3</tspan></text>
<text x="398.225" y="205.025" font-size="4.9" text-anchor="middle" stroke="none">10<tspan font-size="3.53" dy="-2.06">4</tspan></text>
<text transform="translate(316.425,197.92000000000002) rotate(-90)" font-size="4.9" text-anchor="middle" stroke="none">10<tspan font-size="3.53" dy="-2.06">0</tspan></text>
<text transform="translate(316.425,179.92000000000002) rotate(-90)" font-size="4.9" text-anchor="middle" stroke="none">10<tspan font-size="3.53" dy="-2.06">1</tspan></text>
<text transform="translate(316.425,161.92000000000002) rotate(-90)" font-size="4.9" text-anchor="middle" stroke="none">10<tspan font-size="3.53" dy="-2.06">2</tspan></text>
<text transform="translate(316.425,143.92000000000002) rotate(-90)" font-size="4.9" text-anchor="middle" stroke="none">10<tspan font-size="3.53" dy="-2.06">3</tspan></text>
<text transform="translate(316.425,125.92) rotate(-90)" font-size="4.9" text-anchor="middle" stroke="none">10<tspan font-size="3.53" dy="-2.06">4</tspan></text>
<text x="359.05" y="210.41500000000002" font-size="4.655" text-anchor="middle" fill="#000" stroke="none">FL1-H</text>
<text transform="translate(310.79,163.9) rotate(-90)" font-size="4.655" text-anchor="middle" fill="#000" stroke="none">FL2-H</text>
<line x1="345.5" y1="126.9" x2="345.5" y2="198.9" stroke="#333" stroke-width="1.0" />
<line x1="320.1" y1="174.8" x2="397.0" y2="174.8" stroke="#333" stroke-width="1.0" />
<path d="M446.4 167.4h0.9v0.9h-0.9zM443.9 167.0h0.9v0.9h-0.9zM447.5 167.8h0.9v0.9h-0.9zM441.9 175.7h0.9v0.9h-0.9zM447.5 181.2h0.9v0.9h-0.9zM445.6 176.4h0.9v0.9h-0.9zM443.4 177.7h0.9v0.9h-0.9zM451.8 180.5h0.9v0.9h-0.9zM438.9 164.7h0.9v0.9h-0.9zM438.0 178.1h0.9v0.9h-0.9zM450.9 169.6h0.9v0.9h-0.9zM442.4 168.0h0.9v0.9h-0.9zM442.2 168.1h0.9v0.9h-0.9zM442.7 176.2h0.9v0.9h-0.9zM454.1 170.9h0.9v0.9h-0.9zM449.2 181.1h0.9v0.9h-0.9zM451.6 170.6h0.9v0.9h-0.9zM448.1 179.8h0.9v0.9h-0.9zM450.5 180.3h0.9v0.9h-0.9zM443.4 172.0h0.9v0.9h-0.9zM449.5 170.8h0.9v0.9h-0.9zM454.2 186.9h0.9v0.9h-0.9zM442.6 168.2h0.9v0.9h-0.9zM445.7 173.9h0.9v0.9h-0.9zM450.5 183.2h0.9v0.9h-0.9zM443.0 171.4h0.9v0.9h-0.9zM449.3 168.6h0.9v0.9h-0.9zM448.2 163.5h0.9v0.9h-0.9zM447.4 171.2h0.9v0.9h-0.9zM447.8 165.3h0.9v0.9h-0.9zM442.8 168.5h0.9v0.9h-0.9zM440.4 160.4h0.9v0.9h-0.9zM441.4 175.1h0.9v0.9h-0.9zM445.0 173.3h0.9v0.9h-0.9zM445.6 182.2h0.9v0.9h-0.9zM444.1 171.0h0.9v0.9h-0.9zM449.3 172.4h0.9v0.9h-0.9zM447.0 174.9h0.9v0.9h-0.9zM442.1 164.7h0.9v0.9h-0.9zM443.4 177.3h0.9v0.9h-0.9zM456.1 165.4h0.9v0.9h-0.9zM447.4 159.3h0.9v0.9h-0.9zM445.3 173.8h0.9v0.9h-0.9zM446.4 164.1h0.9v0.9h-0.9zM444.4 181.6h0.9v0.9h-0.9zM446.5 167.8h0.9v0.9h-0.9zM446.7 167.0h0.9v0.9h-0.9zM444.1 170.0h0.9v0.9h-0.9zM445.7 169.7h0.9v0.9h-0.9zM448.1 163.3h0.9v0.9h-0.9z" fill="#888" fill-opacity="0.7"/>
<path d="M447.1 157.4h0.9v0.9h-0.9zM445.1 165.0h0.9v0.9h-0.9zM445.1 160.8h0.9v0.9h-0.9zM448.2 163.7h0.9v0.9h-0.9zM450.9 159.3h0.9v0.9h-0.9zM446.2 157.7h0.9v0.9h-0.9zM448.4 162.1h0.9v0.9h-0.9zM447.6 158.4h0.9v0.9h-0.9zM449.1 158.0h0.9v0.9h-0.9zM443.0 160.1h0.9v0.9h-0.9zM444.1 163.7h0.9v0.9h-0.9zM447.3 159.4h0.9v0.9h-0.9zM450.1 164.0h0.9v0.9h-0.9zM446.1 159.2h0.9v0.9h-0.9zM443.6 162.7h0.9v0.9h-0.9zM446.8 162.7h0.9v0.9h-0.9zM448.0 162.7h0.9v0.9h-0.9zM444.7 162.9h0.9v0.9h-0.9zM446.7 154.6h0.9v0.9h-0.9zM445.3 165.4h0.9v0.9h-0.9zM448.0 160.3h0.9v0.9h-0.9zM445.2 163.0h0.9v0.9h-0.9zM445.6 156.7h0.9v0.9h-0.9zM442.6 169.4h0.9v0.9h-0.9zM445.9 161.9h0.9v0.9h-0.9zM447.4 162.9h0.9v0.9h-0.9zM449.1 162.1h0.9v0.9h-0.9zM445.6 161.1h0.9v0.9h-0.9zM446.7 167.1h0.9v0.9h-0.9zM452.3 164.2h0.9v0.9h-0.9zM452.3 160.1h0.9v0.9h-0.9zM444.4 154.5h0.9v0.9h-0.9zM449.6 163.2h0.9v0.9h-0.9zM443.0 163.6h0.9v0.9h-0.9zM446.0 162.5h0.9v0.9h-0.9zM450.1 163.9h0.9v0.9h-0.9zM446.7 160.5h0.9v0.9h-0.9zM450.0 158.2h0.9v0.9h-0.9zM447.9 164.8h0.9v0.9h-0.9zM451.3 156.9h0.9v0.9h-0.9zM448.6 161.0h0.9v0.9h-0.9zM446.2 164.8h0.9v0.9h-0.9zM447.7 153.3h0.9v0.9h-0.9zM449.1 158.3h0.9v0.9h-0.9zM448.7 160.0h0.9v0.9h-0.9zM444.6 161.8h0.9v0.9h-0.9zM448.6 158.7h0.9v0.9h-0.9zM450.8 159.9h0.9v0.9h-0.9zM448.2 167.5h0.9v0.9h-0.9zM445.7 162.7h0.9v0.9h-0.9zM449.1 164.6h0.9v0.9h-0.9zM450.1 162.3h0.9v0.9h-0.9zM447.2 162.5h0.9v0.9h-0.9zM445.5 156.1h0.9v0.9h-0.9zM448.0 162.0h0.9v0.9h-0.9zM455.3 160.4h0.9v0.9h-0.9zM443.2 159.8h0.9v0.9h-0.9zM445.3 163.5h0.9v0.9h-0.9zM445.5 163.7h0.9v0.9h-0.9zM445.1 160.2h0.9v0.9h-0.9zM447.4 162.2h0.9v0.9h-0.9zM442.6 163.3h0.9v0.9h-0.9zM446.3 168.0h0.9v0.9h-0.9zM446.3 162.9h0.9v0.9h-0.9zM444.0 163.6h0.9v0.9h-0.9zM445.2 162.4h0.9v0.9h-0.9zM449.6 157.5h0.9v0.9h-0.9zM440.4 161.0h0.9v0.9h-0.9zM447.3 163.6h0.9v0.9h-0.9zM450.9 160.4h0.9v0.9h-0.9zM445.8 158.6h0.9v0.9h-0.9zM448.3 165.4h0.9v0.9h-0.9zM446.7 164.7h0.9v0.9h-0.9zM445.3 160.3h0.9v0.9h-0.9zM451.0 165.8h0.9v0.9h-0.9zM447.2 158.5h0.9v0.9h-0.9zM447.7 158.0h0.9v0.9h-0.9zM448.5 160.5h0.9v0.9h-0.9zM444.0 161.5h0.9v0.9h-0.9zM454.6 163.5h0.9v0.9h-0.9zM448.6 158.0h0.9v0.9h-0.9zM448.9 156.7h0.9v0.9h-0.9zM445.0 162.5h0.9v0.9h-0.9zM453.6 159.4h0.9v0.9h-0.9zM448.5 160.9h0.9v0.9h-0.9zM441.0 163.8h0.9v0.9h-0.9zM454.5 164.3h0.9v0.9h-0.9zM444.4 161.5h0.9v0.9h-0.9zM448.6 158.6h0.9v0.9h-0.9zM447.5 159.8h0.9v0.9h-0.9zM446.9 160.4h0.9v0.9h-0.9zM447.1 163.0h0.9v0.9h-0.9zM444.7 166.8h0.9v0.9h-0.9zM443.6 163.5h0.9v0.9h-0.9zM453.1 166.6h0.9v0.9h-0.9zM446.5 163.5h0.9v0.9h-0.9zM444.2 163.2h0.9v0.9h-0.9zM443.9 165.7h0.9v0.9h-0.9zM448.1 159.8h0.9v0.9h-0.9zM449.4 160.1h0.9v0.9h-0.9zM447.7 159.3h0.9v0.9h-0.9zM445.2 164.8h0.9v0.9h-0.9zM453.0 167.4h0.9v0.9h-0.9zM450.4 162.5h0.9v0.9h-0.9zM449.7 161.6h0.9v0.9h-0.9zM446.8 161.2h0.9v0.9h-0.9zM450.0 163.0h0.9v0.9h-0.9zM442.7 162.9h0.9v0.9h-0.9zM451.0 163.7h0.9v0.9h-0.9zM445.1 162.0h0.9v0.9h-0.9zM447.0 164.9h0.9v0.9h-0.9zM448.9 161.1h0.9v0.9h-0.9zM449.9 156.0h0.9v0.9h-0.9zM441.2 164.3h0.9v0.9h-0.9zM441.0 166.8h0.9v0.9h-0.9zM447.9 162.4h0.9v0.9h-0.9zM450.9 168.4h0.9v0.9h-0.9zM447.3 163.4h0.9v0.9h-0.9zM444.0 157.9h0.9v0.9h-0.9zM443.0 166.3h0.9v0.9h-0.9zM445.8 167.0h0.9v0.9h-0.9zM443.4 159.1h0.9v0.9h-0.9zM447.5 165.2h0.9v0.9h-0.9zM444.2 160.3h0.9v0.9h-0.9zM444.7 167.8h0.9v0.9h-0.9zM448.2 163.3h0.9v0.9h-0.9zM444.7 161.3h0.9v0.9h-0.9zM444.5 169.2h0.9v0.9h-0.9zM446.4 155.1h0.9v0.9h-0.9zM443.0 154.3h0.9v0.9h-0.9zM442.6 155.8h0.9v0.9h-0.9zM450.4 160.7h0.9v0.9h-0.9zM442.8 168.3h0.9v0.9h-0.9zM445.3 167.4h0.9v0.9h-0.9zM446.0 161.9h0.9v0.9h-0.9zM448.8 167.0h0.9v0.9h-0.9zM446.9 167.0h0.9v0.9h-0.9zM444.2 169.1h0.9v0.9h-0.9zM448.2 162.3h0.9v0.9h-0.9zM446.4 162.8h0.9v0.9h-0.9zM448.9 162.6h0.9v0.9h-0.9zM442.5 168.3h0.9v0.9h-0.9zM445.0 159.0h0.9v0.9h-0.9zM443.8 164.2h0.9v0.9h-0.9zM444.4 160.9h0.9v0.9h-0.9zM451.9 164.8h0.9v0.9h-0.9zM446.9 158.5h0.9v0.9h-0.9zM446.7 163.5h0.9v0.9h-0.9zM443.8 159.4h0.9v0.9h-0.9zM448.8 160.9h0.9v0.9h-0.9zM451.5 157.5h0.9v0.9h-0.9zM445.2 159.2h0.9v0.9h-0.9zM447.9 159.6h0.9v0.9h-0.9zM450.0 168.0h0.9v0.9h-0.9zM446.8 163.3h0.9v0.9h-0.9zM445.2 165.5h0.9v0.9h-0.9zM444.3 161.4h0.9v0.9h-0.9zM448.4 158.6h0.9v0.9h-0.9zM449.2 161.2h0.9v0.9h-0.9zM448.0 160.7h0.9v0.9h-0.9zM443.1 164.1h0.9v0.9h-0.9zM447.6 162.4h0.9v0.9h-0.9zM445.8 163.6h0.9v0.9h-0.9zM445.6 162.5h0.9v0.9h-0.9zM452.1 160.7h0.9v0.9h-0.9zM448.4 160.5h0.9v0.9h-0.9zM448.0 161.2h0.9v0.9h-0.9zM449.4 159.9h0.9v0.9h-0.9zM445.8 167.1h0.9v0.9h-0.9zM447.6 167.7h0.9v0.9h-0.9zM446.4 158.4h0.9v0.9h-0.9zM446.8 163.2h0.9v0.9h-0.9zM446.3 157.3h0.9v0.9h-0.9zM441.6 167.6h0.9v0.9h-0.9zM444.4 163.4h0.9v0.9h-0.9zM450.0 164.7h0.9v0.9h-0.9zM436.9 156.6h0.9v0.9h-0.9zM442.6 163.7h0.9v0.9h-0.9zM445.2 157.5h0.9v0.9h-0.9zM448.7 164.2h0.9v0.9h-0.9zM447.0 157.3h0.9v0.9h-0.9zM447.9 158.8h0.9v0.9h-0.9zM446.3 162.6h0.9v0.9h-0.9zM447.5 161.0h0.9v0.9h-0.9zM446.6 163.9h0.9v0.9h-0.9zM447.2 153.6h0.9v0.9h-0.9zM444.3 161.8h0.9v0.9h-0.9zM450.1 160.1h0.9v0.9h-0.9zM444.9 163.2h0.9v0.9h-0.9zM443.4 163.8h0.9v0.9h-0.9zM444.8 162.4h0.9v0.9h-0.9zM447.9 163.1h0.9v0.9h-0.9zM450.4 161.1h0.9v0.9h-0.9zM444.5 161.9h0.9v0.9h-0.9zM453.7 165.3h0.9v0.9h-0.9zM443.8 157.8h0.9v0.9h-0.9zM446.3 157.1h0.9v0.9h-0.9zM442.8 165.5h0.9v0.9h-0.9zM450.3 164.9h0.9v0.9h-0.9zM452.1 155.2h0.9v0.9h-0.9zM447.4 159.8h0.9v0.9h-0.9zM450.2 158.6h0.9v0.9h-0.9zM448.3 164.7h0.9v0.9h-0.9zM450.1 167.1h0.9v0.9h-0.9zM451.8 162.3h0.9v0.9h-0.9zM442.1 163.3h0.9v0.9h-0.9zM451.8 165.8h0.9v0.9h-0.9zM440.6 158.8h0.9v0.9h-0.9zM449.0 163.7h0.9v0.9h-0.9zM447.3 162.3h0.9v0.9h-0.9zM444.5 163.6h0.9v0.9h-0.9zM452.6 162.2h0.9v0.9h-0.9zM441.7 159.7h0.9v0.9h-0.9zM448.7 163.7h0.9v0.9h-0.9zM444.6 159.1h0.9v0.9h-0.9zM447.6 162.8h0.9v0.9h-0.9zM447.5 161.9h0.9v0.9h-0.9zM446.9 159.6h0.9v0.9h-0.9zM441.0 157.8h0.9v0.9h-0.9zM445.8 164.4h0.9v0.9h-0.9zM444.2 168.6h0.9v0.9h-0.9zM446.5 159.3h0.9v0.9h-0.9zM449.4 165.9h0.9v0.9h-0.9zM451.8 164.8h0.9v0.9h-0.9zM448.8 160.8h0.9v0.9h-0.9zM447.6 163.0h0.9v0.9h-0.9zM444.8 163.4h0.9v0.9h-0.9zM441.2 159.7h0.9v0.9h-0.9zM445.6 162.1h0.9v0.9h-0.9zM448.5 163.2h0.9v0.9h-0.9zM448.0 157.2h0.9v0.9h-0.9zM453.9 160.3h0.9v0.9h-0.9zM450.9 162.8h0.9v0.9h-0.9zM447.5 161.1h0.9v0.9h-0.9zM446.8 156.6h0.9v0.9h-0.9zM445.8 169.1h0.9v0.9h-0.9zM449.2 160.0h0.9v0.9h-0.9zM445.7 160.3h0.9v0.9h-0.9zM446.4 166.2h0.9v0.9h-0.9zM448.6 160.1h0.9v0.9h-0.9zM450.0 186.5h0.9v0.9h-0.9zM447.3 183.7h0.9v0.9h-0.9zM437.5 184.5h0.9v0.9h-0.9zM447.5 191.1h0.9v0.9h-0.9zM446.1 184.9h0.9v0.9h-0.9zM447.2 178.2h0.9v0.9h-0.9zM442.1 191.7h0.9v0.9h-0.9zM443.2 192.5h0.9v0.9h-0.9zM450.2 178.7h0.9v0.9h-0.9zM446.2 186.8h0.9v0.9h-0.9zM449.8 184.6h0.9v0.9h-0.9zM450.9 188.2h0.9v0.9h-0.9zM450.8 188.0h0.9v0.9h-0.9zM446.4 178.5h0.9v0.9h-0.9zM451.5 168.3h0.9v0.9h-0.9zM443.5 192.9h0.9v0.9h-0.9zM449.4 166.9h0.9v0.9h-0.9zM445.5 188.1h0.9v0.9h-0.9zM445.3 175.9h0.9v0.9h-0.9zM445.5 191.3h0.9v0.9h-0.9zM447.5 178.2h0.9v0.9h-0.9zM454.3 178.4h0.9v0.9h-0.9zM443.7 191.1h0.9v0.9h-0.9zM444.2 182.3h0.9v0.9h-0.9zM444.1 185.9h0.9v0.9h-0.9zM454.6 184.5h0.9v0.9h-0.9zM444.0 177.6h0.9v0.9h-0.9zM446.7 191.5h0.9v0.9h-0.9zM442.9 183.2h0.9v0.9h-0.9zM447.3 182.1h0.9v0.9h-0.9zM443.0 192.6h0.9v0.9h-0.9zM450.6 184.1h0.9v0.9h-0.9zM438.7 190.3h0.9v0.9h-0.9zM447.0 191.9h0.9v0.9h-0.9zM447.0 194.8h0.9v0.9h-0.9zM448.5 190.3h0.9v0.9h-0.9zM446.8 174.6h0.9v0.9h-0.9zM448.3 184.6h0.9v0.9h-0.9zM446.9 194.4h0.9v0.9h-0.9zM442.9 180.5h0.9v0.9h-0.9zM448.9 181.0h0.9v0.9h-0.9zM444.2 183.2h0.9v0.9h-0.9zM448.2 184.4h0.9v0.9h-0.9zM446.6 197.6h0.9v0.9h-0.9zM447.9 190.7h0.9v0.9h-0.9zM445.7 183.5h0.9v0.9h-0.9zM440.6 185.1h0.9v0.9h-0.9zM443.9 186.9h0.9v0.9h-0.9zM447.7 189.2h0.9v0.9h-0.9zM444.5 167.8h0.9v0.9h-0.9zM444.3 181.3h0.9v0.9h-0.9zM444.7 185.4h0.9v0.9h-0.9zM443.3 188.4h0.9v0.9h-0.9zM443.5 175.3h0.9v0.9h-0.9zM447.2 186.0h0.9v0.9h-0.9zM447.3 194.6h0.9v0.9h-0.9zM440.4 184.6h0.9v0.9h-0.9zM441.3 188.3h0.9v0.9h-0.9zM441.0 165.4h0.9v0.9h-0.9zM450.5 177.8h0.9v0.9h-0.9zM443.8 189.6h0.9v0.9h-0.9zM449.1 187.7h0.9v0.9h-0.9zM444.8 179.5h0.9v0.9h-0.9zM446.7 181.5h0.9v0.9h-0.9zM447.0 179.2h0.9v0.9h-0.9zM447.4 173.4h0.9v0.9h-0.9zM446.5 192.1h0.9v0.9h-0.9zM446.5 186.3h0.9v0.9h-0.9zM454.0 187.0h0.9v0.9h-0.9zM443.1 186.9h0.9v0.9h-0.9zM450.7 182.8h0.9v0.9h-0.9zM439.8 184.1h0.9v0.9h-0.9zM441.4 184.4h0.9v0.9h-0.9zM445.6 191.5h0.9v0.9h-0.9zM445.9 192.8h0.9v0.9h-0.9zM444.8 183.0h0.9v0.9h-0.9zM442.5 181.6h0.9v0.9h-0.9zM448.8 194.4h0.9v0.9h-0.9zM443.9 174.0h0.9v0.9h-0.9zM449.0 179.2h0.9v0.9h-0.9zM443.2 184.2h0.9v0.9h-0.9zM449.3 189.3h0.9v0.9h-0.9zM444.8 174.6h0.9v0.9h-0.9zM445.9 195.7h0.9v0.9h-0.9zM446.4 192.0h0.9v0.9h-0.9zM446.2 184.8h0.9v0.9h-0.9zM446.5 186.7h0.9v0.9h-0.9zM454.6 188.5h0.9v0.9h-0.9zM445.7 186.9h0.9v0.9h-0.9zM446.9 189.1h0.9v0.9h-0.9zM449.0 193.4h0.9v0.9h-0.9zM446.9 171.0h0.9v0.9h-0.9zM449.0 189.2h0.9v0.9h-0.9zM451.1 168.1h0.9v0.9h-0.9zM448.8 168.8h0.9v0.9h-0.9zM446.2 184.3h0.9v0.9h-0.9zM449.1 170.4h0.9v0.9h-0.9zM448.7 173.6h0.9v0.9h-0.9zM444.3 181.6h0.9v0.9h-0.9zM447.9 183.2h0.9v0.9h-0.9z" fill="#000" fill-opacity="0.72"/>
<rect x="411.0" y="126.9" width="77.10000000000002" height="72.0" fill="none" stroke="#444" stroke-width="1.0" />
<path d="M411.0 198.9v2.2M411.0 198.9h-2.2M416.8 198.9v1.3M411.0 193.5h-1.3M420.2 198.9v1.3M411.0 190.3h-1.3M422.6 198.9v1.3M411.0 188.1h-1.3M424.5 198.9v1.3M411.0 186.3h-1.3M426.0 198.9v1.3M411.0 184.9h-1.3M427.3 198.9v1.3M411.0 183.7h-1.3M428.4 198.9v1.3M411.0 182.6h-1.3M429.4 198.9v1.3M411.0 181.7h-1.3M430.3 198.9v2.2M411.0 180.9h-2.2M436.1 198.9v1.3M411.0 175.5h-1.3M439.5 198.9v1.3M411.0 172.3h-1.3M441.9 198.9v1.3M411.0 170.1h-1.3M443.7 198.9v1.3M411.0 168.3h-1.3M445.3 198.9v1.3M411.0 166.9h-1.3M446.6 198.9v1.3M411.0 165.7h-1.3M447.7 198.9v1.3M411.0 164.6h-1.3M448.7 198.9v1.3M411.0 163.7h-1.3M449.6 198.9v2.2M411.0 162.9h-2.2M455.4 198.9v1.3M411.0 157.5h-1.3M458.7 198.9v1.3M411.0 154.3h-1.3M461.2 198.9v1.3M411.0 152.1h-1.3M463.0 198.9v1.3M411.0 150.3h-1.3M464.5 198.9v1.3M411.0 148.9h-1.3M465.8 198.9v1.3M411.0 147.7h-1.3M467.0 198.9v1.3M411.0 146.6h-1.3M467.9 198.9v1.3M411.0 145.7h-1.3M468.8 198.9v2.2M411.0 144.9h-2.2M474.6 198.9v1.3M411.0 139.5h-1.3M478.0 198.9v1.3M411.0 136.3h-1.3M480.4 198.9v1.3M411.0 134.1h-1.3M482.3 198.9v1.3M411.0 132.3h-1.3M483.8 198.9v1.3M411.0 130.9h-1.3M485.1 198.9v1.3M411.0 129.7h-1.3M486.2 198.9v1.3M411.0 128.6h-1.3M487.2 198.9v1.3M411.0 127.7h-1.3M488.1 198.9v2.2M411.0 126.9h-2.2" stroke="#000" stroke-width="0.6" fill="none"/>
<text x="412.225" y="205.025" font-size="4.9" text-anchor="middle" stroke="none">10<tspan font-size="3.53" dy="-2.06">0</tspan></text>
<text x="431.5" y="205.025" font-size="4.9" text-anchor="middle" stroke="none">10<tspan font-size="3.53" dy="-2.06">1</tspan></text>
<text x="450.77500000000003" y="205.025" font-size="4.9" text-anchor="middle" stroke="none">10<tspan font-size="3.53" dy="-2.06">2</tspan></text>
<text x="470.05000000000007" y="205.025" font-size="4.9" text-anchor="middle" stroke="none">10<tspan font-size="3.53" dy="-2.06">3</tspan></text>
<text x="489.32500000000005" y="205.025" font-size="4.9" text-anchor="middle" stroke="none">10<tspan font-size="3.53" dy="-2.06">4</tspan></text>
<text transform="translate(407.325,197.92000000000002) rotate(-90)" font-size="4.9" text-anchor="middle" stroke="none">10<tspan font-size="3.53" dy="-2.06">0</tspan></text>
<text transform="translate(407.325,179.92000000000002) rotate(-90)" font-size="4.9" text-anchor="middle" stroke="none">10<tspan font-size="3.53" dy="-2.06">1</tspan></text>
<text transform="translate(407.325,161.92000000000002) rotate(-90)" font-size="4.9" text-anchor="middle" stroke="none">10<tspan font-size="3.53" dy="-2.06">2</tspan></text>
<text transform="translate(407.325,143.92000000000002) rotate(-90)" font-size="4.9" text-anchor="middle" stroke="none">10<tspan font-size="3.53" dy="-2.06">3</tspan></text>
<text transform="translate(407.325,125.92) rotate(-90)" font-size="4.9" text-anchor="middle" stroke="none">10<tspan font-size="3.53" dy="-2.06">4</tspan></text>
<text x="450.05" y="210.41500000000002" font-size="4.655" text-anchor="middle" fill="#000" stroke="none">FL1-H</text>
<text transform="translate(401.69,163.9) rotate(-90)" font-size="4.655" text-anchor="middle" fill="#000" stroke="none">FL2-H</text>
<line x1="435.8" y1="126.9" x2="435.8" y2="198.9" stroke="#333" stroke-width="1.0" />
<line x1="411.0" y1="174.8" x2="488.1" y2="174.8" stroke="#333" stroke-width="1.0" />
<text x="0.2" y="266.8" font-size="18.2" font-weight="bold" text-anchor="start" fill="#000"  stroke="#000" stroke-width="0.25">C</text>
<text x="0.6" y="283.8" font-size="13.0" font-weight="bold" text-anchor="start" fill="#000"  stroke="#000" stroke-width="0.25">(%)</text>
<text x="16.0" y="428.2" font-size="9.5" font-weight="bold" text-anchor="end" fill="#000"  stroke="#000" stroke-width="0.25">0</text>
<text x="16.0" y="412.34999999999997" font-size="9.5" font-weight="bold" text-anchor="end" fill="#000"  stroke="#000" stroke-width="0.25">10</text>
<line x1="24" y1="408.95" x2="27.5" y2="408.95" stroke="#c8c8c8" stroke-width="0.8" />
<text x="16.0" y="396.5" font-size="9.5" font-weight="bold" text-anchor="end" fill="#000"  stroke="#000" stroke-width="0.25">20</text>
<line x1="24" y1="393.1" x2="27.5" y2="393.1" stroke="#c8c8c8" stroke-width="0.8" />
<text x="16.0" y="380.65" font-size="9.5" font-weight="bold" text-anchor="end" fill="#000"  stroke="#000" stroke-width="0.25">30</text>
<line x1="24" y1="377.25" x2="27.5" y2="377.25" stroke="#c8c8c8" stroke-width="0.8" />
<text x="16.0" y="364.8" font-size="9.5" font-weight="bold" text-anchor="end" fill="#000"  stroke="#000" stroke-width="0.25">40</text>
<line x1="24" y1="361.40000000000003" x2="27.5" y2="361.40000000000003" stroke="#c8c8c8" stroke-width="0.8" />
<text x="16.0" y="348.95" font-size="9.5" font-weight="bold" text-anchor="end" fill="#000"  stroke="#000" stroke-width="0.25">50</text>
<line x1="24" y1="345.55" x2="27.5" y2="345.55" stroke="#c8c8c8" stroke-width="0.8" />
<text x="16.0" y="333.1" font-size="9.5" font-weight="bold" text-anchor="end" fill="#000"  stroke="#000" stroke-width="0.25">60</text>
<line x1="24" y1="329.70000000000005" x2="27.5" y2="329.70000000000005" stroke="#c8c8c8" stroke-width="0.8" />
<text x="16.0" y="317.25" font-size="9.5" font-weight="bold" text-anchor="end" fill="#000"  stroke="#000" stroke-width="0.25">70</text>
<line x1="24" y1="313.85" x2="27.5" y2="313.85" stroke="#c8c8c8" stroke-width="0.8" />
<text x="16.0" y="301.4" font-size="9.5" font-weight="bold" text-anchor="end" fill="#000"  stroke="#000" stroke-width="0.25">80</text>
<line x1="24" y1="298.0" x2="27.5" y2="298.0" stroke="#c8c8c8" stroke-width="0.8" />
<line x1="24" y1="298.0" x2="24" y2="424.8" stroke="#c8c8c8" stroke-width="1.0" />
<line x1="24" y1="424.8" x2="191" y2="424.8" stroke="#bbb" stroke-width="1.0" />
<rect x="38.8" y="383.1145" width="20" height="41.68549999999999" fill="#fff" stroke="#444" stroke-width="1.0" />
<rect x="58.8" y="333.6625" width="19.3" height="91.13749999999999" fill="#cfcfcf" stroke="#444" stroke-width="1.0" />
<rect x="78.1" y="324.31100000000004" width="20.2" height="100.48899999999998" fill="#1a1a1a" stroke="#1a1a1a" stroke-width="1.0" />
<line x1="48.6" y1="359.815" x2="48.6" y2="406.414" stroke="#000" stroke-width="1.2" />
<line x1="46.4" y1="359.815" x2="50.800000000000004" y2="359.815" stroke="#000" stroke-width="1.2" />
<line x1="46.4" y1="406.414" x2="50.800000000000004" y2="406.414" stroke="#000" stroke-width="1.2" />
<line x1="69.0" y1="324.15250000000003" x2="69.0" y2="343.1725" stroke="#000" stroke-width="1.2" />
<line x1="66.8" y1="324.15250000000003" x2="71.2" y2="324.15250000000003" stroke="#000" stroke-width="1.2" />
<line x1="66.8" y1="343.1725" x2="71.2" y2="343.1725" stroke="#000" stroke-width="1.2" />
<line x1="88.7" y1="315.435" x2="88.7" y2="332.0775" stroke="#444" stroke-width="1.2" />
<line x1="86.5" y1="315.435" x2="90.9" y2="315.435" stroke="#444" stroke-width="1.2" />
<line x1="86.5" y1="332.0775" x2="90.9" y2="332.0775" stroke="#444" stroke-width="1.2" />
<rect x="128" y="387.5525" width="19.5" height="37.2475" fill="#fff" stroke="#444" stroke-width="1.0" />
<rect x="147.5" y="360.6075" width="20" height="64.1925" fill="#cfcfcf" stroke="#444" stroke-width="1.0" />
<rect x="167.5" y="327.3225" width="19.4" height="97.47750000000002" fill="#1a1a1a" stroke="#1a1a1a" stroke-width="1.0" />
<line x1="138" y1="361.71700000000004" x2="138" y2="413.38800000000003" stroke="#000" stroke-width="1.2" />
<line x1="135.8" y1="361.71700000000004" x2="140.2" y2="361.71700000000004" stroke="#000" stroke-width="1.2" />
<line x1="135.8" y1="413.38800000000003" x2="140.2" y2="413.38800000000003" stroke="#000" stroke-width="1.2" />
<line x1="157.6" y1="349.03700000000003" x2="157.6" y2="372.495" stroke="#000" stroke-width="1.2" />
<line x1="155.4" y1="349.03700000000003" x2="159.79999999999998" y2="349.03700000000003" stroke="#000" stroke-width="1.2" />
<line x1="155.4" y1="372.495" x2="159.79999999999998" y2="372.495" stroke="#000" stroke-width="1.2" />
<line x1="177.5" y1="319.873" x2="177.5" y2="334.45500000000004" stroke="#444" stroke-width="1.2" />
<line x1="175.3" y1="319.873" x2="179.7" y2="319.873" stroke="#444" stroke-width="1.2" />
<line x1="175.3" y1="334.45500000000004" x2="179.7" y2="334.45500000000004" stroke="#444" stroke-width="1.2" />
<path d="M49.2 360.4V302.3H67.7V316" fill="none" stroke="#000" stroke-width="1.2"/>
<path d="M58.60 293.00L58.60 298.80M56.09 294.45L61.11 297.35M56.09 297.35L61.11 294.45" stroke="#000" stroke-width="1.0" fill="none"/>
<text x="67.3" y="442.4" font-size="10.3" font-weight="bold" text-anchor="middle" fill="#000"  stroke="#000" stroke-width="0.25">4</text>
<text x="155.9" y="442.4" font-size="10.3" font-weight="bold" text-anchor="middle" fill="#000"  stroke="#000" stroke-width="0.25">7</text>
<text x="111.7" y="455.8" font-size="10.0" font-weight="bold" text-anchor="middle" fill="#000"  textLength="65" lengthAdjust="spacingAndGlyphs" stroke="#000" stroke-width="0.25">Weeks of age</text>
<rect x="97.4" y="279.3" width="14.7" height="7" fill="#fff" stroke="#333" stroke-width="1.0" />
<text x="115.6" y="286.6" font-size="10.4" text-anchor="start" fill="#000"  textLength="64.5" lengthAdjust="spacingAndGlyphs" stroke="#000" stroke-width="0.25">Control FW-wt</text>
<rect x="97.4" y="290.6" width="14.7" height="7" fill="#cfcfcf" stroke="#333" stroke-width="1.0" />
<text x="115.6" y="297.90000000000003" font-size="10.4" text-anchor="start" fill="#000"  textLength="82.7" lengthAdjust="spacingAndGlyphs" stroke="#000" stroke-width="0.25">Immunized FW-wt</text>
<rect x="97.4" y="301.90000000000003" width="14.7" height="7" fill="#1a1a1a" stroke="#333" stroke-width="1.0" />
<text x="116.8" y="309.20000000000005" font-size="10.4" text-anchor="start" fill="#000"  textLength="29.5" lengthAdjust="spacingAndGlyphs" stroke="#000" stroke-width="0.25">FW-pX</text>
<text x="219.8" y="266.8" font-size="18.2" font-weight="bold" text-anchor="start" fill="#000"  textLength="14.3" lengthAdjust="spacingAndGlyphs" stroke="#000" stroke-width="0.25">D</text>
<text x="220.6" y="281.8" font-size="10.0" font-weight="bold" text-anchor="start" fill="#000"  stroke="#000" stroke-width="0.25">(%)</text>
<text x="230.4" y="403.7" font-size="8.2" font-weight="bold" text-anchor="end" fill="#000"  stroke="#000" stroke-width="0.25">0</text>
<text x="230.4" y="381.9" font-size="8.2" font-weight="bold" text-anchor="end" fill="#000"  stroke="#000" stroke-width="0.25">10</text>
<line x1="235.8" y1="379.0" x2="238.2" y2="379.0" stroke="#bbb" stroke-width="0.8" />
<text x="230.4" y="360.09999999999997" font-size="8.2" font-weight="bold" text-anchor="end" fill="#000"  stroke="#000" stroke-width="0.25">20</text>
<line x1="235.8" y1="357.2" x2="238.2" y2="357.2" stroke="#bbb" stroke-width="0.8" />
<text x="230.4" y="338.29999999999995" font-size="8.2" font-weight="bold" text-anchor="end" fill="#000"  stroke="#000" stroke-width="0.25">30</text>
<line x1="235.8" y1="335.4" x2="238.2" y2="335.4" stroke="#bbb" stroke-width="0.8" />
<text x="230.4" y="316.5" font-size="8.2" font-weight="bold" text-anchor="end" fill="#000"  stroke="#000" stroke-width="0.25">40</text>
<line x1="235.8" y1="313.6" x2="238.2" y2="313.6" stroke="#bbb" stroke-width="0.8" />
<text x="230.4" y="294.7" font-size="8.2" font-weight="bold" text-anchor="end" fill="#000"  stroke="#000" stroke-width="0.25">50</text>
<line x1="235.8" y1="291.8" x2="238.2" y2="291.8" stroke="#bbb" stroke-width="0.8" />
<line x1="238.2" y1="291.8" x2="238.2" y2="400.8" stroke="#c8c8c8" stroke-width="1.0" />
<rect x="240.2" y="373.986" width="25" height="26.81400000000002" fill="#a8a8a8" stroke="#555" stroke-width="1.0" />
<line x1="252.79999999999998" y1="372.024" x2="252.79999999999998" y2="375.948" stroke="#000" stroke-width="1.1" />
<line x1="250.79999999999998" y1="372.024" x2="254.79999999999998" y2="372.024" stroke="#000" stroke-width="1.1" />
<line x1="250.79999999999998" y1="375.948" x2="254.79999999999998" y2="375.948" stroke="#000" stroke-width="1.1" />
<rect x="272.0" y="356.982" width="25" height="43.817999999999984" fill="#a8a8a8" stroke="#555" stroke-width="1.0" />
<line x1="284.6" y1="354.366" x2="284.6" y2="359.38" stroke="#000" stroke-width="1.1" />
<line x1="282.6" y1="354.366" x2="286.6" y2="354.366" stroke="#000" stroke-width="1.1" />
<line x1="282.6" y1="359.38" x2="286.6" y2="359.38" stroke="#000" stroke-width="1.1" />
<rect x="304.4" y="327.116" width="25" height="73.68400000000003" fill="#a8a8a8" stroke="#555" stroke-width="1.0" />
<line x1="317.0" y1="322.102" x2="317.0" y2="333.22" stroke="#000" stroke-width="1.1" />
<line x1="315.0" y1="322.102" x2="319.0" y2="322.102" stroke="#000" stroke-width="1.1" />
<line x1="315.0" y1="333.22" x2="319.0" y2="333.22" stroke="#000" stroke-width="1.1" />
<rect x="336.2" y="308.15" width="25" height="92.65000000000003" fill="#a8a8a8" stroke="#555" stroke-width="1.0" />
<line x1="348.8" y1="303.79" x2="348.8" y2="314.036" stroke="#000" stroke-width="1.1" />
<line x1="346.8" y1="303.79" x2="350.8" y2="303.79" stroke="#000" stroke-width="1.1" />
<line x1="346.8" y1="314.036" x2="350.8" y2="314.036" stroke="#000" stroke-width="1.1" />
<path d="M253.8 363.8V335H282.8V348.8" fill="none" stroke="#000" stroke-width="1.2"/>
<path d="M281 325.5V303.5H318V310.6" fill="none" stroke="#000" stroke-width="1.2"/>
<path d="M314 293.8V279.4H351.2V286.5" fill="none" stroke="#000" stroke-width="1.2"/>
<path d="M269.50 325.10L269.50 330.90M266.99 326.55L272.01 329.45M266.99 329.45L272.01 326.55" stroke="#000" stroke-width="1.0" fill="none"/>
<path d="M300.00 292.70L300.00 298.50M297.49 294.15L302.51 297.05M297.49 297.05L302.51 294.15" stroke="#000" stroke-width="1.0" fill="none"/>
<path d="M330.80 268.60L330.80 274.40M328.29 270.05L333.31 272.95M328.29 272.95L333.31 270.05" stroke="#000" stroke-width="1.0" fill="none"/>
<text x="207.0" y="424.2" font-size="9.6" text-anchor="start" fill="#000"  textLength="15.3" lengthAdjust="spacingAndGlyphs" stroke="#000" stroke-width="0.25">FIA</text>
<text x="207.0" y="445.3" font-size="9.8" text-anchor="start" fill="#000"  textLength="35.0" lengthAdjust="spacingAndGlyphs" stroke="#000" stroke-width="0.25">Killed G</text>
<text x="207.0" y="463.6" font-size="9.6" text-anchor="start" fill="#000"  textLength="33.3" lengthAdjust="spacingAndGlyphs" stroke="#000" stroke-width="0.25">Myosin</text>
<line x1="249.3" y1="419.6" x2="257.3" y2="419.6" stroke="#000" stroke-width="1.3" />
<line x1="279.7" y1="416.9" x2="285.7" y2="416.9" stroke="#000" stroke-width="1.3" />
<line x1="282.7" y1="413.9" x2="282.7" y2="419.9" stroke="#000" stroke-width="1.3" />
<line x1="313.6" y1="416.9" x2="319.6" y2="416.9" stroke="#000" stroke-width="1.3" />
<line x1="316.6" y1="413.9" x2="316.6" y2="419.9" stroke="#000" stroke-width="1.3" />
<line x1="344.2" y1="416.9" x2="350.2" y2="416.9" stroke="#000" stroke-width="1.3" />
<line x1="347.2" y1="413.9" x2="347.2" y2="419.9" stroke="#000" stroke-width="1.3" />
<line x1="249.3" y1="441.0" x2="257.3" y2="441.0" stroke="#000" stroke-width="1.3" />
<line x1="279.90000000000003" y1="440.4" x2="289.3" y2="440.4" stroke="#000" stroke-width="1.3" />
<line x1="314.2" y1="439.7" x2="320.2" y2="439.7" stroke="#000" stroke-width="1.3" />
<line x1="317.2" y1="436.7" x2="317.2" y2="442.7" stroke="#000" stroke-width="1.3" />
<line x1="344.2" y1="439.7" x2="350.2" y2="439.7" stroke="#000" stroke-width="1.3" />
<line x1="347.2" y1="436.7" x2="347.2" y2="442.7" stroke="#000" stroke-width="1.3" />
<line x1="249.3" y1="462.9" x2="257.3" y2="462.9" stroke="#000" stroke-width="1.3" />
<line x1="279.90000000000003" y1="462.6" x2="289.3" y2="462.6" stroke="#000" stroke-width="1.3" />
<line x1="314.4" y1="462.6" x2="323.6" y2="462.6" stroke="#000" stroke-width="1.3" />
<line x1="344.2" y1="462.8" x2="350.2" y2="462.8" stroke="#000" stroke-width="1.3" />
<line x1="347.2" y1="459.8" x2="347.2" y2="465.8" stroke="#000" stroke-width="1.3" />
<text x="380.3" y="266.9" font-size="18.2" font-weight="bold" text-anchor="start" fill="#000"  textLength="13.2" lengthAdjust="spacingAndGlyphs" stroke="#000" stroke-width="0.25">E</text>
<text x="380.8" y="282.8" font-size="10.0" font-weight="bold" text-anchor="start" fill="#000"  stroke="#000" stroke-width="0.25">(%)</text>
<text x="390.3" y="398.29999999999995" font-size="8.2" font-weight="bold" text-anchor="end" fill="#000"  stroke="#000" stroke-width="0.25">0</text>
<text x="390.3" y="381.4" font-size="8.2" font-weight="bold" text-anchor="end" fill="#000"  stroke="#000" stroke-width="0.25">10</text>
<line x1="395.5" y1="378.5" x2="397.3" y2="378.5" stroke="#bbb" stroke-width="0.8" />
<text x="390.3" y="364.49999999999994" font-size="8.2" font-weight="bold" text-anchor="end" fill="#000"  stroke="#000" stroke-width="0.25">20</text>
<line x1="395.5" y1="361.59999999999997" x2="397.3" y2="361.59999999999997" stroke="#bbb" stroke-width="0.8" />
<text x="390.3" y="347.59999999999997" font-size="8.2" font-weight="bold" text-anchor="end" fill="#000"  stroke="#000" stroke-width="0.25">30</text>
<line x1="395.5" y1="344.7" x2="397.3" y2="344.7" stroke="#bbb" stroke-width="0.8" />
<text x="390.3" y="330.69999999999993" font-size="8.2" font-weight="bold" text-anchor="end" fill="#000"  stroke="#000" stroke-width="0.25">40</text>
<line x1="395.5" y1="327.79999999999995" x2="397.3" y2="327.79999999999995" stroke="#bbb" stroke-width="0.8" />
<text x="390.3" y="313.79999999999995" font-size="8.2" font-weight="bold" text-anchor="end" fill="#000"  stroke="#000" stroke-width="0.25">50</text>
<line x1="395.5" y1="310.9" x2="397.3" y2="310.9" stroke="#bbb" stroke-width="0.8" />
<text x="390.3" y="296.9" font-size="8.2" font-weight="bold" text-anchor="end" fill="#000"  stroke="#000" stroke-width="0.25">60</text>
<line x1="395.5" y1="294.0" x2="397.3" y2="294.0" stroke="#bbb" stroke-width="0.8" />
<line x1="397.3" y1="294.0" x2="397.3" y2="395.4" stroke="#bbb" stroke-width="1.0" />
<line x1="396" y1="395.4" x2="514" y2="395.4" stroke="#222" stroke-width="1.1" />
<polyline points="407.5,368.0 432.6,367.9 456.5,350.1 480.5,320.5 505.0,311.2" fill="none" stroke="#000" stroke-width="1.3"/>
<line x1="407.5" y1="362.445" x2="407.5" y2="373.092" stroke="#000" stroke-width="0.9" />
<line x1="405.7" y1="362.445" x2="409.3" y2="362.445" stroke="#000" stroke-width="0.9" />
<line x1="405.7" y1="373.092" x2="409.3" y2="373.092" stroke="#000" stroke-width="0.9" />
<path d="M407.5 364.722L410.8 368.022L407.5 371.322L404.2 368.022z" fill="#000"/>
<line x1="432.6" y1="360.755" x2="432.6" y2="373.768" stroke="#000" stroke-width="0.9" />
<line x1="430.8" y1="360.755" x2="434.40000000000003" y2="360.755" stroke="#000" stroke-width="0.9" />
<line x1="430.8" y1="373.768" x2="434.40000000000003" y2="373.768" stroke="#000" stroke-width="0.9" />
<path d="M432.6 364.55299999999994L435.90000000000003 367.85299999999995L432.6 371.15299999999996L429.3 367.85299999999995z" fill="#000"/>
<line x1="456.5" y1="345.54499999999996" x2="456.5" y2="355.51599999999996" stroke="#000" stroke-width="0.9" />
<line x1="454.7" y1="345.54499999999996" x2="458.3" y2="345.54499999999996" stroke="#000" stroke-width="0.9" />
<line x1="454.7" y1="355.51599999999996" x2="458.3" y2="355.51599999999996" stroke="#000" stroke-width="0.9" />
<path d="M456.5 346.80799999999994L459.8 350.10799999999995L456.5 353.40799999999996L453.2 350.10799999999995z" fill="#000"/>
<line x1="480.5" y1="315.96999999999997" x2="480.5" y2="325.265" stroke="#000" stroke-width="0.9" />
<line x1="478.7" y1="315.96999999999997" x2="482.3" y2="315.96999999999997" stroke="#000" stroke-width="0.9" />
<line x1="478.7" y1="325.265" x2="482.3" y2="325.265" stroke="#000" stroke-width="0.9" />
<path d="M480.5 317.233L483.8 320.533L480.5 323.833L477.2 320.533z" fill="#000"/>
<line x1="505.0" y1="299.91499999999996" x2="505.0" y2="322.72999999999996" stroke="#000" stroke-width="0.9" />
<line x1="503.2" y1="299.91499999999996" x2="506.8" y2="299.91499999999996" stroke="#000" stroke-width="0.9" />
<line x1="503.2" y1="322.72999999999996" x2="506.8" y2="322.72999999999996" stroke="#000" stroke-width="0.9" />
<path d="M505.0 307.938L508.3 311.238L505.0 314.538L501.7 311.238z" fill="#000"/>
<path d="M456.50 335.90L456.50 341.30M454.16 337.25L458.84 339.95M454.16 339.95L458.84 337.25" stroke="#000" stroke-width="0.9" fill="none"/>
<path d="M480.50 307.10L480.50 312.50M478.16 308.45L482.84 311.15M478.16 311.15L482.84 308.45" stroke="#000" stroke-width="0.9" fill="none"/>
<path d="M505.00 292.30L505.00 297.70M502.66 293.65L507.34 296.35M502.66 296.35L507.34 293.65" stroke="#000" stroke-width="0.9" fill="none"/>
<path d="M478.7 354.8L481.3 359.2L476.1 359.2z" fill="none" stroke="#000" stroke-width="1.0"/>
<circle cx="478.7" cy="364.2" r="2.5" fill="none" stroke="#000" stroke-width="1.0"/>
<text x="408" y="409.2" font-size="9.2" text-anchor="middle" fill="#000"  stroke="#000" stroke-width="0.25">0</text>
<text x="433.6" y="409.2" font-size="9.2" text-anchor="middle" fill="#000"  stroke="#000" stroke-width="0.25">1</text>
<text x="456.7" y="409.2" font-size="9.2" text-anchor="middle" fill="#000"  textLength="9.8" lengthAdjust="spacingAndGlyphs" stroke="#000" stroke-width="0.25">10</text>
<text x="480.5" y="409.2" font-size="9.2" text-anchor="middle" fill="#000"  textLength="16.5" lengthAdjust="spacingAndGlyphs" stroke="#000" stroke-width="0.25">100</text>
<text x="503.1" y="409.2" font-size="9.2" text-anchor="middle" fill="#000"  textLength="16.2" lengthAdjust="spacingAndGlyphs" stroke="#000" stroke-width="0.25">500</text>
<text x="459.3" y="420.8" font-size="9.4" font-weight="bold" text-anchor="middle" fill="#000"  textLength="108" lengthAdjust="spacingAndGlyphs" stroke="#000" stroke-width="0.25">Concentration (ng/mL)</text>
<rect x="443.4" y="431.5" width="66" height="41.2" fill="#fff" stroke="#000" stroke-width="1.0" />
<path d="M453.3 438.0L456.2 440.9L453.3 443.8L450.4 440.9z" fill="#000"/>
<text x="460.4" y="444.5" font-size="10.0" text-anchor="start" fill="#000"  textLength="40" lengthAdjust="spacingAndGlyphs" stroke="#000" stroke-width="0.25">GM-CSF</text>
<path d="M453.0 449.7L455.3 454.0L450.7 454.0z" fill="none" stroke="#000" stroke-width="1.0"/>
<text x="460.6" y="456.0" font-size="10.0" text-anchor="start" fill="#000"  textLength="23.3" lengthAdjust="spacingAndGlyphs" stroke="#000" stroke-width="0.25">IL-12</text>
<circle cx="452.9" cy="462.5" r="2.5" fill="none" stroke="#000" stroke-width="1.0"/>
<text x="461.3" y="466.4" font-size="10.0" text-anchor="start" fill="#000"  textLength="41" lengthAdjust="spacingAndGlyphs" stroke="#000" stroke-width="0.25">RANTES</text>
</svg></body></html>
